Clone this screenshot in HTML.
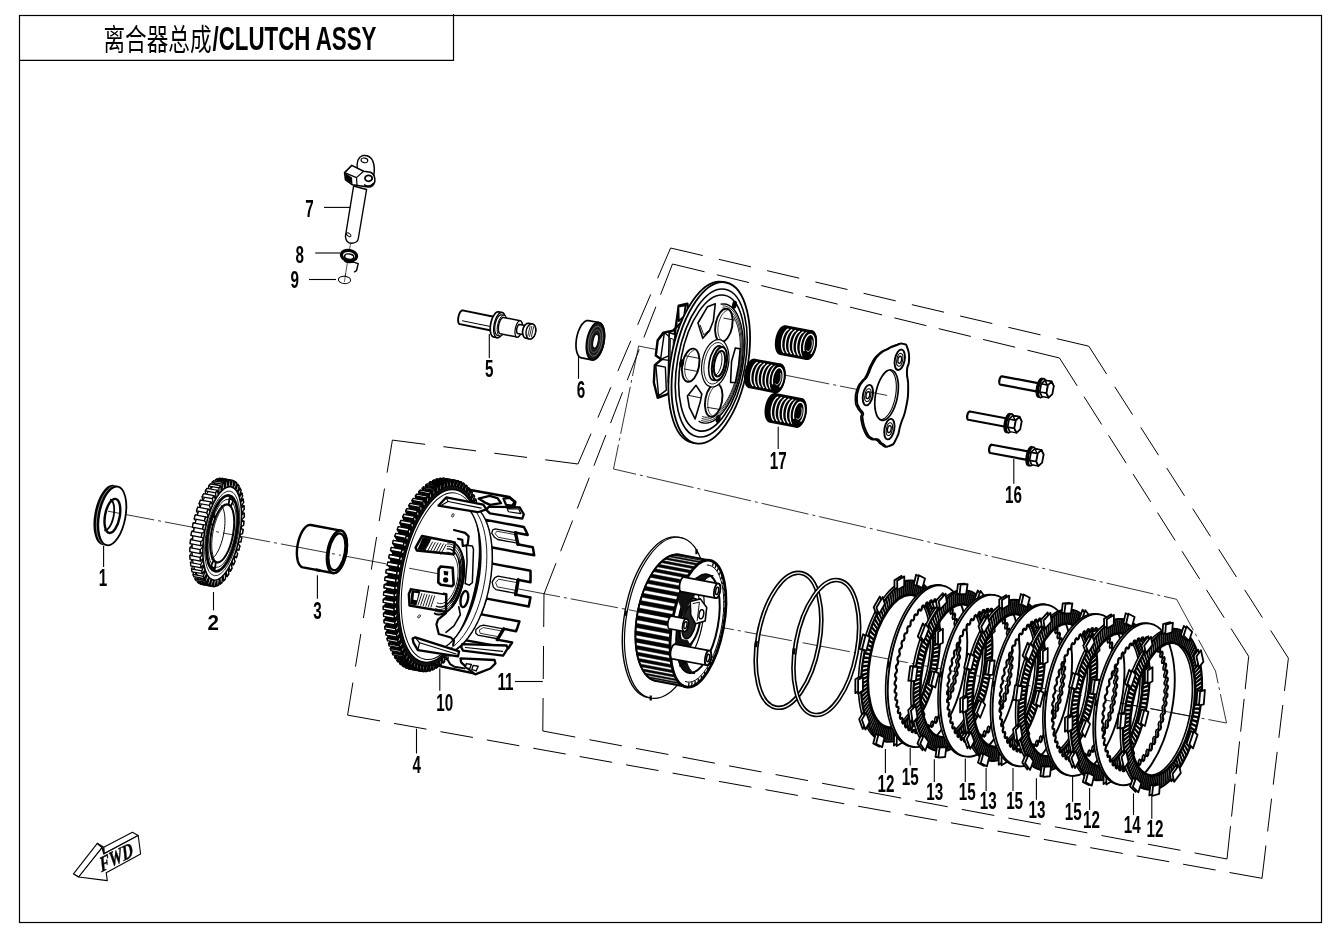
<!DOCTYPE html>
<html lang="zh"><head><meta charset="utf-8"><title>离合器总成/CLUTCH ASSY</title>
<style>
html,body{margin:0;padding:0;background:#fff}
body{width:1340px;height:938px;overflow:hidden}
svg{display:block;filter:grayscale(1);font-family:"Liberation Sans","Noto Sans CJK SC",sans-serif}
</style></head><body>
<svg width="1340" height="938" viewBox="0 0 1340 938">
<rect width="1340" height="938" fill="#fff"/>
<rect x="19.5" y="15.5" width="1302" height="907" fill="none" stroke="#000" stroke-width="1.2"/>
<line x1="19.5" y1="60.3" x2="453.5" y2="60.3" stroke="#000" stroke-width="1.2"/>
<line x1="453.5" y1="14" x2="453.5" y2="60.9" stroke="#000" stroke-width="1.2"/>
<text x="103.5" y="49.5" font-size="30" textLength="108" lengthAdjust="spacingAndGlyphs" font-family="'Liberation Sans','Noto Sans CJK SC',sans-serif" font-weight="400">离合器总成</text>
<text x="212.5" y="50" font-size="33.2" textLength="164" lengthAdjust="spacingAndGlyphs" font-weight="bold">/CLUTCH ASSY</text>
<line x1="392.4" y1="440.1" x2="578" y2="464" stroke="#000" stroke-width="1" stroke-dasharray="33 18.38"/>
<line x1="578" y1="464" x2="670.6" y2="248" stroke="#000" stroke-width="1" stroke-dasharray="33 17.5"/>
<line x1="670.6" y1="248" x2="1088.8" y2="346.2" stroke="#000" stroke-width="1" stroke-dasharray="33 16.57"/>
<line x1="1088.8" y1="346.2" x2="1288.4" y2="658.2" stroke="#000" stroke-width="1" stroke-dasharray="33 15.2"/>
<line x1="1288.4" y1="658.2" x2="1262" y2="878.3" stroke="#000" stroke-width="1" stroke-dasharray="33 14.17"/>
<line x1="1262" y1="878.3" x2="347.6" y2="715.1" stroke="#000" stroke-width="1" stroke-dasharray="33 14.15"/>
<line x1="347.6" y1="715.1" x2="392.4" y2="440.1" stroke="#000" stroke-width="1" stroke-dasharray="33 16.13"/>
<line x1="672.5" y1="264" x2="1059.5" y2="358" stroke="#000" stroke-width="1" stroke-dasharray="33 12.66"/>
<line x1="1059.5" y1="358" x2="1248.7" y2="656.4" stroke="#000" stroke-width="1" stroke-dasharray="33 12.76"/>
<line x1="1248.7" y1="656.4" x2="1227" y2="859" stroke="#000" stroke-width="1" stroke-dasharray="33 9.69"/>
<line x1="1227" y1="859" x2="542.8" y2="731" stroke="#000" stroke-width="1" stroke-dasharray="33 14.36"/>
<line x1="542.8" y1="731" x2="544" y2="594" stroke="#000" stroke-width="1" stroke-dasharray="33 19"/>
<line x1="544" y1="594" x2="672.5" y2="264" stroke="#000" stroke-width="1" stroke-dasharray="33 12.88"/>
<path d="M107 511 L1226.5 723 L1215.5 671 L1176.6 599.3 L613.5 469 L638.6 346 L890 396" fill="none" stroke="#000" stroke-width="0.8" stroke-dasharray="48 4 3 4"/>
<ellipse cx="108.37" cy="515.16" rx="13.11" ry="29.8" transform="rotate(10.6 108.37 515.16)" fill="#000" stroke="#000" stroke-width="1.8"/>
<ellipse cx="110.33" cy="515.53" rx="13.11" ry="29.8" transform="rotate(10.6 110.33 515.53)" fill="#000" stroke="#fff" stroke-width="0.5"/>
<ellipse cx="112.3" cy="515.9" rx="13.11" ry="29.8" transform="rotate(10.6 112.3 515.9)" fill="#fff" stroke="#000" stroke-width="1.8"/>
<ellipse cx="112.4" cy="515.9" rx="7.35" ry="17.3" transform="rotate(10.6 112.4 515.9)" fill="#fff" stroke="#000" stroke-width="2.4"/>
<path d="M110.13 499.41 L110.8 499.69 L111.42 500.13 L112 500.74 L112.52 501.51 L112.98 502.43 L113.37 503.49 L113.69 504.67 L113.94 505.97 L114.1 507.38 L114.19 508.86 L114.2 510.41 L114.12 512.02 L113.97 513.65 L113.74 515.3 L113.43 516.94 L113.05 518.57 L112.6 520.15 L112.09 521.67 L111.53 523.11 L110.91 524.46 L110.24 525.71 L109.55 526.83 L108.82 527.82 L108.07 528.67 L107.31 529.36 L106.55 529.89 L105.79 530.25 L105.04 530.44 L104.32 530.45" fill="none" stroke="#000" stroke-width="1.8"/>
<path d="M340.87 530.57 L341.82 530.87 L342.71 531.39 L343.53 532.14 L344.29 533.11 L344.96 534.28 L345.54 535.64 L346.03 537.18 L346.42 538.88 L346.71 540.72 L346.88 542.68 L346.95 544.74 L346.91 546.88 L346.76 549.08 L346.5 551.3 L346.14 553.53 L345.67 555.74 L345.11 557.9 L344.46 560 L343.72 562.01 L342.91 563.91 L342.04 565.68 L341.1 567.29 L340.13 568.73 L339.11 569.99 L338.08 571.05 L337.03 571.9 L335.98 572.53 L334.93 572.93 L333.91 573.1 L332.93 573.03 L302.95 567.42 L302 567.12 L301.11 566.6 L300.29 565.85 L299.53 564.88 L298.86 563.71 L298.28 562.35 L297.79 560.81 L297.4 559.11 L297.11 557.27 L296.94 555.31 L296.87 553.25 L296.91 551.11 L297.06 548.91 L297.32 546.69 L297.68 544.46 L298.15 542.25 L298.71 540.08 L299.36 537.98 L300.1 535.97 L300.91 534.08 L301.78 532.31 L302.72 530.7 L303.69 529.25 L304.71 528 L305.74 526.94 L306.79 526.09 L307.85 525.46 L308.89 525.06 L309.91 524.89 L310.89 524.96Z" fill="#fff" stroke="#000" stroke-width="2.4" stroke-linejoin="round"/>
<ellipse cx="336.9" cy="551.8" rx="9.4" ry="21.6" transform="rotate(10.6 336.9 551.8)" fill="#fff" stroke="#000" stroke-width="2.4"/>
<ellipse cx="336.9" cy="551.8" rx="8" ry="18.6" transform="rotate(10.6 336.9 551.8)" fill="#fff" stroke="#000" stroke-width="2.3"/>
<line x1="315.5" y1="569.6" x2="320.5" y2="570.6" stroke="#000" stroke-width="3"/>
<path d="M497.47 317.52 L498.05 317.81 L498.53 318.44 L498.88 319.36 L499.09 320.54 L499.15 321.9 L499.06 323.4 L498.82 324.94 L498.44 326.45 L497.94 327.86 L497.35 329.09 L496.7 330.09 L496.01 330.8 L495.33 331.19 L494.68 331.24 L459.8 324.14 L459.22 323.84 L458.74 323.22 L458.39 322.29 L458.18 321.12 L458.11 319.75 L458.21 318.26 L458.45 316.72 L458.83 315.21 L459.33 313.8 L459.92 312.57 L460.57 311.57 L461.26 310.86 L461.94 310.47 L462.59 310.42Z" fill="#fff" stroke="#000" stroke-width="1.9" stroke-linejoin="round"/>
<path d="M497.47 317.52 L498.05 317.81 L498.53 318.44 L498.88 319.36 L499.09 320.54 L499.15 321.9 L499.06 323.4 L498.82 324.94 L498.44 326.45 L497.94 327.86 L497.35 329.09 L496.7 330.09 L496.01 330.8 L495.33 331.19 L494.68 331.24 L494.11 330.94 L493.63 330.32 L493.28 329.39 L493.06 328.22 L493 326.85 L493.09 325.36 L493.33 323.82 L493.71 322.31 L494.21 320.9 L494.8 319.66 L495.46 318.67 L496.14 317.95 L496.83 317.57 L497.47 317.52Z" fill="#fff" stroke="#000" stroke-width="1.52" stroke-linejoin="round"/>
<line x1="462.12" y1="320.73" x2="493.48" y2="327.11" stroke="#000" stroke-width="1"/>
<path d="M502.06 312.53 L503.17 313.08 L504.09 314.24 L504.79 315.94 L505.22 318.09 L505.36 320.6 L505.21 323.33 L504.78 326.15 L504.08 328.91 L503.15 331.48 L502.03 333.73 L500.8 335.55 L499.49 336.84 L498.19 337.54 L496.96 337.62 L493.53 336.92 L492.42 336.37 L491.49 335.21 L490.8 333.52 L490.37 331.36 L490.22 328.85 L490.37 326.12 L490.81 323.31 L491.51 320.54 L492.44 317.97 L493.55 315.72 L494.79 313.9 L496.09 312.61 L497.39 311.91 L498.63 311.83Z" fill="#fff" stroke="#000" stroke-width="1.7" stroke-linejoin="round"/>
<path d="M502.06 312.53 L503.17 313.08 L504.09 314.24 L504.79 315.94 L505.22 318.09 L505.36 320.6 L505.21 323.33 L504.78 326.15 L504.08 328.91 L503.15 331.48 L502.03 333.73 L500.8 335.55 L499.49 336.84 L498.19 337.54 L496.96 337.62 L495.85 337.07 L494.92 335.91 L494.23 334.21 L493.8 332.06 L493.65 329.55 L493.8 326.82 L494.24 324 L494.94 321.24 L495.87 318.67 L496.98 316.42 L498.22 314.6 L499.52 313.31 L500.82 312.61 L502.06 312.53Z" fill="#fff" stroke="#000" stroke-width="1.36" stroke-linejoin="round"/>
<path d="M504.05 315.28 L504.96 315.74 L505.72 316.68 L506.29 318.08 L506.64 319.85 L506.76 321.9 L506.64 324.14 L506.28 326.45 L505.7 328.72 L504.94 330.83 L504.03 332.68 L503.01 334.17 L501.95 335.23 L500.88 335.8 L499.86 335.86 L497.41 335.36 L496.5 334.91 L495.75 333.96 L495.18 332.57 L494.82 330.8 L494.71 328.75 L494.83 326.51 L495.19 324.2 L495.76 321.93 L496.52 319.82 L497.43 317.97 L498.45 316.48 L499.52 315.42 L500.59 314.85 L501.6 314.79Z" fill="#fff" stroke="#000" stroke-width="1.2" stroke-linejoin="round"/>
<path d="M504.05 315.28 L504.96 315.74 L505.72 316.68 L506.29 318.08 L506.64 319.85 L506.76 321.9 L506.64 324.14 L506.28 326.45 L505.7 328.72 L504.94 330.83 L504.03 332.68 L503.01 334.17 L501.95 335.23 L500.88 335.8 L499.86 335.86 L498.95 335.41 L498.2 334.46 L497.63 333.07 L497.27 331.3 L497.16 329.25 L497.28 327.01 L497.64 324.69 L498.21 322.43 L498.97 320.32 L499.88 318.47 L500.9 316.98 L501.97 315.92 L503.04 315.35 L504.05 315.28Z" fill="#fff" stroke="#000" stroke-width="0.96" stroke-linejoin="round"/>
<path d="M520.27 320.83 L520.95 321.18 L521.52 321.92 L521.94 323.02 L522.19 324.41 L522.26 326.03 L522.16 327.8 L521.87 329.62 L521.42 331.42 L520.83 333.09 L520.13 334.55 L519.35 335.73 L518.54 336.58 L517.73 337.04 L516.96 337.1 L500.3 333.71 L499.62 333.36 L499.05 332.61 L498.63 331.52 L498.38 330.13 L498.31 328.51 L498.42 326.74 L498.7 324.91 L499.15 323.12 L499.74 321.45 L500.44 319.98 L501.22 318.8 L502.04 317.96 L502.85 317.5 L503.61 317.44Z" fill="#fff" stroke="#000" stroke-width="1.5" stroke-linejoin="round"/>
<path d="M520.27 320.83 L520.95 321.18 L521.52 321.92 L521.94 323.02 L522.19 324.41 L522.26 326.03 L522.16 327.8 L521.87 329.62 L521.42 331.42 L520.83 333.09 L520.13 334.55 L519.35 335.73 L518.54 336.58 L517.73 337.04 L516.96 337.1 L516.28 336.74 L515.71 336 L515.29 334.91 L515.04 333.52 L514.97 331.9 L515.08 330.13 L515.36 328.3 L515.81 326.51 L516.4 324.84 L517.1 323.37 L517.88 322.19 L518.69 321.35 L519.5 320.89 L520.27 320.83Z" fill="#fff" stroke="#000" stroke-width="1.2" stroke-linejoin="round"/>
<path d="M526.39 325.85 L526.77 326.05 L527.08 326.46 L527.32 327.06 L527.46 327.83 L527.5 328.73 L527.44 329.71 L527.28 330.73 L527.03 331.72 L526.7 332.64 L526.31 333.46 L525.88 334.11 L525.43 334.58 L524.98 334.83 L524.56 334.87 L517.7 333.47 L517.32 333.28 L517.01 332.86 L516.77 332.26 L516.63 331.49 L516.59 330.59 L516.65 329.61 L516.81 328.6 L517.06 327.6 L517.39 326.68 L517.78 325.87 L518.21 325.21 L518.66 324.74 L519.11 324.49 L519.53 324.46Z" fill="#fff" stroke="#000" stroke-width="1.5" stroke-linejoin="round"/>
<path d="M526.39 325.85 L526.77 326.05 L527.08 326.46 L527.32 327.06 L527.46 327.83 L527.5 328.73 L527.44 329.71 L527.28 330.73 L527.03 331.72 L526.7 332.64 L526.31 333.46 L525.88 334.11 L525.43 334.58 L524.98 334.83 L524.56 334.87 L524.18 334.67 L523.87 334.26 L523.63 333.65 L523.49 332.88 L523.45 331.98 L523.51 331 L523.67 329.99 L523.92 329 L524.25 328.07 L524.64 327.26 L525.07 326.61 L525.52 326.14 L525.97 325.88 L526.39 325.85Z" fill="#fff" stroke="#000" stroke-width="1.2" stroke-linejoin="round"/>
<path d="M532.38 324.01 L533.37 324.4 L534.23 325.15 L534.93 326.22 L535.42 327.55 L535.68 329.07 L535.7 330.71 L535.48 332.39 L535.03 334.03 L534.37 335.53 L533.53 336.83 L532.56 337.86 L531.5 338.57 L530.41 338.92 L529.35 338.9 L525.92 338.2 L524.93 337.81 L524.07 337.06 L523.37 335.99 L522.88 334.67 L522.62 333.14 L522.6 331.5 L522.82 329.82 L523.27 328.18 L523.93 326.68 L524.77 325.38 L525.74 324.35 L526.8 323.64 L527.88 323.29 L528.95 323.31Z" fill="#fff" stroke="#000" stroke-width="1.7" stroke-linejoin="round"/>
<path d="M532.38 324.01 L533.37 324.4 L534.23 325.15 L534.93 326.22 L535.42 327.55 L535.68 329.07 L535.7 330.71 L535.48 332.39 L535.03 334.03 L534.37 335.53 L533.53 336.83 L532.56 337.86 L531.5 338.57 L530.41 338.92 L529.35 338.9 L528.36 338.51 L527.5 337.76 L526.8 336.69 L526.31 335.36 L526.05 333.84 L526.03 332.2 L526.25 330.52 L526.7 328.88 L527.36 327.38 L528.2 326.08 L529.17 325.05 L530.23 324.34 L531.31 323.99 L532.38 324.01Z" fill="#fff" stroke="#000" stroke-width="1.36" stroke-linejoin="round"/>
<line x1="530.2" y1="325.71" x2="527.71" y2="336.43" stroke="#000" stroke-width="0.8"/>
<line x1="531.96" y1="326.07" x2="529.47" y2="336.78" stroke="#000" stroke-width="0.8"/>
<line x1="533.73" y1="326.42" x2="531.24" y2="337.14" stroke="#000" stroke-width="0.8"/>
<path d="M598.9 322.52 L599.75 322.79 L600.57 323.26 L601.32 323.92 L602.01 324.78 L602.63 325.81 L603.17 327.02 L603.62 328.37 L603.98 329.87 L604.25 331.5 L604.43 333.22 L604.5 335.04 L604.47 336.92 L604.35 338.86 L604.12 340.81 L603.8 342.77 L603.39 344.72 L602.89 346.62 L602.31 348.47 L601.66 350.23 L600.93 351.9 L600.14 353.45 L599.31 354.87 L598.43 356.13 L597.51 357.23 L596.58 358.16 L595.63 358.9 L594.67 359.45 L593.73 359.79 L592.8 359.94 L591.9 359.88 L581.58 357.94 L580.72 357.68 L579.91 357.21 L579.16 356.54 L578.47 355.69 L577.85 354.66 L577.31 353.45 L576.86 352.09 L576.5 350.6 L576.23 348.97 L576.05 347.24 L575.98 345.43 L576.01 343.54 L576.13 341.61 L576.36 339.66 L576.68 337.7 L577.09 335.75 L577.59 333.85 L578.17 332 L578.82 330.24 L579.55 328.57 L580.33 327.02 L581.17 325.6 L582.05 324.34 L582.97 323.24 L583.9 322.31 L584.85 321.57 L585.81 321.02 L586.75 320.67 L587.68 320.53 L588.57 320.59Z" fill="#fff" stroke="#000" stroke-width="1.7" stroke-linejoin="round"/>
<ellipse cx="595.4" cy="341.2" rx="8.55" ry="19" transform="rotate(10.6 595.4 341.2)" fill="#1a1a1a" stroke="#000" stroke-width="1.7"/>
<ellipse cx="595.4" cy="341.2" rx="6.84" ry="15.2" transform="rotate(10.6 595.4 341.2)" fill="none" stroke="#888" stroke-width="0.7"/>
<ellipse cx="595.4" cy="341.2" rx="5.06" ry="11.5" transform="rotate(10.6 595.4 341.2)" fill="none" stroke="#777" stroke-width="0.6"/>
<ellipse cx="595.6" cy="341.2" rx="2.52" ry="7" transform="rotate(10.6 595.6 341.2)" fill="#fff" stroke="#000" stroke-width="1"/>
<path d="M353.6 186 L345.4 236.5 Q346 243.5 352 243.2 Q357.5 243 358.3 238.5 L366.6 189.5 Z" fill="#fff" stroke="#000" stroke-width="1.4" stroke-linejoin="round"/>
<ellipse cx="348.7" cy="234.8" rx="2.6" ry="1.4" transform="rotate(35 348.7 234.8)" fill="#fff" stroke="#000" stroke-width="1"/>
<path d="M357.2 170 Q356.2 157.5 362.5 155.6 Q369.5 154.6 372.6 160.5 Q375.4 167 373.6 176 L366 176 Z" fill="#fff" stroke="#000" stroke-width="1.5" stroke-linejoin="round"/>
<ellipse cx="364.4" cy="160.4" rx="3.4" ry="2.3" transform="rotate(12 364.4 160.4)" fill="#fff" stroke="#000" stroke-width="1.1"/>
<path d="M344.6 172.6 L351.8 165.4 L363.6 171.2 L370.5 172.2 Q375.5 174.5 374.8 181.5 Q373.5 187.2 368 187 L352.5 184.8 L345.5 179.8 Z" fill="#fff" stroke="#000" stroke-width="1.6" stroke-linejoin="round"/>
<path d="M344.6 172.6 L356.5 177.6 L363.6 171.2 M356.5 177.6 L357 185.4 M345.5 179.8 L346.5 174" fill="none" stroke="#000" stroke-width="1.2" stroke-linejoin="round"/>
<path d="M345.2 173 L346 179.6 L352.5 184.4 L352 177.4Z" fill="#000"/>
<ellipse cx="368.6" cy="178.3" rx="3.6" ry="3" fill="#fff" stroke="#000" stroke-width="1.8"/>
<path d="M364 184.6 Q369 188 374 183" fill="none" stroke="#000" stroke-width="1.6"/>
<line x1="350.5" y1="243.8" x2="344.8" y2="278.5" stroke="#000" stroke-width="0.7"/>
<ellipse cx="349.0" cy="255.6" rx="7.6" ry="5.2" transform="rotate(10 349 255.6)" fill="#fff" stroke="#000" stroke-width="3.2"/>
<ellipse cx="349.2" cy="256.6" rx="4.6" ry="2.6" transform="rotate(10 349.2 256.6)" fill="#fff" stroke="#000" stroke-width="1.4"/>
<path d="M344.5 261 Q349 263.5 354 261.8" fill="none" stroke="#000" stroke-width="1.5"/>
<path d="M352 261.6 L358.2 263.6 L356.5 270.6 L354.6 271.8" fill="none" stroke="#000" stroke-width="1.5" stroke-linejoin="round" stroke-linecap="round"/>
<ellipse cx="344.5" cy="279.9" rx="6.1" ry="3.7" transform="rotate(5 344.5 279.9)" fill="#fff" stroke="#000" stroke-width="1"/>
<line x1="345.6" y1="273.5" x2="344.4" y2="282" stroke="#000" stroke-width="0.6"/>
<path d="M73.5 873.9 L97.3 843.3 L102.1 847.6 L78.7 877Z" fill="#fff" stroke="#000" stroke-width="1.1" stroke-linejoin="round"/>
<path d="M103.7 847.2 L132.4 832.2 L138.2 835.5 L104.2 853.4Z" fill="#fff" stroke="#000" stroke-width="1.1" stroke-linejoin="round"/>
<path d="M97.3 843.3 L102.1 847.6 L103.7 854 L103.7 847.2Z" fill="#fff" stroke="#000" stroke-width="1.1" stroke-linejoin="round"/>
<path d="M78.7 877 L102.1 847.6 L103.7 854 L138.2 835.5 L140.6 853.9 L106.2 872.7 L107.3 880.6Z" fill="#fff" stroke="#000" stroke-width="1.1" stroke-linejoin="round"/>
<path d="M73.5 873.9 L78.7 877" fill="#fff" stroke="#000" stroke-width="1.1" stroke-linejoin="round"/>
<text transform="translate(101.6 872.2) rotate(-27) skewX(-14)" font-family="'Liberation Serif',serif" font-size="20.5" font-weight="bold" font-style="italic" stroke="#000" stroke-width="0.45" textLength="36.5" lengthAdjust="spacingAndGlyphs">FWD</text>
<ellipse cx="788.5" cy="640.3" rx="30.78" ry="68.4" transform="rotate(10.6 788.5 640.3)" fill="none" stroke="#000" stroke-width="4.6"/>
<ellipse cx="788.5" cy="640.3" rx="30.78" ry="68.4" transform="rotate(10.6 788.5 640.3)" fill="none" stroke="#fff" stroke-width="1.3"/>
<rect x="754.53" y="641.04" width="3" height="6" fill="#000" transform="rotate(8 756.03 644.04)"/>
<ellipse cx="826.3" cy="647.5" rx="30.78" ry="68.4" transform="rotate(10.6 826.3 647.5)" fill="none" stroke="#000" stroke-width="4.6"/>
<ellipse cx="826.3" cy="647.5" rx="30.78" ry="68.4" transform="rotate(10.6 826.3 647.5)" fill="none" stroke="#fff" stroke-width="1.3"/>
<rect x="792.33" y="648.24" width="3" height="6" fill="#000" transform="rotate(8 793.83 651.24)"/>
<path d="M229.61 534.5 L231.39 535.84 L230.53 539.99 L228.46 540.02 L228 541.94 L229.55 544.08 L228.47 548.1 L226.56 547.29 L226.01 549.12 L227.28 552.01 L226 555.8 L224.3 554.16 L223.66 555.87 L224.63 559.44 L223.19 562.9 L221.73 560.48 L221.03 562.01 L221.67 566.17 L220.1 569.23 L218.93 566.08 L218.16 567.4 L218.47 572.05 L216.8 574.63 L215.94 570.83 L215.15 571.91 L215.1 576.94 L213.38 578.96 L212.86 574.61 L212.05 575.43 L211.66 580.7 L209.93 582.13 L209.75 577.33 L208.95 577.86 L208.22 583.25 L206.53 584.05 L206.7 578.92 L205.92 579.14 L204.87 584.53 L203.25 584.67 L203.77 579.34 L203.04 579.26 L201.69 584.49 L200.19 583.99 L201.04 578.58 L200.38 578.19 L198.76 583.16 L197.42 582.01 L198.58 576.66 L198 575.98 L196.16 580.55 L195 578.79 L196.45 573.63 L195.96 572.67 L193.94 576.73 L193 574.4 L194.7 569.56 L194.31 568.35 L192.17 571.8 L191.46 568.95 L193.37 564.56 L193.1 563.12 L190.88 565.87 L190.43 562.58 L192.49 558.73 L192.34 557.1 L190.11 559.1 L189.92 555.45 L192.1 552.24 L192.07 550.46 L189.87 551.65 L189.96 547.72 L192.19 545.24 L192.29 543.35 L190.18 543.7 L190.53 539.6 L192.76 537.89 L192.99 535.95 L191.02 535.45 L191.63 531.27 L193.81 530.39 L194.15 528.44 L192.37 527.1 L193.23 522.95 L195.3 522.91 L195.75 521 L194.21 518.86 L195.29 514.84 L197.2 515.65 L197.75 513.82 L196.48 510.93 L197.76 507.14 L199.46 508.77 L200.1 507.07 L199.12 503.5 L200.57 500.04 L202.02 502.46 L202.73 500.93 L202.09 496.77 L203.66 493.71 L204.83 496.85 L205.59 495.53 L205.29 490.88 L206.96 488.31 L207.82 492.1 L208.61 491.02 L208.66 486 L210.37 483.97 L210.9 488.32 L211.71 487.51 L212.1 482.24 L213.83 480.81 L214 485.61 L214.81 485.08 L215.54 479.69 L217.23 478.89 L217.06 484.02 L217.84 483.79 L218.89 478.41 L220.51 478.26 L219.99 483.6 L220.72 483.68 L222.07 478.44 L223.57 478.95 L222.71 484.35 L223.38 484.74 L224.99 479.78 L226.34 480.93 L225.17 486.27 L225.76 486.96 L227.6 482.39 L228.76 484.15 L227.31 489.3 L227.8 490.27 L229.81 486.21 L230.76 488.54 L229.06 493.37 L229.45 494.59 L231.59 491.14 L232.3 493.99 L230.39 498.38 L230.66 499.82 L232.88 497.06 L233.33 500.35 L231.27 504.2 L231.41 505.83 L233.65 503.84 L233.84 507.49 L231.66 510.7 L231.69 512.47 L233.89 511.29 L233.8 515.21 L231.57 517.7 L231.47 519.59 L233.58 519.24 L233.23 523.34 L231 525.05 L230.77 526.99 L232.74 527.49 L232.13 531.66 L229.95 532.55Z" fill="#fff" stroke="#000" stroke-width="1.25" stroke-linejoin="round"/>
<path d="M213.26 581.17 L211.46 580.56 L209.78 579.44 L208.24 577.81 L206.84 575.7 L205.62 573.12 L204.58 570.1 L203.73 566.69 L203.08 562.91 L202.65 558.8 L202.42 554.42 L202.42 549.81 L202.63 545.02 L203.05 540.1 L203.69 535.1 L204.52 530.09 L205.56 525.12 L206.77 520.23 L208.15 515.49 L209.69 510.95 L211.36 506.65 L213.16 502.65 L215.05 498.98 L217.02 495.69 L219.04 492.81 L221.1 490.38 L223.18 488.41 L225.24 486.95 L227.27 485.99 L229.24 485.55 L231.14 485.63 L220.82 483.7 L218.92 483.61 L216.95 484.05 L214.92 485.01 L212.86 486.48 L210.78 488.44 L208.72 490.88 L206.7 493.75 L204.73 497.05 L202.83 500.71 L201.04 504.72 L199.37 509.02 L197.83 513.56 L196.45 518.3 L195.24 523.19 L194.2 528.16 L193.37 533.17 L192.73 538.17 L192.31 543.08 L192.1 547.88 L192.1 552.49 L192.32 556.87 L192.76 560.98 L193.41 564.76 L194.26 568.17 L195.3 571.19 L196.52 573.76 L197.91 575.88 L199.46 577.51 L201.14 578.63 L202.94 579.24Z" fill="#fff" stroke="#000" stroke-width="1.25"/>
<path d="M241.71 537.77 L240.85 541.92 L230.53 539.99 L231.39 535.84Z" fill="#fff" stroke="#000" stroke-width="1.25" stroke-linejoin="round"/>
<path d="M243.06 529.42 L242.45 533.6 L232.13 531.66 L232.74 527.49Z" fill="#fff" stroke="#000" stroke-width="1.25" stroke-linejoin="round"/>
<path d="M239.87 546.01 L238.79 550.03 L228.47 548.1 L229.55 544.08Z" fill="#fff" stroke="#000" stroke-width="1.25" stroke-linejoin="round"/>
<path d="M243.9 521.17 L243.55 525.27 L233.23 523.34 L233.58 519.24Z" fill="#fff" stroke="#000" stroke-width="1.25" stroke-linejoin="round"/>
<path d="M237.6 553.94 L236.32 557.73 L226 555.8 L227.28 552.01Z" fill="#fff" stroke="#000" stroke-width="1.25" stroke-linejoin="round"/>
<path d="M244.21 513.22 L244.12 517.15 L233.8 515.21 L233.89 511.29Z" fill="#fff" stroke="#000" stroke-width="1.25" stroke-linejoin="round"/>
<path d="M234.96 561.37 L233.51 564.83 L223.19 562.9 L224.63 559.44Z" fill="#fff" stroke="#000" stroke-width="1.25" stroke-linejoin="round"/>
<path d="M243.97 505.77 L244.16 509.42 L233.84 507.49 L233.65 503.84Z" fill="#fff" stroke="#000" stroke-width="1.25" stroke-linejoin="round"/>
<path d="M231.99 568.1 L230.42 571.16 L220.1 569.23 L221.67 566.17Z" fill="#fff" stroke="#000" stroke-width="1.25" stroke-linejoin="round"/>
<path d="M243.2 498.99 L243.65 502.29 L233.33 500.35 L232.88 497.06Z" fill="#fff" stroke="#000" stroke-width="1.25" stroke-linejoin="round"/>
<path d="M228.79 573.98 L227.12 576.56 L216.8 574.63 L218.47 572.05Z" fill="#fff" stroke="#000" stroke-width="1.25" stroke-linejoin="round"/>
<path d="M241.91 493.07 L242.62 495.92 L232.3 493.99 L231.59 491.14Z" fill="#fff" stroke="#000" stroke-width="1.25" stroke-linejoin="round"/>
<path d="M225.42 578.87 L223.7 580.9 L213.38 578.96 L215.1 576.94Z" fill="#fff" stroke="#000" stroke-width="1.25" stroke-linejoin="round"/>
<path d="M240.14 488.14 L241.08 490.47 L230.76 488.54 L229.81 486.21Z" fill="#fff" stroke="#000" stroke-width="1.25" stroke-linejoin="round"/>
<path d="M221.98 582.63 L220.25 584.06 L209.93 582.13 L211.66 580.7Z" fill="#fff" stroke="#000" stroke-width="1.25" stroke-linejoin="round"/>
<path d="M237.92 484.32 L239.08 486.08 L228.76 484.15 L227.6 482.39Z" fill="#fff" stroke="#000" stroke-width="1.25" stroke-linejoin="round"/>
<path d="M218.54 585.18 L216.85 585.98 L206.53 584.05 L208.22 583.25Z" fill="#fff" stroke="#000" stroke-width="1.25" stroke-linejoin="round"/>
<path d="M235.32 481.71 L236.66 482.86 L226.34 480.93 L224.99 479.78Z" fill="#fff" stroke="#000" stroke-width="1.25" stroke-linejoin="round"/>
<path d="M215.19 586.46 L213.57 586.61 L203.25 584.67 L204.87 584.53Z" fill="#fff" stroke="#000" stroke-width="1.25" stroke-linejoin="round"/>
<path d="M232.39 480.37 L233.89 480.88 L223.57 478.95 L222.07 478.44Z" fill="#fff" stroke="#000" stroke-width="1.25" stroke-linejoin="round"/>
<path d="M212.01 586.43 L210.51 585.92 L200.19 583.99 L201.69 584.49Z" fill="#fff" stroke="#000" stroke-width="1.25" stroke-linejoin="round"/>
<path d="M229.21 480.34 L230.83 480.19 L220.51 478.26 L218.89 478.41Z" fill="#fff" stroke="#000" stroke-width="1.25" stroke-linejoin="round"/>
<path d="M209.08 585.09 L207.74 583.94 L197.42 582.01 L198.76 583.16Z" fill="#fff" stroke="#000" stroke-width="1.25" stroke-linejoin="round"/>
<path d="M225.86 481.62 L227.55 480.82 L217.23 478.89 L215.54 479.69Z" fill="#fff" stroke="#000" stroke-width="1.25" stroke-linejoin="round"/>
<path d="M206.48 582.48 L205.32 580.72 L195 578.79 L196.16 580.55Z" fill="#fff" stroke="#000" stroke-width="1.25" stroke-linejoin="round"/>
<path d="M222.42 484.17 L224.15 482.74 L213.83 480.81 L212.1 482.24Z" fill="#fff" stroke="#000" stroke-width="1.25" stroke-linejoin="round"/>
<path d="M204.26 578.66 L203.32 576.33 L193 574.4 L193.94 576.73Z" fill="#fff" stroke="#000" stroke-width="1.25" stroke-linejoin="round"/>
<path d="M218.98 487.93 L220.7 485.9 L210.37 483.97 L208.66 486Z" fill="#fff" stroke="#000" stroke-width="1.25" stroke-linejoin="round"/>
<path d="M202.49 573.73 L201.78 570.88 L191.46 568.95 L192.17 571.8Z" fill="#fff" stroke="#000" stroke-width="1.25" stroke-linejoin="round"/>
<path d="M215.61 492.82 L217.28 490.24 L206.96 488.31 L205.29 490.88Z" fill="#fff" stroke="#000" stroke-width="1.25" stroke-linejoin="round"/>
<path d="M201.2 567.81 L200.75 564.51 L190.43 562.58 L190.88 565.87Z" fill="#fff" stroke="#000" stroke-width="1.25" stroke-linejoin="round"/>
<path d="M212.41 498.7 L213.98 495.64 L203.66 493.71 L202.09 496.77Z" fill="#fff" stroke="#000" stroke-width="1.25" stroke-linejoin="round"/>
<path d="M200.43 561.03 L200.24 557.38 L189.92 555.45 L190.11 559.1Z" fill="#fff" stroke="#000" stroke-width="1.25" stroke-linejoin="round"/>
<path d="M209.44 505.43 L210.89 501.97 L200.57 500.04 L199.12 503.5Z" fill="#fff" stroke="#000" stroke-width="1.25" stroke-linejoin="round"/>
<path d="M200.19 553.58 L200.28 549.65 L189.96 547.72 L189.87 551.65Z" fill="#fff" stroke="#000" stroke-width="1.25" stroke-linejoin="round"/>
<path d="M206.8 512.86 L208.08 509.07 L197.76 507.14 L196.48 510.93Z" fill="#fff" stroke="#000" stroke-width="1.25" stroke-linejoin="round"/>
<path d="M200.5 545.63 L200.85 541.53 L190.53 539.6 L190.18 543.7Z" fill="#fff" stroke="#000" stroke-width="1.25" stroke-linejoin="round"/>
<path d="M204.53 520.79 L205.61 516.77 L195.29 514.84 L194.21 518.86Z" fill="#fff" stroke="#000" stroke-width="1.25" stroke-linejoin="round"/>
<path d="M201.34 537.38 L201.95 533.2 L191.63 531.27 L191.02 535.45Z" fill="#fff" stroke="#000" stroke-width="1.25" stroke-linejoin="round"/>
<path d="M202.69 529.03 L203.55 524.88 L193.23 522.95 L192.37 527.1Z" fill="#fff" stroke="#000" stroke-width="1.25" stroke-linejoin="round"/>
<path d="M239.93 536.43 L241.71 537.77 L240.85 541.92 L238.78 541.95 L238.33 543.87 L239.87 546.01 L238.79 550.03 L236.88 549.22 L236.33 551.05 L237.6 553.94 L236.32 557.73 L234.62 556.1 L233.98 557.8 L234.96 561.37 L233.51 564.83 L232.06 562.41 L231.35 563.94 L231.99 568.1 L230.42 571.16 L229.25 568.01 L228.48 569.34 L228.79 573.98 L227.12 576.56 L226.26 572.76 L225.47 573.84 L225.42 578.87 L223.7 580.9 L223.18 576.54 L222.37 577.36 L221.98 582.63 L220.25 584.06 L220.07 579.26 L219.27 579.79 L218.54 585.18 L216.85 585.98 L217.02 580.85 L216.24 581.07 L215.19 586.46 L213.57 586.61 L214.09 581.27 L213.36 581.19 L212.01 586.43 L210.51 585.92 L211.37 580.51 L210.7 580.13 L209.08 585.09 L207.74 583.94 L208.91 578.6 L208.32 577.91 L206.48 582.48 L205.32 580.72 L206.77 575.57 L206.28 574.6 L204.26 578.66 L203.32 576.33 L205.02 571.5 L204.63 570.28 L202.49 573.73 L201.78 570.88 L203.69 566.49 L203.42 565.05 L201.2 567.81 L200.75 564.51 L202.81 560.67 L202.66 559.04 L200.43 561.03 L200.24 557.38 L202.42 554.17 L202.39 552.39 L200.19 553.58 L200.28 549.65 L202.51 547.17 L202.61 545.28 L200.5 545.63 L200.85 541.53 L203.08 539.82 L203.31 537.88 L201.34 537.38 L201.95 533.2 L204.13 532.32 L204.47 530.37 L202.69 529.03 L203.55 524.88 L205.62 524.85 L206.07 522.93 L204.53 520.79 L205.61 516.77 L207.52 517.58 L208.07 515.75 L206.8 512.86 L208.08 509.07 L209.78 510.7 L210.42 509 L209.44 505.43 L210.89 501.97 L212.34 504.39 L213.05 502.86 L212.41 498.7 L213.98 495.64 L215.15 498.79 L215.92 497.46 L215.61 492.82 L217.28 490.24 L218.14 494.04 L218.93 492.96 L218.98 487.93 L220.7 485.9 L221.22 490.26 L222.03 489.44 L222.42 484.17 L224.15 482.74 L224.33 487.54 L225.13 487.01 L225.86 481.62 L227.55 480.82 L227.38 485.95 L228.16 485.73 L229.21 480.34 L230.83 480.19 L230.31 485.53 L231.04 485.61 L232.39 480.37 L233.89 480.88 L233.03 486.29 L233.7 486.67 L235.32 481.71 L236.66 482.86 L235.49 488.2 L236.08 488.89 L237.92 484.32 L239.08 486.08 L237.63 491.23 L238.12 492.2 L240.14 488.14 L241.08 490.47 L239.38 495.3 L239.77 496.52 L241.91 493.07 L242.62 495.92 L240.71 500.31 L240.98 501.75 L243.2 498.99 L243.65 502.29 L241.59 506.13 L241.74 507.76 L243.97 505.77 L244.16 509.42 L241.98 512.63 L242.01 514.41 L244.21 513.22 L244.12 517.15 L241.89 519.63 L241.79 521.52 L243.9 521.17 L243.55 525.27 L241.32 526.98 L241.09 528.92 L243.06 529.42 L242.45 533.6 L240.27 534.48Z" fill="#fff" stroke="#000" stroke-width="1.38" stroke-linejoin="round"/>
<ellipse cx="222.2" cy="533.4" rx="17.57" ry="47.5" transform="rotate(10.6 222.2 533.4)" fill="none" stroke="#000" stroke-width="1.6"/>
<ellipse cx="222.2" cy="533.4" rx="15.91" ry="43" transform="rotate(10.6 222.2 533.4)" fill="none" stroke="#000" stroke-width="0.8"/>
<ellipse cx="222.2" cy="533.4" rx="14.24" ry="38.5" transform="rotate(10.6 222.2 533.4)" fill="#fff" stroke="#000" stroke-width="2.8"/>
<ellipse cx="222.2" cy="533.4" rx="12.77" ry="34.5" transform="rotate(10.6 222.2 533.4)" fill="none" stroke="#000" stroke-width="0.8"/>
<ellipse cx="222.2" cy="533.4" rx="10.91" ry="29.5" transform="rotate(10.6 222.2 533.4)" fill="#fff" stroke="#000" stroke-width="2"/>
<path d="M221.1 505.19 L221.96 506.29 L222.73 507.66 L223.4 509.31 L223.95 511.19 L224.39 513.31 L224.71 515.62 L224.9 518.11 L224.97 520.75 L224.91 523.52 L224.72 526.37 L224.41 529.28 L223.98 532.22 L223.43 535.15 L222.77 538.04 L222.01 540.87 L221.15 543.59 L220.21 546.19 L219.19 548.63 L218.11 550.88 L216.98 552.92 L215.8 554.74 L214.6 556.3 L213.39 557.59 L212.17 558.59 L210.97 559.31" fill="none" stroke="#000" stroke-width="1"/>
<path d="M217.43 562.41 L216.39 561.77 L215.42 560.81 L214.56 559.55 L213.79 558 L213.14 556.18 L212.6 554.11 L212.2 551.8 L211.92 549.3 L211.77 546.62 L211.76 543.79 L211.89 540.85 L212.14 537.83 L212.53 534.76 L213.04 531.69 L213.68 528.63 L214.43 525.63 L215.28 522.72 L216.23 519.94 L217.26 517.31 L218.36 514.86 L219.53 512.62 L220.74 510.62 L221.99 508.88 L223.26 507.42 L224.53 506.25 L225.8 505.39 L227.04 504.85 L228.24 504.63" fill="none" stroke="#000" stroke-width="0.9"/>
<path d="M229.6 497.7 L233.23 500.8 L230.97 506.18 L228.65 504.2Z" fill="#fff" stroke="#000" stroke-width="1.8" stroke-linejoin="round"/>
<path d="M214.8 569.1 L211.17 566 L213.43 560.62 L215.75 562.6Z" fill="#fff" stroke="#000" stroke-width="1.8" stroke-linejoin="round"/>
<path d="M210.45 524.12 L213.84 513.83 L214.98 518.19 L212.81 524.78Z" fill="#fff" stroke="#000" stroke-width="1.8" stroke-linejoin="round"/>
<path d="M466.23 581.06 L468.81 582.47 L468.19 585.61 L465.32 585.66 L464.81 588.02 L467.25 589.92 L466.53 593.02 L463.74 592.56 L463.16 594.89 L465.46 597.27 L464.63 600.32 L461.95 599.35 L461.29 601.63 L463.43 604.47 L462.51 607.45 L459.94 605.98 L459.21 608.2 L461.18 611.49 L460.17 614.37 L457.74 612.42 L456.95 614.55 L458.72 618.27 L457.64 621.04 L455.35 618.61 L454.5 620.66 L456.08 624.79 L454.92 627.43 L452.8 624.53 L451.89 626.48 L453.27 630.98 L452.04 633.48 L450.09 630.14 L449.14 631.97 L450.29 636.83 L449 639.17 L447.25 635.4 L446.25 637.11 L447.18 642.28 L445.84 644.45 L444.28 640.29 L443.25 641.85 L443.96 647.32 L442.57 649.3 L441.22 644.76 L440.16 646.18 L440.63 651.9 L439.21 653.68 L438.08 648.79 L436.99 650.06 L437.23 656 L435.78 657.57 L434.87 652.37 L433.77 653.47 L433.77 659.6 L432.3 660.95 L431.62 655.46 L430.51 656.4 L430.27 662.66 L428.8 663.79 L428.35 658.05 L427.23 658.81 L426.76 665.18 L425.29 666.07 L425.07 660.11 L423.96 660.7 L423.26 667.14 L421.79 667.79 L421.82 661.65 L420.72 662.05 L419.78 668.52 L418.34 668.92 L418.6 662.64 L417.52 662.86 L416.36 669.31 L414.94 669.47 L415.44 663.09 L414.38 663.12 L413.01 669.52 L411.63 669.44 L412.36 662.99 L411.33 662.83 L409.75 669.14 L408.41 668.81 L409.37 662.34 L408.38 661.99 L406.6 668.17 L405.32 667.59 L406.5 661.14 L405.55 660.61 L403.59 666.62 L402.36 665.8 L403.76 659.41 L402.86 658.7 L400.72 664.5 L399.57 663.45 L401.17 657.14 L400.33 656.26 L398.03 661.82 L396.95 660.54 L398.75 654.37 L397.96 653.31 L395.51 658.6 L394.52 657.09 L396.5 651.1 L395.78 649.87 L393.2 654.86 L392.3 653.13 L394.45 647.35 L393.8 645.97 L391.11 650.61 L390.29 648.69 L392.61 643.15 L392.03 641.62 L389.24 645.9 L388.52 643.78 L390.98 638.52 L390.48 636.85 L387.61 640.73 L386.99 638.44 L389.59 633.49 L389.16 631.7 L386.22 635.16 L385.72 632.71 L388.43 628.1 L388.09 626.19 L385.1 629.21 L384.71 626.61 L387.51 622.37 L387.25 620.35 L384.24 622.92 L383.96 620.18 L386.84 616.34 L386.67 614.23 L383.65 616.32 L383.48 613.47 L386.43 610.05 L386.35 607.86 L383.33 609.47 L383.28 606.52 L386.27 603.54 L386.28 601.28 L383.29 602.39 L383.36 599.36 L386.37 596.85 L386.47 594.53 L383.53 595.14 L383.71 592.05 L386.73 590.01 L386.91 587.66 L384.03 587.76 L384.33 584.63 L387.34 583.07 L387.61 580.7 L384.81 580.29 L385.22 577.14 L388.2 576.08 L388.55 573.7 L385.86 572.78 L386.38 569.63 L389.31 569.07 L389.74 566.69 L387.16 565.28 L387.79 562.14 L390.66 562.1 L391.17 559.74 L388.72 557.83 L389.45 554.73 L392.23 555.19 L392.82 552.87 L390.52 550.48 L391.35 547.44 L394.03 548.4 L394.69 546.13 L392.55 543.28 L393.47 540.31 L396.03 541.77 L396.76 539.56 L394.8 536.26 L395.8 533.38 L398.24 535.34 L399.03 533.2 L397.25 529.48 L398.34 526.71 L400.62 529.14 L401.47 527.09 L399.89 522.97 L401.06 520.32 L403.18 523.22 L404.08 521.27 L402.71 516.77 L403.94 514.27 L405.88 517.61 L406.84 515.78 L405.68 510.93 L406.97 508.59 L408.73 512.35 L409.72 510.64 L408.79 505.47 L410.13 503.3 L411.69 507.47 L412.72 505.9 L412.02 500.44 L413.4 498.45 L414.75 502.99 L415.82 501.57 L415.34 495.85 L416.77 494.07 L417.9 498.96 L418.98 497.69 L418.75 491.75 L420.2 490.18 L421.11 495.38 L422.21 494.28 L422.21 488.16 L423.67 486.8 L424.36 492.29 L425.47 491.36 L425.71 485.09 L427.18 483.97 L427.63 489.71 L428.74 488.95 L429.22 482.57 L430.69 481.68 L430.9 487.64 L432.01 487.06 L432.72 480.62 L434.18 479.97 L434.16 486.1 L435.26 485.7 L436.19 479.24 L437.64 478.83 L437.38 485.11 L438.46 484.89 L439.62 478.44 L441.03 478.28 L440.54 484.66 L441.59 484.63 L442.97 478.23 L444.35 478.32 L443.62 484.76 L444.65 484.92 L446.23 478.61 L447.56 478.95 L446.6 485.41 L447.59 485.76 L449.37 479.58 L450.66 480.16 L449.48 486.61 L450.42 487.14 L452.39 481.13 L453.61 481.95 L452.22 488.35 L453.11 489.06 L455.25 483.25 L456.41 484.31 L454.81 490.61 L455.65 491.5 L457.95 485.93 L459.03 487.22 L457.23 493.38 L458.01 494.44 L460.46 489.15 L461.46 490.66 L459.47 496.66 L460.19 497.88 L462.77 492.9 L463.68 494.62 L461.52 500.4 L462.17 501.78 L464.87 497.14 L465.68 499.07 L463.37 504.61 L463.94 506.13 L466.74 501.86 L467.45 503.97 L464.99 509.23 L465.49 510.9 L468.37 507.02 L468.98 509.31 L466.39 514.26 L466.81 516.05 L469.75 512.59 L470.26 515.05 L467.55 519.65 L467.89 521.57 L470.88 518.54 L471.27 521.15 L468.47 525.38 L468.72 527.4 L471.74 524.83 L472.02 527.57 L469.13 531.41 L469.3 533.52 L472.33 531.43 L472.49 534.28 L469.55 537.7 L469.63 539.89 L472.64 538.29 L472.69 541.23 L469.7 544.21 L469.7 546.47 L472.68 545.36 L472.62 548.39 L469.6 550.91 L469.51 553.22 L472.45 552.61 L472.27 555.7 L469.25 557.74 L469.07 560.09 L471.94 560 L471.65 563.12 L468.63 564.68 L468.37 567.05 L471.16 567.46 L470.75 570.61 L467.77 571.67 L467.42 574.06 L470.12 574.97 L469.6 578.13 L466.67 578.68Z" fill="#000" stroke="#000" stroke-width="1.3" stroke-linejoin="round"/>
<path d="M422.15 664.86 L418.25 663.62 L414.56 661.42 L411.15 658.29 L408.03 654.25 L405.26 649.36 L402.85 643.66 L400.83 637.22 L399.23 630.1 L398.07 622.4 L397.35 614.18 L397.08 605.54 L397.28 596.58 L397.92 587.39 L399.02 578.08 L400.55 568.74 L402.5 559.48 L404.85 550.4 L407.57 541.6 L410.63 533.18 L414 525.22 L417.64 517.82 L421.51 511.06 L425.58 505 L429.78 499.73 L434.09 495.28 L438.45 491.72 L442.81 489.09 L447.13 487.4 L451.36 486.68 L455.45 486.94 L444.64 484.92 L440.55 484.66 L436.32 485.38 L432 487.06 L427.64 489.7 L423.28 493.26 L418.97 497.7 L414.76 502.98 L410.7 509.03 L406.83 515.8 L403.19 523.2 L399.81 531.16 L396.75 539.58 L394.03 548.38 L391.69 557.46 L389.74 566.72 L388.21 576.06 L387.11 585.37 L386.46 594.56 L386.27 603.52 L386.54 612.15 L387.26 620.37 L388.42 628.08 L390.02 635.19 L392.04 641.64 L394.45 647.34 L397.22 652.23 L400.33 656.27 L403.75 659.4 L407.43 661.6 L411.34 662.83Z" fill="#000" stroke="#000" stroke-width="1.3"/>
<path d="M479.62 584.5 L479 587.63 L468.19 585.61 L468.81 582.47Z" fill="#fff" stroke="#000" stroke-width="1.3" stroke-linejoin="round"/>
<path d="M480.93 576.99 L480.41 580.15 L469.6 578.13 L470.12 574.97Z" fill="#fff" stroke="#000" stroke-width="1.3" stroke-linejoin="round"/>
<path d="M478.07 591.94 L477.34 595.05 L466.53 593.02 L467.25 589.92Z" fill="#fff" stroke="#000" stroke-width="1.3" stroke-linejoin="round"/>
<path d="M481.97 569.49 L481.57 572.64 L470.75 570.61 L471.16 567.46Z" fill="#fff" stroke="#000" stroke-width="1.3" stroke-linejoin="round"/>
<path d="M476.27 599.29 L475.44 602.34 L464.63 600.32 L465.46 597.27Z" fill="#fff" stroke="#000" stroke-width="1.3" stroke-linejoin="round"/>
<path d="M482.75 562.02 L482.46 565.15 L471.65 563.12 L471.94 560Z" fill="#fff" stroke="#000" stroke-width="1.3" stroke-linejoin="round"/>
<path d="M474.24 606.5 L473.32 609.47 L462.51 607.45 L463.43 604.47Z" fill="#fff" stroke="#000" stroke-width="1.3" stroke-linejoin="round"/>
<path d="M483.26 554.64 L483.08 557.72 L472.27 555.7 L472.45 552.61Z" fill="#fff" stroke="#000" stroke-width="1.3" stroke-linejoin="round"/>
<path d="M471.99 613.51 L470.98 616.39 L460.17 614.37 L461.18 611.49Z" fill="#fff" stroke="#000" stroke-width="1.3" stroke-linejoin="round"/>
<path d="M483.5 547.38 L483.43 550.41 L472.62 548.39 L472.68 545.36Z" fill="#fff" stroke="#000" stroke-width="1.3" stroke-linejoin="round"/>
<path d="M469.54 620.3 L468.45 623.07 L457.64 621.04 L458.72 618.27Z" fill="#fff" stroke="#000" stroke-width="1.3" stroke-linejoin="round"/>
<path d="M483.45 540.31 L483.51 543.26 L472.69 541.23 L472.64 538.29Z" fill="#fff" stroke="#000" stroke-width="1.3" stroke-linejoin="round"/>
<path d="M466.89 626.81 L465.73 629.45 L454.92 627.43 L456.08 624.79Z" fill="#fff" stroke="#000" stroke-width="1.3" stroke-linejoin="round"/>
<path d="M483.14 533.45 L483.3 536.3 L472.49 534.28 L472.33 531.43Z" fill="#fff" stroke="#000" stroke-width="1.3" stroke-linejoin="round"/>
<path d="M464.08 633.01 L462.85 635.51 L452.04 633.48 L453.27 630.98Z" fill="#fff" stroke="#000" stroke-width="1.3" stroke-linejoin="round"/>
<path d="M482.55 526.86 L482.83 529.59 L472.02 527.57 L471.74 524.83Z" fill="#fff" stroke="#000" stroke-width="1.3" stroke-linejoin="round"/>
<path d="M461.11 638.85 L459.82 641.19 L449 639.17 L450.29 636.83Z" fill="#fff" stroke="#000" stroke-width="1.3" stroke-linejoin="round"/>
<path d="M481.69 520.57 L482.08 523.17 L471.27 521.15 L470.88 518.54Z" fill="#fff" stroke="#000" stroke-width="1.3" stroke-linejoin="round"/>
<path d="M458 644.31 L456.65 646.47 L445.84 644.45 L447.18 642.28Z" fill="#fff" stroke="#000" stroke-width="1.3" stroke-linejoin="round"/>
<path d="M480.56 514.61 L481.07 517.07 L470.26 515.05 L469.75 512.59Z" fill="#fff" stroke="#000" stroke-width="1.3" stroke-linejoin="round"/>
<path d="M454.77 649.34 L453.38 651.32 L442.57 649.3 L443.96 647.32Z" fill="#fff" stroke="#000" stroke-width="1.3" stroke-linejoin="round"/>
<path d="M479.18 509.04 L479.79 511.33 L468.98 509.31 L468.37 507.02Z" fill="#fff" stroke="#000" stroke-width="1.3" stroke-linejoin="round"/>
<path d="M451.44 653.92 L450.02 655.71 L439.21 653.68 L440.63 651.9Z" fill="#fff" stroke="#000" stroke-width="1.3" stroke-linejoin="round"/>
<path d="M477.55 503.88 L478.27 506 L467.45 503.97 L466.74 501.86Z" fill="#fff" stroke="#000" stroke-width="1.3" stroke-linejoin="round"/>
<path d="M448.04 658.02 L446.59 659.6 L435.78 657.57 L437.23 656Z" fill="#fff" stroke="#000" stroke-width="1.3" stroke-linejoin="round"/>
<path d="M475.68 499.16 L476.5 501.09 L465.68 499.07 L464.87 497.14Z" fill="#fff" stroke="#000" stroke-width="1.3" stroke-linejoin="round"/>
<path d="M444.58 661.62 L443.11 662.97 L432.3 660.95 L433.77 659.6Z" fill="#fff" stroke="#000" stroke-width="1.3" stroke-linejoin="round"/>
<path d="M473.59 494.92 L474.49 496.64 L463.68 494.62 L462.77 492.9Z" fill="#fff" stroke="#000" stroke-width="1.3" stroke-linejoin="round"/>
<path d="M441.08 664.68 L439.61 665.81 L428.8 663.79 L430.27 662.66Z" fill="#fff" stroke="#000" stroke-width="1.3" stroke-linejoin="round"/>
<path d="M471.27 491.18 L472.27 492.69 L461.46 490.66 L460.46 489.15Z" fill="#fff" stroke="#000" stroke-width="1.3" stroke-linejoin="round"/>
<path d="M437.57 667.2 L436.1 668.09 L425.29 666.07 L426.76 665.18Z" fill="#fff" stroke="#000" stroke-width="1.3" stroke-linejoin="round"/>
<path d="M468.76 487.95 L469.84 489.24 L459.03 487.22 L457.95 485.93Z" fill="#fff" stroke="#000" stroke-width="1.3" stroke-linejoin="round"/>
<path d="M434.07 669.16 L432.6 669.81 L421.79 667.79 L423.26 667.14Z" fill="#fff" stroke="#000" stroke-width="1.3" stroke-linejoin="round"/>
<path d="M466.07 485.27 L467.22 486.33 L456.41 484.31 L455.25 483.25Z" fill="#fff" stroke="#000" stroke-width="1.3" stroke-linejoin="round"/>
<path d="M430.59 670.54 L429.15 670.95 L418.34 668.92 L419.78 668.52Z" fill="#fff" stroke="#000" stroke-width="1.3" stroke-linejoin="round"/>
<path d="M463.2 483.15 L464.42 483.97 L453.61 481.95 L452.39 481.13Z" fill="#fff" stroke="#000" stroke-width="1.3" stroke-linejoin="round"/>
<path d="M427.17 671.34 L425.75 671.5 L414.94 669.47 L416.36 669.31Z" fill="#fff" stroke="#000" stroke-width="1.3" stroke-linejoin="round"/>
<path d="M460.19 481.6 L461.47 482.18 L450.66 480.16 L449.37 479.58Z" fill="#fff" stroke="#000" stroke-width="1.3" stroke-linejoin="round"/>
<path d="M423.82 671.55 L422.44 671.46 L411.63 669.44 L413.01 669.52Z" fill="#fff" stroke="#000" stroke-width="1.3" stroke-linejoin="round"/>
<path d="M457.04 480.63 L458.38 480.97 L447.56 478.95 L446.23 478.61Z" fill="#fff" stroke="#000" stroke-width="1.3" stroke-linejoin="round"/>
<path d="M420.56 671.17 L419.22 670.83 L408.41 668.81 L409.75 669.14Z" fill="#fff" stroke="#000" stroke-width="1.3" stroke-linejoin="round"/>
<path d="M453.78 480.25 L455.16 480.34 L444.35 478.32 L442.97 478.23Z" fill="#fff" stroke="#000" stroke-width="1.3" stroke-linejoin="round"/>
<path d="M417.41 670.2 L416.13 669.62 L405.32 667.59 L406.6 668.17Z" fill="#fff" stroke="#000" stroke-width="1.3" stroke-linejoin="round"/>
<path d="M450.43 480.46 L451.85 480.3 L441.03 478.28 L439.62 478.44Z" fill="#fff" stroke="#000" stroke-width="1.3" stroke-linejoin="round"/>
<path d="M414.4 668.65 L413.18 667.83 L402.36 665.8 L403.59 666.62Z" fill="#fff" stroke="#000" stroke-width="1.3" stroke-linejoin="round"/>
<path d="M447.01 481.26 L448.45 480.85 L437.64 478.83 L436.19 479.24Z" fill="#fff" stroke="#000" stroke-width="1.3" stroke-linejoin="round"/>
<path d="M411.53 666.53 L410.38 665.47 L399.57 663.45 L400.72 664.5Z" fill="#fff" stroke="#000" stroke-width="1.3" stroke-linejoin="round"/>
<path d="M443.53 482.64 L445 481.99 L434.18 479.97 L432.72 480.62Z" fill="#fff" stroke="#000" stroke-width="1.3" stroke-linejoin="round"/>
<path d="M408.84 663.85 L407.76 662.56 L396.95 660.54 L398.03 661.82Z" fill="#fff" stroke="#000" stroke-width="1.3" stroke-linejoin="round"/>
<path d="M440.03 484.6 L441.5 483.71 L430.69 481.68 L429.22 482.57Z" fill="#fff" stroke="#000" stroke-width="1.3" stroke-linejoin="round"/>
<path d="M406.33 660.62 L405.33 659.11 L394.52 657.09 L395.51 658.6Z" fill="#fff" stroke="#000" stroke-width="1.3" stroke-linejoin="round"/>
<path d="M436.52 487.12 L437.99 485.99 L427.18 483.97 L425.71 485.09Z" fill="#fff" stroke="#000" stroke-width="1.3" stroke-linejoin="round"/>
<path d="M404.01 656.88 L403.11 655.16 L392.3 653.13 L393.2 654.86Z" fill="#fff" stroke="#000" stroke-width="1.3" stroke-linejoin="round"/>
<path d="M433.02 490.18 L434.49 488.83 L423.67 486.8 L422.21 488.16Z" fill="#fff" stroke="#000" stroke-width="1.3" stroke-linejoin="round"/>
<path d="M401.92 652.64 L401.1 650.71 L390.29 648.69 L391.11 650.61Z" fill="#fff" stroke="#000" stroke-width="1.3" stroke-linejoin="round"/>
<path d="M429.56 493.78 L431.01 492.2 L420.2 490.18 L418.75 491.75Z" fill="#fff" stroke="#000" stroke-width="1.3" stroke-linejoin="round"/>
<path d="M400.05 647.92 L399.33 645.8 L388.52 643.78 L389.24 645.9Z" fill="#fff" stroke="#000" stroke-width="1.3" stroke-linejoin="round"/>
<path d="M426.16 497.88 L427.58 496.09 L416.77 494.07 L415.34 495.85Z" fill="#fff" stroke="#000" stroke-width="1.3" stroke-linejoin="round"/>
<path d="M398.42 642.76 L397.81 640.47 L386.99 638.44 L387.61 640.73Z" fill="#fff" stroke="#000" stroke-width="1.3" stroke-linejoin="round"/>
<path d="M422.83 502.46 L424.22 500.48 L413.4 498.45 L412.02 500.44Z" fill="#fff" stroke="#000" stroke-width="1.3" stroke-linejoin="round"/>
<path d="M397.04 637.19 L396.53 634.73 L385.72 632.71 L386.22 635.16Z" fill="#fff" stroke="#000" stroke-width="1.3" stroke-linejoin="round"/>
<path d="M419.6 507.49 L420.95 505.33 L410.13 503.3 L408.79 505.47Z" fill="#fff" stroke="#000" stroke-width="1.3" stroke-linejoin="round"/>
<path d="M395.91 631.23 L395.52 628.63 L384.71 626.61 L385.1 629.21Z" fill="#fff" stroke="#000" stroke-width="1.3" stroke-linejoin="round"/>
<path d="M416.49 512.95 L417.78 510.61 L406.97 508.59 L405.68 510.93Z" fill="#fff" stroke="#000" stroke-width="1.3" stroke-linejoin="round"/>
<path d="M395.05 624.94 L394.77 622.21 L383.96 620.18 L384.24 622.92Z" fill="#fff" stroke="#000" stroke-width="1.3" stroke-linejoin="round"/>
<path d="M413.52 518.79 L414.75 516.29 L403.94 514.27 L402.71 516.77Z" fill="#fff" stroke="#000" stroke-width="1.3" stroke-linejoin="round"/>
<path d="M394.46 618.35 L394.3 615.5 L383.48 613.47 L383.65 616.32Z" fill="#fff" stroke="#000" stroke-width="1.3" stroke-linejoin="round"/>
<path d="M410.71 524.99 L411.87 522.35 L401.06 520.32 L399.89 522.97Z" fill="#fff" stroke="#000" stroke-width="1.3" stroke-linejoin="round"/>
<path d="M394.15 611.49 L394.09 608.54 L383.28 606.52 L383.33 609.47Z" fill="#fff" stroke="#000" stroke-width="1.3" stroke-linejoin="round"/>
<path d="M408.06 531.5 L409.15 528.73 L398.34 526.71 L397.25 529.48Z" fill="#fff" stroke="#000" stroke-width="1.3" stroke-linejoin="round"/>
<path d="M394.1 604.42 L394.17 601.39 L383.36 599.36 L383.29 602.39Z" fill="#fff" stroke="#000" stroke-width="1.3" stroke-linejoin="round"/>
<path d="M405.61 538.29 L406.62 535.41 L395.8 533.38 L394.8 536.26Z" fill="#fff" stroke="#000" stroke-width="1.3" stroke-linejoin="round"/>
<path d="M394.34 597.16 L394.52 594.08 L383.71 592.05 L383.53 595.14Z" fill="#fff" stroke="#000" stroke-width="1.3" stroke-linejoin="round"/>
<path d="M403.36 545.3 L404.28 542.33 L393.47 540.31 L392.55 543.28Z" fill="#fff" stroke="#000" stroke-width="1.3" stroke-linejoin="round"/>
<path d="M394.85 589.78 L395.14 586.65 L384.33 584.63 L384.03 587.76Z" fill="#fff" stroke="#000" stroke-width="1.3" stroke-linejoin="round"/>
<path d="M401.33 552.51 L402.16 549.46 L391.35 547.44 L390.52 550.48Z" fill="#fff" stroke="#000" stroke-width="1.3" stroke-linejoin="round"/>
<path d="M395.63 582.31 L396.03 579.16 L385.22 577.14 L384.81 580.29Z" fill="#fff" stroke="#000" stroke-width="1.3" stroke-linejoin="round"/>
<path d="M399.53 559.86 L400.26 556.75 L389.45 554.73 L388.72 557.83Z" fill="#fff" stroke="#000" stroke-width="1.3" stroke-linejoin="round"/>
<path d="M396.67 574.81 L397.19 571.65 L386.38 569.63 L385.86 572.78Z" fill="#fff" stroke="#000" stroke-width="1.3" stroke-linejoin="round"/>
<path d="M397.98 567.3 L398.6 564.17 L387.79 562.14 L387.16 565.28Z" fill="#fff" stroke="#000" stroke-width="1.3" stroke-linejoin="round"/>
<path d="M477.05 583.08 L479.62 584.5 L479 587.63 L476.13 587.68 L475.62 590.04 L478.07 591.94 L477.34 595.05 L474.56 594.59 L473.97 596.91 L476.27 599.29 L475.44 602.34 L472.76 601.37 L472.1 603.65 L474.24 606.5 L473.32 609.47 L470.75 608.01 L470.03 610.22 L471.99 613.51 L470.98 616.39 L468.55 614.44 L467.76 616.58 L469.54 620.3 L468.45 623.07 L466.17 620.64 L465.32 622.68 L466.89 626.81 L465.73 629.45 L463.61 626.56 L462.71 628.5 L464.08 633.01 L462.85 635.51 L460.9 632.17 L459.95 634 L461.11 638.85 L459.82 641.19 L458.06 637.43 L457.06 639.13 L458 644.31 L456.65 646.47 L455.1 642.31 L454.07 643.88 L454.77 649.34 L453.38 651.32 L452.03 646.78 L450.97 648.21 L451.44 653.92 L450.02 655.71 L448.89 650.82 L447.8 652.09 L448.04 658.02 L446.59 659.6 L445.68 654.39 L444.58 655.5 L444.58 661.62 L443.11 662.97 L442.43 657.48 L441.32 658.42 L441.08 664.68 L439.61 665.81 L439.16 660.07 L438.05 660.83 L437.57 667.2 L436.1 668.09 L435.89 662.14 L434.78 662.72 L434.07 669.16 L432.6 669.81 L432.63 663.67 L431.53 664.07 L430.59 670.54 L429.15 670.95 L429.41 664.67 L428.33 664.88 L427.17 671.34 L425.75 671.5 L426.25 665.12 L425.19 665.14 L423.82 671.55 L422.44 671.46 L423.17 665.01 L422.14 664.85 L420.56 671.17 L419.22 670.83 L420.18 664.36 L419.19 664.02 L417.41 670.2 L416.13 669.62 L417.31 663.17 L416.36 662.64 L414.4 668.65 L413.18 667.83 L414.57 661.43 L413.67 660.72 L411.53 666.53 L410.38 665.47 L411.98 659.17 L411.14 658.28 L408.84 663.85 L407.76 662.56 L409.56 656.39 L408.77 655.33 L406.33 660.62 L405.33 659.11 L407.31 653.12 L406.59 651.9 L404.01 656.88 L403.11 655.16 L405.26 649.37 L404.61 647.99 L401.92 652.64 L401.1 650.71 L403.42 645.17 L402.84 643.64 L400.05 647.92 L399.33 645.8 L401.8 640.54 L401.29 638.88 L398.42 642.76 L397.81 640.47 L400.4 635.52 L399.98 633.72 L397.04 637.19 L396.53 634.73 L399.24 630.12 L398.9 628.21 L395.91 631.23 L395.52 628.63 L398.32 624.39 L398.07 622.38 L395.05 624.94 L394.77 622.21 L397.65 618.37 L397.49 616.25 L394.46 618.35 L394.3 615.5 L397.24 612.08 L397.16 609.89 L394.15 611.49 L394.09 608.54 L397.08 605.56 L397.09 603.31 L394.1 604.42 L394.17 601.39 L397.19 598.87 L397.28 596.56 L394.34 597.16 L394.52 594.08 L397.54 592.03 L397.72 589.68 L394.85 589.78 L395.14 586.65 L398.15 585.1 L398.42 582.72 L395.63 582.31 L396.03 579.16 L399.02 578.1 L399.36 575.72 L396.67 574.81 L397.19 571.65 L400.12 571.1 L400.55 568.72 L397.98 567.3 L398.6 564.17 L401.47 564.12 L401.98 561.76 L399.53 559.86 L400.26 556.75 L403.04 557.21 L403.63 554.89 L401.33 552.51 L402.16 549.46 L404.84 550.43 L405.5 548.15 L403.36 545.3 L404.28 542.33 L406.85 543.79 L407.57 541.58 L405.61 538.29 L406.62 535.41 L409.05 537.36 L409.84 535.22 L408.06 531.5 L409.15 528.73 L411.43 531.16 L412.28 529.12 L410.71 524.99 L411.87 522.35 L413.99 525.24 L414.89 523.3 L413.52 518.79 L414.75 516.29 L416.7 519.63 L417.65 517.8 L416.49 512.95 L417.78 510.61 L419.54 514.37 L420.54 512.67 L419.6 507.49 L420.95 505.33 L422.5 509.49 L423.53 507.92 L422.83 502.46 L424.22 500.48 L425.57 505.02 L426.63 503.59 L426.16 497.88 L427.58 496.09 L428.71 500.98 L429.8 499.71 L429.56 493.78 L431.01 492.2 L431.92 497.41 L433.02 496.3 L433.02 490.18 L434.49 488.83 L435.17 494.32 L436.28 493.38 L436.52 487.12 L437.99 485.99 L438.44 491.73 L439.55 490.97 L440.03 484.6 L441.5 483.71 L441.71 489.66 L442.82 489.08 L443.53 482.64 L445 481.99 L444.97 488.13 L446.07 487.73 L447.01 481.26 L448.45 480.85 L448.19 487.13 L449.27 486.92 L450.43 480.46 L451.85 480.3 L451.35 486.68 L452.41 486.66 L453.78 480.25 L455.16 480.34 L454.43 486.79 L455.46 486.95 L457.04 480.63 L458.38 480.97 L457.42 487.44 L458.41 487.78 L460.19 481.6 L461.47 482.18 L460.29 488.63 L461.24 489.16 L463.2 483.15 L464.42 483.97 L463.03 490.37 L463.93 491.08 L466.07 485.27 L467.22 486.33 L465.62 492.63 L466.46 493.52 L468.76 487.95 L469.84 489.24 L468.04 495.41 L468.83 496.47 L471.27 491.18 L472.27 492.69 L470.29 498.68 L471.01 499.9 L473.59 494.92 L474.49 496.64 L472.34 502.43 L472.99 503.81 L475.68 499.16 L476.5 501.09 L474.18 506.63 L474.76 508.16 L477.55 503.88 L478.27 506 L475.8 511.26 L476.31 512.92 L479.18 509.04 L479.79 511.33 L477.2 516.28 L477.62 518.08 L480.56 514.61 L481.07 517.07 L478.36 521.68 L478.7 523.59 L481.69 520.57 L482.08 523.17 L479.28 527.41 L479.53 529.42 L482.55 526.86 L482.83 529.59 L479.95 533.43 L480.11 535.55 L483.14 533.45 L483.3 536.3 L480.36 539.72 L480.44 541.91 L483.45 540.31 L483.51 543.26 L480.52 546.24 L480.51 548.49 L483.5 547.38 L483.43 550.41 L480.41 552.93 L480.32 555.24 L483.26 554.64 L483.08 557.72 L480.06 559.77 L479.88 562.12 L482.75 562.02 L482.46 565.15 L479.45 566.7 L479.18 569.08 L481.97 569.49 L481.57 572.64 L478.58 573.7 L478.24 576.08 L480.93 576.99 L480.41 580.15 L477.48 580.7Z" fill="#fff" stroke="#000" stroke-width="1.43" stroke-linejoin="round"/>
<ellipse cx="438.8" cy="575.9" rx="39.34" ry="91.5" transform="rotate(10.6 438.8 575.9)" fill="#111" stroke="#000" stroke-width="1"/>
<ellipse cx="439.29" cy="575.99" rx="37.62" ry="87.5" transform="rotate(10.6 439.29 575.99)" fill="#fff" stroke="#000" stroke-width="1.3"/>
<ellipse cx="440.27" cy="576.18" rx="36.34" ry="84.5" transform="rotate(10.6 440.27 576.18)" fill="#fff" stroke="#000" stroke-width="1"/>
<path d="M484.54 519.63 L523.85 526.99 L525.89 530.79 L527.74 534.92 L514.96 532.52 L516.43 538.19 L517.56 544.3 L532.8 547.15 L534.19 555.33 L490.94 547.23 L490.43 541.97 L489.68 536.94 L488.71 532.16 L487.53 527.66 L486.13 523.48Z" stroke-width="2.5" stroke="#000" fill="#fff" stroke-linejoin="round"/>
<path d="M514.96 532.52 L495.3 528.84 L492.78 529.75 L491.74 533.07 L494.5 537.31 L497.73 539.51 L517.39 543.19" fill="none" stroke="#000" stroke-width="1.3" stroke-linejoin="round"/>
<path d="M514.59 534.49 L496.9 531.18 L495.18 533.72 L498.29 537.29 L515.98 540.6" fill="none" stroke="#000" stroke-width="0.8" stroke-linejoin="round"/>
<line x1="515.45" y1="532.62" x2="518.05" y2="544.39" stroke="#000" stroke-width="3.2" stroke-linecap="round"/>
<path d="M480.12 614.11 L519.44 621.47 L517.82 626.46 L516.06 631.21 L503.28 628.82 L500.17 634.48 L496.87 639.64 L512.1 642.49 L508.29 648.22 L465.05 640.12 L467.83 636.6 L470.53 632.72 L473.13 628.51 L475.6 623.98 L477.94 619.17Z" stroke-width="2.5" stroke="#000" fill="#fff" stroke-linejoin="round"/>
<path d="M503.28 628.82 L483.62 625.14 L479.87 626.13 L475.88 629.4 L475.74 633.19 L477.8 635.08 L497.46 638.76" fill="none" stroke="#000" stroke-width="1.3" stroke-linejoin="round"/>
<path d="M501.11 630.89 L483.42 627.58 L479.32 630.04 L480.08 633.28 L497.77 636.6" fill="none" stroke="#000" stroke-width="0.8" stroke-linejoin="round"/>
<line x1="503.77" y1="628.91" x2="497.36" y2="639.73" stroke="#000" stroke-width="3.2" stroke-linecap="round"/>
<path d="M491.14 563.38 L530.45 570.74 L530.58 576.45 L530.48 582.21 L517.71 579.82 L516.63 587.21 L515.21 594.57 L530.45 597.42 L528.72 606.47 L485.47 598.37 L486.96 592.64 L488.23 586.82 L489.29 580.95 L490.13 575.06 L490.75 569.2Z" stroke-width="2.5" stroke="#000" fill="#fff" stroke-linejoin="round"/>
<path d="M517.71 579.82 L498.05 576.14 L494.85 577.55 L492.17 581.96 L493.28 587.09 L495.83 589.59 L515.49 593.27" fill="none" stroke="#000" stroke-width="1.3" stroke-linejoin="round"/>
<path d="M516.35 582.52 L498.65 579.21 L495.61 582.61 L497.38 586.92 L515.08 590.23" fill="none" stroke="#000" stroke-width="0.8" stroke-linejoin="round"/>
<line x1="518.2" y1="579.91" x2="515.71" y2="594.66" stroke="#000" stroke-width="3.2" stroke-linecap="round"/>
<line x1="491.43" y1="547.33" x2="491.63" y2="563.48" stroke="#000" stroke-width="3" stroke-linecap="round"/>
<line x1="485.97" y1="598.47" x2="480.62" y2="614.21" stroke="#000" stroke-width="3" stroke-linecap="round"/>
<line x1="465.54" y1="640.21" x2="457.15" y2="648.18" stroke="#000" stroke-width="3" stroke-linecap="round"/>
<path d="M462.15 503.77 L466.06 503.51 L469.84 504.1 L473.44 505.54 L476.83 507.82 L479.96 510.91 L482.79 514.77 L485.3 519.36 L487.46 524.62 L489.25 530.51 L490.63 536.94 L491.6 543.85 L492.15 551.15 L492.26 558.77 L491.94 566.61 L491.2 574.59 L490.03 582.62 L488.46 590.59 L486.49 598.43 L484.16 606.04 L481.49 613.34 L478.52 620.23 L475.26 626.65 L471.77 632.51 L468.08 637.76 L464.24 642.33 L460.28 646.17 L456.26 649.23 L452.21 651.48 L448.19 652.9 L444.25 653.46 L432.95 651.35 L436.89 650.78 L440.91 649.37 L444.95 647.11 L448.97 644.05 L452.93 640.21 L456.78 635.64 L460.47 630.4 L463.96 624.53 L467.21 618.11 L470.19 611.22 L472.86 603.93 L475.19 596.32 L477.15 588.48 L478.73 580.5 L479.89 572.48 L480.64 564.5 L480.96 556.66 L480.84 549.04 L480.3 541.73 L479.33 534.83 L477.94 528.39 L476.16 522.51 L474 517.24 L471.49 512.65 L468.65 508.79 L465.52 505.7 L462.14 503.43 L458.54 501.98 L454.76 501.39 L450.85 501.66Z" fill="#fff" stroke="none"/>
<path d="M462.15 503.77 L466.06 503.51 L469.84 504.1 L473.44 505.54 L476.83 507.82 L479.96 510.91 L482.79 514.77 L485.3 519.36 L487.46 524.62 L489.25 530.51 L490.63 536.94 L491.6 543.85 L492.15 551.15 L492.26 558.77 L491.94 566.61 L491.2 574.59 L490.03 582.62 L488.46 590.59 L486.49 598.43 L484.16 606.04 L481.49 613.34 L478.52 620.23 L475.26 626.65 L471.77 632.51 L468.08 637.76 L464.24 642.33 L460.28 646.17 L456.26 649.23 L452.21 651.48 L448.19 652.9 L444.25 653.46" fill="none" stroke="#000" stroke-width="1.4"/>
<path d="M456.75 502.76 L460.62 502.49 L464.35 503.07 L467.92 504.47 L471.28 506.69 L474.39 509.71 L477.21 513.48 L479.72 517.97 L481.89 523.13 L483.68 528.9 L485.09 535.21 L486.1 541.99 L486.69 549.17 L486.87 556.67 L486.61 564.4 L485.94 572.28 L484.86 580.21 L483.37 588.12 L481.5 595.9 L479.27 603.48 L476.7 610.77 L473.81 617.68 L470.66 624.15 L467.26 630.09 L463.65 635.44 L459.89 640.15 L456 644.15 L452.03 647.4 L448.04 649.87 L444.05 651.53 L440.12 652.36" fill="none" stroke="#000" stroke-width="0.9"/>
<path d="M452.14 501.48 L455.97 501.49 L459.66 502.33 L463.16 504.01 L466.44 506.5 L469.46 509.77 L472.18 513.79 L474.58 518.51 L476.63 523.88 L478.3 529.84 L479.58 536.31 L480.45 543.24 L480.9 550.54 L480.93 558.13 L480.54 565.92 L479.73 573.83 L478.5 581.77 L476.89 589.65 L474.89 597.38 L472.54 604.87 L469.86 612.04 L466.88 618.82 L463.64 625.12 L460.16 630.87 L456.5 636.01 L452.68 640.48 L448.76 644.23 L444.78 647.23 L440.78 649.43 L436.8 650.81" fill="none" stroke="#000" stroke-width="1.4"/>
<path d="M421.98 536.08 L454.77 542.47 L453.65 554.31 L416.87 550.47 L415.59 547.59Z" fill="#fff" stroke="#000" stroke-width="2.5" stroke-linejoin="round" stroke-linecap="round"/>
<path d="M411.11 588.85 L446.29 594.29 L445.97 611.88 L409.51 605.48 L408.87 593.97Z" fill="#fff" stroke="#000" stroke-width="2.5" stroke-linejoin="round" stroke-linecap="round"/>
<path d="M447.38 541.54 L449.46 541.44 L451.47 541.76 L453.39 542.47 L455.22 543.59 L456.91 545.09 L458.46 546.95 L459.85 549.17 L461.06 551.7 L462.08 554.53 L462.9 557.62 L463.51 560.94 L463.89 564.45 L464.06 568.11 L464 571.88 L463.72 575.72 L463.21 579.58 L462.49 583.42 L461.56 587.21 L460.44 590.89 L459.13 594.43 L457.66 597.78 L456.03 600.91 L454.26 603.78 L452.38 606.37 L450.41 608.64 L448.36 610.56 L446.27 612.13 L444.14 613.31 L442.02 614.09 L439.92 614.47 L437.86 614.44 L435.88 614.01 L433.98 613.17" fill="none" stroke="#000" stroke-width="2"/>
<path d="M447.15 544 L449.09 543.91 L450.96 544.2 L452.76 544.87 L454.46 545.91 L456.04 547.31 L457.48 549.05 L458.78 551.11 L459.91 553.48 L460.86 556.11 L461.62 559 L462.19 562.09 L462.55 565.36 L462.7 568.77 L462.65 572.29 L462.38 575.87 L461.91 579.47 L461.24 583.06 L460.38 586.58 L459.33 590.02 L458.11 593.31 L456.73 596.44 L455.21 599.36 L453.57 602.04 L451.81 604.45 L449.97 606.57 L448.06 608.36 L446.11 609.82 L444.13 610.92 L442.15 611.65 L440.19 612 L438.28 611.98 L436.42 611.57 L434.65 610.79" fill="none" stroke="#000" stroke-width="0.9"/>
<path d="M446.92 546.46 L448.71 546.38 L450.45 546.65 L452.12 547.27 L453.7 548.23 L455.16 549.53 L456.5 551.14 L457.7 553.06 L458.75 555.25 L459.63 557.7 L460.34 560.37 L460.87 563.24 L461.2 566.28 L461.34 569.44 L461.29 572.7 L461.05 576.02 L460.61 579.36 L459.99 582.69 L459.19 585.96 L458.21 589.14 L457.08 592.2 L455.81 595.1 L454.4 597.81 L452.87 600.3 L451.24 602.53 L449.54 604.49 L447.77 606.16 L445.95 607.51 L444.12 608.53 L442.28 609.21 L440.47 609.54 L438.69 609.51 L436.97 609.14 L435.33 608.41" fill="none" stroke="#000" stroke-width="0.9"/>
<path d="M446.69 548.92 L448.34 548.85 L449.95 549.1 L451.48 549.67 L452.94 550.56 L454.29 551.75 L455.52 553.24 L456.63 555 L457.6 557.03 L458.41 559.28 L459.06 561.75 L459.55 564.39 L459.85 567.19 L459.99 570.11 L459.94 573.11 L459.71 576.17 L459.31 579.25 L458.74 582.32 L458 585.34 L457.1 588.27 L456.06 591.09 L454.88 593.76 L453.58 596.26 L452.17 598.55 L450.68 600.61 L449.1 602.42 L447.47 603.96 L445.8 605.2 L444.11 606.14 L442.42 606.77 L440.74 607.07 L439.1 607.05 L437.52 606.7 L436 606.03" fill="none" stroke="#000" stroke-width="1.4"/>
<path d="M446.37 552.37 L447.82 552.3 L449.24 552.52 L450.59 553.03 L451.87 553.81 L453.06 554.86 L454.15 556.17 L455.13 557.73 L455.98 559.51 L456.7 561.5 L457.27 563.67 L457.7 566 L457.97 568.47 L458.09 571.04 L458.04 573.69 L457.84 576.39 L457.49 579.1 L456.98 581.8 L456.33 584.46 L455.54 587.05 L454.62 589.53 L453.59 591.89 L452.44 594.09 L451.2 596.11 L449.88 597.93 L448.49 599.52 L447.05 600.87 L445.58 601.97 L444.09 602.8 L442.6 603.35 L441.12 603.62 L439.68 603.6 L438.28 603.29 L436.95 602.7" fill="none" stroke="#000" stroke-width="0.9"/>
<line x1="429.98" y1="541.19" x2="424.38" y2="551.59" stroke="#000" stroke-width="0.9"/>
<line x1="432.7" y1="541.67" x2="427.1" y2="552.07" stroke="#000" stroke-width="0.9"/>
<line x1="435.42" y1="542.15" x2="429.82" y2="552.55" stroke="#000" stroke-width="0.9"/>
<line x1="438.14" y1="542.63" x2="432.54" y2="553.03" stroke="#000" stroke-width="0.9"/>
<line x1="440.86" y1="543.11" x2="435.26" y2="553.51" stroke="#000" stroke-width="0.9"/>
<line x1="443.57" y1="543.59" x2="437.98" y2="553.99" stroke="#000" stroke-width="0.9"/>
<line x1="446.29" y1="544.07" x2="440.7" y2="554.47" stroke="#000" stroke-width="0.9"/>
<line x1="421.98" y1="593.17" x2="417.99" y2="605.16" stroke="#000" stroke-width="0.9"/>
<line x1="424.54" y1="593.65" x2="420.55" y2="605.64" stroke="#000" stroke-width="0.9"/>
<line x1="427.1" y1="594.13" x2="423.1" y2="606.12" stroke="#000" stroke-width="0.9"/>
<line x1="429.66" y1="594.61" x2="425.66" y2="606.6" stroke="#000" stroke-width="0.9"/>
<line x1="432.22" y1="595.09" x2="428.22" y2="607.08" stroke="#000" stroke-width="0.9"/>
<line x1="434.78" y1="595.57" x2="430.78" y2="607.56" stroke="#000" stroke-width="0.9"/>
<path d="M422.78 537.2 L431.58 538.8 L424.38 550.47 L417.51 549.51Z" fill="#000" stroke="none" stroke-width="1.4" stroke-linejoin="round" stroke-linecap="round"/>
<path d="M411.59 589.97 L420.39 591.25 L416.39 605.16 L410.15 604.36Z" fill="#000" stroke="none" stroke-width="1.4" stroke-linejoin="round" stroke-linecap="round"/>
<path d="M413.99 592.69 L418.47 593.33 L416.87 600.37 L413.35 599.73Z" fill="#fff" stroke="none" stroke-width="1.4" stroke-linejoin="round" stroke-linecap="round"/>
<path d="M408.87 555.59 L453.17 561.98 L442.77 593.17 L410.47 587.89Z" fill="#fff" stroke="none" stroke-width="1.4" stroke-linejoin="round" stroke-linecap="round"/>
<path d="M440.86 566.46 L452.69 567.74 L453.65 584.37 L452.05 586.29 L440.86 584.69 L438.3 582.45 L438.62 569.02Z" fill="#fff" stroke="#000" stroke-width="2.6" stroke-linejoin="round" stroke-linecap="round"/>
<circle cx="445.65" cy="579.9" r="2.6" fill="#000"/>
<path d="M443.57 570.78 L448.37 571.58 L447.89 575.58 L444.05 575.1Z" fill="#000" stroke="none" stroke-width="1.4" stroke-linejoin="round" stroke-linecap="round"/>
<path d="M462.57 556.26 L463.27 559.45 L463.75 562.85 L464.01 566.41 L464.06 570.1 L463.88 573.87 L463.49 577.69 L462.88 581.51 L462.06 585.29 L461.05 588.99 L459.85 592.57 L458.47 595.99 L456.94 599.22 L455.27 602.21 L453.47 604.93 L451.56 607.36" fill="none" stroke="#000" stroke-width="2.2"/>
<path d="M461.32 557.73 L461.96 560.71 L462.41 563.87 L462.66 567.19 L462.7 570.63 L462.53 574.15 L462.17 577.71 L461.6 581.27 L460.84 584.79 L459.89 588.25 L458.78 591.59 L457.49 594.78 L456.06 597.78 L454.5 600.57 L452.82 603.11 L451.05 605.38" fill="none" stroke="#000" stroke-width="1"/>
<path d="M460.06 559.2 L460.66 561.96 L461.07 564.89 L461.3 567.97 L461.34 571.16 L461.19 574.42 L460.85 577.72 L460.32 581.03 L459.62 584.3 L458.74 587.5 L457.7 590.6 L456.51 593.56 L455.19 596.35 L453.74 598.93 L452.18 601.29 L450.54 603.39" fill="none" stroke="#000" stroke-width="1"/>
<path d="M458.8 560.66 L459.35 563.21 L459.74 565.91 L459.95 568.75 L459.98 571.69 L459.84 574.7 L459.53 577.74 L459.04 580.79 L458.39 583.81 L457.59 586.76 L456.63 589.61 L455.53 592.34 L454.31 594.91 L452.97 597.29 L451.54 599.47 L450.02 601.4" fill="none" stroke="#000" stroke-width="1.5"/>
<path d="M466.44 545.19 L472.36 545.99 L473.48 549.19 L472.36 582.77 L469.16 585.17 L465.16 583.57 L467.08 561.98Z" fill="#fff" stroke="#000" stroke-width="1.5" stroke-linejoin="round" stroke-linecap="round"/>
<path d="M453.97 530 L458.77 531.28 L465.16 532.88 L468.68 536.4 L467.56 545.19 L462.77 545.99 L462.29 539.92 L457.97 538.8" fill="none" stroke="#000" stroke-width="2.2" stroke-linejoin="round" stroke-linecap="round"/>
<path d="M445.97 613.16 L437.98 619.56 L436.38 624.35 L438.78 633.95 L450.77 637.47 L453.97 640.35 L453.17 645.14" fill="none" stroke="#000" stroke-width="2.2" stroke-linejoin="round" stroke-linecap="round"/>
<path d="M458.77 606.76 L460.37 614.76 L453.97 625.95 L445.97 632.35" fill="none" stroke="#000" stroke-width="1.6" stroke-linejoin="round" stroke-linecap="round"/>
<ellipse cx="464.36" cy="599.09" rx="3.6" ry="8.2" transform="rotate(12 464.36 599.09)" fill="#fff" stroke="#000" stroke-width="2.4"/>
<path d="M467.52 489.55 L509.3 497.05 L515.27 502 L514.59 505.58" fill="none" stroke-width="2.6" stroke="#000" stroke-linejoin="round" stroke-linecap="round"/>
<path d="M478.61 498.59 L489.69 495.86 L497.54 498.08 L500.95 503.19 L490.12 504.9 L484.57 502.34Z" fill="#fff" stroke="#000" stroke-width="2.3" stroke-linejoin="round" stroke-linecap="round"/>
<path d="M503.51 498.59 L509.47 497.74 L514.93 502 L512.03 505.75 L506.06 504.9Z" fill="#fff" stroke="#000" stroke-width="2.3" stroke-linejoin="round" stroke-linecap="round"/>
<path d="M489.01 506.61 L519.71 507.46 L523.8 514.28 L522.27 518.54 L489.86 513.43 L486.28 509.85Z" fill="#fff" stroke="#000" stroke-width="2.3" stroke-linejoin="round" stroke-linecap="round"/>
<path d="M507.17 508.57 L518.68 508.99 L520.82 513.68 L508.45 511.72Z" fill="#fff" stroke-width="1.2" stroke="#000" stroke-linejoin="round" stroke-linecap="round"/>
<path d="M438.53 505.58 L446.2 497.48 L483.3 504.73 L486.45 509.42 L477.75 512.23Z" fill="#fff" stroke="#000" stroke-width="2.3" stroke-linejoin="round" stroke-linecap="round"/>
<path d="M448.08 501.49 L481.16 508.14" fill="none" stroke-width="1.2" stroke="#000" stroke-linejoin="round" stroke-linecap="round"/>
<path d="M446.2 497.48 L448.08 501.49 L440.06 506.01" fill="none" stroke-width="1.2" stroke="#000" stroke-linejoin="round" stroke-linecap="round"/>
<path d="M431.32 664.28 L474.81 673.66 L482.65 671.1" fill="none" stroke-width="2.4" stroke="#000" stroke-linejoin="round" stroke-linecap="round"/>
<path d="M462.19 644.16 L506.53 645.52 L507.72 648.42 L503.12 655.58 L463.04 650.64 L461.16 647.05Z" fill="#fff" stroke="#000" stroke-width="2.3" stroke-linejoin="round" stroke-linecap="round"/>
<path d="M465.43 647.48 L502.52 651.32" fill="none" stroke-width="1.2" stroke="#000" stroke-linejoin="round" stroke-linecap="round"/>
<path d="M460.48 658.31 L494.59 660.02 L495.44 663.43 L490.33 668.54 L475.23 674.34 L469.69 670.08 L461.16 662.4Z" fill="#fff" stroke="#000" stroke-width="2.3" stroke-linejoin="round" stroke-linecap="round"/>
<path d="M466.28 663.68 L471.4 664.54 L469.69 668.8 L465.43 667.52Z" fill="#fff" stroke-width="1.4" stroke="#000" stroke-linejoin="round" stroke-linecap="round"/>
<path d="M473.1 665.39 L478.22 666.24 L476.09 670.93 L471.82 669.65Z" fill="#fff" stroke-width="1.4" stroke="#000" stroke-linejoin="round" stroke-linecap="round"/>
<path d="M447.52 659.5 L450.08 664.11 L454.34 666.67 L464.57 668.37" fill="none" stroke-width="2" stroke="#000" stroke-linejoin="round" stroke-linecap="round"/>
<path d="M412.56 638.53 L415.29 637.33 L459.12 651.32 L457.92 656.43 L417.85 650.12 L413.58 642.96Z" fill="#fff" stroke="#000" stroke-width="2.3" stroke-linejoin="round" stroke-linecap="round"/>
<path d="M419.55 642.79 L456.05 654.05" fill="none" stroke-width="1.2" stroke="#000" stroke-linejoin="round" stroke-linecap="round"/>
<path d="M415.29 637.33 L419.55 642.79 L417.85 650.12" fill="none" stroke-width="1.2" stroke="#000" stroke-linejoin="round" stroke-linecap="round"/>
<ellipse cx="452.87" cy="515.34" rx="1" ry="1.8" transform="rotate(20 452.87 515.34)" fill="#fff" stroke="#000" stroke-width="0.8"/>
<ellipse cx="419.11" cy="616.36" rx="1" ry="1.8" transform="rotate(40 419.11 616.36)" fill="#fff" stroke="#000" stroke-width="0.8"/>
<ellipse cx="663.33" cy="617.41" rx="38.76" ry="81.6" transform="rotate(10.6 663.33 617.41)" fill="#fff" stroke="#000" stroke-width="1.4"/>
<ellipse cx="665.49" cy="617.81" rx="38.76" ry="81.6" transform="rotate(10.6 665.49 617.81)" fill="#fff" stroke="#000" stroke-width="1.2"/>
<rect x="624.71" y="610.78" width="2.2" height="5" fill="#000"/>
<rect x="649.64" y="695.52" width="2.2" height="5" fill="#000"/>
<rect x="695.36" y="549.21" width="2.2" height="5" fill="#000"/>
<path d="M709.85 560.3 L712.43 561.14 L714.85 562.67 L717.09 564.86 L719.12 567.7 L720.92 571.15 L722.47 575.17 L723.75 579.73 L724.74 584.76 L725.45 590.23 L725.85 596.05 L725.95 602.18 L725.74 608.55 L725.23 615.07 L724.42 621.7 L723.32 628.34 L721.94 634.93 L720.3 641.4 L718.42 647.67 L716.31 653.68 L714 659.35 L711.52 664.64 L708.89 669.48 L706.14 673.81 L703.3 677.6 L700.4 680.79 L697.48 683.36 L694.56 685.27 L691.68 686.5 L688.87 687.05 L686.15 686.9 L656.15 681.2 L653.04 680.26 L650.1 678.64 L647.34 676.35 L644.82 673.42 L642.55 669.88 L640.56 665.77 L638.87 661.14 L637.49 656.03 L636.46 650.51 L635.76 644.63 L635.42 638.45 L635.44 632.05 L635.82 625.5 L636.54 618.86 L637.62 612.21 L639.02 605.63 L640.74 599.18 L642.76 592.93 L645.06 586.96 L647.61 581.32 L650.38 576.09 L653.35 571.32 L656.47 567.05 L659.72 563.35 L663.07 560.24 L666.46 557.76 L669.88 555.94 L673.27 554.8 L676.61 554.35 L679.85 554.6Z" fill="#fff" stroke="#000" stroke-width="1.6" stroke-linejoin="round"/>
<path d="M652.51 680.02 L650.67 679.02 L681.62 684.89 L683.13 685.84Z" fill="#000" stroke="#000" stroke-width="0.5"/>
<path d="M649.17 677.95 L647.47 676.47 L679.01 682.46 L680.39 683.88Z" fill="#000" stroke="#000" stroke-width="0.5"/>
<path d="M646.09 675.01 L644.57 673.07 L676.68 679.16 L677.9 681.05Z" fill="#000" stroke="#000" stroke-width="0.5"/>
<path d="M643.34 671.23 L642 668.86 L674.65 675.06 L675.7 677.37Z" fill="#000" stroke="#000" stroke-width="0.5"/>
<path d="M640.95 666.67 L639.82 663.91 L672.97 670.2 L673.83 672.91Z" fill="#000" stroke="#000" stroke-width="0.5"/>
<path d="M638.95 661.41 L638.05 658.29 L671.65 664.67 L672.32 667.74Z" fill="#000" stroke="#000" stroke-width="0.5"/>
<path d="M637.38 655.5 L636.71 652.08 L670.72 658.53 L671.17 661.91Z" fill="#000" stroke="#000" stroke-width="0.5"/>
<path d="M636.25 649.05 L635.83 645.37 L670.18 651.89 L670.42 655.53Z" fill="#000" stroke="#000" stroke-width="0.5"/>
<path d="M635.58 642.15 L635.42 638.27 L670.05 644.83 L670.07 648.69Z" fill="#000" stroke="#000" stroke-width="0.5"/>
<path d="M635.39 634.89 L635.48 630.86 L670.33 637.47 L670.13 641.48Z" fill="#000" stroke="#000" stroke-width="0.5"/>
<path d="M635.67 627.38 L636.02 623.27 L671.01 629.9 L670.59 634.01Z" fill="#000" stroke="#000" stroke-width="0.5"/>
<path d="M636.43 619.74 L637.03 615.59 L672.08 622.24 L671.46 626.38Z" fill="#000" stroke="#000" stroke-width="0.5"/>
<path d="M637.64 612.07 L638.48 607.96 L673.54 614.6 L672.71 618.72Z" fill="#000" stroke="#000" stroke-width="0.5"/>
<path d="M639.3 604.48 L640.37 600.46 L675.35 607.09 L674.33 611.12Z" fill="#000" stroke="#000" stroke-width="0.5"/>
<path d="M641.38 597.09 L642.66 593.22 L677.49 599.82 L676.29 603.71Z" fill="#000" stroke="#000" stroke-width="0.5"/>
<path d="M643.84 590.01 L645.32 586.34 L679.92 592.9 L678.57 596.59Z" fill="#000" stroke="#000" stroke-width="0.5"/>
<path d="M646.66 583.33 L648.31 579.92 L682.63 586.43 L681.14 589.86Z" fill="#000" stroke="#000" stroke-width="0.5"/>
<path d="M649.79 577.15 L651.59 574.06 L685.55 580.5 L683.95 583.63Z" fill="#000" stroke="#000" stroke-width="0.5"/>
<path d="M653.18 571.57 L655.1 568.83 L688.66 575.2 L686.96 577.98Z" fill="#000" stroke="#000" stroke-width="0.5"/>
<path d="M656.79 566.66 L658.81 564.32 L691.9 570.6 L690.14 572.99Z" fill="#000" stroke="#000" stroke-width="0.5"/>
<path d="M660.56 562.5 L662.65 560.59 L695.24 566.77 L693.43 568.74Z" fill="#000" stroke="#000" stroke-width="0.5"/>
<path d="M664.44 559.15 L666.56 557.7 L698.61 563.78 L696.79 565.29Z" fill="#000" stroke="#000" stroke-width="0.5"/>
<path d="M668.38 556.66 L670.5 555.68 L701.97 561.66 L700.16 562.69Z" fill="#000" stroke="#000" stroke-width="0.5"/>
<path d="M672.3 555.06 L674.4 554.57 L705.28 560.44 L703.51 560.98Z" fill="#000" stroke="#000" stroke-width="0.5"/>
<path d="M676.17 554.37 L678.21 554.39 L708.48 560.14 L706.77 560.18Z" fill="#000" stroke="#000" stroke-width="0.5"/>
<path d="M656.15 681.2 L653.04 680.26 L650.1 678.64 L647.34 676.35 L644.82 673.42 L642.55 669.88 L640.56 665.77 L638.87 661.14 L637.49 656.03 L636.46 650.51 L635.76 644.63 L635.42 638.45 L635.44 632.05 L635.82 625.5 L636.54 618.86 L637.62 612.21 L639.02 605.63 L640.74 599.18 L642.76 592.93 L645.06 586.96 L647.61 581.32 L650.38 576.09 L653.35 571.32 L656.47 567.05 L659.72 563.35 L663.07 560.24 L666.46 557.76 L669.88 555.94 L673.27 554.8 L676.61 554.35 L679.85 554.6" fill="none" stroke="#000" stroke-width="1.8"/>
<ellipse cx="698" cy="623.6" rx="25.76" ry="64.4" transform="rotate(10.6 698 623.6)" fill="#fff" stroke="#000" stroke-width="2.8"/>
<line x1="722.7" y1="630.49" x2="721.15" y2="630.06" stroke="#000" stroke-width="1.3"/>
<line x1="721" y1="637.99" x2="719.56" y2="637.09" stroke="#000" stroke-width="1.3"/>
<line x1="718.96" y1="645.27" x2="717.65" y2="643.92" stroke="#000" stroke-width="1.3"/>
<line x1="716.62" y1="652.24" x2="715.45" y2="650.45" stroke="#000" stroke-width="1.3"/>
<line x1="714" y1="658.8" x2="713" y2="656.59" stroke="#000" stroke-width="1.3"/>
<line x1="711.15" y1="664.84" x2="710.33" y2="662.25" stroke="#000" stroke-width="1.3"/>
<line x1="708.12" y1="670.27" x2="707.48" y2="667.35" stroke="#000" stroke-width="1.3"/>
<line x1="704.93" y1="675.03" x2="704.49" y2="671.81" stroke="#000" stroke-width="1.3"/>
<line x1="701.64" y1="679.04" x2="701.41" y2="675.57" stroke="#000" stroke-width="1.3"/>
<line x1="698.3" y1="682.24" x2="698.28" y2="678.57" stroke="#000" stroke-width="1.3"/>
<line x1="694.95" y1="684.58" x2="695.15" y2="680.76" stroke="#000" stroke-width="1.3"/>
<line x1="691.65" y1="686.04" x2="692.05" y2="682.13" stroke="#000" stroke-width="1.3"/>
<line x1="688.44" y1="686.58" x2="689.04" y2="682.64" stroke="#000" stroke-width="1.3"/>
<line x1="713.51" y1="562.28" x2="712.54" y2="566.12" stroke="#000" stroke-width="1.3"/>
<line x1="716.17" y1="564.46" x2="715.03" y2="568.16" stroke="#000" stroke-width="1.3"/>
<line x1="718.56" y1="567.5" x2="717.27" y2="571.02" stroke="#000" stroke-width="1.3"/>
<line x1="720.66" y1="571.37" x2="719.24" y2="574.64" stroke="#000" stroke-width="1.3"/>
<line x1="722.42" y1="575.99" x2="720.89" y2="578.97" stroke="#000" stroke-width="1.3"/>
<line x1="723.83" y1="581.31" x2="722.21" y2="583.95" stroke="#000" stroke-width="1.3"/>
<line x1="724.86" y1="587.24" x2="723.18" y2="589.52" stroke="#000" stroke-width="1.3"/>
<line x1="725.5" y1="593.71" x2="723.78" y2="595.58" stroke="#000" stroke-width="1.3"/>
<line x1="725.74" y1="600.61" x2="724" y2="602.05" stroke="#000" stroke-width="1.3"/>
<line x1="725.57" y1="607.84" x2="723.84" y2="608.83" stroke="#000" stroke-width="1.3"/>
<line x1="725" y1="615.31" x2="723.31" y2="615.83" stroke="#000" stroke-width="1.3"/>
<line x1="724.04" y1="622.89" x2="722.41" y2="622.94" stroke="#000" stroke-width="1.3"/>
<path d="M706.85 565.05 L709.38 565.31 L711.79 566.23 L714.04 567.81 L716.1 570.03 L717.96 572.86 L719.59 576.27 L720.97 580.22 L722.09 584.66 L722.93 589.55 L723.49 594.83 L723.76 600.44 L723.73 606.32 L723.41 612.39 L722.8 618.59 L721.91 624.84 L720.74 631.09 L719.31 637.24 L717.64 643.24 L715.74 649.02 L713.64 654.51 L711.36 659.64 L708.93 664.36 L706.38 668.61 L703.73 672.35 L701.01 675.54 L698.26 678.13 L695.5 680.09 L692.78 681.41 L690.11 682.07 L687.54 682.06 L685.08 681.38" fill="none" stroke="#000" stroke-width="1"/>
<ellipse cx="698" cy="623.6" rx="20" ry="50" transform="rotate(10.6 698 623.6)" fill="#fff" stroke="#000" stroke-width="2"/>
<path d="M687.12 672.24 L685.2 671.13 L683.42 669.48 L681.8 667.32 L680.36 664.67 L679.12 661.55 L678.1 658.01 L677.29 654.09 L676.72 649.82 L676.39 645.26 L676.3 640.46 L676.45 635.47 L676.85 630.34 L677.48 625.14 L678.34 619.92 L679.42 614.74 L680.72 609.67 L682.2 604.74 L683.86 600.03 L685.69 595.59 L687.64 591.46 L689.72 587.68 L691.89 584.32 L694.13 581.39 L696.41 578.93 L698.7 576.98 L700.99 575.55 L703.25 574.66 L705.45 574.32 L713.31 575.79 L711.11 576.13 L708.86 577.02 L706.57 578.45 L704.27 580.41 L701.99 582.86 L699.75 585.79 L697.58 589.16 L695.51 592.93 L693.55 597.06 L691.73 601.5 L690.06 606.22 L688.58 611.14 L687.29 616.22 L686.2 621.39 L685.34 626.61 L684.71 631.81 L684.31 636.94 L684.16 641.93 L684.25 646.74 L684.58 651.3 L685.16 655.56 L685.96 659.49 L686.99 663.02 L688.23 666.14 L689.66 668.79 L691.28 670.95 L693.06 672.6 L694.99 673.71Z" fill="#111" stroke="#000" stroke-width="1"/>
<path d="M695.71 577.08 L697.4 578.54 L698.93 580.48 L700.3 582.89 L701.48 585.74 L702.46 588.99 L703.23 592.62 L703.78 596.57 L704.11 600.8 L704.21 605.27 L704.07 609.92 L703.71 614.69 L703.13 619.54 L702.32 624.41 L701.31 629.24 L700.11 633.97 L698.71 638.55 L697.16 642.93 L695.45 647.06 L693.61 650.89 L691.67 654.38 L689.64 657.48 L687.55 660.16 L685.42 662.39 L683.28 664.14 L681.14 665.4 L679.05 666.14" fill="none" stroke="#000" stroke-width="1.2"/>
<path d="M685.62 586.87 L687.27 586.04 L688.88 585.61 L690.45 585.58 L691.94 585.95 L693.34 586.72 L694.64 587.89 L695.82 589.42 L696.88 591.32 L697.78 593.56 L698.54 596.11 L699.13 598.94 L699.55 602.02 L699.79 605.32 L699.86 608.79 L699.76 612.41 L699.47 616.12 L699.02 619.89 L698.39 623.67 L697.61 627.43 L696.67 631.1 L695.59 634.67 L694.38 638.08 L693.06 641.29 L691.64 644.28 L690.13 647 L688.56 649.43 L686.93 651.53 L685.28 653.29 L683.61 654.68 L681.95 655.68 L680.32 656.3 L678.73 656.51 L677.21 656.32 L675.76 655.73 L674.41 654.74 L673.17 653.37" fill="none" stroke="#000" stroke-width="1.2"/>
<ellipse cx="690.14" cy="622.13" rx="9.6" ry="24" transform="rotate(10.6 690.14 622.13)" fill="#fff" stroke="#000" stroke-width="2"/>
<ellipse cx="689.15" cy="621.94" rx="6.8" ry="17" transform="rotate(10.6 689.15 621.94)" fill="#222" stroke="#000" stroke-width="1.5"/>
<path d="M690.23 601.38 L700.4 598.88 L706.73 607.52 L705.19 620.95 L695.6 623.83 L690.8 615.19Z" fill="#fff" stroke="#000" stroke-width="1.6" stroke-linejoin="round"/>
<path d="M692.72 603.68 L699.44 602.14 L697.13 620.95" fill="none" stroke="#000" stroke-width="0.9"/>
<ellipse cx="701.36" cy="614.23" rx="2.3" ry="4.6" transform="rotate(10 701.36 614.23)" fill="#fff" stroke="#000" stroke-width="1.5"/>
<path d="M681.21 582.57 L690.8 600.8 L684.08 615.19 L678.33 601.76Z" fill="#111" stroke="none"/>
<path d="M678.33 638.22 L687.92 640.14 L691.76 647.82 L678.33 651.66 L672.57 645.9Z" fill="#111" stroke="none"/>
<path d="M718.45 583.55 L718.75 583.65 L719.03 583.82 L719.29 584.07 L719.52 584.4 L719.73 584.8 L719.9 585.26 L720.05 585.78 L720.16 586.36 L720.25 586.99 L720.29 587.66 L720.3 588.36 L720.28 589.09 L720.22 589.84 L720.13 590.6 L720 591.37 L719.84 592.12 L719.65 592.87 L719.44 593.59 L719.2 594.28 L718.93 594.93 L718.65 595.54 L718.34 596.09 L718.03 596.59 L717.7 597.03 L717.37 597.39 L717.03 597.69 L716.7 597.91 L716.37 598.05 L716.04 598.11 L715.73 598.1 L681.33 591.66 L681.03 591.56 L680.75 591.39 L680.5 591.13 L680.26 590.81 L680.06 590.41 L679.88 589.95 L679.73 589.43 L679.62 588.85 L679.54 588.22 L679.49 587.55 L679.48 586.85 L679.5 586.11 L679.56 585.36 L679.65 584.6 L679.78 583.84 L679.94 583.08 L680.13 582.34 L680.34 581.62 L680.58 580.93 L680.85 580.28 L681.14 579.67 L681.44 579.11 L681.75 578.61 L682.08 578.18 L682.41 577.81 L682.75 577.52 L683.08 577.3 L683.42 577.16 L683.74 577.09 L684.05 577.11Z" fill="#fff" stroke="#000" stroke-width="1.7" stroke-linejoin="round"/>
<ellipse cx="717.09" cy="590.82" rx="2.96" ry="7.4" transform="rotate(10.6 717.09 590.82)" fill="#fff" stroke="#000" stroke-width="1.7"/>
<ellipse cx="717.09" cy="590.82" rx="1.48" ry="3.7" transform="rotate(10.6 717.09 590.82)" fill="#fff" stroke="#000" stroke-width="1.53"/>
<path d="M709.43 650.71 L709.73 650.81 L710.01 650.99 L710.27 651.24 L710.5 651.56 L710.71 651.96 L710.88 652.42 L711.03 652.95 L711.15 653.53 L711.23 654.15 L711.27 654.82 L711.28 655.53 L711.26 656.26 L711.2 657.01 L711.11 657.77 L710.98 658.53 L710.82 659.29 L710.64 660.03 L710.42 660.75 L710.18 661.44 L709.91 662.1 L709.63 662.7 L709.32 663.26 L709.01 663.76 L708.68 664.19 L708.35 664.56 L708.01 664.85 L707.68 665.07 L707.35 665.22 L707.02 665.28 L706.71 665.26 L672.31 658.82 L672.01 658.73 L671.73 658.55 L671.48 658.3 L671.24 657.97 L671.04 657.58 L670.86 657.11 L670.71 656.59 L670.6 656.01 L670.52 655.38 L670.47 654.71 L670.46 654.01 L670.48 653.28 L670.54 652.53 L670.63 651.77 L670.76 651.01 L670.92 650.25 L671.11 649.5 L671.32 648.78 L671.57 648.09 L671.83 647.44 L672.12 646.83 L672.42 646.28 L672.73 645.78 L673.06 645.35 L673.39 644.98 L673.73 644.68 L674.07 644.46 L674.4 644.32 L674.72 644.26 L675.03 644.28Z" fill="#fff" stroke="#000" stroke-width="1.7" stroke-linejoin="round"/>
<ellipse cx="708.07" cy="657.99" rx="2.96" ry="7.4" transform="rotate(10.6 708.07 657.99)" fill="#fff" stroke="#000" stroke-width="1.7"/>
<ellipse cx="708.07" cy="657.99" rx="1.48" ry="3.7" transform="rotate(10.6 708.07 657.99)" fill="#fff" stroke="#000" stroke-width="1.53"/>
<path d="M686.61 618.88 L686.87 618.97 L687.13 619.12 L687.36 619.34 L687.58 619.63 L687.77 619.97 L687.93 620.37 L688.07 620.83 L688.18 621.33 L688.26 621.88 L688.3 622.46 L688.32 623.07 L688.3 623.7 L688.26 624.35 L688.18 625.01 L688.07 625.67 L687.93 626.32 L687.77 626.96 L687.58 627.59 L687.36 628.18 L687.13 628.75 L686.87 629.27 L686.6 629.75 L686.32 630.18 L686.03 630.55 L685.73 630.87 L685.43 631.12 L685.12 631.31 L684.83 631.43 L684.53 631.48 L684.25 631.46 L669.51 628.7 L669.24 628.62 L668.98 628.46 L668.75 628.24 L668.53 627.96 L668.34 627.61 L668.18 627.21 L668.04 626.76 L667.93 626.26 L667.85 625.71 L667.81 625.13 L667.79 624.52 L667.81 623.89 L667.85 623.24 L667.93 622.58 L668.04 621.92 L668.18 621.26 L668.34 620.62 L668.53 620 L668.75 619.4 L668.98 618.84 L669.24 618.32 L669.51 617.84 L669.79 617.41 L670.08 617.03 L670.38 616.72 L670.68 616.47 L670.99 616.28 L671.29 616.16 L671.58 616.11 L671.86 616.12Z" fill="#fff" stroke="#000" stroke-width="1.6" stroke-linejoin="round"/>
<ellipse cx="685.43" cy="625.17" rx="2.69" ry="6.4" transform="rotate(10.6 685.43 625.17)" fill="#fff" stroke="#000" stroke-width="1.6"/>
<ellipse cx="685.43" cy="625.17" rx="1.48" ry="3.52" transform="rotate(10.6 685.43 625.17)" fill="#fff" stroke="#000" stroke-width="1.44"/>
<path d="M934.2 667.51 L932.75 674.46 L931.04 681.31 L929.08 688.01 L926.87 694.49 L924.45 700.72 L921.82 706.65 L919.01 712.22 L916.03 717.4 L912.92 722.15 L909.69 726.44 L906.37 730.22 L902.99 733.47 L899.56 736.17 L896.13 738.3 L892.7 739.83 L889.31 740.76 L885.99 741.08 L882.76 740.79 L879.64 739.89 L876.65 738.39 L873.83 736.3 L871.19 733.63 L868.76 730.41 L866.54 726.65 L864.56 722.39 L862.83 717.67 L861.37 712.51 L860.19 706.95 L859.29 701.05 L858.69 694.83 L858.38 688.36 L858.37 681.67 L858.66 674.83 L859.25 667.88 L860.13 660.87 L861.3 653.86 L862.74 646.91 L864.46 640.06 L866.42 633.36 L868.62 626.88 L871.05 620.65 L873.68 614.72 L876.49 609.15 L879.46 603.97 L882.57 599.22 L885.8 594.93 L889.12 591.15 L892.51 587.9 L895.93 585.2 L899.37 583.07 L902.8 581.54 L906.18 580.61 L909.51 580.29 L912.74 580.58 L915.86 581.48 L918.84 582.98 L921.66 585.07 L924.3 587.74 L926.74 590.96 L928.96 594.72 L930.94 598.98 L932.66 603.7 L934.12 608.86 L935.31 614.42 L936.2 620.32 L936.81 626.54 L937.12 633.01 L937.13 639.7 L936.84 646.54 L936.25 653.49 L935.37 660.5Z M927.94 666.33 L926.74 672.1 L925.32 677.77 L923.69 683.31 L921.87 688.69 L919.86 693.85 L917.68 698.75 L915.35 703.37 L912.89 707.66 L910.31 711.6 L907.64 715.14 L904.89 718.27 L902.09 720.97 L899.25 723.2 L896.4 724.96 L893.57 726.23 L890.76 727.01 L888.01 727.27 L885.33 727.03 L882.75 726.29 L880.28 725.04 L877.94 723.31 L875.75 721.1 L873.74 718.43 L871.9 715.32 L870.26 711.79 L868.83 707.88 L867.62 703.61 L866.64 699 L865.9 694.11 L865.4 688.97 L865.14 683.6 L865.13 678.07 L865.37 672.4 L865.86 666.64 L866.59 660.84 L867.56 655.04 L868.76 649.27 L870.17 643.6 L871.8 638.06 L873.63 632.68 L875.64 627.52 L877.81 622.62 L880.14 618 L882.6 613.71 L885.18 609.77 L887.85 606.23 L890.6 603.1 L893.41 600.4 L896.24 598.17 L899.09 596.41 L901.93 595.14 L904.73 594.36 L907.49 594.1 L910.16 594.34 L912.75 595.08 L915.22 596.33 L917.55 598.06 L919.74 600.27 L921.76 602.94 L923.6 606.05 L925.23 609.58 L926.66 613.49 L927.87 617.76 L928.85 622.37 L929.6 627.26 L930.1 632.4 L930.36 637.77 L930.36 643.3 L930.12 648.97 L929.63 654.73 L928.9 660.53Z" fill="#fff" fill-rule="evenodd" stroke="#000" stroke-width="1.6"/>
<path d="M936.95 668.02 L935.5 674.98 L933.79 681.83 L931.83 688.52 L929.62 695.01 L927.2 701.24 L924.57 707.16 L921.76 712.74 L918.79 717.92 L915.67 722.67 L912.44 726.95 L909.13 730.73 L905.74 733.99 L902.32 736.69 L898.88 738.81 L895.45 740.35 L892.07 741.28 L888.74 741.6 L885.51 741.31 L882.39 740.41 L879.41 738.91 L876.58 736.81 L873.95 734.15 L871.51 730.92 L869.29 727.17 L867.31 722.91 L865.59 718.18 L864.13 713.02 L862.94 707.47 L862.04 701.56 L861.44 695.35 L861.13 688.87 L861.12 682.19 L861.41 675.34 L862 668.39 L862.88 661.39 L864.05 654.38 L865.5 647.42 L867.21 640.57 L869.17 633.88 L871.38 627.39 L873.8 621.16 L876.43 615.24 L879.24 609.66 L882.21 604.48 L885.33 599.73 L888.56 595.45 L891.87 591.67 L895.26 588.41 L898.68 585.71 L902.12 583.59 L905.55 582.05 L908.93 581.12 L912.26 580.8 L915.49 581.09 L918.61 581.99 L921.59 583.49 L924.42 585.59 L927.05 588.25 L929.49 591.48 L931.71 595.23 L933.69 599.49 L935.41 604.22 L936.87 609.38 L938.06 614.93 L938.96 620.84 L939.56 627.05 L939.87 633.53 L939.88 640.21 L939.59 647.06 L939 654.01 L938.12 661.01Z M930.69 666.85 L929.49 672.61 L928.07 678.29 L926.45 683.83 L924.62 689.2 L922.61 694.36 L920.44 699.27 L918.11 703.88 L915.64 708.18 L913.07 712.11 L910.39 715.66 L907.64 718.79 L904.84 721.48 L902 723.72 L899.16 725.48 L896.32 726.75 L893.51 727.52 L890.76 727.79 L888.08 727.55 L885.5 726.8 L883.03 725.56 L880.69 723.83 L878.51 721.61 L876.49 718.94 L874.65 715.83 L873.01 712.31 L871.58 708.39 L870.37 704.12 L869.39 699.52 L868.65 694.63 L868.15 689.48 L867.89 684.12 L867.89 678.58 L868.13 672.92 L868.61 667.16 L869.34 661.35 L870.31 655.55 L871.51 649.79 L872.93 644.11 L874.55 638.57 L876.38 633.2 L878.39 628.04 L880.56 623.13 L882.89 618.52 L885.36 614.22 L887.93 610.29 L890.61 606.74 L893.36 603.61 L896.16 600.92 L899 598.68 L901.84 596.92 L904.68 595.65 L907.49 594.88 L910.24 594.61 L912.92 594.85 L915.5 595.6 L917.97 596.84 L920.31 598.57 L922.49 600.79 L924.51 603.46 L926.35 606.57 L927.99 610.09 L929.42 614.01 L930.63 618.28 L931.61 622.88 L932.35 627.77 L932.85 632.92 L933.11 638.28 L933.11 643.82 L932.87 649.48 L932.39 655.24 L931.66 661.05Z" fill="#fff" fill-rule="evenodd" stroke="none"/>
<path d="M936.59 667.95L936.07 670.62L930.61 669.17L931.05 666.92ZM935.7 672.39L935.11 675.06L929.79 672.93L930.29 670.67ZM934.7 676.79L934.04 679.47L928.88 676.66L929.45 674.4ZM933.6 681.15L932.85 683.83L927.88 680.35L928.51 678.08ZM932.38 685.44L931.56 688.12L926.79 683.98L927.48 681.71ZM931.07 689.65L930.17 692.33L925.61 687.55L926.37 685.28ZM929.66 693.77L928.68 696.45L924.35 691.03L925.18 688.77ZM928.16 697.8L927.1 700.46L923.01 694.43L923.91 692.17ZM926.58 701.7L925.43 704.34L921.6 697.71L922.57 695.48ZM924.91 705.48L923.67 708.08L920.11 700.88L921.16 698.68ZM923.16 709.12L921.85 711.68L918.57 703.92L919.68 701.76ZM921.34 712.61L919.95 715.11L916.96 706.82L918.14 704.71ZM919.46 715.94L917.99 718.36L915.3 709.58L916.55 707.53ZM917.52 719.09L915.97 721.43L913.59 712.17L914.9 710.2ZM915.52 722.07L913.9 724.3L911.84 714.6L913.22 712.71ZM913.48 724.85L911.79 726.96L910.06 716.86L911.49 715.07ZM911.4 727.43L909.64 729.41L908.24 718.93L909.72 717.25ZM909.28 729.8L907.47 731.63L906.4 720.81L907.93 719.26ZM907.13 731.96L905.28 733.63L904.54 722.5L906.11 721.09ZM904.97 733.89L903.07 735.39L902.67 723.99L904.28 722.72ZM902.78 735.6L900.85 736.91L900.8 725.28L902.43 724.17ZM900.6 737.07L898.64 738.18L898.93 726.35L900.58 725.41ZM898.41 738.3L896.44 739.21L897.06 727.22L898.73 726.46ZM896.23 739.29L894.25 739.98L895.21 727.88L896.88 727.29ZM894.06 740.04L892.09 740.5L893.38 728.32L895.05 727.92ZM891.91 740.53L889.95 740.77L891.57 728.54L893.23 728.34ZM889.79 740.78L887.85 740.79L889.8 728.56L891.44 728.55ZM887.7 740.78L885.8 740.55L888.06 728.36L889.67 728.55ZM885.66 740.52L883.79 740.06L886.36 727.95L887.94 728.33ZM883.65 740.02L881.84 739.33L884.71 727.32L886.24 727.91ZM881.71 739.27L879.96 738.35L883.11 726.5L884.6 727.27ZM879.82 738.27L878.13 737.14L881.57 725.47L883 726.43ZM878 737.03L876.39 735.68L880.09 724.24L881.45 725.38ZM876.24 735.55L874.71 734L878.68 722.82L879.97 724.13ZM874.57 733.84L873.12 732.1L877.33 721.2L878.55 722.68ZM872.97 731.9L871.62 729.98L876.06 719.41L877.2 721.04ZM871.47 729.74L870.21 727.65L874.87 717.44L875.93 719.21ZM870.05 727.36L868.89 725.12L873.75 715.3L874.73 717.19ZM868.73 724.77L867.68 722.39L872.72 712.99L873.61 715ZM867.51 721.98L866.56 719.49L871.77 710.53L872.58 712.64ZM866.39 719.01L865.55 716.4L870.92 707.92L871.63 710.12ZM865.38 715.85L864.64 713.15L870.15 705.17L870.78 707.45ZM864.48 712.51L863.85 709.74L869.48 702.29L870.02 704.63ZM863.7 709.02L863.16 706.19L868.9 699.28L869.35 701.67ZM863.03 705.38L862.59 702.5L868.42 696.16L868.78 698.59ZM862.47 701.59L862.14 698.69L868.03 692.93L868.32 695.39ZM862.04 697.68L861.8 694.76L867.75 689.61L867.95 692.08ZM861.73 693.66L861.58 690.73L867.56 686.2L867.69 688.67ZM861.54 689.53L861.48 686.61L867.48 682.71L867.53 685.18ZM861.47 685.32L861.5 682.41L867.49 679.15L867.47 681.61ZM861.53 681.02L861.64 678.14L867.61 675.54L867.52 677.98ZM861.71 676.67L861.89 673.82L867.82 671.88L867.67 674.29ZM862.01 672.27L862.26 669.45L868.14 668.18L867.92 670.57ZM862.43 667.83L862.75 665.05L868.55 664.46L868.28 666.81ZM862.97 663.37L863.36 660.63L869.07 660.72L868.74 663.04ZM863.63 658.9L864.09 656.21L869.68 656.97L869.3 659.26ZM864.41 654.45L864.93 651.78L870.39 653.23L869.95 655.48ZM865.3 650.01L865.89 647.34L871.21 649.47L870.71 651.73ZM866.3 645.61L866.96 642.93L872.12 645.74L871.55 648ZM867.4 641.25L868.15 638.57L873.12 642.05L872.49 644.32ZM868.62 636.96L869.44 634.28L874.21 638.42L873.52 640.69ZM869.93 632.75L870.83 630.07L875.39 634.85L874.63 637.12ZM871.34 628.63L872.32 625.95L876.65 631.37L875.82 633.63ZM872.84 624.6L873.9 621.94L877.99 627.97L877.09 630.23ZM874.42 620.7L875.57 618.06L879.4 624.69L878.43 626.92ZM876.09 616.92L877.33 614.32L880.89 621.52L879.84 623.72ZM877.84 613.28L879.15 610.72L882.43 618.48L881.32 620.64ZM879.66 609.79L881.05 607.29L884.04 615.58L882.86 617.69ZM881.54 606.46L883.01 604.04L885.7 612.82L884.45 614.87ZM883.48 603.31L885.03 600.97L887.41 610.23L886.1 612.2ZM885.48 600.33L887.1 598.1L889.16 607.8L887.78 609.69ZM887.52 597.55L889.21 595.44L890.94 605.54L889.51 607.33ZM889.6 594.97L891.36 592.99L892.76 603.47L891.28 605.15ZM891.72 592.6L893.53 590.77L894.6 601.59L893.07 603.14ZM893.87 590.44L895.72 588.77L896.46 599.9L894.89 601.31ZM896.03 588.51L897.93 587.01L898.33 598.41L896.72 599.68ZM898.22 586.8L900.15 585.49L900.2 597.12L898.57 598.23ZM900.4 585.33L902.36 584.22L902.07 596.05L900.42 596.99ZM902.59 584.1L904.56 583.19L903.94 595.18L902.27 595.94ZM904.77 583.11L906.75 582.42L905.79 594.52L904.12 595.11ZM906.94 582.36L908.91 581.9L907.62 594.08L905.95 594.48ZM909.09 581.87L911.05 581.63L909.43 593.86L907.77 594.06ZM911.21 581.62L913.15 581.61L911.2 593.84L909.56 593.85ZM913.3 581.62L915.2 581.85L912.94 594.04L911.33 593.85ZM915.34 581.88L917.21 582.34L914.64 594.45L913.06 594.07ZM917.35 582.38L919.16 583.07L916.29 595.08L914.76 594.49ZM919.29 583.13L921.04 584.05L917.89 595.9L916.4 595.13ZM921.18 584.13L922.87 585.26L919.43 596.93L918 595.97ZM923 585.37L924.61 586.72L920.91 598.16L919.55 597.02ZM924.76 586.85L926.29 588.4L922.32 599.58L921.03 598.27ZM926.43 588.56L927.88 590.3L923.67 601.2L922.45 599.72ZM928.03 590.5L929.38 592.42L924.94 602.99L923.8 601.36ZM929.53 592.66L930.79 594.75L926.13 604.96L925.07 603.19ZM930.95 595.04L932.11 597.28L927.25 607.1L926.27 605.21ZM932.27 597.63L933.32 600.01L928.28 609.41L927.39 607.4ZM933.49 600.42L934.44 602.91L929.23 611.87L928.42 609.76ZM934.61 603.39L935.45 606L930.08 614.48L929.37 612.28ZM935.62 606.55L936.36 609.25L930.85 617.23L930.22 614.95ZM936.52 609.89L937.15 612.66L931.52 620.11L930.98 617.77ZM937.3 613.38L937.84 616.21L932.1 623.12L931.65 620.73ZM937.97 617.02L938.41 619.9L932.58 626.24L932.22 623.81ZM938.53 620.81L938.86 623.71L932.97 629.47L932.68 627.01ZM938.96 624.72L939.2 627.64L933.25 632.79L933.05 630.32ZM939.27 628.74L939.42 631.67L933.44 636.2L933.31 633.73ZM939.46 632.87L939.52 635.79L933.52 639.69L933.47 637.22ZM939.53 637.08L939.5 639.99L933.51 643.25L933.53 640.79ZM939.47 641.38L939.36 644.26L933.39 646.86L933.48 644.42ZM939.29 645.73L939.11 648.58L933.18 650.52L933.33 648.11ZM938.99 650.13L938.74 652.95L932.86 654.22L933.08 651.83ZM938.57 654.57L938.25 657.35L932.45 657.94L932.72 655.59ZM938.03 659.03L937.64 661.77L931.93 661.68L932.26 659.36ZM937.37 663.5L936.91 666.19L931.32 665.43L931.7 663.14Z" fill="#000" stroke="none"/>
<ellipse cx="900.5" cy="661.2" rx="37.08" ry="81.5" transform="rotate(10.6 900.5 661.2)" fill="none" stroke="#000" stroke-width="2.2"/>
<ellipse cx="900.5" cy="661.2" rx="30.71" ry="67.5" transform="rotate(10.6 900.5 661.2)" fill="none" stroke="#000" stroke-width="2.7"/>
<path d="M931.89 670.95 L936.15 672.81 L932.52 687.08 L928.43 684.55Z" fill="#fff" stroke="#000" stroke-width="1.8" stroke-linejoin="round"/>
<path d="M934.64 671.47 L938.9 673.33 L935.28 687.6 L931.19 685.06Z" fill="#fff" stroke="#000" stroke-width="1.8" stroke-linejoin="round"/>
<path d="M919.3 707.7 L921.84 714.17 L915.6 724.9 L913.36 717.93Z" fill="#fff" stroke="#000" stroke-width="1.8" stroke-linejoin="round"/>
<path d="M922.05 708.22 L924.59 714.68 L918.35 725.41 L916.11 718.44Z" fill="#fff" stroke="#000" stroke-width="1.8" stroke-linejoin="round"/>
<path d="M900.93 731.86 L901.07 741.19 L893.9 745.5 L894.09 735.97Z" fill="#fff" stroke="#000" stroke-width="1.8" stroke-linejoin="round"/>
<path d="M903.68 732.37 L903.82 741.71 L896.65 746.02 L896.85 736.48Z" fill="#fff" stroke="#000" stroke-width="1.8" stroke-linejoin="round"/>
<path d="M881.71 736.94 L879.41 746.64 L873.22 743.39 L875.81 733.84Z" fill="#fff" stroke="#000" stroke-width="1.8" stroke-linejoin="round"/>
<path d="M884.46 737.46 L882.16 747.16 L875.97 743.9 L878.57 734.35Z" fill="#fff" stroke="#000" stroke-width="1.8" stroke-linejoin="round"/>
<path d="M866.79 721.59 L862.67 729.06 L859.12 719.11 L863.41 712.11Z" fill="#fff" stroke="#000" stroke-width="1.8" stroke-linejoin="round"/>
<path d="M869.54 722.11 L865.42 729.58 L861.87 719.62 L866.16 712.62Z" fill="#fff" stroke="#000" stroke-width="1.8" stroke-linejoin="round"/>
<path d="M860.16 689.92 L855.32 693.16 L855.37 679.17 L860.21 676.59Z" fill="#fff" stroke="#000" stroke-width="1.8" stroke-linejoin="round"/>
<path d="M862.91 690.44 L858.07 693.68 L858.12 679.69 L862.96 677.11Z" fill="#fff" stroke="#000" stroke-width="1.8" stroke-linejoin="round"/>
<path d="M863.61 650.42 L859.34 648.56 L862.97 634.29 L867.06 636.82Z" fill="#fff" stroke="#000" stroke-width="1.8" stroke-linejoin="round"/>
<path d="M866.36 650.93 L862.1 649.07 L865.72 634.8 L869.81 637.34Z" fill="#fff" stroke="#000" stroke-width="1.8" stroke-linejoin="round"/>
<path d="M876.2 613.67 L873.66 607.2 L879.89 596.47 L882.14 603.44Z" fill="#fff" stroke="#000" stroke-width="1.8" stroke-linejoin="round"/>
<path d="M878.95 614.18 L876.41 607.72 L882.65 596.99 L884.89 603.96Z" fill="#fff" stroke="#000" stroke-width="1.8" stroke-linejoin="round"/>
<path d="M894.56 589.51 L894.42 580.18 L901.6 575.87 L901.4 585.4Z" fill="#fff" stroke="#000" stroke-width="1.8" stroke-linejoin="round"/>
<path d="M897.32 590.03 L897.18 580.69 L904.35 576.38 L904.15 585.92Z" fill="#fff" stroke="#000" stroke-width="1.8" stroke-linejoin="round"/>
<path d="M913.78 584.43 L916.08 574.73 L922.27 577.98 L919.68 587.53Z" fill="#fff" stroke="#000" stroke-width="1.8" stroke-linejoin="round"/>
<path d="M916.54 584.94 L918.84 575.24 L925.03 578.5 L922.43 588.05Z" fill="#fff" stroke="#000" stroke-width="1.8" stroke-linejoin="round"/>
<path d="M928.71 599.78 L932.83 592.31 L936.38 602.26 L932.09 609.26Z" fill="#fff" stroke="#000" stroke-width="1.8" stroke-linejoin="round"/>
<path d="M931.46 600.29 L935.58 592.82 L939.13 602.78 L934.84 609.78Z" fill="#fff" stroke="#000" stroke-width="1.8" stroke-linejoin="round"/>
<path d="M935.33 631.45 L940.17 628.21 L940.13 642.2 L935.29 644.77Z" fill="#fff" stroke="#000" stroke-width="1.8" stroke-linejoin="round"/>
<path d="M938.09 631.96 L942.93 628.72 L942.88 642.71 L938.04 645.29Z" fill="#fff" stroke="#000" stroke-width="1.8" stroke-linejoin="round"/>
<path d="M961.91 672.6 L960.46 679.6 L958.74 686.49 L956.76 693.23 L954.54 699.75 L952.1 706.02 L949.46 711.98 L946.63 717.59 L943.64 722.8 L940.51 727.58 L937.26 731.89 L933.92 735.7 L930.51 738.97 L927.07 741.69 L923.61 743.82 L920.16 745.37 L916.75 746.3 L913.41 746.63 L910.16 746.34 L907.02 745.43 L904.02 743.92 L901.18 741.81 L898.52 739.13 L896.07 735.89 L893.84 732.11 L891.85 727.82 L890.11 723.07 L888.64 717.88 L887.45 712.29 L886.55 706.35 L885.94 700.09 L885.63 693.58 L885.62 686.85 L885.91 679.97 L886.5 672.97 L887.39 665.92 L888.57 658.87 L890.02 651.87 L891.74 644.98 L893.72 638.25 L895.94 631.72 L898.38 625.45 L901.02 619.49 L903.85 613.88 L906.84 608.67 L909.97 603.89 L913.22 599.58 L916.56 595.78 L919.97 592.5 L923.41 589.79 L926.87 587.65 L930.32 586.11 L933.73 585.17 L937.07 584.84 L940.32 585.14 L943.46 586.04 L946.46 587.55 L949.3 589.66 L951.96 592.34 L954.41 595.59 L956.64 599.37 L958.63 603.65 L960.37 608.4 L961.84 613.6 L963.03 619.19 L963.93 625.13 L964.54 631.38 L964.85 637.89 L964.86 644.62 L964.57 651.51 L963.97 658.5 L963.09 665.55Z M954.98 671.3 L955.41 672.47 L955.2 673.51 L954.98 674.56 L954.15 675.4 L953.32 676.19 L953.1 677.18 L952.86 678.17 L953.21 679.45 L953.54 680.77 L953.28 681.79 L953.01 682.81 L952.16 683.45 L951.32 684.05 L951.04 685.01 L950.75 685.97 L951 687.38 L951.23 688.83 L950.92 689.81 L950.59 690.79 L949.74 691.23 L948.91 691.62 L948.58 692.54 L948.24 693.45 L948.39 694.97 L948.52 696.53 L948.15 697.46 L947.78 698.38 L946.94 698.6 L946.12 698.78 L945.74 699.64 L945.37 700.49 L945.41 702.1 L945.43 703.74 L945.02 704.6 L944.61 705.45 L943.8 705.46 L943 705.42 L942.59 706.21 L942.17 706.99 L942.11 708.66 L942.02 710.35 L941.58 711.13 L941.13 711.9 L940.36 711.69 L939.6 711.44 L939.16 712.14 L938.71 712.83 L938.55 714.54 L938.35 716.26 L937.88 716.95 L937.4 717.62 L936.68 717.2 L935.98 716.73 L935.51 717.34 L935.04 717.93 L934.77 719.65 L934.48 721.38 L933.98 721.96 L933.48 722.52 L932.82 721.89 L932.18 721.22 L931.7 721.72 L931.22 722.21 L930.85 723.91 L930.46 725.61 L929.95 726.08 L929.44 726.53 L928.85 725.7 L928.28 724.84 L927.79 725.23 L927.29 725.6 L926.83 727.25 L926.35 728.9 L925.84 729.25 L925.32 729.57 L924.81 728.56 L924.33 727.52 L923.83 727.79 L923.34 728.04 L922.8 729.62 L922.23 731.2 L921.72 731.41 L921.2 731.61 L920.79 730.43 L920.39 729.23 L919.9 729.37 L919.42 729.5 L918.8 730.99 L918.16 732.46 L917.65 732.55 L917.15 732.61 L916.83 731.28 L916.53 729.94 L916.06 729.95 L915.59 729.96 L914.9 731.32 L914.19 732.67 L913.71 732.62 L913.23 732.56 L913.01 731.1 L912.81 729.63 L912.36 729.52 L911.91 729.4 L911.16 730.62 L910.4 731.83 L909.95 731.65 L909.49 731.45 L909.38 729.89 L909.28 728.32 L908.86 728.09 L908.44 727.84 L907.65 728.9 L906.85 729.94 L906.43 729.63 L906 729.31 L905.99 727.66 L906.01 726.02 L905.62 725.66 L905.23 725.29 L904.41 726.18 L903.59 727.04 L903.2 726.61 L902.82 726.16 L902.92 724.46 L903.03 722.77 L902.69 722.3 L902.34 721.81 L901.51 722.51 L900.66 723.17 L900.32 722.62 L899.99 722.06 L900.19 720.34 L900.41 718.62 L900.11 718.04 L899.82 717.45 L898.97 717.94 L898.13 718.4 L897.84 717.74 L897.56 717.07 L897.86 715.35 L898.18 713.64 L897.93 712.96 L897.69 712.27 L896.86 712.55 L896.02 712.8 L895.79 712.04 L895.56 711.28 L895.96 709.58 L896.38 707.9 L896.18 707.13 L896 706.35 L895.18 706.42 L894.37 706.45 L894.2 705.61 L894.04 704.76 L894.53 703.11 L895.03 701.49 L894.89 700.65 L894.77 699.8 L893.99 699.65 L893.21 699.46 L893.1 698.55 L893 697.63 L893.57 696.06 L894.16 694.53 L894.08 693.62 L894.02 692.71 L893.28 692.35 L892.56 691.94 L892.51 690.97 L892.47 690 L893.12 688.53 L893.78 687.1 L893.76 686.15 L893.76 685.19 L893.08 684.62 L892.42 684.01 L892.44 683 L892.46 681.98 L893.17 680.64 L893.89 679.34 L893.94 678.36 L894 677.37 L893.39 676.6 L892.8 675.79 L892.88 674.75 L892.97 673.71 L893.73 672.52 L894.5 671.37 L894.61 670.37 L894.73 669.36 L894.2 668.41 L893.68 667.41 L893.83 666.36 L893.99 665.31 L894.79 664.29 L895.59 663.31 L895.76 662.3 L895.94 661.29 L895.5 660.17 L895.07 659.01 L895.28 657.96 L895.49 656.92 L896.32 656.08 L897.15 655.28 L897.38 654.29 L897.61 653.3 L897.27 652.02 L896.93 650.71 L897.2 649.68 L897.47 648.66 L898.32 648.02 L899.16 647.43 L899.44 646.46 L899.72 645.5 L899.47 644.09 L899.24 642.64 L899.56 641.66 L899.89 640.68 L900.73 640.24 L901.57 639.85 L901.9 638.93 L902.24 638.02 L902.09 636.5 L901.96 634.95 L902.33 634.01 L902.7 633.09 L903.54 632.87 L904.36 632.69 L904.73 631.83 L905.11 630.98 L905.07 629.37 L905.05 627.73 L905.46 626.87 L905.87 626.02 L906.68 626.01 L907.48 626.05 L907.89 625.26 L908.3 624.48 L908.37 622.81 L908.45 621.12 L908.9 620.34 L909.35 619.57 L910.12 619.78 L910.88 620.04 L911.32 619.33 L911.76 618.64 L911.93 616.93 L912.12 615.21 L912.6 614.53 L913.08 613.85 L913.8 614.28 L914.5 614.74 L914.97 614.13 L915.44 613.54 L915.71 611.82 L916 610.1 L916.5 609.52 L916.99 608.95 L917.65 609.58 L918.3 610.25 L918.78 609.75 L919.26 609.26 L919.63 607.56 L920.02 605.86 L920.53 605.4 L921.04 604.95 L921.63 605.78 L922.2 606.64 L922.69 606.25 L923.18 605.88 L923.64 604.22 L924.13 602.57 L924.64 602.23 L925.16 601.9 L925.66 602.91 L926.15 603.95 L926.64 603.69 L927.14 603.43 L927.68 601.85 L928.25 600.27 L928.76 600.06 L929.27 599.86 L929.69 601.04 L930.09 602.24 L930.57 602.1 L931.06 601.97 L931.68 600.49 L932.32 599.01 L932.83 598.93 L933.33 598.86 L933.65 600.19 L933.95 601.54 L934.42 601.52 L934.89 601.52 L935.58 600.15 L936.29 598.8 L936.77 598.85 L937.25 598.91 L937.47 600.37 L937.67 601.84 L938.12 601.95 L938.57 602.08 L939.32 600.85 L940.07 599.65 L940.53 599.83 L940.99 600.02 L941.1 601.58 L941.2 603.15 L941.62 603.39 L942.04 603.64 L942.83 602.57 L943.63 601.53 L944.05 601.84 L944.47 602.17 L944.48 603.81 L944.47 605.45 L944.86 605.81 L945.25 606.18 L946.06 605.29 L946.89 604.43 L947.28 604.87 L947.66 605.31 L947.56 607.01 L947.44 608.7 L947.79 609.17 L948.13 609.66 L948.97 608.96 L949.82 608.3 L950.15 608.85 L950.49 609.41 L950.29 611.14 L950.07 612.85 L950.37 613.43 L950.66 614.02 L951.5 613.53 L952.35 613.07 L952.64 613.73 L952.92 614.4 L952.62 616.13 L952.3 617.84 L952.55 618.52 L952.79 619.2 L953.62 618.92 L954.46 618.68 L954.69 619.43 L954.92 620.2 L954.52 621.9 L954.1 623.58 L954.29 624.34 L954.48 625.12 L955.29 625.05 L956.11 625.02 L956.28 625.86 L956.44 626.71 L955.95 628.36 L955.45 629.98 L955.58 630.82 L955.71 631.67 L956.49 631.82 L957.27 632.01 L957.38 632.92 L957.48 633.84 L956.91 635.41 L956.32 636.95 L956.4 637.85 L956.46 638.77 L957.19 639.12 L957.92 639.53 L957.97 640.5 L958 641.48 L957.36 642.94 L956.7 644.37 L956.72 645.32 L956.72 646.28 L957.4 646.85 L958.06 647.46 L958.04 648.48 L958.02 649.49 L957.3 650.83 L956.59 652.13 L956.54 653.12 L956.48 654.11 L957.09 654.87 L957.68 655.68 L957.6 656.72 L957.51 657.77 L956.75 658.96 L955.98 660.1 L955.87 661.11 L955.75 662.12 L956.28 663.07 L956.79 664.06 L956.65 665.11 L956.49 666.17 L955.69 667.19 L954.89 668.17 L954.72 669.17 L954.54 670.18Z" fill="#fff" fill-rule="evenodd" stroke="#000" stroke-width="1.6"/>
<path d="M964.17 673.02 L962.72 680.02 L961 686.92 L959.02 693.65 L956.8 700.18 L954.36 706.44 L951.72 712.4 L948.89 718.01 L945.9 723.23 L942.77 728.01 L939.52 732.32 L936.18 736.12 L932.77 739.39 L929.33 742.11 L925.87 744.25 L922.42 745.79 L919.01 746.73 L915.67 747.05 L912.42 746.76 L909.28 745.86 L906.28 744.34 L903.44 742.24 L900.78 739.55 L898.33 736.31 L896.1 732.53 L894.11 728.25 L892.37 723.49 L890.9 718.3 L889.71 712.71 L888.81 706.77 L888.2 700.52 L887.89 694 L887.88 687.28 L888.17 680.39 L888.76 673.4 L889.65 666.35 L890.83 659.3 L892.28 652.3 L894 645.4 L895.98 638.67 L898.2 632.14 L900.64 625.88 L903.28 619.92 L906.11 614.31 L909.1 609.09 L912.23 604.31 L915.48 600 L918.82 596.2 L922.23 592.93 L925.67 590.21 L929.13 588.07 L932.58 586.53 L935.99 585.59 L939.33 585.27 L942.58 585.56 L945.72 586.46 L948.72 587.98 L951.56 590.08 L954.22 592.77 L956.67 596.01 L958.9 599.79 L960.89 604.07 L962.63 608.83 L964.1 614.02 L965.29 619.61 L966.19 625.55 L966.8 631.8 L967.11 638.32 L967.12 645.04 L966.83 651.93 L966.24 658.92 L965.35 665.97Z M957.24 671.73 L957.67 672.89 L957.46 673.94 L957.25 674.98 L956.41 675.82 L955.59 676.61 L955.36 677.61 L955.13 678.6 L955.47 679.87 L955.8 681.19 L955.54 682.21 L955.27 683.23 L954.42 683.88 L953.58 684.47 L953.3 685.44 L953.02 686.4 L953.26 687.81 L953.5 689.25 L953.18 690.24 L952.85 691.22 L952.01 691.65 L951.17 692.04 L950.84 692.96 L950.5 693.88 L950.65 695.4 L950.78 696.95 L950.41 697.88 L950.04 698.8 L949.2 699.03 L948.38 699.2 L948.01 700.07 L947.63 700.92 L947.67 702.53 L947.69 704.16 L947.28 705.03 L946.87 705.88 L946.06 705.88 L945.26 705.85 L944.85 706.63 L944.43 707.41 L944.37 709.08 L944.28 710.78 L943.84 711.56 L943.39 712.32 L942.62 712.11 L941.86 711.86 L941.42 712.56 L940.97 713.26 L940.81 714.96 L940.62 716.69 L940.14 717.37 L939.66 718.04 L938.94 717.62 L938.24 717.16 L937.77 717.76 L937.3 718.36 L937.03 720.07 L936.74 721.8 L936.24 722.38 L935.74 722.94 L935.08 722.31 L934.44 721.65 L933.96 722.15 L933.48 722.63 L933.11 724.33 L932.72 726.04 L932.21 726.5 L931.7 726.95 L931.11 726.12 L930.54 725.26 L930.05 725.65 L929.55 726.02 L929.09 727.67 L928.61 729.33 L928.1 729.67 L927.58 730 L927.07 728.98 L926.59 727.94 L926.1 728.21 L925.6 728.46 L925.06 730.05 L924.49 731.62 L923.98 731.84 L923.47 732.04 L923.05 730.86 L922.65 729.65 L922.16 729.8 L921.68 729.92 L921.06 731.41 L920.42 732.88 L919.91 732.97 L919.41 733.04 L919.09 731.71 L918.79 730.36 L918.32 730.38 L917.85 730.38 L917.16 731.75 L916.45 733.09 L915.97 733.05 L915.49 732.98 L915.27 731.53 L915.07 730.06 L914.62 729.95 L914.17 729.82 L913.42 731.05 L912.67 732.25 L912.21 732.07 L911.75 731.87 L911.64 730.31 L911.54 728.74 L911.12 728.51 L910.7 728.26 L909.91 729.32 L909.11 730.36 L908.69 730.05 L908.27 729.73 L908.26 728.09 L908.27 726.44 L907.88 726.09 L907.49 725.72 L906.68 726.61 L905.85 727.46 L905.46 727.03 L905.08 726.58 L905.18 724.89 L905.29 723.19 L904.95 722.72 L904.6 722.24 L903.77 722.93 L902.92 723.6 L902.58 723.05 L902.25 722.48 L902.45 720.76 L902.67 719.04 L902.37 718.46 L902.08 717.87 L901.24 718.37 L900.39 718.82 L900.1 718.17 L899.82 717.5 L900.12 715.77 L900.44 714.06 L900.19 713.38 L899.95 712.69 L899.12 712.98 L898.28 713.22 L898.05 712.47 L897.82 711.7 L898.22 710 L898.64 708.32 L898.44 707.55 L898.26 706.78 L897.45 706.85 L896.63 706.87 L896.46 706.03 L896.3 705.18 L896.79 703.54 L897.29 701.92 L897.15 701.07 L897.03 700.22 L896.25 700.08 L895.47 699.89 L895.36 698.97 L895.26 698.05 L895.83 696.48 L896.42 694.95 L896.34 694.04 L896.28 693.13 L895.54 692.77 L894.82 692.37 L894.77 691.4 L894.73 690.42 L895.38 688.95 L896.04 687.53 L896.02 686.57 L896.02 685.61 L895.34 685.05 L894.68 684.44 L894.7 683.42 L894.72 682.4 L895.43 681.07 L896.15 679.77 L896.2 678.78 L896.26 677.79 L895.65 677.02 L895.06 676.21 L895.14 675.17 L895.23 674.13 L895.99 672.94 L896.76 671.79 L896.87 670.79 L896.99 669.78 L896.46 668.83 L895.95 667.83 L896.09 666.78 L896.25 665.73 L897.05 664.71 L897.85 663.73 L898.02 662.72 L898.2 661.72 L897.76 660.59 L897.33 659.43 L897.54 658.38 L897.75 657.34 L898.59 656.5 L899.41 655.71 L899.64 654.71 L899.87 653.72 L899.53 652.45 L899.2 651.13 L899.46 650.11 L899.73 649.09 L900.58 648.44 L901.42 647.85 L901.7 646.88 L901.98 645.92 L901.74 644.51 L901.5 643.07 L901.82 642.08 L902.15 641.1 L902.99 640.67 L903.83 640.28 L904.16 639.36 L904.5 638.44 L904.35 636.92 L904.22 635.37 L904.59 634.44 L904.96 633.52 L905.8 633.29 L906.62 633.12 L906.99 632.25 L907.37 631.4 L907.33 629.79 L907.31 628.16 L907.72 627.29 L908.13 626.44 L908.94 626.44 L909.74 626.47 L910.15 625.69 L910.57 624.91 L910.63 623.24 L910.72 621.54 L911.16 620.76 L911.61 620 L912.38 620.21 L913.14 620.46 L913.58 619.76 L914.03 619.06 L914.19 617.36 L914.38 615.63 L914.86 614.95 L915.34 614.28 L916.06 614.7 L916.76 615.16 L917.23 614.56 L917.7 613.96 L917.97 612.25 L918.26 610.52 L918.76 609.94 L919.26 609.38 L919.92 610.01 L920.56 610.67 L921.04 610.17 L921.52 609.69 L921.89 607.99 L922.28 606.28 L922.79 605.82 L923.3 605.37 L923.89 606.2 L924.46 607.06 L924.95 606.67 L925.45 606.3 L925.91 604.65 L926.39 602.99 L926.9 602.65 L927.42 602.32 L927.93 603.34 L928.41 604.38 L928.9 604.11 L929.4 603.86 L929.94 602.27 L930.51 600.7 L931.02 600.48 L931.53 600.28 L931.95 601.46 L932.35 602.67 L932.84 602.52 L933.32 602.4 L933.94 600.91 L934.58 599.44 L935.09 599.35 L935.59 599.28 L935.91 600.61 L936.21 601.96 L936.68 601.94 L937.15 601.94 L937.84 600.57 L938.55 599.22 L939.03 599.27 L939.51 599.34 L939.73 600.79 L939.93 602.26 L940.38 602.37 L940.83 602.5 L941.58 601.27 L942.33 600.07 L942.79 600.25 L943.25 600.45 L943.36 602.01 L943.46 603.58 L943.88 603.81 L944.3 604.06 L945.09 603 L945.89 601.96 L946.31 602.27 L946.73 602.59 L946.74 604.23 L946.73 605.88 L947.12 606.23 L947.51 606.6 L948.32 605.71 L949.15 604.86 L949.54 605.29 L949.92 605.74 L949.82 607.43 L949.71 609.13 L950.05 609.6 L950.4 610.08 L951.23 609.39 L952.08 608.72 L952.42 609.27 L952.75 609.84 L952.55 611.56 L952.33 613.28 L952.63 613.86 L952.92 614.45 L953.76 613.95 L954.61 613.5 L954.9 614.15 L955.18 614.82 L954.88 616.55 L954.56 618.26 L954.81 618.94 L955.05 619.63 L955.88 619.34 L956.72 619.1 L956.95 619.85 L957.18 620.62 L956.78 622.32 L956.36 624 L956.56 624.77 L956.74 625.54 L957.55 625.47 L958.37 625.45 L958.54 626.29 L958.7 627.14 L958.21 628.78 L957.71 630.4 L957.85 631.25 L957.97 632.1 L958.75 632.24 L959.53 632.43 L959.64 633.35 L959.74 634.27 L959.17 635.83 L958.58 637.37 L958.66 638.28 L958.72 639.19 L959.46 639.55 L960.18 639.95 L960.23 640.92 L960.27 641.9 L959.62 643.36 L958.96 644.79 L958.98 645.75 L958.98 646.71 L959.66 647.27 L960.32 647.88 L960.3 648.9 L960.28 649.92 L959.57 651.25 L958.85 652.55 L958.8 653.54 L958.74 654.53 L959.35 655.3 L959.94 656.11 L959.86 657.15 L959.77 658.19 L959.01 659.38 L958.24 660.53 L958.13 661.53 L958.01 662.54 L958.54 663.49 L959.05 664.48 L958.91 665.54 L958.75 666.59 L957.95 667.61 L957.15 668.59 L956.98 669.6 L956.8 670.6Z" fill="#fff" fill-rule="evenodd" stroke="none"/>
<ellipse cx="927.5" cy="666.16" rx="37.31" ry="82" transform="rotate(10.6 927.5 666.16)" fill="none" stroke="#000" stroke-width="1.9"/>
<path d="M957.24 671.73 L957.67 672.89 L957.46 673.94 L957.25 674.98 L956.41 675.82 L955.59 676.61 L955.36 677.61 L955.13 678.6 L955.47 679.87 L955.8 681.19 L955.54 682.21 L955.27 683.23 L954.42 683.88 L953.58 684.47 L953.3 685.44 L953.02 686.4 L953.26 687.81 L953.5 689.25 L953.18 690.24 L952.85 691.22 L952.01 691.65 L951.17 692.04 L950.84 692.96 L950.5 693.88 L950.65 695.4 L950.78 696.95 L950.41 697.88 L950.04 698.8 L949.2 699.03 L948.38 699.2 L948.01 700.07 L947.63 700.92 L947.67 702.53 L947.69 704.16 L947.28 705.03 L946.87 705.88 L946.06 705.88 L945.26 705.85 L944.85 706.63 L944.43 707.41 L944.37 709.08 L944.28 710.78 L943.84 711.56 L943.39 712.32 L942.62 712.11 L941.86 711.86 L941.42 712.56 L940.97 713.26 L940.81 714.96 L940.62 716.69 L940.14 717.37 L939.66 718.04 L938.94 717.62 L938.24 717.16 L937.77 717.76 L937.3 718.36 L937.03 720.07 L936.74 721.8 L936.24 722.38 L935.74 722.94 L935.08 722.31 L934.44 721.65 L933.96 722.15 L933.48 722.63 L933.11 724.33 L932.72 726.04 L932.21 726.5 L931.7 726.95 L931.11 726.12 L930.54 725.26 L930.05 725.65 L929.55 726.02 L929.09 727.67 L928.61 729.33 L928.1 729.67 L927.58 730 L927.07 728.98 L926.59 727.94 L926.1 728.21 L925.6 728.46 L925.06 730.05 L924.49 731.62 L923.98 731.84 L923.47 732.04 L923.05 730.86 L922.65 729.65 L922.16 729.8 L921.68 729.92 L921.06 731.41 L920.42 732.88 L919.91 732.97 L919.41 733.04 L919.09 731.71 L918.79 730.36 L918.32 730.38 L917.85 730.38 L917.16 731.75 L916.45 733.09 L915.97 733.05 L915.49 732.98 L915.27 731.53 L915.07 730.06 L914.62 729.95 L914.17 729.82 L913.42 731.05 L912.67 732.25 L912.21 732.07 L911.75 731.87 L911.64 730.31 L911.54 728.74 L911.12 728.51 L910.7 728.26 L909.91 729.32 L909.11 730.36 L908.69 730.05 L908.27 729.73 L908.26 728.09 L908.27 726.44 L907.88 726.09 L907.49 725.72 L906.68 726.61 L905.85 727.46 L905.46 727.03 L905.08 726.58 L905.18 724.89 L905.29 723.19 L904.95 722.72 L904.6 722.24 L903.77 722.93 L902.92 723.6 L902.58 723.05 L902.25 722.48 L902.45 720.76 L902.67 719.04 L902.37 718.46 L902.08 717.87 L901.24 718.37 L900.39 718.82 L900.1 718.17 L899.82 717.5 L900.12 715.77 L900.44 714.06 L900.19 713.38 L899.95 712.69 L899.12 712.98 L898.28 713.22 L898.05 712.47 L897.82 711.7 L898.22 710 L898.64 708.32 L898.44 707.55 L898.26 706.78 L897.45 706.85 L896.63 706.87 L896.46 706.03 L896.3 705.18 L896.79 703.54 L897.29 701.92 L897.15 701.07 L897.03 700.22 L896.25 700.08 L895.47 699.89 L895.36 698.97 L895.26 698.05 L895.83 696.48 L896.42 694.95 L896.34 694.04 L896.28 693.13 L895.54 692.77 L894.82 692.37 L894.77 691.4 L894.73 690.42 L895.38 688.95 L896.04 687.53 L896.02 686.57 L896.02 685.61 L895.34 685.05 L894.68 684.44 L894.7 683.42 L894.72 682.4 L895.43 681.07 L896.15 679.77 L896.2 678.78 L896.26 677.79 L895.65 677.02 L895.06 676.21 L895.14 675.17 L895.23 674.13 L895.99 672.94 L896.76 671.79 L896.87 670.79 L896.99 669.78 L896.46 668.83 L895.95 667.83 L896.09 666.78 L896.25 665.73 L897.05 664.71 L897.85 663.73 L898.02 662.72 L898.2 661.72 L897.76 660.59 L897.33 659.43 L897.54 658.38 L897.75 657.34 L898.59 656.5 L899.41 655.71 L899.64 654.71 L899.87 653.72 L899.53 652.45 L899.2 651.13 L899.46 650.11 L899.73 649.09 L900.58 648.44 L901.42 647.85 L901.7 646.88 L901.98 645.92 L901.74 644.51 L901.5 643.07 L901.82 642.08 L902.15 641.1 L902.99 640.67 L903.83 640.28 L904.16 639.36 L904.5 638.44 L904.35 636.92 L904.22 635.37 L904.59 634.44 L904.96 633.52 L905.8 633.29 L906.62 633.12 L906.99 632.25 L907.37 631.4 L907.33 629.79 L907.31 628.16 L907.72 627.29 L908.13 626.44 L908.94 626.44 L909.74 626.47 L910.15 625.69 L910.57 624.91 L910.63 623.24 L910.72 621.54 L911.16 620.76 L911.61 620 L912.38 620.21 L913.14 620.46 L913.58 619.76 L914.03 619.06 L914.19 617.36 L914.38 615.63 L914.86 614.95 L915.34 614.28 L916.06 614.7 L916.76 615.16 L917.23 614.56 L917.7 613.96 L917.97 612.25 L918.26 610.52 L918.76 609.94 L919.26 609.38 L919.92 610.01 L920.56 610.67 L921.04 610.17 L921.52 609.69 L921.89 607.99 L922.28 606.28 L922.79 605.82 L923.3 605.37 L923.89 606.2 L924.46 607.06 L924.95 606.67 L925.45 606.3 L925.91 604.65 L926.39 602.99 L926.9 602.65 L927.42 602.32 L927.93 603.34 L928.41 604.38 L928.9 604.11 L929.4 603.86 L929.94 602.27 L930.51 600.7 L931.02 600.48 L931.53 600.28 L931.95 601.46 L932.35 602.67 L932.84 602.52 L933.32 602.4 L933.94 600.91 L934.58 599.44 L935.09 599.35 L935.59 599.28 L935.91 600.61 L936.21 601.96 L936.68 601.94 L937.15 601.94 L937.84 600.57 L938.55 599.22 L939.03 599.27 L939.51 599.34 L939.73 600.79 L939.93 602.26 L940.38 602.37 L940.83 602.5 L941.58 601.27 L942.33 600.07 L942.79 600.25 L943.25 600.45 L943.36 602.01 L943.46 603.58 L943.88 603.81 L944.3 604.06 L945.09 603 L945.89 601.96 L946.31 602.27 L946.73 602.59 L946.74 604.23 L946.73 605.88 L947.12 606.23 L947.51 606.6 L948.32 605.71 L949.15 604.86 L949.54 605.29 L949.92 605.74 L949.82 607.43 L949.71 609.13 L950.05 609.6 L950.4 610.08 L951.23 609.39 L952.08 608.72 L952.42 609.27 L952.75 609.84 L952.55 611.56 L952.33 613.28 L952.63 613.86 L952.92 614.45 L953.76 613.95 L954.61 613.5 L954.9 614.15 L955.18 614.82 L954.88 616.55 L954.56 618.26 L954.81 618.94 L955.05 619.63 L955.88 619.34 L956.72 619.1 L956.95 619.85 L957.18 620.62 L956.78 622.32 L956.36 624 L956.56 624.77 L956.74 625.54 L957.55 625.47 L958.37 625.45 L958.54 626.29 L958.7 627.14 L958.21 628.78 L957.71 630.4 L957.85 631.25 L957.97 632.1 L958.75 632.24 L959.53 632.43 L959.64 633.35 L959.74 634.27 L959.17 635.83 L958.58 637.37 L958.66 638.28 L958.72 639.19 L959.46 639.55 L960.18 639.95 L960.23 640.92 L960.27 641.9 L959.62 643.36 L958.96 644.79 L958.98 645.75 L958.98 646.71 L959.66 647.27 L960.32 647.88 L960.3 648.9 L960.28 649.92 L959.57 651.25 L958.85 652.55 L958.8 653.54 L958.74 654.53 L959.35 655.3 L959.94 656.11 L959.86 657.15 L959.77 658.19 L959.01 659.38 L958.24 660.53 L958.13 661.53 L958.01 662.54 L958.54 663.49 L959.05 664.48 L958.91 665.54 L958.75 666.59 L957.95 667.61 L957.15 668.59 L956.98 669.6 L956.8 670.6Z" fill="none" stroke="#000" stroke-width="2.2" stroke-linejoin="round"/>
<rect x="887.43" y="661.72" width="2.6" height="6" fill="#000" transform="rotate(6 888.73 664.72)"/>
<path d="M986.6 677.13 L985.15 684.09 L983.44 690.94 L981.48 697.63 L979.27 704.12 L976.85 710.35 L974.22 716.27 L971.41 721.85 L968.43 727.03 L965.32 731.78 L962.09 736.06 L958.77 739.85 L955.39 743.1 L951.96 745.8 L948.53 747.92 L945.1 749.46 L941.71 750.39 L938.39 750.71 L935.16 750.42 L932.04 749.52 L929.05 748.02 L926.23 745.92 L923.59 743.26 L921.16 740.03 L918.94 736.28 L916.96 732.02 L915.23 727.29 L913.77 722.13 L912.59 716.58 L911.69 710.67 L911.09 704.46 L910.78 697.98 L910.77 691.3 L911.06 684.46 L911.65 677.5 L912.53 670.5 L913.7 663.49 L915.14 656.53 L916.86 649.68 L918.82 642.99 L921.02 636.5 L923.45 630.27 L926.08 624.35 L928.89 618.77 L931.86 613.59 L934.97 608.84 L938.2 604.56 L941.52 600.78 L944.91 597.52 L948.33 594.82 L951.77 592.7 L955.2 591.17 L958.58 590.23 L961.91 589.91 L965.14 590.2 L968.26 591.1 L971.24 592.6 L974.06 594.7 L976.7 597.37 L979.14 600.59 L981.36 604.34 L983.34 608.6 L985.06 613.33 L986.52 618.49 L987.71 624.04 L988.6 629.95 L989.21 636.16 L989.52 642.64 L989.53 649.32 L989.24 656.17 L988.65 663.12 L987.77 670.12Z M980.34 675.96 L979.14 681.72 L977.72 687.4 L976.09 692.94 L974.27 698.31 L972.26 703.47 L970.08 708.38 L967.75 712.99 L965.29 717.29 L962.71 721.22 L960.04 724.77 L957.29 727.9 L954.49 730.59 L951.65 732.83 L948.8 734.59 L945.97 735.86 L943.16 736.63 L940.41 736.9 L937.73 736.66 L935.15 735.91 L932.68 734.67 L930.34 732.94 L928.15 730.73 L926.14 728.06 L924.3 724.95 L922.66 721.42 L921.23 717.5 L920.02 713.23 L919.04 708.63 L918.3 703.74 L917.8 698.59 L917.54 693.23 L917.53 687.69 L917.77 682.03 L918.26 676.27 L918.99 670.47 L919.96 664.66 L921.16 658.9 L922.57 653.23 L924.2 647.68 L926.03 642.31 L928.04 637.15 L930.21 632.24 L932.54 627.63 L935 623.34 L937.58 619.4 L940.25 615.85 L943 612.72 L945.81 610.03 L948.64 607.79 L951.49 606.03 L954.33 604.76 L957.13 603.99 L959.89 603.72 L962.56 603.96 L965.15 604.71 L967.62 605.95 L969.95 607.69 L972.14 609.9 L974.16 612.57 L976 615.68 L977.63 619.2 L979.06 623.12 L980.27 627.39 L981.25 631.99 L982 636.88 L982.5 642.03 L982.76 647.39 L982.76 652.93 L982.52 658.6 L982.03 664.35 L981.3 670.16Z" fill="#fff" fill-rule="evenodd" stroke="#000" stroke-width="1.6"/>
<path d="M989.35 677.65 L987.9 684.6 L986.19 691.45 L984.23 698.15 L982.02 704.63 L979.6 710.86 L976.97 716.79 L974.16 722.36 L971.19 727.54 L968.07 732.3 L964.84 736.58 L961.53 740.36 L958.14 743.61 L954.72 746.31 L951.28 748.44 L947.85 749.97 L944.47 750.9 L941.14 751.22 L937.91 750.94 L934.79 750.04 L931.81 748.53 L928.98 746.44 L926.35 743.77 L923.91 740.55 L921.69 736.79 L919.71 732.53 L917.99 727.81 L916.53 722.65 L915.34 717.09 L914.44 711.19 L913.84 704.97 L913.53 698.5 L913.52 691.81 L913.81 684.97 L914.4 678.02 L915.28 671.01 L916.45 664 L917.9 657.05 L919.61 650.2 L921.57 643.5 L923.78 637.02 L926.2 630.79 L928.83 624.86 L931.64 619.29 L934.61 614.11 L937.73 609.36 L940.96 605.07 L944.27 601.29 L947.66 598.04 L951.08 595.34 L954.52 593.21 L957.95 591.68 L961.33 590.75 L964.66 590.43 L967.89 590.72 L971.01 591.62 L973.99 593.12 L976.82 595.21 L979.45 597.88 L981.89 601.11 L984.11 604.86 L986.09 609.12 L987.81 613.84 L989.27 619 L990.46 624.56 L991.36 630.46 L991.96 636.68 L992.27 643.15 L992.28 649.84 L991.99 656.68 L991.4 663.63 L990.52 670.64Z M983.09 676.48 L981.89 682.24 L980.47 687.91 L978.85 693.46 L977.02 698.83 L975.01 703.99 L972.84 708.89 L970.51 713.51 L968.04 717.8 L965.47 721.74 L962.79 725.28 L960.04 728.42 L957.24 731.11 L954.4 733.35 L951.56 735.11 L948.72 736.38 L945.91 737.15 L943.16 737.41 L940.48 737.17 L937.9 736.43 L935.43 735.18 L933.09 733.45 L930.91 731.24 L928.89 728.57 L927.05 725.46 L925.41 721.93 L923.98 718.02 L922.77 713.75 L921.79 709.15 L921.05 704.25 L920.55 699.11 L920.29 693.75 L920.29 688.21 L920.53 682.54 L921.01 676.78 L921.74 670.98 L922.71 665.18 L923.91 659.42 L925.33 653.74 L926.95 648.2 L928.78 642.82 L930.79 637.67 L932.96 632.76 L935.29 628.14 L937.76 623.85 L940.33 619.92 L943.01 616.37 L945.76 613.24 L948.56 610.54 L951.4 608.31 L954.24 606.55 L957.08 605.28 L959.89 604.5 L962.64 604.24 L965.32 604.48 L967.9 605.22 L970.37 606.47 L972.71 608.2 L974.89 610.41 L976.91 613.08 L978.75 616.19 L980.39 619.72 L981.82 623.63 L983.03 627.91 L984.01 632.51 L984.75 637.4 L985.25 642.54 L985.51 647.91 L985.51 653.44 L985.27 659.11 L984.79 664.87 L984.06 670.67Z" fill="#fff" fill-rule="evenodd" stroke="none"/>
<path d="M988.99 677.58L988.47 680.25L983.01 678.8L983.45 676.54ZM988.1 682.02L987.51 684.68L982.19 682.55L982.69 680.3ZM987.1 686.42L986.44 689.09L981.28 686.28L981.85 684.02ZM986 690.77L985.25 693.45L980.28 689.97L980.91 687.71ZM984.78 695.06L983.96 697.75L979.19 693.61L979.88 691.34ZM983.47 699.28L982.57 701.96L978.01 697.18L978.77 694.9ZM982.06 703.4L981.08 706.08L976.75 700.66L977.58 698.39ZM980.56 707.42L979.5 710.08L975.41 704.05L976.31 701.8ZM978.98 711.33L977.83 713.97L974 707.34L974.97 705.1ZM977.31 715.11L976.07 717.71L972.51 710.51L973.56 708.3ZM975.56 718.75L974.25 721.3L970.97 713.55L972.08 711.38ZM973.74 722.24L972.35 724.73L969.36 716.45L970.54 714.34ZM971.86 725.56L970.39 727.99L967.7 719.2L968.95 717.15ZM969.92 728.72L968.37 731.05L965.99 721.8L967.3 719.82ZM967.92 731.69L966.3 733.92L964.24 724.23L965.62 722.34ZM965.88 734.47L964.19 736.59L962.46 726.48L963.89 724.69ZM963.8 737.05L962.04 739.03L960.64 728.55L962.12 726.88ZM961.68 739.43L959.87 741.26L958.8 730.44L960.33 728.89ZM959.53 741.58L957.68 743.26L956.94 732.13L958.51 730.71ZM957.37 743.52L955.47 745.02L955.07 733.62L956.68 732.35ZM955.18 745.22L953.25 746.53L953.2 734.9L954.83 733.79ZM953 746.7L951.04 747.81L951.33 735.98L952.98 735.04ZM950.81 747.93L948.84 748.83L949.46 736.85L951.13 736.08ZM948.63 748.92L946.65 749.61L947.61 737.5L949.28 736.92ZM946.46 749.66L944.49 750.13L945.78 737.94L947.45 737.55ZM944.31 750.16L942.35 750.4L943.97 738.17L945.63 737.97ZM942.19 750.41L940.25 750.41L942.2 738.18L943.84 738.18ZM940.1 750.4L938.2 750.17L940.46 737.98L942.07 738.18ZM938.06 750.15L936.19 749.69L938.76 737.57L940.34 737.96ZM936.05 749.65L934.24 748.96L937.11 736.95L938.64 737.53ZM934.11 748.89L932.36 747.98L935.51 736.12L937 736.9ZM932.22 747.9L930.53 746.76L933.97 735.09L935.4 736.05ZM930.4 746.66L928.79 745.31L932.49 733.86L933.85 735.01ZM928.64 745.18L927.11 743.63L931.08 732.44L932.37 733.75ZM926.97 743.47L925.52 741.72L929.73 730.83L930.95 732.3ZM925.37 741.53L924.02 739.6L928.46 729.04L929.6 730.66ZM923.87 739.36L922.61 737.28L927.27 727.06L928.33 728.83ZM922.45 736.98L921.29 734.74L926.15 724.92L927.13 726.82ZM921.13 734.4L920.08 732.02L925.12 722.62L926.01 724.63ZM919.91 731.61L918.96 729.11L924.17 720.16L924.98 722.27ZM918.79 728.63L917.95 726.03L923.32 717.55L924.03 719.75ZM917.78 725.47L917.04 722.78L922.55 714.79L923.18 717.07ZM916.88 722.14L916.25 719.37L921.88 711.91L922.42 714.25ZM916.1 718.65L915.56 715.82L921.3 708.9L921.75 711.3ZM915.43 715L914.99 712.13L920.82 705.78L921.18 708.21ZM914.87 711.22L914.54 708.32L920.43 702.56L920.72 705.01ZM914.44 707.31L914.2 704.39L920.15 699.23L920.35 701.7ZM914.13 703.28L913.98 700.36L919.96 695.82L920.09 698.3ZM913.94 699.16L913.88 696.24L919.88 692.33L919.93 694.8ZM913.87 694.94L913.9 692.04L919.89 688.78L919.87 691.24ZM913.93 690.65L914.04 687.77L920.01 685.17L919.92 687.6ZM914.11 686.29L914.29 683.45L920.22 681.51L920.07 683.92ZM914.41 681.89L914.66 679.08L920.54 677.81L920.32 680.19ZM914.83 677.45L915.15 674.68L920.95 674.09L920.68 676.44ZM915.37 673L915.76 670.26L921.47 670.35L921.14 672.66ZM916.03 668.53L916.49 665.83L922.08 666.6L921.7 668.88ZM916.81 664.07L917.33 661.41L922.79 662.85L922.35 665.11ZM917.7 659.63L918.29 656.97L923.61 659.1L923.11 661.35ZM918.7 655.23L919.36 652.56L924.52 655.37L923.95 657.63ZM919.8 650.88L920.55 648.2L925.52 651.68L924.89 653.94ZM921.02 646.59L921.84 643.91L926.61 648.04L925.92 650.31ZM922.33 642.38L923.23 639.69L927.79 644.48L927.03 646.75ZM923.74 638.25L924.72 635.57L929.05 640.99L928.22 643.26ZM925.24 634.23L926.3 631.57L930.39 637.6L929.49 639.85ZM926.82 630.32L927.97 627.69L931.8 634.31L930.83 636.55ZM928.49 626.54L929.73 623.94L933.29 631.15L932.24 633.35ZM930.24 622.9L931.55 620.35L934.83 628.1L933.72 630.27ZM932.06 619.42L933.45 616.92L936.44 625.2L935.26 627.31ZM933.94 616.09L935.41 613.67L938.1 622.45L936.85 624.5ZM935.88 612.93L937.43 610.6L939.81 619.85L938.5 621.83ZM937.88 609.96L939.5 607.73L941.56 617.42L940.18 619.31ZM939.92 607.18L941.61 605.07L943.34 615.17L941.91 616.96ZM942 604.6L943.76 602.62L945.16 613.1L943.68 614.77ZM944.12 602.22L945.93 600.39L947 611.21L945.47 612.77ZM946.27 600.07L948.12 598.4L948.86 609.53L947.29 610.94ZM948.43 598.13L950.33 596.64L950.73 608.04L949.12 609.3ZM950.62 596.43L952.55 595.12L952.6 606.75L950.97 607.86ZM952.8 594.96L954.76 593.84L954.47 605.67L952.82 606.61ZM954.99 593.72L956.96 592.82L956.34 604.81L954.67 605.57ZM957.17 592.73L959.15 592.05L958.19 604.15L956.52 604.73ZM959.34 591.99L961.31 591.52L960.02 603.71L958.35 604.1ZM961.49 591.49L963.45 591.26L961.83 603.48L960.17 603.68ZM963.61 591.25L965.55 591.24L963.6 603.47L961.96 603.47ZM965.7 591.25L967.6 591.48L965.34 603.67L963.73 603.48ZM967.74 591.5L969.61 591.96L967.04 604.08L965.46 603.69ZM969.75 592.01L971.56 592.7L968.69 604.7L967.16 604.12ZM971.69 592.76L973.44 593.67L970.29 605.53L968.8 604.75ZM973.58 593.76L975.27 594.89L971.83 606.56L970.4 605.6ZM975.4 594.99L977.01 596.34L973.31 607.79L971.95 606.65ZM977.16 596.47L978.69 598.02L974.72 609.21L973.43 607.9ZM978.83 598.19L980.28 599.93L976.07 610.82L974.85 609.35ZM980.43 600.13L981.78 602.05L977.34 612.62L976.2 610.99ZM981.93 602.29L983.19 604.38L978.53 614.59L977.47 612.82ZM983.35 604.67L984.51 606.91L979.65 616.73L978.67 614.83ZM984.67 607.25L985.72 609.63L980.68 619.03L979.79 617.02ZM985.89 610.04L986.84 612.54L981.63 621.5L980.82 619.38ZM987.01 613.02L987.85 615.62L982.48 624.11L981.77 621.9ZM988.02 616.18L988.76 618.87L983.25 626.86L982.62 624.58ZM988.92 619.51L989.55 622.28L983.92 629.74L983.38 627.4ZM989.7 623.01L990.24 625.83L984.5 632.75L984.05 630.35ZM990.37 626.65L990.81 629.52L984.98 635.87L984.62 633.44ZM990.93 630.43L991.26 633.34L985.37 639.1L985.08 636.64ZM991.36 634.34L991.6 637.26L985.65 642.42L985.45 639.95ZM991.67 638.37L991.82 641.29L985.84 645.83L985.71 643.35ZM991.86 642.49L991.92 645.41L985.92 649.32L985.87 646.85ZM991.93 646.71L991.9 649.61L985.91 652.87L985.93 650.42ZM991.87 651L991.76 653.88L985.79 656.49L985.88 654.05ZM991.69 655.36L991.51 658.21L985.58 660.14L985.73 657.73ZM991.39 659.76L991.14 662.57L985.26 663.84L985.48 661.46ZM990.97 664.2L990.65 666.97L984.85 667.56L985.12 665.22ZM990.43 668.66L990.04 671.39L984.33 671.3L984.66 668.99ZM989.77 673.12L989.31 675.82L983.72 675.05L984.1 672.77Z" fill="#000" stroke="none"/>
<ellipse cx="952.9" cy="670.83" rx="37.08" ry="81.5" transform="rotate(10.6 952.9 670.83)" fill="none" stroke="#000" stroke-width="2.2"/>
<ellipse cx="952.9" cy="670.83" rx="30.71" ry="67.5" transform="rotate(10.6 952.9 670.83)" fill="none" stroke="#000" stroke-width="2.7"/>
<path d="M978.98 699.96 L982.5 704.27 L977.39 717.21 L974.11 712.29Z" fill="#fff" stroke="#000" stroke-width="1.8" stroke-linejoin="round"/>
<path d="M981.73 700.48 L985.25 704.79 L980.14 717.73 L976.86 712.81Z" fill="#fff" stroke="#000" stroke-width="1.8" stroke-linejoin="round"/>
<path d="M962.95 731.49 L964.34 739.67 L957.4 747.45 L956.34 738.91Z" fill="#fff" stroke="#000" stroke-width="1.8" stroke-linejoin="round"/>
<path d="M965.7 732.01 L967.09 740.18 L960.15 747.97 L959.09 739.43Z" fill="#fff" stroke="#000" stroke-width="1.8" stroke-linejoin="round"/>
<path d="M943.5 746.63 L942.38 756.48 L935.46 757.03 L936.9 747.15Z" fill="#fff" stroke="#000" stroke-width="1.8" stroke-linejoin="round"/>
<path d="M946.25 747.14 L945.13 757 L938.21 757.54 L939.65 747.66Z" fill="#fff" stroke="#000" stroke-width="1.8" stroke-linejoin="round"/>
<path d="M925.82 741.31 L922.5 750.2 L917.46 743.36 L921.02 734.79Z" fill="#fff" stroke="#000" stroke-width="1.8" stroke-linejoin="round"/>
<path d="M928.57 741.83 L925.25 750.72 L920.21 743.88 L923.77 735.31Z" fill="#fff" stroke="#000" stroke-width="1.8" stroke-linejoin="round"/>
<path d="M914.67 716.97 L910.03 722.52 L908.21 710.12 L912.94 705.16Z" fill="#fff" stroke="#000" stroke-width="1.8" stroke-linejoin="round"/>
<path d="M917.42 717.49 L912.78 723.03 L910.97 710.64 L915.69 705.68Z" fill="#fff" stroke="#000" stroke-width="1.8" stroke-linejoin="round"/>
<path d="M913.02 680.13 L908.31 680.84 L910.21 666.22 L914.83 666.19Z" fill="#fff" stroke="#000" stroke-width="1.8" stroke-linejoin="round"/>
<path d="M915.77 680.65 L911.06 681.36 L912.96 666.73 L917.58 666.71Z" fill="#fff" stroke="#000" stroke-width="1.8" stroke-linejoin="round"/>
<path d="M921.32 640.66 L917.8 636.35 L922.9 623.41 L926.18 628.33Z" fill="#fff" stroke="#000" stroke-width="1.8" stroke-linejoin="round"/>
<path d="M924.07 641.17 L920.55 636.86 L925.66 623.92 L928.94 628.84Z" fill="#fff" stroke="#000" stroke-width="1.8" stroke-linejoin="round"/>
<path d="M937.34 609.13 L935.96 600.95 L942.9 593.17 L943.96 601.71Z" fill="#fff" stroke="#000" stroke-width="1.8" stroke-linejoin="round"/>
<path d="M940.1 609.64 L938.71 601.47 L945.65 593.68 L946.71 602.23Z" fill="#fff" stroke="#000" stroke-width="1.8" stroke-linejoin="round"/>
<path d="M956.8 593.99 L957.92 584.14 L964.84 583.6 L963.39 593.47Z" fill="#fff" stroke="#000" stroke-width="1.8" stroke-linejoin="round"/>
<path d="M959.55 594.51 L960.67 584.66 L967.59 584.11 L966.15 593.99Z" fill="#fff" stroke="#000" stroke-width="1.8" stroke-linejoin="round"/>
<path d="M974.47 599.31 L977.8 590.42 L982.84 597.26 L979.28 605.83Z" fill="#fff" stroke="#000" stroke-width="1.8" stroke-linejoin="round"/>
<path d="M977.23 599.82 L980.55 590.93 L985.59 597.78 L982.03 606.34Z" fill="#fff" stroke="#000" stroke-width="1.8" stroke-linejoin="round"/>
<path d="M985.63 623.65 L990.27 618.1 L992.08 630.5 L987.36 635.46Z" fill="#fff" stroke="#000" stroke-width="1.8" stroke-linejoin="round"/>
<path d="M988.38 624.16 L993.02 618.62 L994.83 631.01 L990.11 635.97Z" fill="#fff" stroke="#000" stroke-width="1.8" stroke-linejoin="round"/>
<path d="M987.28 660.49 L991.99 659.78 L990.09 674.4 L985.47 674.43Z" fill="#fff" stroke="#000" stroke-width="1.8" stroke-linejoin="round"/>
<path d="M990.03 661 L994.74 660.29 L992.84 674.92 L988.22 674.94Z" fill="#fff" stroke="#000" stroke-width="1.8" stroke-linejoin="round"/>
<path d="M1014.31 682.23 L1012.86 689.22 L1011.14 696.12 L1009.16 702.85 L1006.94 709.38 L1004.5 715.65 L1001.86 721.61 L999.03 727.22 L996.04 732.43 L992.91 737.21 L989.66 741.52 L986.32 745.32 L982.91 748.6 L979.47 751.31 L976.01 753.45 L972.56 754.99 L969.15 755.93 L965.81 756.25 L962.56 755.96 L959.42 755.06 L956.42 753.55 L953.58 751.44 L950.92 748.76 L948.47 745.51 L946.24 741.73 L944.25 737.45 L942.51 732.69 L941.04 727.5 L939.85 721.91 L938.95 715.97 L938.34 709.72 L938.03 703.21 L938.02 696.48 L938.31 689.59 L938.9 682.6 L939.79 675.55 L940.97 668.5 L942.42 661.5 L944.14 654.61 L946.12 647.87 L948.34 641.35 L950.78 635.08 L953.42 629.12 L956.25 623.51 L959.24 618.3 L962.37 613.52 L965.62 609.21 L968.96 605.4 L972.37 602.13 L975.81 599.41 L979.27 597.28 L982.72 595.73 L986.13 594.79 L989.47 594.47 L992.72 594.76 L995.86 595.67 L998.86 597.18 L1001.7 599.28 L1004.36 601.97 L1006.81 605.21 L1009.04 608.99 L1011.03 613.28 L1012.77 618.03 L1014.24 623.22 L1015.43 628.81 L1016.33 634.75 L1016.94 641.01 L1017.25 647.52 L1017.26 654.24 L1016.97 661.13 L1016.37 668.13 L1015.49 675.17Z M1007.38 680.93 L1007.81 682.09 L1007.6 683.14 L1007.38 684.18 L1006.55 685.02 L1005.72 685.82 L1005.5 686.81 L1005.26 687.8 L1005.61 689.08 L1005.94 690.39 L1005.68 691.42 L1005.41 692.44 L1004.56 693.08 L1003.72 693.67 L1003.44 694.64 L1003.15 695.6 L1003.4 697.01 L1003.63 698.46 L1003.32 699.44 L1002.99 700.42 L1002.14 700.86 L1001.31 701.24 L1000.98 702.16 L1000.64 703.08 L1000.79 704.6 L1000.92 706.15 L1000.55 707.08 L1000.18 708.01 L999.34 708.23 L998.52 708.41 L998.14 709.27 L997.77 710.12 L997.81 711.73 L997.83 713.37 L997.42 714.23 L997.01 715.08 L996.2 715.09 L995.4 715.05 L994.99 715.84 L994.57 716.61 L994.51 718.29 L994.42 719.98 L993.98 720.76 L993.53 721.53 L992.76 721.32 L992 721.06 L991.56 721.77 L991.11 722.46 L990.95 724.17 L990.75 725.89 L990.28 726.57 L989.8 727.25 L989.08 726.82 L988.38 726.36 L987.91 726.96 L987.44 727.56 L987.17 729.28 L986.88 731 L986.38 731.58 L985.88 732.15 L985.22 731.52 L984.58 730.85 L984.1 731.35 L983.62 731.84 L983.25 733.53 L982.86 735.24 L982.35 735.7 L981.84 736.15 L981.25 735.32 L980.68 734.46 L980.19 734.85 L979.69 735.22 L979.23 736.88 L978.75 738.53 L978.24 738.87 L977.72 739.2 L977.21 738.19 L976.73 737.15 L976.23 737.41 L975.74 737.67 L975.2 739.25 L974.63 740.82 L974.12 741.04 L973.6 741.24 L973.19 740.06 L972.79 738.86 L972.3 739 L971.82 739.13 L971.2 740.61 L970.56 742.09 L970.05 742.17 L969.55 742.24 L969.23 740.91 L968.93 739.56 L968.46 739.58 L967.99 739.58 L967.3 740.95 L966.59 742.3 L966.11 742.25 L965.63 742.19 L965.41 740.73 L965.21 739.26 L964.76 739.15 L964.31 739.02 L963.56 740.25 L962.8 741.45 L962.35 741.27 L961.89 741.08 L961.78 739.51 L961.68 737.95 L961.26 737.71 L960.84 737.46 L960.05 738.53 L959.25 739.56 L958.83 739.26 L958.4 738.93 L958.39 737.29 L958.41 735.65 L958.02 735.29 L957.63 734.92 L956.81 735.81 L955.99 736.66 L955.6 736.23 L955.22 735.79 L955.32 734.09 L955.43 732.4 L955.09 731.93 L954.74 731.44 L953.91 732.14 L953.06 732.8 L952.72 732.25 L952.39 731.69 L952.59 729.96 L952.81 728.25 L952.51 727.67 L952.22 727.08 L951.37 727.57 L950.53 728.03 L950.24 727.37 L949.96 726.7 L950.26 724.97 L950.58 723.26 L950.33 722.58 L950.09 721.89 L949.26 722.18 L948.42 722.42 L948.19 721.67 L947.96 720.9 L948.36 719.2 L948.78 717.52 L948.58 716.76 L948.4 715.98 L947.58 716.05 L946.77 716.08 L946.6 715.24 L946.44 714.39 L946.93 712.74 L947.43 711.12 L947.29 710.28 L947.17 709.43 L946.39 709.28 L945.61 709.09 L945.5 708.18 L945.4 707.26 L945.97 705.69 L946.56 704.15 L946.48 703.25 L946.42 702.33 L945.68 701.98 L944.96 701.57 L944.91 700.6 L944.87 699.62 L945.52 698.16 L946.18 696.73 L946.16 695.78 L946.16 694.82 L945.48 694.25 L944.82 693.64 L944.84 692.62 L944.86 691.6 L945.57 690.27 L946.29 688.97 L946.34 687.98 L946.4 686.99 L945.79 686.23 L945.2 685.42 L945.28 684.38 L945.37 683.33 L946.13 682.14 L946.9 681 L947.01 679.99 L947.13 678.98 L946.6 678.03 L946.08 677.04 L946.23 675.99 L946.39 674.93 L947.19 673.91 L947.99 672.93 L948.16 671.93 L948.34 670.92 L947.9 669.8 L947.47 668.63 L947.68 667.59 L947.89 666.54 L948.72 665.7 L949.55 664.91 L949.78 663.92 L950.01 662.93 L949.67 661.65 L949.33 660.33 L949.6 659.31 L949.87 658.29 L950.72 657.65 L951.56 657.05 L951.84 656.09 L952.12 655.13 L951.87 653.72 L951.64 652.27 L951.96 651.29 L952.29 650.31 L953.13 649.87 L953.97 649.48 L954.3 648.56 L954.64 647.65 L954.49 646.13 L954.36 644.57 L954.73 643.64 L955.1 642.72 L955.94 642.5 L956.76 642.32 L957.13 641.46 L957.51 640.6 L957.47 639 L957.45 637.36 L957.86 636.5 L958.27 635.64 L959.08 635.64 L959.88 635.68 L960.29 634.89 L960.7 634.11 L960.77 632.44 L960.85 630.75 L961.3 629.97 L961.75 629.2 L962.52 629.41 L963.28 629.66 L963.72 628.96 L964.16 628.27 L964.33 626.56 L964.52 624.84 L965 624.15 L965.48 623.48 L966.2 623.9 L966.9 624.37 L967.37 623.76 L967.84 623.17 L968.11 621.45 L968.4 619.72 L968.9 619.14 L969.39 618.58 L970.05 619.21 L970.7 619.88 L971.18 619.38 L971.66 618.89 L972.03 617.19 L972.42 615.49 L972.93 615.02 L973.44 614.57 L974.03 615.4 L974.6 616.26 L975.09 615.87 L975.58 615.5 L976.04 613.85 L976.53 612.2 L977.04 611.85 L977.56 611.53 L978.06 612.54 L978.55 613.58 L979.04 613.31 L979.54 613.06 L980.08 611.48 L980.65 609.9 L981.16 609.69 L981.67 609.49 L982.09 610.67 L982.49 611.87 L982.97 611.73 L983.46 611.6 L984.08 610.11 L984.72 608.64 L985.23 608.55 L985.73 608.49 L986.05 609.82 L986.35 611.16 L986.82 611.14 L987.29 611.14 L987.98 609.78 L988.69 608.43 L989.17 608.48 L989.65 608.54 L989.87 610 L990.07 611.47 L990.52 611.58 L990.97 611.7 L991.72 610.48 L992.47 609.27 L992.93 609.45 L993.39 609.65 L993.5 611.21 L993.6 612.78 L994.02 613.01 L994.44 613.26 L995.23 612.2 L996.03 611.16 L996.45 611.47 L996.87 611.79 L996.88 613.44 L996.87 615.08 L997.26 615.43 L997.65 615.8 L998.46 614.92 L999.29 614.06 L999.68 614.49 L1000.06 614.94 L999.96 616.64 L999.84 618.33 L1000.19 618.8 L1000.53 619.29 L1001.37 618.59 L1002.22 617.93 L1002.55 618.48 L1002.89 619.04 L1002.69 620.76 L1002.47 622.48 L1002.77 623.06 L1003.06 623.65 L1003.9 623.16 L1004.75 622.7 L1005.04 623.36 L1005.32 624.03 L1005.02 625.75 L1004.7 627.46 L1004.95 628.14 L1005.19 628.83 L1006.02 628.55 L1006.86 628.3 L1007.09 629.06 L1007.32 629.82 L1006.92 631.52 L1006.5 633.2 L1006.69 633.97 L1006.88 634.74 L1007.69 634.67 L1008.51 634.65 L1008.68 635.49 L1008.84 636.34 L1008.35 637.99 L1007.85 639.61 L1007.98 640.45 L1008.11 641.3 L1008.89 641.44 L1009.67 641.64 L1009.78 642.55 L1009.88 643.47 L1009.31 645.04 L1008.72 646.57 L1008.8 647.48 L1008.86 648.39 L1009.59 648.75 L1010.32 649.15 L1010.37 650.13 L1010.4 651.1 L1009.76 652.57 L1009.1 654 L1009.12 654.95 L1009.12 655.91 L1009.8 656.48 L1010.46 657.09 L1010.44 658.1 L1010.42 659.12 L1009.7 660.46 L1008.99 661.76 L1008.94 662.74 L1008.88 663.73 L1009.49 664.5 L1010.08 665.31 L1010 666.35 L1009.91 667.39 L1009.15 668.58 L1008.38 669.73 L1008.27 670.73 L1008.15 671.74 L1008.68 672.69 L1009.19 673.69 L1009.05 674.74 L1008.89 675.79 L1008.09 676.81 L1007.29 677.79 L1007.12 678.8 L1006.94 679.81Z" fill="#fff" fill-rule="evenodd" stroke="#000" stroke-width="1.6"/>
<path d="M1016.57 682.65 L1015.12 689.65 L1013.4 696.54 L1011.42 703.28 L1009.2 709.8 L1006.76 716.07 L1004.12 722.03 L1001.29 727.64 L998.3 732.85 L995.17 737.63 L991.92 741.94 L988.58 745.75 L985.17 749.02 L981.73 751.74 L978.27 753.87 L974.82 755.42 L971.41 756.35 L968.07 756.68 L964.82 756.39 L961.68 755.48 L958.68 753.97 L955.84 751.86 L953.18 749.18 L950.73 745.93 L948.5 742.16 L946.51 737.87 L944.77 733.12 L943.3 727.93 L942.11 722.34 L941.21 716.39 L940.6 710.14 L940.29 703.63 L940.28 696.9 L940.57 690.02 L941.16 683.02 L942.05 675.97 L943.23 668.92 L944.68 661.92 L946.4 655.03 L948.38 648.3 L950.6 641.77 L953.04 635.5 L955.68 629.54 L958.51 623.93 L961.5 618.72 L964.63 613.94 L967.88 609.63 L971.22 605.82 L974.63 602.55 L978.07 599.84 L981.53 597.7 L984.98 596.16 L988.39 595.22 L991.73 594.89 L994.98 595.19 L998.12 596.09 L1001.12 597.6 L1003.96 599.71 L1006.62 602.39 L1009.07 605.64 L1011.3 609.42 L1013.29 613.7 L1015.03 618.45 L1016.5 623.65 L1017.69 629.23 L1018.59 635.18 L1019.2 641.43 L1019.51 647.94 L1019.52 654.67 L1019.23 661.55 L1018.64 668.55 L1017.75 675.6Z M1009.64 681.35 L1010.07 682.52 L1009.86 683.56 L1009.65 684.61 L1008.81 685.45 L1007.99 686.24 L1007.76 687.23 L1007.53 688.22 L1007.87 689.5 L1008.2 690.82 L1007.94 691.84 L1007.67 692.86 L1006.82 693.5 L1005.98 694.1 L1005.7 695.06 L1005.42 696.02 L1005.66 697.43 L1005.9 698.88 L1005.58 699.86 L1005.25 700.84 L1004.41 701.28 L1003.57 701.67 L1003.24 702.59 L1002.9 703.5 L1003.05 705.02 L1003.18 706.58 L1002.81 707.51 L1002.44 708.43 L1001.6 708.65 L1000.78 708.83 L1000.41 709.69 L1000.03 710.54 L1000.07 712.15 L1000.09 713.79 L999.68 714.65 L999.27 715.5 L998.46 715.51 L997.66 715.47 L997.25 716.26 L996.83 717.04 L996.77 718.71 L996.68 720.4 L996.24 721.18 L995.79 721.95 L995.02 721.74 L994.26 721.49 L993.82 722.19 L993.37 722.88 L993.21 724.59 L993.02 726.31 L992.54 727 L992.06 727.67 L991.34 727.25 L990.64 726.78 L990.17 727.39 L989.7 727.98 L989.43 729.7 L989.14 731.43 L988.64 732 L988.14 732.57 L987.48 731.94 L986.84 731.27 L986.36 731.77 L985.88 732.26 L985.51 733.96 L985.12 735.66 L984.61 736.13 L984.1 736.58 L983.51 735.75 L982.94 734.89 L982.45 735.27 L981.95 735.65 L981.49 737.3 L981.01 738.95 L980.5 739.29 L979.98 739.62 L979.47 738.61 L978.99 737.57 L978.5 737.84 L978 738.09 L977.46 739.67 L976.89 741.25 L976.38 741.46 L975.87 741.66 L975.45 740.48 L975.05 739.28 L974.56 739.42 L974.08 739.55 L973.46 741.04 L972.82 742.51 L972.31 742.59 L971.81 742.66 L971.49 741.33 L971.19 739.99 L970.72 740 L970.25 740.01 L969.56 741.37 L968.85 742.72 L968.37 742.67 L967.89 742.61 L967.67 741.15 L967.47 739.68 L967.02 739.57 L966.57 739.45 L965.82 740.67 L965.07 741.88 L964.61 741.7 L964.15 741.5 L964.04 739.94 L963.94 738.37 L963.52 738.13 L963.1 737.89 L962.31 738.95 L961.51 739.99 L961.09 739.68 L960.67 739.36 L960.66 737.71 L960.67 736.07 L960.28 735.71 L959.89 735.34 L959.08 736.23 L958.25 737.09 L957.86 736.66 L957.48 736.21 L957.58 734.51 L957.69 732.82 L957.35 732.35 L957 731.86 L956.17 732.56 L955.32 733.22 L954.98 732.67 L954.65 732.11 L954.85 730.38 L955.07 728.67 L954.77 728.09 L954.48 727.5 L953.64 727.99 L952.79 728.45 L952.5 727.79 L952.22 727.12 L952.52 725.4 L952.84 723.69 L952.59 723.01 L952.35 722.32 L951.52 722.6 L950.68 722.85 L950.45 722.09 L950.22 721.32 L950.62 719.62 L951.04 717.95 L950.84 717.18 L950.66 716.4 L949.85 716.47 L949.03 716.5 L948.86 715.66 L948.7 714.81 L949.19 713.16 L949.69 711.54 L949.55 710.7 L949.43 709.85 L948.65 709.7 L947.87 709.51 L947.76 708.6 L947.66 707.68 L948.23 706.11 L948.82 704.57 L948.74 703.67 L948.68 702.76 L947.94 702.4 L947.22 701.99 L947.17 701.02 L947.13 700.04 L947.78 698.58 L948.44 697.15 L948.42 696.2 L948.42 695.24 L947.74 694.67 L947.08 694.06 L947.1 693.05 L947.12 692.03 L947.83 690.69 L948.55 689.39 L948.6 688.41 L948.66 687.42 L948.05 686.65 L947.46 685.84 L947.54 684.8 L947.63 683.76 L948.39 682.57 L949.16 681.42 L949.27 680.41 L949.39 679.41 L948.86 678.46 L948.35 677.46 L948.49 676.41 L948.65 675.36 L949.45 674.34 L950.25 673.36 L950.42 672.35 L950.6 671.34 L950.16 670.22 L949.73 669.06 L949.94 668.01 L950.15 666.97 L950.99 666.13 L951.81 665.33 L952.04 664.34 L952.27 663.35 L951.93 662.07 L951.6 660.76 L951.86 659.73 L952.13 658.71 L952.98 658.07 L953.82 657.47 L954.1 656.51 L954.38 655.55 L954.14 654.14 L953.9 652.69 L954.22 651.71 L954.55 650.73 L955.39 650.29 L956.23 649.9 L956.56 648.98 L956.9 648.07 L956.75 646.55 L956.62 644.99 L956.99 644.06 L957.36 643.14 L958.2 642.92 L959.02 642.74 L959.39 641.88 L959.77 641.03 L959.73 639.42 L959.71 637.78 L960.12 636.92 L960.53 636.07 L961.34 636.06 L962.14 636.1 L962.55 635.31 L962.97 634.53 L963.03 632.86 L963.12 631.17 L963.56 630.39 L964.01 629.62 L964.78 629.83 L965.54 630.08 L965.98 629.38 L966.43 628.69 L966.59 626.98 L966.78 625.26 L967.26 624.57 L967.74 623.9 L968.46 624.33 L969.16 624.79 L969.63 624.18 L970.1 623.59 L970.37 621.87 L970.66 620.15 L971.16 619.57 L971.66 619 L972.32 619.63 L972.96 620.3 L973.44 619.8 L973.92 619.31 L974.29 617.61 L974.68 615.91 L975.19 615.45 L975.7 615 L976.29 615.82 L976.86 616.68 L977.35 616.3 L977.85 615.92 L978.31 614.27 L978.79 612.62 L979.3 612.28 L979.82 611.95 L980.33 612.96 L980.81 614 L981.3 613.73 L981.8 613.48 L982.34 611.9 L982.91 610.32 L983.42 610.11 L983.93 609.91 L984.35 611.09 L984.75 612.29 L985.24 612.15 L985.72 612.02 L986.34 610.54 L986.98 609.06 L987.49 608.98 L987.99 608.91 L988.31 610.24 L988.61 611.59 L989.08 611.57 L989.55 611.57 L990.24 610.2 L990.95 608.85 L991.43 608.9 L991.91 608.96 L992.13 610.42 L992.33 611.89 L992.78 612 L993.23 612.12 L993.98 610.9 L994.73 609.7 L995.19 609.88 L995.65 610.07 L995.76 611.63 L995.86 613.2 L996.28 613.44 L996.7 613.69 L997.49 612.62 L998.29 611.58 L998.71 611.89 L999.13 612.22 L999.14 613.86 L999.13 615.5 L999.52 615.86 L999.91 616.23 L1000.72 615.34 L1001.55 614.48 L1001.94 614.92 L1002.32 615.36 L1002.22 617.06 L1002.11 618.75 L1002.45 619.22 L1002.8 619.71 L1003.63 619.01 L1004.48 618.35 L1004.82 618.9 L1005.15 619.46 L1004.95 621.19 L1004.73 622.9 L1005.03 623.48 L1005.32 624.07 L1006.16 623.58 L1007.01 623.12 L1007.3 623.78 L1007.58 624.45 L1007.28 626.18 L1006.96 627.89 L1007.21 628.56 L1007.45 629.25 L1008.28 628.97 L1009.12 628.73 L1009.35 629.48 L1009.58 630.25 L1009.18 631.95 L1008.76 633.63 L1008.96 634.39 L1009.14 635.17 L1009.95 635.1 L1010.77 635.07 L1010.94 635.91 L1011.1 636.76 L1010.61 638.41 L1010.11 640.03 L1010.25 640.87 L1010.37 641.72 L1011.15 641.87 L1011.93 642.06 L1012.04 642.97 L1012.14 643.89 L1011.57 645.46 L1010.98 647 L1011.06 647.9 L1011.12 648.81 L1011.86 649.17 L1012.58 649.58 L1012.63 650.55 L1012.67 651.53 L1012.02 652.99 L1011.36 654.42 L1011.38 655.37 L1011.38 656.33 L1012.06 656.9 L1012.72 657.51 L1012.7 658.53 L1012.68 659.54 L1011.97 660.88 L1011.25 662.18 L1011.2 663.17 L1011.14 664.16 L1011.75 664.92 L1012.34 665.73 L1012.26 666.77 L1012.17 667.82 L1011.41 669 L1010.64 670.15 L1010.53 671.16 L1010.41 672.16 L1010.94 673.12 L1011.45 674.11 L1011.31 675.16 L1011.15 676.21 L1010.35 677.24 L1009.55 678.21 L1009.38 679.22 L1009.2 680.23Z" fill="#fff" fill-rule="evenodd" stroke="none"/>
<ellipse cx="979.9" cy="675.79" rx="37.31" ry="82" transform="rotate(10.6 979.9 675.79)" fill="none" stroke="#000" stroke-width="1.9"/>
<path d="M1009.64 681.35 L1010.07 682.52 L1009.86 683.56 L1009.65 684.61 L1008.81 685.45 L1007.99 686.24 L1007.76 687.23 L1007.53 688.22 L1007.87 689.5 L1008.2 690.82 L1007.94 691.84 L1007.67 692.86 L1006.82 693.5 L1005.98 694.1 L1005.7 695.06 L1005.42 696.02 L1005.66 697.43 L1005.9 698.88 L1005.58 699.86 L1005.25 700.84 L1004.41 701.28 L1003.57 701.67 L1003.24 702.59 L1002.9 703.5 L1003.05 705.02 L1003.18 706.58 L1002.81 707.51 L1002.44 708.43 L1001.6 708.65 L1000.78 708.83 L1000.41 709.69 L1000.03 710.54 L1000.07 712.15 L1000.09 713.79 L999.68 714.65 L999.27 715.5 L998.46 715.51 L997.66 715.47 L997.25 716.26 L996.83 717.04 L996.77 718.71 L996.68 720.4 L996.24 721.18 L995.79 721.95 L995.02 721.74 L994.26 721.49 L993.82 722.19 L993.37 722.88 L993.21 724.59 L993.02 726.31 L992.54 727 L992.06 727.67 L991.34 727.25 L990.64 726.78 L990.17 727.39 L989.7 727.98 L989.43 729.7 L989.14 731.43 L988.64 732 L988.14 732.57 L987.48 731.94 L986.84 731.27 L986.36 731.77 L985.88 732.26 L985.51 733.96 L985.12 735.66 L984.61 736.13 L984.1 736.58 L983.51 735.75 L982.94 734.89 L982.45 735.27 L981.95 735.65 L981.49 737.3 L981.01 738.95 L980.5 739.29 L979.98 739.62 L979.47 738.61 L978.99 737.57 L978.5 737.84 L978 738.09 L977.46 739.67 L976.89 741.25 L976.38 741.46 L975.87 741.66 L975.45 740.48 L975.05 739.28 L974.56 739.42 L974.08 739.55 L973.46 741.04 L972.82 742.51 L972.31 742.59 L971.81 742.66 L971.49 741.33 L971.19 739.99 L970.72 740 L970.25 740.01 L969.56 741.37 L968.85 742.72 L968.37 742.67 L967.89 742.61 L967.67 741.15 L967.47 739.68 L967.02 739.57 L966.57 739.45 L965.82 740.67 L965.07 741.88 L964.61 741.7 L964.15 741.5 L964.04 739.94 L963.94 738.37 L963.52 738.13 L963.1 737.89 L962.31 738.95 L961.51 739.99 L961.09 739.68 L960.67 739.36 L960.66 737.71 L960.67 736.07 L960.28 735.71 L959.89 735.34 L959.08 736.23 L958.25 737.09 L957.86 736.66 L957.48 736.21 L957.58 734.51 L957.69 732.82 L957.35 732.35 L957 731.86 L956.17 732.56 L955.32 733.22 L954.98 732.67 L954.65 732.11 L954.85 730.38 L955.07 728.67 L954.77 728.09 L954.48 727.5 L953.64 727.99 L952.79 728.45 L952.5 727.79 L952.22 727.12 L952.52 725.4 L952.84 723.69 L952.59 723.01 L952.35 722.32 L951.52 722.6 L950.68 722.85 L950.45 722.09 L950.22 721.32 L950.62 719.62 L951.04 717.95 L950.84 717.18 L950.66 716.4 L949.85 716.47 L949.03 716.5 L948.86 715.66 L948.7 714.81 L949.19 713.16 L949.69 711.54 L949.55 710.7 L949.43 709.85 L948.65 709.7 L947.87 709.51 L947.76 708.6 L947.66 707.68 L948.23 706.11 L948.82 704.57 L948.74 703.67 L948.68 702.76 L947.94 702.4 L947.22 701.99 L947.17 701.02 L947.13 700.04 L947.78 698.58 L948.44 697.15 L948.42 696.2 L948.42 695.24 L947.74 694.67 L947.08 694.06 L947.1 693.05 L947.12 692.03 L947.83 690.69 L948.55 689.39 L948.6 688.41 L948.66 687.42 L948.05 686.65 L947.46 685.84 L947.54 684.8 L947.63 683.76 L948.39 682.57 L949.16 681.42 L949.27 680.41 L949.39 679.41 L948.86 678.46 L948.35 677.46 L948.49 676.41 L948.65 675.36 L949.45 674.34 L950.25 673.36 L950.42 672.35 L950.6 671.34 L950.16 670.22 L949.73 669.06 L949.94 668.01 L950.15 666.97 L950.99 666.13 L951.81 665.33 L952.04 664.34 L952.27 663.35 L951.93 662.07 L951.6 660.76 L951.86 659.73 L952.13 658.71 L952.98 658.07 L953.82 657.47 L954.1 656.51 L954.38 655.55 L954.14 654.14 L953.9 652.69 L954.22 651.71 L954.55 650.73 L955.39 650.29 L956.23 649.9 L956.56 648.98 L956.9 648.07 L956.75 646.55 L956.62 644.99 L956.99 644.06 L957.36 643.14 L958.2 642.92 L959.02 642.74 L959.39 641.88 L959.77 641.03 L959.73 639.42 L959.71 637.78 L960.12 636.92 L960.53 636.07 L961.34 636.06 L962.14 636.1 L962.55 635.31 L962.97 634.53 L963.03 632.86 L963.12 631.17 L963.56 630.39 L964.01 629.62 L964.78 629.83 L965.54 630.08 L965.98 629.38 L966.43 628.69 L966.59 626.98 L966.78 625.26 L967.26 624.57 L967.74 623.9 L968.46 624.33 L969.16 624.79 L969.63 624.18 L970.1 623.59 L970.37 621.87 L970.66 620.15 L971.16 619.57 L971.66 619 L972.32 619.63 L972.96 620.3 L973.44 619.8 L973.92 619.31 L974.29 617.61 L974.68 615.91 L975.19 615.45 L975.7 615 L976.29 615.82 L976.86 616.68 L977.35 616.3 L977.85 615.92 L978.31 614.27 L978.79 612.62 L979.3 612.28 L979.82 611.95 L980.33 612.96 L980.81 614 L981.3 613.73 L981.8 613.48 L982.34 611.9 L982.91 610.32 L983.42 610.11 L983.93 609.91 L984.35 611.09 L984.75 612.29 L985.24 612.15 L985.72 612.02 L986.34 610.54 L986.98 609.06 L987.49 608.98 L987.99 608.91 L988.31 610.24 L988.61 611.59 L989.08 611.57 L989.55 611.57 L990.24 610.2 L990.95 608.85 L991.43 608.9 L991.91 608.96 L992.13 610.42 L992.33 611.89 L992.78 612 L993.23 612.12 L993.98 610.9 L994.73 609.7 L995.19 609.88 L995.65 610.07 L995.76 611.63 L995.86 613.2 L996.28 613.44 L996.7 613.69 L997.49 612.62 L998.29 611.58 L998.71 611.89 L999.13 612.22 L999.14 613.86 L999.13 615.5 L999.52 615.86 L999.91 616.23 L1000.72 615.34 L1001.55 614.48 L1001.94 614.92 L1002.32 615.36 L1002.22 617.06 L1002.11 618.75 L1002.45 619.22 L1002.8 619.71 L1003.63 619.01 L1004.48 618.35 L1004.82 618.9 L1005.15 619.46 L1004.95 621.19 L1004.73 622.9 L1005.03 623.48 L1005.32 624.07 L1006.16 623.58 L1007.01 623.12 L1007.3 623.78 L1007.58 624.45 L1007.28 626.18 L1006.96 627.89 L1007.21 628.56 L1007.45 629.25 L1008.28 628.97 L1009.12 628.73 L1009.35 629.48 L1009.58 630.25 L1009.18 631.95 L1008.76 633.63 L1008.96 634.39 L1009.14 635.17 L1009.95 635.1 L1010.77 635.07 L1010.94 635.91 L1011.1 636.76 L1010.61 638.41 L1010.11 640.03 L1010.25 640.87 L1010.37 641.72 L1011.15 641.87 L1011.93 642.06 L1012.04 642.97 L1012.14 643.89 L1011.57 645.46 L1010.98 647 L1011.06 647.9 L1011.12 648.81 L1011.86 649.17 L1012.58 649.58 L1012.63 650.55 L1012.67 651.53 L1012.02 652.99 L1011.36 654.42 L1011.38 655.37 L1011.38 656.33 L1012.06 656.9 L1012.72 657.51 L1012.7 658.53 L1012.68 659.54 L1011.97 660.88 L1011.25 662.18 L1011.2 663.17 L1011.14 664.16 L1011.75 664.92 L1012.34 665.73 L1012.26 666.77 L1012.17 667.82 L1011.41 669 L1010.64 670.15 L1010.53 671.16 L1010.41 672.16 L1010.94 673.12 L1011.45 674.11 L1011.31 675.16 L1011.15 676.21 L1010.35 677.24 L1009.55 678.21 L1009.38 679.22 L1009.2 680.23Z" fill="none" stroke="#000" stroke-width="2.2" stroke-linejoin="round"/>
<rect x="939.83" y="671.35" width="2.6" height="6" fill="#000" transform="rotate(6 941.13 674.35)"/>
<path d="M1039 686.76 L1037.55 693.71 L1035.84 700.57 L1033.88 707.26 L1031.67 713.75 L1029.25 719.97 L1026.62 725.9 L1023.81 731.47 L1020.83 736.66 L1017.72 741.41 L1014.49 745.69 L1011.17 749.47 L1007.79 752.72 L1004.36 755.42 L1000.93 757.55 L997.5 759.08 L994.11 760.01 L990.79 760.34 L987.56 760.05 L984.44 759.15 L981.45 757.64 L978.63 755.55 L975.99 752.88 L973.56 749.66 L971.34 745.9 L969.36 741.65 L967.63 736.92 L966.17 731.76 L964.99 726.2 L964.09 720.3 L963.49 714.08 L963.18 707.61 L963.17 700.93 L963.46 694.08 L964.05 687.13 L964.93 680.12 L966.1 673.12 L967.54 666.16 L969.26 659.31 L971.22 652.61 L973.42 646.13 L975.85 639.9 L978.48 633.97 L981.29 628.4 L984.26 623.22 L987.37 618.47 L990.6 614.18 L993.92 610.4 L997.31 607.15 L1000.73 604.45 L1004.17 602.33 L1007.6 600.79 L1010.98 599.86 L1014.31 599.54 L1017.54 599.83 L1020.66 600.73 L1023.64 602.23 L1026.46 604.32 L1029.1 606.99 L1031.54 610.22 L1033.76 613.97 L1035.74 618.23 L1037.46 622.95 L1038.92 628.11 L1040.11 633.67 L1041 639.58 L1041.61 645.79 L1041.92 652.26 L1041.93 658.95 L1041.64 665.79 L1041.05 672.74 L1040.17 679.75Z M1032.74 685.59 L1031.54 691.35 L1030.12 697.02 L1028.49 702.57 L1026.67 707.94 L1024.66 713.1 L1022.48 718 L1020.15 722.62 L1017.69 726.91 L1015.11 730.85 L1012.44 734.39 L1009.69 737.53 L1006.89 740.22 L1004.05 742.46 L1001.2 744.22 L998.37 745.49 L995.56 746.26 L992.81 746.52 L990.13 746.28 L987.55 745.54 L985.08 744.3 L982.74 742.56 L980.55 740.35 L978.54 737.68 L976.7 734.57 L975.06 731.05 L973.63 727.13 L972.42 722.86 L971.44 718.26 L970.7 713.36 L970.2 708.22 L969.94 702.86 L969.93 697.32 L970.17 691.65 L970.66 685.89 L971.39 680.09 L972.36 674.29 L973.56 668.53 L974.97 662.85 L976.6 657.31 L978.43 651.94 L980.44 646.78 L982.61 641.87 L984.94 637.25 L987.4 632.96 L989.98 629.03 L992.65 625.48 L995.4 622.35 L998.21 619.65 L1001.04 617.42 L1003.89 615.66 L1006.73 614.39 L1009.53 613.62 L1012.29 613.35 L1014.96 613.59 L1017.55 614.33 L1020.02 615.58 L1022.35 617.31 L1024.54 619.52 L1026.56 622.19 L1028.4 625.3 L1030.03 628.83 L1031.46 632.74 L1032.67 637.02 L1033.65 641.62 L1034.4 646.51 L1034.9 651.66 L1035.16 657.02 L1035.16 662.55 L1034.92 668.22 L1034.43 673.98 L1033.7 679.78Z" fill="#fff" fill-rule="evenodd" stroke="#000" stroke-width="1.6"/>
<path d="M1041.75 687.27 L1040.3 694.23 L1038.59 701.08 L1036.63 707.77 L1034.42 714.26 L1032 720.49 L1029.37 726.41 L1026.56 731.99 L1023.59 737.17 L1020.47 741.92 L1017.24 746.2 L1013.93 749.99 L1010.54 753.24 L1007.12 755.94 L1003.68 758.06 L1000.25 759.6 L996.87 760.53 L993.54 760.85 L990.31 760.56 L987.19 759.66 L984.21 758.16 L981.38 756.07 L978.75 753.4 L976.31 750.17 L974.09 746.42 L972.11 742.16 L970.39 737.43 L968.93 732.27 L967.74 726.72 L966.84 720.81 L966.24 714.6 L965.93 708.13 L965.92 701.44 L966.21 694.6 L966.8 687.64 L967.68 680.64 L968.85 673.63 L970.3 666.67 L972.01 659.82 L973.97 653.13 L976.18 646.64 L978.6 640.41 L981.23 634.49 L984.04 628.92 L987.01 623.73 L990.13 618.98 L993.36 614.7 L996.67 610.92 L1000.06 607.66 L1003.48 604.97 L1006.92 602.84 L1010.35 601.31 L1013.73 600.38 L1017.06 600.05 L1020.29 600.34 L1023.41 601.24 L1026.39 602.74 L1029.22 604.84 L1031.85 607.51 L1034.29 610.73 L1036.51 614.49 L1038.49 618.74 L1040.21 623.47 L1041.67 628.63 L1042.86 634.18 L1043.76 640.09 L1044.36 646.3 L1044.67 652.78 L1044.68 659.46 L1044.39 666.31 L1043.8 673.26 L1042.92 680.27Z M1035.49 686.1 L1034.29 691.86 L1032.87 697.54 L1031.25 703.08 L1029.42 708.45 L1027.41 713.61 L1025.24 718.52 L1022.91 723.14 L1020.44 727.43 L1017.87 731.36 L1015.19 734.91 L1012.44 738.04 L1009.64 740.74 L1006.8 742.97 L1003.96 744.73 L1001.12 746 L998.31 746.77 L995.56 747.04 L992.88 746.8 L990.3 746.06 L987.83 744.81 L985.49 743.08 L983.31 740.87 L981.29 738.2 L979.45 735.09 L977.81 731.56 L976.38 727.65 L975.17 723.37 L974.19 718.77 L973.45 713.88 L972.95 708.73 L972.69 703.37 L972.69 697.84 L972.93 692.17 L973.41 686.41 L974.14 680.61 L975.11 674.8 L976.31 669.04 L977.73 663.37 L979.35 657.82 L981.18 652.45 L983.19 647.29 L985.36 642.38 L987.69 637.77 L990.16 633.48 L992.73 629.54 L995.41 625.99 L998.16 622.86 L1000.96 620.17 L1003.8 617.93 L1006.64 616.17 L1009.48 614.9 L1012.29 614.13 L1015.04 613.86 L1017.72 614.1 L1020.3 614.85 L1022.77 616.09 L1025.11 617.83 L1027.29 620.04 L1029.31 622.71 L1031.15 625.82 L1032.79 629.34 L1034.22 633.26 L1035.43 637.53 L1036.41 642.13 L1037.15 647.02 L1037.65 652.17 L1037.91 657.53 L1037.91 663.07 L1037.67 668.74 L1037.19 674.49 L1036.46 680.3Z" fill="#fff" fill-rule="evenodd" stroke="none"/>
<path d="M1041.39 687.21L1040.87 689.87L1035.41 688.42L1035.85 686.17ZM1040.5 691.64L1039.91 694.31L1034.59 692.18L1035.09 689.92ZM1039.5 696.05L1038.84 698.72L1033.68 695.91L1034.25 693.65ZM1038.4 700.4L1037.65 703.08L1032.68 699.6L1033.31 697.33ZM1037.18 704.69L1036.36 707.37L1031.59 703.24L1032.28 700.96ZM1035.87 708.9L1034.97 711.59L1030.41 706.8L1031.17 704.53ZM1034.46 713.03L1033.48 715.7L1029.15 710.29L1029.98 708.02ZM1032.96 717.05L1031.9 719.71L1027.81 713.68L1028.71 711.42ZM1031.38 720.95L1030.23 723.59L1026.4 716.96L1027.37 714.73ZM1029.71 724.73L1028.47 727.34L1024.91 720.13L1025.96 717.93ZM1027.96 728.37L1026.65 730.93L1023.37 723.17L1024.48 721.01ZM1026.14 731.86L1024.75 734.36L1021.76 726.07L1022.94 723.96ZM1024.26 735.19L1022.79 737.61L1020.1 728.83L1021.35 726.78ZM1022.32 738.34L1020.77 740.68L1018.39 731.42L1019.7 729.45ZM1020.32 741.32L1018.7 743.55L1016.64 733.85L1018.02 731.97ZM1018.28 744.1L1016.59 746.21L1014.86 736.11L1016.29 734.32ZM1016.2 746.68L1014.44 748.66L1013.04 738.18L1014.52 736.5ZM1014.08 749.05L1012.27 750.89L1011.2 740.06L1012.73 738.51ZM1011.93 751.21L1010.08 752.88L1009.34 741.75L1010.91 740.34ZM1009.77 753.14L1007.87 754.64L1007.47 743.24L1009.08 741.97ZM1007.58 754.85L1005.65 756.16L1005.6 744.53L1007.23 743.42ZM1005.4 756.32L1003.44 757.43L1003.73 745.61L1005.38 744.66ZM1003.21 757.55L1001.24 758.46L1001.86 746.47L1003.53 745.71ZM1001.03 758.54L999.05 759.23L1000.01 747.13L1001.68 746.54ZM998.86 759.29L996.89 759.75L998.18 747.57L999.85 747.18ZM996.71 759.79L994.75 760.02L996.37 747.8L998.03 747.6ZM994.59 760.03L992.65 760.04L994.6 747.81L996.24 747.8ZM992.5 760.03L990.6 759.8L992.86 747.61L994.47 747.8ZM990.46 759.77L988.59 759.31L991.16 747.2L992.74 747.59ZM988.45 759.27L986.64 758.58L989.51 746.58L991.04 747.16ZM986.51 758.52L984.76 757.6L987.91 745.75L989.4 746.52ZM984.62 757.52L982.93 756.39L986.37 744.72L987.8 745.68ZM982.8 756.28L981.19 754.94L984.89 743.49L986.25 744.63ZM981.04 754.8L979.51 753.25L983.48 742.07L984.77 743.38ZM979.37 753.09L977.92 751.35L982.13 740.46L983.35 741.93ZM977.77 751.15L976.42 749.23L980.86 738.66L982 740.29ZM976.27 748.99L975.01 746.9L979.67 736.69L980.73 738.46ZM974.85 746.61L973.69 744.37L978.55 734.55L979.53 736.44ZM973.53 744.02L972.48 741.65L977.52 732.24L978.41 734.25ZM972.31 741.24L971.36 738.74L976.57 729.78L977.38 731.9ZM971.19 738.26L970.35 735.65L975.72 727.17L976.43 729.38ZM970.18 735.1L969.44 732.4L974.95 724.42L975.58 726.7ZM969.28 731.77L968.65 729L974.28 721.54L974.82 723.88ZM968.5 728.27L967.96 725.44L973.7 718.53L974.15 720.92ZM967.83 724.63L967.39 721.76L973.22 715.41L973.58 717.84ZM967.27 720.84L966.94 717.94L972.83 712.18L973.12 714.64ZM966.84 716.93L966.6 714.02L972.55 708.86L972.75 711.33ZM966.53 712.91L966.38 709.99L972.36 705.45L972.49 707.92ZM966.34 708.78L966.28 705.86L972.28 701.96L972.33 704.43ZM966.27 704.57L966.3 701.66L972.29 698.4L972.27 700.86ZM966.33 700.28L966.44 697.4L972.41 694.79L972.32 697.23ZM966.51 695.92L966.69 693.07L972.62 691.13L972.47 693.54ZM966.81 691.52L967.06 688.7L972.94 687.44L972.72 689.82ZM967.23 687.08L967.55 684.31L973.35 683.71L973.08 686.06ZM967.77 682.62L968.16 679.89L973.87 679.97L973.54 682.29ZM968.43 678.16L968.89 675.46L974.48 676.23L974.1 678.51ZM969.21 673.7L969.73 671.03L975.19 672.48L974.75 674.74ZM970.1 669.26L970.69 666.59L976.01 668.72L975.51 670.98ZM971.1 664.86L971.76 662.19L976.92 664.99L976.35 667.25ZM972.2 660.51L972.95 657.83L977.92 661.3L977.29 663.57ZM973.42 656.22L974.24 653.53L979.01 657.67L978.32 659.94ZM974.73 652L975.63 649.32L980.19 654.1L979.43 656.37ZM976.14 647.88L977.12 645.2L981.45 650.62L980.62 652.88ZM977.64 643.86L978.7 641.19L982.79 647.23L981.89 649.48ZM979.22 639.95L980.37 637.31L984.2 643.94L983.23 646.17ZM980.89 636.17L982.13 633.57L985.69 640.77L984.64 642.97ZM982.64 632.53L983.95 629.97L987.23 637.73L986.12 639.89ZM984.46 629.04L985.85 626.55L988.84 634.83L987.66 636.94ZM986.34 625.71L987.81 623.29L990.5 632.08L989.25 634.12ZM988.28 622.56L989.83 620.23L992.21 629.48L990.9 631.45ZM990.28 619.59L991.9 617.36L993.96 627.05L992.58 628.94ZM992.32 616.8L994.01 614.69L995.74 624.8L994.31 626.58ZM994.4 614.22L996.16 612.24L997.56 622.72L996.08 624.4ZM996.52 611.85L998.33 610.02L999.4 620.84L997.87 622.39ZM998.67 609.69L1000.52 608.02L1001.26 619.15L999.69 620.57ZM1000.83 607.76L1002.73 606.26L1003.13 617.66L1001.52 618.93ZM1003.02 606.05L1004.95 604.74L1005 616.38L1003.37 617.49ZM1005.2 604.58L1007.16 603.47L1006.87 615.3L1005.22 616.24ZM1007.39 603.35L1009.36 602.44L1008.74 614.43L1007.07 615.2ZM1009.57 602.36L1011.55 601.67L1010.59 613.78L1008.92 614.36ZM1011.74 601.61L1013.71 601.15L1012.42 613.33L1010.75 613.73ZM1013.89 601.12L1015.85 600.88L1014.23 613.11L1012.57 613.31ZM1016.01 600.87L1017.95 600.87L1016 613.09L1014.36 613.1ZM1018.1 600.87L1020 601.1L1017.74 613.3L1016.13 613.1ZM1020.14 601.13L1022.01 601.59L1019.44 613.71L1017.86 613.32ZM1022.15 601.63L1023.96 602.32L1021.09 614.33L1019.56 613.74ZM1024.09 602.38L1025.84 603.3L1022.69 615.15L1021.2 614.38ZM1025.98 603.38L1027.67 604.52L1024.23 616.18L1022.8 615.22ZM1027.8 604.62L1029.41 605.97L1025.71 617.41L1024.35 616.27ZM1029.56 606.1L1031.09 607.65L1027.12 618.84L1025.83 617.52ZM1031.23 607.81L1032.68 609.55L1028.47 620.45L1027.25 618.97ZM1032.83 609.75L1034.18 611.67L1029.74 622.24L1028.6 620.62ZM1034.33 611.91L1035.59 614L1030.93 624.21L1029.87 622.45ZM1035.75 614.29L1036.91 616.53L1032.05 626.35L1031.07 624.46ZM1037.07 616.88L1038.12 619.26L1033.08 628.66L1032.19 626.65ZM1038.29 619.67L1039.24 622.17L1034.03 631.12L1033.22 629.01ZM1039.41 622.65L1040.25 625.25L1034.88 633.73L1034.17 631.53ZM1040.42 625.81L1041.16 628.5L1035.65 636.48L1035.02 634.2ZM1041.32 629.14L1041.95 631.91L1036.32 639.37L1035.78 637.02ZM1042.1 632.63L1042.64 635.46L1036.9 642.37L1036.45 639.98ZM1042.77 636.28L1043.21 639.15L1037.38 645.49L1037.02 643.06ZM1043.33 640.06L1043.66 642.96L1037.77 648.72L1037.48 646.27ZM1043.76 643.97L1044 646.89L1038.05 652.05L1037.85 649.57ZM1044.07 647.99L1044.22 650.92L1038.24 655.46L1038.11 652.98ZM1044.26 652.12L1044.32 655.04L1038.32 658.94L1038.27 656.47ZM1044.33 656.34L1044.3 659.24L1038.31 662.5L1038.33 660.04ZM1044.27 660.63L1044.16 663.51L1038.19 666.11L1038.28 663.67ZM1044.09 664.98L1043.91 667.83L1037.98 669.77L1038.13 667.36ZM1043.79 669.39L1043.54 672.2L1037.66 673.47L1037.88 671.09ZM1043.37 673.82L1043.05 676.6L1037.25 677.19L1037.52 674.84ZM1042.83 678.28L1042.44 681.02L1036.73 680.93L1037.06 678.62ZM1042.17 682.75L1041.71 685.44L1036.12 684.68L1036.5 682.4Z" fill="#000" stroke="none"/>
<ellipse cx="1005.3" cy="680.45" rx="37.08" ry="81.5" transform="rotate(10.6 1005.3 680.45)" fill="none" stroke="#000" stroke-width="2.2"/>
<ellipse cx="1005.3" cy="680.45" rx="30.71" ry="67.5" transform="rotate(10.6 1005.3 680.45)" fill="none" stroke="#000" stroke-width="2.7"/>
<path d="M1036.69 690.2 L1040.95 692.07 L1037.32 706.33 L1033.23 703.8Z" fill="#fff" stroke="#000" stroke-width="1.8" stroke-linejoin="round"/>
<path d="M1039.44 690.72 L1043.7 692.58 L1040.08 706.85 L1035.99 704.32Z" fill="#fff" stroke="#000" stroke-width="1.8" stroke-linejoin="round"/>
<path d="M1024.1 726.96 L1026.64 733.42 L1020.4 744.15 L1018.16 737.18Z" fill="#fff" stroke="#000" stroke-width="1.8" stroke-linejoin="round"/>
<path d="M1026.85 727.47 L1029.39 733.94 L1023.15 744.66 L1020.91 737.69Z" fill="#fff" stroke="#000" stroke-width="1.8" stroke-linejoin="round"/>
<path d="M1005.73 751.11 L1005.87 760.44 L998.7 764.76 L998.89 755.22Z" fill="#fff" stroke="#000" stroke-width="1.8" stroke-linejoin="round"/>
<path d="M1008.48 751.63 L1008.62 760.96 L1001.45 765.27 L1001.65 755.74Z" fill="#fff" stroke="#000" stroke-width="1.8" stroke-linejoin="round"/>
<path d="M986.51 756.2 L984.21 765.9 L978.02 762.64 L980.61 753.09Z" fill="#fff" stroke="#000" stroke-width="1.8" stroke-linejoin="round"/>
<path d="M989.26 756.71 L986.96 766.41 L980.77 763.15 L983.37 753.6Z" fill="#fff" stroke="#000" stroke-width="1.8" stroke-linejoin="round"/>
<path d="M971.59 740.85 L967.47 748.32 L963.92 738.36 L968.21 731.36Z" fill="#fff" stroke="#000" stroke-width="1.8" stroke-linejoin="round"/>
<path d="M974.34 741.36 L970.22 748.83 L966.67 738.87 L970.96 731.87Z" fill="#fff" stroke="#000" stroke-width="1.8" stroke-linejoin="round"/>
<path d="M964.96 709.18 L960.12 712.41 L960.17 698.43 L965.01 695.85Z" fill="#fff" stroke="#000" stroke-width="1.8" stroke-linejoin="round"/>
<path d="M967.71 709.69 L962.87 712.93 L962.92 698.94 L967.76 696.36Z" fill="#fff" stroke="#000" stroke-width="1.8" stroke-linejoin="round"/>
<path d="M968.41 669.67 L964.14 667.81 L967.77 653.54 L971.86 656.07Z" fill="#fff" stroke="#000" stroke-width="1.8" stroke-linejoin="round"/>
<path d="M971.16 670.19 L966.9 668.32 L970.52 654.05 L974.61 656.59Z" fill="#fff" stroke="#000" stroke-width="1.8" stroke-linejoin="round"/>
<path d="M981 632.92 L978.46 626.45 L984.69 615.73 L986.94 622.69Z" fill="#fff" stroke="#000" stroke-width="1.8" stroke-linejoin="round"/>
<path d="M983.75 633.43 L981.21 626.97 L987.45 616.24 L989.69 623.21Z" fill="#fff" stroke="#000" stroke-width="1.8" stroke-linejoin="round"/>
<path d="M999.36 608.76 L999.22 599.43 L1006.4 595.12 L1006.2 604.65Z" fill="#fff" stroke="#000" stroke-width="1.8" stroke-linejoin="round"/>
<path d="M1002.12 609.28 L1001.98 599.94 L1009.15 595.63 L1008.95 605.17Z" fill="#fff" stroke="#000" stroke-width="1.8" stroke-linejoin="round"/>
<path d="M1018.58 603.68 L1020.88 593.98 L1027.07 597.24 L1024.48 606.78Z" fill="#fff" stroke="#000" stroke-width="1.8" stroke-linejoin="round"/>
<path d="M1021.34 604.19 L1023.64 594.49 L1029.83 597.75 L1027.23 607.3Z" fill="#fff" stroke="#000" stroke-width="1.8" stroke-linejoin="round"/>
<path d="M1033.51 619.03 L1037.63 611.56 L1041.18 621.52 L1036.89 628.52Z" fill="#fff" stroke="#000" stroke-width="1.8" stroke-linejoin="round"/>
<path d="M1036.26 619.54 L1040.38 612.07 L1043.93 622.03 L1039.64 629.03Z" fill="#fff" stroke="#000" stroke-width="1.8" stroke-linejoin="round"/>
<path d="M1040.13 650.7 L1044.97 647.46 L1044.93 661.45 L1040.09 664.03Z" fill="#fff" stroke="#000" stroke-width="1.8" stroke-linejoin="round"/>
<path d="M1042.89 651.21 L1047.73 647.98 L1047.68 661.96 L1042.84 664.54Z" fill="#fff" stroke="#000" stroke-width="1.8" stroke-linejoin="round"/>
<path d="M1066.71 691.85 L1065.26 698.85 L1063.54 705.74 L1061.56 712.48 L1059.34 719 L1056.9 725.27 L1054.26 731.23 L1051.43 736.84 L1048.44 742.06 L1045.31 746.83 L1042.06 751.14 L1038.72 754.95 L1035.31 758.22 L1031.87 760.94 L1028.41 763.08 L1024.96 764.62 L1021.55 765.56 L1018.21 765.88 L1014.96 765.59 L1011.82 764.68 L1008.82 763.17 L1005.98 761.07 L1003.32 758.38 L1000.87 755.14 L998.64 751.36 L996.65 747.08 L994.91 742.32 L993.44 737.13 L992.25 731.54 L991.35 725.6 L990.74 719.35 L990.43 712.83 L990.42 706.11 L990.71 699.22 L991.3 692.23 L992.19 685.18 L993.37 678.13 L994.82 671.13 L996.54 664.23 L998.52 657.5 L1000.74 650.97 L1003.18 644.71 L1005.82 638.74 L1008.65 633.14 L1011.64 627.92 L1014.77 623.14 L1018.02 618.83 L1021.36 615.03 L1024.77 611.75 L1028.21 609.04 L1031.67 606.9 L1035.12 605.36 L1038.53 604.42 L1041.87 604.1 L1045.12 604.39 L1048.26 605.29 L1051.26 606.8 L1054.1 608.91 L1056.76 611.6 L1059.21 614.84 L1061.44 618.62 L1063.43 622.9 L1065.17 627.66 L1066.64 632.85 L1067.83 638.44 L1068.73 644.38 L1069.34 650.63 L1069.65 657.15 L1069.66 663.87 L1069.37 670.76 L1068.77 677.75 L1067.89 684.8Z M1059.78 690.55 L1060.21 691.72 L1060 692.77 L1059.78 693.81 L1058.95 694.65 L1058.12 695.44 L1057.9 696.44 L1057.66 697.43 L1058.01 698.7 L1058.34 700.02 L1058.08 701.04 L1057.81 702.06 L1056.96 702.7 L1056.12 703.3 L1055.84 704.26 L1055.55 705.22 L1055.8 706.64 L1056.03 708.08 L1055.72 709.07 L1055.39 710.05 L1054.54 710.48 L1053.71 710.87 L1053.38 711.79 L1053.04 712.7 L1053.19 714.23 L1053.32 715.78 L1052.95 716.71 L1052.58 717.63 L1051.74 717.86 L1050.92 718.03 L1050.54 718.89 L1050.17 719.75 L1050.21 721.36 L1050.23 722.99 L1049.82 723.85 L1049.41 724.71 L1048.6 724.71 L1047.8 724.67 L1047.39 725.46 L1046.97 726.24 L1046.91 727.91 L1046.82 729.61 L1046.38 730.39 L1045.93 731.15 L1045.16 730.94 L1044.4 730.69 L1043.96 731.39 L1043.51 732.08 L1043.35 733.79 L1043.15 735.52 L1042.68 736.2 L1042.2 736.87 L1041.48 736.45 L1040.78 735.98 L1040.31 736.59 L1039.84 737.18 L1039.57 738.9 L1039.28 740.63 L1038.78 741.21 L1038.28 741.77 L1037.62 741.14 L1036.98 740.47 L1036.5 740.98 L1036.02 741.46 L1035.65 743.16 L1035.26 744.86 L1034.75 745.33 L1034.24 745.78 L1033.65 744.95 L1033.08 744.09 L1032.59 744.48 L1032.09 744.85 L1031.63 746.5 L1031.15 748.16 L1030.64 748.5 L1030.12 748.82 L1029.61 747.81 L1029.13 746.77 L1028.63 747.04 L1028.14 747.29 L1027.6 748.87 L1027.03 750.45 L1026.52 750.67 L1026 750.86 L1025.59 749.68 L1025.19 748.48 L1024.7 748.63 L1024.22 748.75 L1023.6 750.24 L1022.96 751.71 L1022.45 751.8 L1021.95 751.86 L1021.63 750.54 L1021.33 749.19 L1020.86 749.21 L1020.39 749.21 L1019.7 750.57 L1018.99 751.92 L1018.51 751.88 L1018.03 751.81 L1017.81 750.35 L1017.61 748.88 L1017.16 748.77 L1016.71 748.65 L1015.96 749.88 L1015.2 751.08 L1014.75 750.9 L1014.29 750.7 L1014.18 749.14 L1014.08 747.57 L1013.66 747.34 L1013.24 747.09 L1012.45 748.15 L1011.65 749.19 L1011.23 748.88 L1010.8 748.56 L1010.79 746.92 L1010.81 745.27 L1010.42 744.92 L1010.03 744.55 L1009.21 745.43 L1008.39 746.29 L1008 745.86 L1007.62 745.41 L1007.72 743.71 L1007.83 742.02 L1007.49 741.55 L1007.14 741.07 L1006.31 741.76 L1005.46 742.42 L1005.12 741.88 L1004.79 741.31 L1004.99 739.59 L1005.21 737.87 L1004.91 737.29 L1004.62 736.7 L1003.77 737.2 L1002.93 737.65 L1002.64 736.99 L1002.36 736.33 L1002.66 734.6 L1002.98 732.89 L1002.73 732.21 L1002.49 731.52 L1001.66 731.81 L1000.82 732.05 L1000.59 731.29 L1000.36 730.53 L1000.76 728.83 L1001.18 727.15 L1000.98 726.38 L1000.8 725.61 L999.98 725.68 L999.17 725.7 L999 724.86 L998.84 724.01 L999.33 722.37 L999.83 720.74 L999.69 719.9 L999.57 719.05 L998.79 718.91 L998.01 718.72 L997.9 717.8 L997.8 716.88 L998.37 715.31 L998.96 713.78 L998.88 712.87 L998.82 711.96 L998.08 711.6 L997.36 711.2 L997.31 710.22 L997.27 709.25 L997.92 707.78 L998.58 706.36 L998.56 705.4 L998.56 704.44 L997.88 703.88 L997.22 703.26 L997.24 702.25 L997.26 701.23 L997.97 699.89 L998.69 698.6 L998.74 697.61 L998.8 696.62 L998.19 695.85 L997.6 695.04 L997.68 694 L997.77 692.96 L998.53 691.77 L999.3 690.62 L999.41 689.62 L999.53 688.61 L999 687.66 L998.48 686.66 L998.63 685.61 L998.79 684.56 L999.59 683.54 L1000.39 682.56 L1000.56 681.55 L1000.74 680.55 L1000.3 679.42 L999.87 678.26 L1000.08 677.21 L1000.29 676.17 L1001.12 675.33 L1001.95 674.54 L1002.18 673.54 L1002.41 672.55 L1002.07 671.27 L1001.73 669.96 L1002 668.93 L1002.27 667.92 L1003.12 667.27 L1003.96 666.68 L1004.24 665.71 L1004.52 664.75 L1004.27 663.34 L1004.04 661.9 L1004.36 660.91 L1004.69 659.93 L1005.53 659.5 L1006.37 659.11 L1006.7 658.19 L1007.04 657.27 L1006.89 655.75 L1006.76 654.2 L1007.13 653.27 L1007.5 652.34 L1008.34 652.12 L1009.16 651.94 L1009.53 651.08 L1009.91 650.23 L1009.87 648.62 L1009.85 646.98 L1010.26 646.12 L1010.67 645.27 L1011.48 645.26 L1012.28 645.3 L1012.69 644.51 L1013.1 643.74 L1013.17 642.06 L1013.25 640.37 L1013.7 639.59 L1014.15 638.82 L1014.92 639.03 L1015.68 639.29 L1016.12 638.58 L1016.56 637.89 L1016.73 636.19 L1016.92 634.46 L1017.4 633.78 L1017.88 633.1 L1018.6 633.53 L1019.3 633.99 L1019.77 633.39 L1020.24 632.79 L1020.51 631.08 L1020.8 629.35 L1021.3 628.77 L1021.79 628.2 L1022.45 628.84 L1023.1 629.5 L1023.58 629 L1024.06 628.51 L1024.43 626.82 L1024.82 625.11 L1025.33 624.65 L1025.84 624.2 L1026.43 625.03 L1027 625.89 L1027.49 625.5 L1027.98 625.13 L1028.44 623.47 L1028.93 621.82 L1029.44 621.48 L1029.96 621.15 L1030.46 622.16 L1030.95 623.2 L1031.44 622.94 L1031.94 622.68 L1032.48 621.1 L1033.05 619.53 L1033.56 619.31 L1034.07 619.11 L1034.49 620.29 L1034.89 621.5 L1035.37 621.35 L1035.86 621.22 L1036.48 619.74 L1037.12 618.26 L1037.63 618.18 L1038.13 618.11 L1038.45 619.44 L1038.75 620.79 L1039.22 620.77 L1039.69 620.77 L1040.38 619.4 L1041.09 618.05 L1041.57 618.1 L1042.05 618.17 L1042.27 619.62 L1042.47 621.09 L1042.92 621.2 L1043.37 621.33 L1044.12 620.1 L1044.87 618.9 L1045.33 619.08 L1045.79 619.27 L1045.9 620.84 L1046 622.41 L1046.42 622.64 L1046.84 622.89 L1047.63 621.82 L1048.43 620.79 L1048.85 621.09 L1049.27 621.42 L1049.28 623.06 L1049.27 624.71 L1049.66 625.06 L1050.05 625.43 L1050.86 624.54 L1051.69 623.69 L1052.08 624.12 L1052.46 624.56 L1052.36 626.26 L1052.24 627.96 L1052.59 628.43 L1052.93 628.91 L1053.77 628.21 L1054.62 627.55 L1054.95 628.1 L1055.29 628.66 L1055.09 630.39 L1054.87 632.11 L1055.17 632.68 L1055.46 633.28 L1056.3 632.78 L1057.15 632.33 L1057.44 632.98 L1057.72 633.65 L1057.42 635.38 L1057.1 637.09 L1057.35 637.77 L1057.59 638.46 L1058.42 638.17 L1059.26 637.93 L1059.49 638.68 L1059.72 639.45 L1059.32 641.15 L1058.9 642.83 L1059.09 643.59 L1059.28 644.37 L1060.09 644.3 L1060.91 644.27 L1061.08 645.11 L1061.24 645.97 L1060.75 647.61 L1060.25 649.23 L1060.38 650.07 L1060.51 650.93 L1061.29 651.07 L1062.07 651.26 L1062.18 652.17 L1062.28 653.1 L1061.71 654.66 L1061.12 656.2 L1061.2 657.11 L1061.26 658.02 L1061.99 658.38 L1062.72 658.78 L1062.77 659.75 L1062.8 660.73 L1062.16 662.19 L1061.5 663.62 L1061.52 664.58 L1061.52 665.53 L1062.2 666.1 L1062.86 666.71 L1062.84 667.73 L1062.82 668.75 L1062.1 670.08 L1061.39 671.38 L1061.34 672.37 L1061.28 673.36 L1061.89 674.12 L1062.48 674.93 L1062.4 675.98 L1062.31 677.02 L1061.55 678.21 L1060.78 679.35 L1060.67 680.36 L1060.55 681.37 L1061.08 682.32 L1061.59 683.31 L1061.45 684.37 L1061.29 685.42 L1060.49 686.44 L1059.69 687.42 L1059.52 688.42 L1059.34 689.43Z" fill="#fff" fill-rule="evenodd" stroke="#000" stroke-width="1.6"/>
<path d="M1068.97 692.27 L1067.52 699.27 L1065.8 706.17 L1063.82 712.9 L1061.6 719.43 L1059.16 725.7 L1056.52 731.66 L1053.69 737.26 L1050.7 742.48 L1047.57 747.26 L1044.32 751.57 L1040.98 755.37 L1037.57 758.65 L1034.13 761.36 L1030.67 763.5 L1027.22 765.04 L1023.81 765.98 L1020.47 766.3 L1017.22 766.01 L1014.08 765.11 L1011.08 763.6 L1008.24 761.49 L1005.58 758.8 L1003.13 755.56 L1000.9 751.78 L998.91 747.5 L997.17 742.74 L995.7 737.55 L994.51 731.96 L993.61 726.02 L993 719.77 L992.69 713.25 L992.68 706.53 L992.97 699.64 L993.56 692.65 L994.45 685.6 L995.63 678.55 L997.08 671.55 L998.8 664.66 L1000.78 657.92 L1003 651.4 L1005.44 645.13 L1008.08 639.17 L1010.91 633.56 L1013.9 628.34 L1017.03 623.57 L1020.28 619.26 L1023.62 615.45 L1027.03 612.18 L1030.47 609.46 L1033.93 607.32 L1037.38 605.78 L1040.79 604.84 L1044.13 604.52 L1047.38 604.81 L1050.52 605.72 L1053.52 607.23 L1056.36 609.33 L1059.02 612.02 L1061.47 615.26 L1063.7 619.04 L1065.69 623.32 L1067.43 628.08 L1068.9 633.27 L1070.09 638.86 L1070.99 644.8 L1071.6 651.06 L1071.91 657.57 L1071.92 664.29 L1071.63 671.18 L1071.04 678.17 L1070.15 685.22Z M1062.04 690.98 L1062.47 692.14 L1062.26 693.19 L1062.05 694.23 L1061.21 695.07 L1060.39 695.86 L1060.16 696.86 L1059.93 697.85 L1060.27 699.13 L1060.6 700.44 L1060.34 701.47 L1060.07 702.48 L1059.22 703.13 L1058.38 703.72 L1058.1 704.69 L1057.82 705.65 L1058.06 707.06 L1058.3 708.5 L1057.98 709.49 L1057.65 710.47 L1056.81 710.9 L1055.97 711.29 L1055.64 712.21 L1055.3 713.13 L1055.45 714.65 L1055.58 716.2 L1055.21 717.13 L1054.84 718.06 L1054 718.28 L1053.18 718.46 L1052.81 719.32 L1052.43 720.17 L1052.47 721.78 L1052.49 723.42 L1052.08 724.28 L1051.67 725.13 L1050.86 725.14 L1050.06 725.1 L1049.65 725.89 L1049.23 726.66 L1049.17 728.34 L1049.08 730.03 L1048.64 730.81 L1048.19 731.58 L1047.42 731.37 L1046.66 731.11 L1046.22 731.82 L1045.77 732.51 L1045.61 734.21 L1045.42 735.94 L1044.94 736.62 L1044.46 737.3 L1043.74 736.87 L1043.04 736.41 L1042.57 737.01 L1042.1 737.61 L1041.83 739.32 L1041.54 741.05 L1041.04 741.63 L1040.54 742.2 L1039.88 741.56 L1039.24 740.9 L1038.76 741.4 L1038.28 741.89 L1037.91 743.58 L1037.52 745.29 L1037.01 745.75 L1036.5 746.2 L1035.91 745.37 L1035.34 744.51 L1034.85 744.9 L1034.35 745.27 L1033.89 746.93 L1033.41 748.58 L1032.9 748.92 L1032.38 749.25 L1031.87 748.24 L1031.39 747.2 L1030.9 747.46 L1030.4 747.72 L1029.86 749.3 L1029.29 750.87 L1028.78 751.09 L1028.27 751.29 L1027.85 750.11 L1027.45 748.9 L1026.96 749.05 L1026.48 749.18 L1025.86 750.66 L1025.22 752.14 L1024.71 752.22 L1024.21 752.29 L1023.89 750.96 L1023.59 749.61 L1023.12 749.63 L1022.65 749.63 L1021.96 751 L1021.25 752.35 L1020.77 752.3 L1020.29 752.23 L1020.07 750.78 L1019.87 749.31 L1019.42 749.2 L1018.97 749.07 L1018.22 750.3 L1017.47 751.5 L1017.01 751.32 L1016.55 751.13 L1016.44 749.56 L1016.34 747.99 L1015.92 747.76 L1015.5 747.51 L1014.71 748.58 L1013.91 749.61 L1013.49 749.31 L1013.07 748.98 L1013.06 747.34 L1013.07 745.7 L1012.68 745.34 L1012.29 744.97 L1011.48 745.86 L1010.65 746.71 L1010.26 746.28 L1009.88 745.84 L1009.98 744.14 L1010.09 742.44 L1009.75 741.97 L1009.4 741.49 L1008.57 742.19 L1007.72 742.85 L1007.38 742.3 L1007.05 741.74 L1007.25 740.01 L1007.47 738.29 L1007.17 737.72 L1006.88 737.12 L1006.04 737.62 L1005.19 738.07 L1004.9 737.42 L1004.62 736.75 L1004.92 735.02 L1005.24 733.31 L1004.99 732.63 L1004.75 731.94 L1003.92 732.23 L1003.08 732.47 L1002.85 731.72 L1002.62 730.95 L1003.02 729.25 L1003.44 727.57 L1003.24 726.81 L1003.06 726.03 L1002.25 726.1 L1001.43 726.13 L1001.26 725.29 L1001.1 724.44 L1001.59 722.79 L1002.09 721.17 L1001.95 720.33 L1001.83 719.47 L1001.05 719.33 L1000.27 719.14 L1000.16 718.23 L1000.06 717.3 L1000.63 715.74 L1001.22 714.2 L1001.14 713.29 L1001.08 712.38 L1000.34 712.02 L999.62 711.62 L999.57 710.65 L999.53 709.67 L1000.18 708.21 L1000.84 706.78 L1000.82 705.82 L1000.82 704.87 L1000.14 704.3 L999.48 703.69 L999.5 702.67 L999.52 701.65 L1000.23 700.32 L1000.95 699.02 L1001 698.03 L1001.06 697.04 L1000.45 696.28 L999.86 695.47 L999.94 694.42 L1000.03 693.38 L1000.79 692.19 L1001.56 691.05 L1001.67 690.04 L1001.79 689.03 L1001.26 688.08 L1000.75 687.09 L1000.89 686.03 L1001.05 684.98 L1001.85 683.96 L1002.65 682.98 L1002.82 681.98 L1003 680.97 L1002.56 679.85 L1002.13 678.68 L1002.34 677.63 L1002.55 676.59 L1003.39 675.75 L1004.21 674.96 L1004.44 673.97 L1004.67 672.97 L1004.33 671.7 L1004 670.38 L1004.26 669.36 L1004.53 668.34 L1005.38 667.7 L1006.22 667.1 L1006.5 666.14 L1006.78 665.18 L1006.54 663.76 L1006.3 662.32 L1006.62 661.33 L1006.95 660.36 L1007.79 659.92 L1008.63 659.53 L1008.96 658.61 L1009.3 657.7 L1009.15 656.17 L1009.02 654.62 L1009.39 653.69 L1009.76 652.77 L1010.6 652.54 L1011.42 652.37 L1011.79 651.51 L1012.17 650.65 L1012.13 649.04 L1012.11 647.41 L1012.52 646.55 L1012.93 645.69 L1013.74 645.69 L1014.54 645.73 L1014.95 644.94 L1015.37 644.16 L1015.43 642.49 L1015.52 640.79 L1015.96 640.01 L1016.41 639.25 L1017.18 639.46 L1017.94 639.71 L1018.38 639.01 L1018.83 638.32 L1018.99 636.61 L1019.18 634.88 L1019.66 634.2 L1020.14 633.53 L1020.86 633.95 L1021.56 634.42 L1022.03 633.81 L1022.5 633.22 L1022.77 631.5 L1023.06 629.77 L1023.56 629.19 L1024.06 628.63 L1024.72 629.26 L1025.36 629.93 L1025.84 629.42 L1026.32 628.94 L1026.69 627.24 L1027.08 625.54 L1027.59 625.07 L1028.1 624.62 L1028.69 625.45 L1029.26 626.31 L1029.75 625.92 L1030.25 625.55 L1030.71 623.9 L1031.19 622.24 L1031.7 621.9 L1032.22 621.58 L1032.73 622.59 L1033.21 623.63 L1033.7 623.36 L1034.2 623.11 L1034.74 621.53 L1035.31 619.95 L1035.82 619.73 L1036.33 619.54 L1036.75 620.72 L1037.15 621.92 L1037.64 621.78 L1038.12 621.65 L1038.74 620.16 L1039.38 618.69 L1039.89 618.6 L1040.39 618.54 L1040.71 619.86 L1041.01 621.21 L1041.48 621.19 L1041.95 621.19 L1042.64 619.83 L1043.35 618.48 L1043.83 618.52 L1044.31 618.59 L1044.53 620.05 L1044.73 621.52 L1045.18 621.63 L1045.63 621.75 L1046.38 620.52 L1047.13 619.32 L1047.59 619.5 L1048.05 619.7 L1048.16 621.26 L1048.26 622.83 L1048.68 623.06 L1049.1 623.31 L1049.89 622.25 L1050.69 621.21 L1051.11 621.52 L1051.53 621.84 L1051.54 623.48 L1051.53 625.13 L1051.92 625.48 L1052.31 625.85 L1053.12 624.97 L1053.95 624.11 L1054.34 624.54 L1054.72 624.99 L1054.62 626.69 L1054.51 628.38 L1054.85 628.85 L1055.2 629.33 L1056.03 628.64 L1056.88 627.98 L1057.22 628.52 L1057.55 629.09 L1057.35 630.81 L1057.13 632.53 L1057.43 633.11 L1057.72 633.7 L1058.56 633.2 L1059.41 632.75 L1059.7 633.41 L1059.98 634.08 L1059.68 635.8 L1059.36 637.51 L1059.61 638.19 L1059.85 638.88 L1060.68 638.59 L1061.52 638.35 L1061.75 639.11 L1061.98 639.87 L1061.58 641.57 L1061.16 643.25 L1061.36 644.02 L1061.54 644.79 L1062.35 644.72 L1063.17 644.7 L1063.34 645.54 L1063.5 646.39 L1063.01 648.03 L1062.51 649.66 L1062.65 650.5 L1062.77 651.35 L1063.55 651.49 L1064.33 651.68 L1064.44 652.6 L1064.54 653.52 L1063.97 655.09 L1063.38 656.62 L1063.46 657.53 L1063.52 658.44 L1064.26 658.8 L1064.98 659.2 L1065.03 660.18 L1065.07 661.15 L1064.42 662.62 L1063.76 664.05 L1063.78 665 L1063.78 665.96 L1064.46 666.52 L1065.12 667.14 L1065.1 668.15 L1065.08 669.17 L1064.37 670.51 L1063.65 671.8 L1063.6 672.79 L1063.54 673.78 L1064.15 674.55 L1064.74 675.36 L1064.66 676.4 L1064.57 677.44 L1063.81 678.63 L1063.04 679.78 L1062.93 680.78 L1062.81 681.79 L1063.34 682.74 L1063.85 683.74 L1063.71 684.79 L1063.55 685.84 L1062.75 686.86 L1061.95 687.84 L1061.78 688.85 L1061.6 689.85Z" fill="#fff" fill-rule="evenodd" stroke="none"/>
<ellipse cx="1032.3" cy="685.41" rx="37.31" ry="82" transform="rotate(10.6 1032.3 685.41)" fill="none" stroke="#000" stroke-width="1.9"/>
<path d="M1062.04 690.98 L1062.47 692.14 L1062.26 693.19 L1062.05 694.23 L1061.21 695.07 L1060.39 695.86 L1060.16 696.86 L1059.93 697.85 L1060.27 699.13 L1060.6 700.44 L1060.34 701.47 L1060.07 702.48 L1059.22 703.13 L1058.38 703.72 L1058.1 704.69 L1057.82 705.65 L1058.06 707.06 L1058.3 708.5 L1057.98 709.49 L1057.65 710.47 L1056.81 710.9 L1055.97 711.29 L1055.64 712.21 L1055.3 713.13 L1055.45 714.65 L1055.58 716.2 L1055.21 717.13 L1054.84 718.06 L1054 718.28 L1053.18 718.46 L1052.81 719.32 L1052.43 720.17 L1052.47 721.78 L1052.49 723.42 L1052.08 724.28 L1051.67 725.13 L1050.86 725.14 L1050.06 725.1 L1049.65 725.89 L1049.23 726.66 L1049.17 728.34 L1049.08 730.03 L1048.64 730.81 L1048.19 731.58 L1047.42 731.37 L1046.66 731.11 L1046.22 731.82 L1045.77 732.51 L1045.61 734.21 L1045.42 735.94 L1044.94 736.62 L1044.46 737.3 L1043.74 736.87 L1043.04 736.41 L1042.57 737.01 L1042.1 737.61 L1041.83 739.32 L1041.54 741.05 L1041.04 741.63 L1040.54 742.2 L1039.88 741.56 L1039.24 740.9 L1038.76 741.4 L1038.28 741.89 L1037.91 743.58 L1037.52 745.29 L1037.01 745.75 L1036.5 746.2 L1035.91 745.37 L1035.34 744.51 L1034.85 744.9 L1034.35 745.27 L1033.89 746.93 L1033.41 748.58 L1032.9 748.92 L1032.38 749.25 L1031.87 748.24 L1031.39 747.2 L1030.9 747.46 L1030.4 747.72 L1029.86 749.3 L1029.29 750.87 L1028.78 751.09 L1028.27 751.29 L1027.85 750.11 L1027.45 748.9 L1026.96 749.05 L1026.48 749.18 L1025.86 750.66 L1025.22 752.14 L1024.71 752.22 L1024.21 752.29 L1023.89 750.96 L1023.59 749.61 L1023.12 749.63 L1022.65 749.63 L1021.96 751 L1021.25 752.35 L1020.77 752.3 L1020.29 752.23 L1020.07 750.78 L1019.87 749.31 L1019.42 749.2 L1018.97 749.07 L1018.22 750.3 L1017.47 751.5 L1017.01 751.32 L1016.55 751.13 L1016.44 749.56 L1016.34 747.99 L1015.92 747.76 L1015.5 747.51 L1014.71 748.58 L1013.91 749.61 L1013.49 749.31 L1013.07 748.98 L1013.06 747.34 L1013.07 745.7 L1012.68 745.34 L1012.29 744.97 L1011.48 745.86 L1010.65 746.71 L1010.26 746.28 L1009.88 745.84 L1009.98 744.14 L1010.09 742.44 L1009.75 741.97 L1009.4 741.49 L1008.57 742.19 L1007.72 742.85 L1007.38 742.3 L1007.05 741.74 L1007.25 740.01 L1007.47 738.29 L1007.17 737.72 L1006.88 737.12 L1006.04 737.62 L1005.19 738.07 L1004.9 737.42 L1004.62 736.75 L1004.92 735.02 L1005.24 733.31 L1004.99 732.63 L1004.75 731.94 L1003.92 732.23 L1003.08 732.47 L1002.85 731.72 L1002.62 730.95 L1003.02 729.25 L1003.44 727.57 L1003.24 726.81 L1003.06 726.03 L1002.25 726.1 L1001.43 726.13 L1001.26 725.29 L1001.1 724.44 L1001.59 722.79 L1002.09 721.17 L1001.95 720.33 L1001.83 719.47 L1001.05 719.33 L1000.27 719.14 L1000.16 718.23 L1000.06 717.3 L1000.63 715.74 L1001.22 714.2 L1001.14 713.29 L1001.08 712.38 L1000.34 712.02 L999.62 711.62 L999.57 710.65 L999.53 709.67 L1000.18 708.21 L1000.84 706.78 L1000.82 705.82 L1000.82 704.87 L1000.14 704.3 L999.48 703.69 L999.5 702.67 L999.52 701.65 L1000.23 700.32 L1000.95 699.02 L1001 698.03 L1001.06 697.04 L1000.45 696.28 L999.86 695.47 L999.94 694.42 L1000.03 693.38 L1000.79 692.19 L1001.56 691.05 L1001.67 690.04 L1001.79 689.03 L1001.26 688.08 L1000.75 687.09 L1000.89 686.03 L1001.05 684.98 L1001.85 683.96 L1002.65 682.98 L1002.82 681.98 L1003 680.97 L1002.56 679.85 L1002.13 678.68 L1002.34 677.63 L1002.55 676.59 L1003.39 675.75 L1004.21 674.96 L1004.44 673.97 L1004.67 672.97 L1004.33 671.7 L1004 670.38 L1004.26 669.36 L1004.53 668.34 L1005.38 667.7 L1006.22 667.1 L1006.5 666.14 L1006.78 665.18 L1006.54 663.76 L1006.3 662.32 L1006.62 661.33 L1006.95 660.36 L1007.79 659.92 L1008.63 659.53 L1008.96 658.61 L1009.3 657.7 L1009.15 656.17 L1009.02 654.62 L1009.39 653.69 L1009.76 652.77 L1010.6 652.54 L1011.42 652.37 L1011.79 651.51 L1012.17 650.65 L1012.13 649.04 L1012.11 647.41 L1012.52 646.55 L1012.93 645.69 L1013.74 645.69 L1014.54 645.73 L1014.95 644.94 L1015.37 644.16 L1015.43 642.49 L1015.52 640.79 L1015.96 640.01 L1016.41 639.25 L1017.18 639.46 L1017.94 639.71 L1018.38 639.01 L1018.83 638.32 L1018.99 636.61 L1019.18 634.88 L1019.66 634.2 L1020.14 633.53 L1020.86 633.95 L1021.56 634.42 L1022.03 633.81 L1022.5 633.22 L1022.77 631.5 L1023.06 629.77 L1023.56 629.19 L1024.06 628.63 L1024.72 629.26 L1025.36 629.93 L1025.84 629.42 L1026.32 628.94 L1026.69 627.24 L1027.08 625.54 L1027.59 625.07 L1028.1 624.62 L1028.69 625.45 L1029.26 626.31 L1029.75 625.92 L1030.25 625.55 L1030.71 623.9 L1031.19 622.24 L1031.7 621.9 L1032.22 621.58 L1032.73 622.59 L1033.21 623.63 L1033.7 623.36 L1034.2 623.11 L1034.74 621.53 L1035.31 619.95 L1035.82 619.73 L1036.33 619.54 L1036.75 620.72 L1037.15 621.92 L1037.64 621.78 L1038.12 621.65 L1038.74 620.16 L1039.38 618.69 L1039.89 618.6 L1040.39 618.54 L1040.71 619.86 L1041.01 621.21 L1041.48 621.19 L1041.95 621.19 L1042.64 619.83 L1043.35 618.48 L1043.83 618.52 L1044.31 618.59 L1044.53 620.05 L1044.73 621.52 L1045.18 621.63 L1045.63 621.75 L1046.38 620.52 L1047.13 619.32 L1047.59 619.5 L1048.05 619.7 L1048.16 621.26 L1048.26 622.83 L1048.68 623.06 L1049.1 623.31 L1049.89 622.25 L1050.69 621.21 L1051.11 621.52 L1051.53 621.84 L1051.54 623.48 L1051.53 625.13 L1051.92 625.48 L1052.31 625.85 L1053.12 624.97 L1053.95 624.11 L1054.34 624.54 L1054.72 624.99 L1054.62 626.69 L1054.51 628.38 L1054.85 628.85 L1055.2 629.33 L1056.03 628.64 L1056.88 627.98 L1057.22 628.52 L1057.55 629.09 L1057.35 630.81 L1057.13 632.53 L1057.43 633.11 L1057.72 633.7 L1058.56 633.2 L1059.41 632.75 L1059.7 633.41 L1059.98 634.08 L1059.68 635.8 L1059.36 637.51 L1059.61 638.19 L1059.85 638.88 L1060.68 638.59 L1061.52 638.35 L1061.75 639.11 L1061.98 639.87 L1061.58 641.57 L1061.16 643.25 L1061.36 644.02 L1061.54 644.79 L1062.35 644.72 L1063.17 644.7 L1063.34 645.54 L1063.5 646.39 L1063.01 648.03 L1062.51 649.66 L1062.65 650.5 L1062.77 651.35 L1063.55 651.49 L1064.33 651.68 L1064.44 652.6 L1064.54 653.52 L1063.97 655.09 L1063.38 656.62 L1063.46 657.53 L1063.52 658.44 L1064.26 658.8 L1064.98 659.2 L1065.03 660.18 L1065.07 661.15 L1064.42 662.62 L1063.76 664.05 L1063.78 665 L1063.78 665.96 L1064.46 666.52 L1065.12 667.14 L1065.1 668.15 L1065.08 669.17 L1064.37 670.51 L1063.65 671.8 L1063.6 672.79 L1063.54 673.78 L1064.15 674.55 L1064.74 675.36 L1064.66 676.4 L1064.57 677.44 L1063.81 678.63 L1063.04 679.78 L1062.93 680.78 L1062.81 681.79 L1063.34 682.74 L1063.85 683.74 L1063.71 684.79 L1063.55 685.84 L1062.75 686.86 L1061.95 687.84 L1061.78 688.85 L1061.6 689.85Z" fill="none" stroke="#000" stroke-width="2.2" stroke-linejoin="round"/>
<rect x="992.23" y="680.98" width="2.6" height="6" fill="#000" transform="rotate(6 993.53 683.98)"/>
<path d="M1091.4 696.38 L1089.95 703.34 L1088.24 710.19 L1086.28 716.89 L1084.07 723.37 L1081.65 729.6 L1079.02 735.52 L1076.21 741.1 L1073.23 746.28 L1070.12 751.03 L1066.89 755.31 L1063.57 759.1 L1060.19 762.35 L1056.76 765.05 L1053.33 767.17 L1049.9 768.71 L1046.51 769.64 L1043.19 769.96 L1039.96 769.67 L1036.84 768.77 L1033.85 767.27 L1031.03 765.18 L1028.39 762.51 L1025.96 759.28 L1023.74 755.53 L1021.76 751.27 L1020.03 746.55 L1018.57 741.38 L1017.39 735.83 L1016.49 729.92 L1015.89 723.71 L1015.58 717.24 L1015.57 710.55 L1015.86 703.71 L1016.45 696.76 L1017.33 689.75 L1018.5 682.74 L1019.94 675.79 L1021.66 668.93 L1023.62 662.24 L1025.82 655.75 L1028.25 649.52 L1030.88 643.6 L1033.69 638.03 L1036.66 632.84 L1039.77 628.09 L1043 623.81 L1046.32 620.03 L1049.71 616.78 L1053.13 614.08 L1056.57 611.95 L1060 610.42 L1063.38 609.49 L1066.71 609.16 L1069.94 609.45 L1073.06 610.35 L1076.04 611.85 L1078.86 613.95 L1081.5 616.62 L1083.94 619.84 L1086.16 623.6 L1088.14 627.85 L1089.86 632.58 L1091.32 637.74 L1092.51 643.29 L1093.4 649.2 L1094.01 655.42 L1094.32 661.89 L1094.33 668.57 L1094.04 675.42 L1093.45 682.37 L1092.57 689.38Z M1085.14 695.21 L1083.94 700.97 L1082.52 706.65 L1080.89 712.19 L1079.07 717.56 L1077.06 722.72 L1074.88 727.63 L1072.55 732.25 L1070.09 736.54 L1067.51 740.47 L1064.84 744.02 L1062.09 747.15 L1059.29 749.85 L1056.45 752.08 L1053.6 753.84 L1050.77 755.11 L1047.96 755.88 L1045.21 756.15 L1042.53 755.91 L1039.95 755.17 L1037.48 753.92 L1035.14 752.19 L1032.95 749.98 L1030.94 747.31 L1029.1 744.2 L1027.46 740.67 L1026.03 736.76 L1024.82 732.48 L1023.84 727.88 L1023.1 722.99 L1022.6 717.84 L1022.34 712.48 L1022.33 706.95 L1022.57 701.28 L1023.06 695.52 L1023.79 689.72 L1024.76 683.91 L1025.96 678.15 L1027.37 672.48 L1029 666.93 L1030.83 661.56 L1032.84 656.4 L1035.01 651.5 L1037.34 646.88 L1039.8 642.59 L1042.38 638.65 L1045.05 635.11 L1047.8 631.97 L1050.61 629.28 L1053.44 627.04 L1056.29 625.28 L1059.13 624.01 L1061.93 623.24 L1064.69 622.97 L1067.36 623.21 L1069.95 623.96 L1072.42 625.2 L1074.75 626.94 L1076.94 629.15 L1078.96 631.82 L1080.8 634.93 L1082.43 638.45 L1083.86 642.37 L1085.07 646.64 L1086.05 651.24 L1086.8 656.13 L1087.3 661.28 L1087.56 666.64 L1087.56 672.18 L1087.32 677.85 L1086.83 683.61 L1086.1 689.41Z" fill="#fff" fill-rule="evenodd" stroke="#000" stroke-width="1.6"/>
<path d="M1094.15 696.9 L1092.7 703.86 L1090.99 710.71 L1089.03 717.4 L1086.82 723.89 L1084.4 730.12 L1081.77 736.04 L1078.96 741.61 L1075.99 746.8 L1072.87 751.55 L1069.64 755.83 L1066.33 759.61 L1062.94 762.86 L1059.52 765.56 L1056.08 767.69 L1052.65 769.22 L1049.27 770.15 L1045.94 770.48 L1042.71 770.19 L1039.59 769.29 L1036.61 767.79 L1033.78 765.69 L1031.15 763.02 L1028.71 759.8 L1026.49 756.04 L1024.51 751.79 L1022.79 747.06 L1021.33 741.9 L1020.14 736.35 L1019.24 730.44 L1018.64 724.22 L1018.33 717.75 L1018.32 711.07 L1018.61 704.22 L1019.2 697.27 L1020.08 690.26 L1021.25 683.26 L1022.7 676.3 L1024.41 669.45 L1026.37 662.75 L1028.58 656.27 L1031 650.04 L1033.63 644.12 L1036.44 638.54 L1039.41 633.36 L1042.53 628.61 L1045.76 624.33 L1049.07 620.54 L1052.46 617.29 L1055.88 614.59 L1059.32 612.47 L1062.75 610.93 L1066.13 610 L1069.46 609.68 L1072.69 609.97 L1075.81 610.87 L1078.79 612.37 L1081.62 614.46 L1084.25 617.13 L1086.69 620.36 L1088.91 624.11 L1090.89 628.37 L1092.61 633.1 L1094.07 638.26 L1095.26 643.81 L1096.16 649.72 L1096.76 655.93 L1097.07 662.4 L1097.08 669.09 L1096.79 675.93 L1096.2 682.88 L1095.32 689.89Z M1087.89 695.73 L1086.69 701.49 L1085.27 707.16 L1083.65 712.71 L1081.82 718.08 L1079.81 723.24 L1077.64 728.14 L1075.31 732.76 L1072.84 737.05 L1070.27 740.99 L1067.59 744.53 L1064.84 747.67 L1062.04 750.36 L1059.2 752.6 L1056.36 754.36 L1053.52 755.63 L1050.71 756.4 L1047.96 756.67 L1045.28 756.43 L1042.7 755.68 L1040.23 754.44 L1037.89 752.7 L1035.71 750.49 L1033.69 747.82 L1031.85 744.71 L1030.21 741.19 L1028.78 737.27 L1027.57 733 L1026.59 728.4 L1025.85 723.51 L1025.35 718.36 L1025.09 713 L1025.09 707.46 L1025.33 701.79 L1025.81 696.04 L1026.54 690.23 L1027.51 684.43 L1028.71 678.67 L1030.13 672.99 L1031.75 667.45 L1033.58 662.08 L1035.59 656.92 L1037.76 652.01 L1040.09 647.39 L1042.56 643.1 L1045.13 639.17 L1047.81 635.62 L1050.56 632.49 L1053.36 629.79 L1056.2 627.56 L1059.04 625.8 L1061.88 624.53 L1064.69 623.76 L1067.44 623.49 L1070.12 623.73 L1072.7 624.47 L1075.17 625.72 L1077.51 627.45 L1079.69 629.66 L1081.71 632.33 L1083.55 635.44 L1085.19 638.97 L1086.62 642.88 L1087.83 647.16 L1088.81 651.76 L1089.55 656.65 L1090.05 661.8 L1090.31 667.16 L1090.31 672.69 L1090.07 678.36 L1089.59 684.12 L1088.86 689.92Z" fill="#fff" fill-rule="evenodd" stroke="none"/>
<path d="M1093.79 696.83L1093.27 699.5L1087.81 698.05L1088.25 695.79ZM1092.9 701.27L1092.31 703.93L1086.99 701.81L1087.49 699.55ZM1091.9 705.67L1091.24 708.34L1086.08 705.54L1086.65 703.27ZM1090.8 710.02L1090.05 712.7L1085.08 709.23L1085.71 706.96ZM1089.58 714.31L1088.76 717L1083.99 712.86L1084.68 710.59ZM1088.27 718.53L1087.37 721.21L1082.81 716.43L1083.57 714.16ZM1086.86 722.65L1085.88 725.33L1081.55 719.91L1082.38 717.65ZM1085.36 726.67L1084.3 729.34L1080.21 723.3L1081.11 721.05ZM1083.78 730.58L1082.63 733.22L1078.8 726.59L1079.77 724.36ZM1082.11 734.36L1080.87 736.96L1077.31 729.76L1078.36 727.56ZM1080.36 738L1079.05 740.55L1075.77 732.8L1076.88 730.64ZM1078.54 741.49L1077.15 743.98L1074.16 735.7L1075.34 733.59ZM1076.66 744.82L1075.19 747.24L1072.5 738.45L1073.75 736.4ZM1074.72 747.97L1073.17 750.3L1070.79 741.05L1072.1 739.07ZM1072.72 750.94L1071.1 753.17L1069.04 743.48L1070.42 741.59ZM1070.68 753.72L1068.99 755.84L1067.26 745.73L1068.69 743.95ZM1068.6 756.31L1066.84 758.29L1065.44 747.81L1066.92 746.13ZM1066.48 758.68L1064.67 760.51L1063.6 749.69L1065.13 748.14ZM1064.33 760.84L1062.48 762.51L1061.74 751.38L1063.31 749.96ZM1062.17 762.77L1060.27 764.27L1059.87 752.87L1061.48 751.6ZM1059.98 764.48L1058.05 765.79L1058 754.15L1059.63 753.04ZM1057.8 765.95L1055.84 767.06L1056.13 755.23L1057.78 754.29ZM1055.61 767.18L1053.64 768.08L1054.26 756.1L1055.93 755.33ZM1053.43 768.17L1051.45 768.86L1052.41 756.75L1054.08 756.17ZM1051.26 768.91L1049.29 769.38L1050.58 757.19L1052.25 756.8ZM1049.11 769.41L1047.15 769.65L1048.77 757.42L1050.43 757.22ZM1046.99 769.66L1045.05 769.66L1047 757.43L1048.64 757.43ZM1044.9 769.65L1043 769.43L1045.26 757.23L1046.87 757.43ZM1042.86 769.4L1040.99 768.94L1043.56 756.82L1045.14 757.21ZM1040.85 768.9L1039.04 768.21L1041.91 756.2L1043.44 756.79ZM1038.91 768.15L1037.16 767.23L1040.31 755.37L1041.8 756.15ZM1037.02 767.15L1035.33 766.01L1038.77 754.34L1040.2 755.31ZM1035.2 765.91L1033.59 764.56L1037.29 753.12L1038.65 754.26ZM1033.44 764.43L1031.91 762.88L1035.88 751.69L1037.17 753.01ZM1031.77 762.72L1030.32 760.98L1034.53 750.08L1035.75 751.56ZM1030.17 760.78L1028.82 758.86L1033.26 748.29L1034.4 749.91ZM1028.67 758.61L1027.41 756.53L1032.07 746.32L1033.13 748.08ZM1027.25 756.24L1026.09 754L1030.95 744.17L1031.93 746.07ZM1025.93 753.65L1024.88 751.27L1029.92 741.87L1030.81 743.88ZM1024.71 750.86L1023.76 748.36L1028.97 739.41L1029.78 741.52ZM1023.59 747.88L1022.75 745.28L1028.12 736.8L1028.83 739ZM1022.58 744.72L1021.84 742.03L1027.35 734.05L1027.98 736.33ZM1021.68 741.39L1021.05 738.62L1026.68 731.16L1027.22 733.51ZM1020.9 737.9L1020.36 735.07L1026.1 728.16L1026.55 730.55ZM1020.23 734.25L1019.79 731.38L1025.62 725.03L1025.98 727.47ZM1019.67 730.47L1019.34 727.57L1025.23 721.81L1025.52 724.26ZM1019.24 726.56L1019 723.64L1024.95 718.48L1025.15 720.95ZM1018.93 722.54L1018.78 719.61L1024.76 715.07L1024.89 717.55ZM1018.74 718.41L1018.68 715.49L1024.68 711.59L1024.73 714.06ZM1018.67 714.19L1018.7 711.29L1024.69 708.03L1024.67 710.49ZM1018.73 709.9L1018.84 707.02L1024.81 704.42L1024.72 706.85ZM1018.91 705.55L1019.09 702.7L1025.02 700.76L1024.87 703.17ZM1019.21 701.14L1019.46 698.33L1025.34 697.06L1025.12 699.44ZM1019.63 696.71L1019.95 693.93L1025.75 693.34L1025.48 695.69ZM1020.17 692.25L1020.56 689.51L1026.27 689.6L1025.94 691.91ZM1020.83 687.78L1021.29 685.09L1026.88 685.85L1026.5 688.13ZM1021.61 683.32L1022.13 680.66L1027.59 682.1L1027.15 684.36ZM1022.5 678.89L1023.09 676.22L1028.41 678.35L1027.91 680.61ZM1023.5 674.48L1024.16 671.81L1029.32 674.62L1028.75 676.88ZM1024.6 670.13L1025.35 667.45L1030.32 670.93L1029.69 673.2ZM1025.82 665.84L1026.64 663.16L1031.41 667.29L1030.72 669.57ZM1027.13 661.63L1028.03 658.94L1032.59 663.73L1031.83 666ZM1028.54 657.5L1029.52 654.83L1033.85 660.24L1033.02 662.51ZM1030.04 653.48L1031.1 650.82L1035.19 656.85L1034.29 659.1ZM1031.62 649.58L1032.77 646.94L1036.6 653.57L1035.63 655.8ZM1033.29 645.8L1034.53 643.19L1038.09 650.4L1037.04 652.6ZM1035.04 642.16L1036.35 639.6L1039.63 647.36L1038.52 649.52ZM1036.86 638.67L1038.25 636.17L1041.24 644.45L1040.06 646.57ZM1038.74 635.34L1040.21 632.92L1042.9 641.7L1041.65 643.75ZM1040.68 632.18L1042.23 629.85L1044.61 639.11L1043.3 641.08ZM1042.68 629.21L1044.3 626.98L1046.36 636.68L1044.98 638.56ZM1044.72 626.43L1046.41 624.32L1048.14 634.42L1046.71 636.21ZM1046.8 623.85L1048.56 621.87L1049.96 632.35L1048.48 634.03ZM1048.92 621.48L1050.73 619.64L1051.8 630.47L1050.27 632.02ZM1051.07 619.32L1052.92 617.65L1053.66 628.78L1052.09 630.19ZM1053.23 617.39L1055.13 615.89L1055.53 627.29L1053.92 628.55ZM1055.42 615.68L1057.35 614.37L1057.4 626L1055.77 627.11ZM1057.6 614.21L1059.56 613.1L1059.27 624.92L1057.62 625.87ZM1059.79 612.98L1061.76 612.07L1061.14 624.06L1059.47 624.82ZM1061.97 611.99L1063.95 611.3L1062.99 623.4L1061.32 623.98ZM1064.14 611.24L1066.11 610.78L1064.82 622.96L1063.15 623.35ZM1066.29 610.74L1068.25 610.51L1066.63 622.73L1064.97 622.93ZM1068.41 610.5L1070.35 610.49L1068.4 622.72L1066.76 622.73ZM1070.5 610.5L1072.4 610.73L1070.14 622.92L1068.53 622.73ZM1072.54 610.75L1074.41 611.21L1071.84 623.33L1070.26 622.94ZM1074.55 611.26L1076.36 611.95L1073.49 623.95L1071.96 623.37ZM1076.49 612.01L1078.24 612.93L1075.09 624.78L1073.6 624.01ZM1078.38 613.01L1080.07 614.14L1076.63 625.81L1075.2 624.85ZM1080.2 614.25L1081.81 615.59L1078.11 627.04L1076.75 625.9ZM1081.96 615.72L1083.49 617.27L1079.52 628.46L1078.23 627.15ZM1083.63 617.44L1085.08 619.18L1080.87 630.07L1079.65 628.6ZM1085.23 619.38L1086.58 621.3L1082.14 631.87L1081 630.24ZM1086.73 621.54L1087.99 623.63L1083.33 633.84L1082.27 632.07ZM1088.15 623.92L1089.31 626.16L1084.45 635.98L1083.47 634.09ZM1089.47 626.51L1090.52 628.88L1085.48 638.29L1084.59 636.27ZM1090.69 629.29L1091.64 631.79L1086.43 640.75L1085.62 638.63ZM1091.81 632.27L1092.65 634.88L1087.28 643.36L1086.57 641.15ZM1092.82 635.43L1093.56 638.13L1088.05 646.11L1087.42 643.83ZM1093.72 638.76L1094.35 641.53L1088.72 648.99L1088.18 646.65ZM1094.5 642.26L1095.04 645.09L1089.3 652L1088.85 649.61ZM1095.17 645.9L1095.61 648.77L1089.78 655.12L1089.42 652.69ZM1095.73 649.68L1096.06 652.59L1090.17 658.35L1089.88 655.89ZM1096.16 653.59L1096.4 656.51L1090.45 661.67L1090.25 659.2ZM1096.47 657.62L1096.62 660.54L1090.64 665.08L1090.51 662.61ZM1096.66 661.75L1096.72 664.66L1090.72 668.57L1090.67 666.1ZM1096.73 665.96L1096.7 668.87L1090.71 672.12L1090.73 669.67ZM1096.67 670.25L1096.56 673.13L1090.59 675.74L1090.68 673.3ZM1096.49 674.61L1096.31 677.46L1090.38 679.4L1090.53 676.99ZM1096.19 679.01L1095.94 681.82L1090.06 683.09L1090.28 680.71ZM1095.77 683.45L1095.45 686.22L1089.65 686.82L1089.92 684.47ZM1095.23 687.91L1094.84 690.64L1089.13 690.56L1089.46 688.24ZM1094.57 692.37L1094.11 695.07L1088.52 694.3L1088.9 692.02Z" fill="#000" stroke="none"/>
<ellipse cx="1057.7" cy="690.08" rx="37.08" ry="81.5" transform="rotate(10.6 1057.7 690.08)" fill="none" stroke="#000" stroke-width="2.2"/>
<ellipse cx="1057.7" cy="690.08" rx="30.71" ry="67.5" transform="rotate(10.6 1057.7 690.08)" fill="none" stroke="#000" stroke-width="2.7"/>
<path d="M1083.78 719.22 L1087.3 723.53 L1082.19 736.47 L1078.91 731.55Z" fill="#fff" stroke="#000" stroke-width="1.8" stroke-linejoin="round"/>
<path d="M1086.53 719.73 L1090.05 724.04 L1084.94 736.98 L1081.66 732.06Z" fill="#fff" stroke="#000" stroke-width="1.8" stroke-linejoin="round"/>
<path d="M1067.75 750.74 L1069.14 758.92 L1062.2 766.71 L1061.14 758.16Z" fill="#fff" stroke="#000" stroke-width="1.8" stroke-linejoin="round"/>
<path d="M1070.5 751.26 L1071.89 759.44 L1064.95 767.22 L1063.89 758.68Z" fill="#fff" stroke="#000" stroke-width="1.8" stroke-linejoin="round"/>
<path d="M1048.3 765.88 L1047.18 775.73 L1040.26 776.28 L1041.7 766.4Z" fill="#fff" stroke="#000" stroke-width="1.8" stroke-linejoin="round"/>
<path d="M1051.05 766.39 L1049.93 776.25 L1043.01 776.79 L1044.45 766.91Z" fill="#fff" stroke="#000" stroke-width="1.8" stroke-linejoin="round"/>
<path d="M1030.62 760.57 L1027.3 769.45 L1022.26 762.61 L1025.82 754.05Z" fill="#fff" stroke="#000" stroke-width="1.8" stroke-linejoin="round"/>
<path d="M1033.37 761.08 L1030.05 769.97 L1025.01 763.13 L1028.57 754.56Z" fill="#fff" stroke="#000" stroke-width="1.8" stroke-linejoin="round"/>
<path d="M1019.47 736.23 L1014.83 741.77 L1013.01 729.37 L1017.74 724.42Z" fill="#fff" stroke="#000" stroke-width="1.8" stroke-linejoin="round"/>
<path d="M1022.22 736.74 L1017.58 742.28 L1015.77 729.89 L1020.49 724.93Z" fill="#fff" stroke="#000" stroke-width="1.8" stroke-linejoin="round"/>
<path d="M1017.82 699.38 L1013.11 700.1 L1015.01 685.47 L1019.63 685.45Z" fill="#fff" stroke="#000" stroke-width="1.8" stroke-linejoin="round"/>
<path d="M1020.57 699.9 L1015.86 700.61 L1017.76 685.98 L1022.38 685.96Z" fill="#fff" stroke="#000" stroke-width="1.8" stroke-linejoin="round"/>
<path d="M1026.12 659.91 L1022.6 655.6 L1027.7 642.66 L1030.98 647.58Z" fill="#fff" stroke="#000" stroke-width="1.8" stroke-linejoin="round"/>
<path d="M1028.87 660.42 L1025.35 656.11 L1030.46 643.17 L1033.74 648.09Z" fill="#fff" stroke="#000" stroke-width="1.8" stroke-linejoin="round"/>
<path d="M1042.14 628.38 L1040.76 620.2 L1047.7 612.42 L1048.76 620.96Z" fill="#fff" stroke="#000" stroke-width="1.8" stroke-linejoin="round"/>
<path d="M1044.9 628.9 L1043.51 620.72 L1050.45 612.93 L1051.51 621.48Z" fill="#fff" stroke="#000" stroke-width="1.8" stroke-linejoin="round"/>
<path d="M1061.6 613.25 L1062.72 603.39 L1069.64 602.85 L1068.19 612.73Z" fill="#fff" stroke="#000" stroke-width="1.8" stroke-linejoin="round"/>
<path d="M1064.35 613.76 L1065.47 603.91 L1072.39 603.36 L1070.95 613.24Z" fill="#fff" stroke="#000" stroke-width="1.8" stroke-linejoin="round"/>
<path d="M1079.27 618.56 L1082.6 609.67 L1087.64 616.51 L1084.08 625.08Z" fill="#fff" stroke="#000" stroke-width="1.8" stroke-linejoin="round"/>
<path d="M1082.03 619.07 L1085.35 610.19 L1090.39 617.03 L1086.83 625.59Z" fill="#fff" stroke="#000" stroke-width="1.8" stroke-linejoin="round"/>
<path d="M1090.43 642.9 L1095.07 637.36 L1096.88 649.75 L1092.16 654.71Z" fill="#fff" stroke="#000" stroke-width="1.8" stroke-linejoin="round"/>
<path d="M1093.18 643.41 L1097.82 637.87 L1099.63 650.27 L1094.91 655.22Z" fill="#fff" stroke="#000" stroke-width="1.8" stroke-linejoin="round"/>
<path d="M1092.08 679.74 L1096.79 679.03 L1094.89 693.66 L1090.27 693.68Z" fill="#fff" stroke="#000" stroke-width="1.8" stroke-linejoin="round"/>
<path d="M1094.83 680.26 L1099.54 679.54 L1097.64 694.17 L1093.02 694.19Z" fill="#fff" stroke="#000" stroke-width="1.8" stroke-linejoin="round"/>
<path d="M1119.11 701.48 L1117.66 708.48 L1115.94 715.37 L1113.96 722.1 L1111.74 728.63 L1109.3 734.9 L1106.66 740.86 L1103.83 746.47 L1100.84 751.68 L1097.71 756.46 L1094.46 760.77 L1091.12 764.58 L1087.71 767.85 L1084.27 770.56 L1080.81 772.7 L1077.36 774.25 L1073.95 775.18 L1070.61 775.51 L1067.36 775.22 L1064.22 774.31 L1061.22 772.8 L1058.38 770.69 L1055.72 768.01 L1053.27 764.76 L1051.04 760.99 L1049.05 756.7 L1047.31 751.95 L1045.84 746.75 L1044.65 741.17 L1043.75 735.22 L1043.14 728.97 L1042.83 722.46 L1042.82 715.73 L1043.11 708.85 L1043.7 701.85 L1044.59 694.8 L1045.77 687.75 L1047.22 680.75 L1048.94 673.86 L1050.92 667.12 L1053.14 660.6 L1055.58 654.33 L1058.22 648.37 L1061.05 642.76 L1064.04 637.55 L1067.17 632.77 L1070.42 628.46 L1073.76 624.65 L1077.17 621.38 L1080.61 618.66 L1084.07 616.53 L1087.52 614.98 L1090.93 614.05 L1094.27 613.72 L1097.52 614.01 L1100.66 614.92 L1103.66 616.43 L1106.5 618.54 L1109.16 621.22 L1111.61 624.47 L1113.84 628.24 L1115.83 632.53 L1117.57 637.28 L1119.04 642.47 L1120.23 648.06 L1121.13 654.01 L1121.74 660.26 L1122.05 666.77 L1122.06 673.5 L1121.77 680.38 L1121.17 687.38 L1120.29 694.43Z M1112.18 700.18 L1112.61 701.35 L1112.4 702.39 L1112.18 703.44 L1111.35 704.27 L1110.52 705.07 L1110.3 706.06 L1110.06 707.05 L1110.41 708.33 L1110.74 709.64 L1110.48 710.67 L1110.21 711.69 L1109.36 712.33 L1108.52 712.93 L1108.24 713.89 L1107.95 714.85 L1108.2 716.26 L1108.43 717.71 L1108.12 718.69 L1107.79 719.67 L1106.94 720.11 L1106.11 720.5 L1105.78 721.42 L1105.44 722.33 L1105.59 723.85 L1105.72 725.41 L1105.35 726.34 L1104.98 727.26 L1104.14 727.48 L1103.32 727.66 L1102.94 728.52 L1102.57 729.37 L1102.61 730.98 L1102.63 732.62 L1102.22 733.48 L1101.81 734.33 L1101 734.34 L1100.2 734.3 L1099.79 735.09 L1099.37 735.87 L1099.31 737.54 L1099.22 739.23 L1098.78 740.01 L1098.33 740.78 L1097.56 740.57 L1096.8 740.32 L1096.36 741.02 L1095.91 741.71 L1095.75 743.42 L1095.55 745.14 L1095.08 745.83 L1094.6 746.5 L1093.88 746.07 L1093.18 745.61 L1092.71 746.22 L1092.24 746.81 L1091.97 748.53 L1091.68 750.25 L1091.18 750.83 L1090.68 751.4 L1090.02 750.77 L1089.38 750.1 L1088.9 750.6 L1088.42 751.09 L1088.05 752.79 L1087.66 754.49 L1087.15 754.95 L1086.64 755.4 L1086.05 754.58 L1085.48 753.72 L1084.99 754.1 L1084.49 754.48 L1084.03 756.13 L1083.55 757.78 L1083.04 758.12 L1082.52 758.45 L1082.01 757.44 L1081.53 756.4 L1081.03 756.67 L1080.54 756.92 L1080 758.5 L1079.43 760.08 L1078.92 760.29 L1078.4 760.49 L1077.99 759.31 L1077.59 758.11 L1077.1 758.25 L1076.62 758.38 L1076 759.86 L1075.36 761.34 L1074.85 761.42 L1074.35 761.49 L1074.03 760.16 L1073.73 758.82 L1073.26 758.83 L1072.79 758.83 L1072.1 760.2 L1071.39 761.55 L1070.91 761.5 L1070.43 761.44 L1070.21 759.98 L1070.01 758.51 L1069.56 758.4 L1069.11 758.28 L1068.36 759.5 L1067.6 760.7 L1067.15 760.52 L1066.69 760.33 L1066.58 758.77 L1066.48 757.2 L1066.06 756.96 L1065.64 756.71 L1064.85 757.78 L1064.05 758.82 L1063.63 758.51 L1063.2 758.19 L1063.19 756.54 L1063.21 754.9 L1062.82 754.54 L1062.43 754.17 L1061.61 755.06 L1060.79 755.92 L1060.4 755.48 L1060.02 755.04 L1060.12 753.34 L1060.23 751.65 L1059.89 751.18 L1059.54 750.69 L1058.71 751.39 L1057.86 752.05 L1057.52 751.5 L1057.19 750.94 L1057.39 749.21 L1057.61 747.5 L1057.31 746.92 L1057.02 746.33 L1056.17 746.82 L1055.33 747.28 L1055.04 746.62 L1054.76 745.95 L1055.06 744.22 L1055.38 742.51 L1055.13 741.84 L1054.89 741.15 L1054.06 741.43 L1053.22 741.67 L1052.99 740.92 L1052.76 740.15 L1053.16 738.45 L1053.58 736.77 L1053.38 736.01 L1053.2 735.23 L1052.38 735.3 L1051.57 735.33 L1051.4 734.49 L1051.24 733.64 L1051.73 731.99 L1052.23 730.37 L1052.09 729.53 L1051.97 728.68 L1051.19 728.53 L1050.41 728.34 L1050.3 727.43 L1050.2 726.51 L1050.77 724.94 L1051.36 723.4 L1051.28 722.5 L1051.22 721.59 L1050.48 721.23 L1049.76 720.82 L1049.71 719.85 L1049.67 718.87 L1050.32 717.41 L1050.98 715.98 L1050.96 715.03 L1050.96 714.07 L1050.28 713.5 L1049.62 712.89 L1049.64 711.88 L1049.66 710.86 L1050.37 709.52 L1051.09 708.22 L1051.14 707.23 L1051.2 706.24 L1050.59 705.48 L1050 704.67 L1050.08 703.63 L1050.17 702.58 L1050.93 701.4 L1051.7 700.25 L1051.81 699.24 L1051.93 698.24 L1051.4 697.28 L1050.88 696.29 L1051.03 695.24 L1051.19 694.19 L1051.99 693.16 L1052.79 692.19 L1052.96 691.18 L1053.14 690.17 L1052.7 689.05 L1052.27 687.88 L1052.48 686.84 L1052.69 685.79 L1053.52 684.96 L1054.35 684.16 L1054.58 683.17 L1054.81 682.18 L1054.47 680.9 L1054.13 679.58 L1054.4 678.56 L1054.67 677.54 L1055.52 676.9 L1056.36 676.3 L1056.64 675.34 L1056.92 674.38 L1056.67 672.97 L1056.44 671.52 L1056.76 670.54 L1057.09 669.56 L1057.93 669.12 L1058.77 668.73 L1059.1 667.81 L1059.44 666.9 L1059.29 665.38 L1059.16 663.82 L1059.53 662.89 L1059.9 661.97 L1060.74 661.75 L1061.56 661.57 L1061.93 660.71 L1062.31 659.86 L1062.27 658.25 L1062.25 656.61 L1062.66 655.75 L1063.07 654.9 L1063.88 654.89 L1064.68 654.93 L1065.09 654.14 L1065.5 653.36 L1065.57 651.69 L1065.65 650 L1066.1 649.22 L1066.55 648.45 L1067.32 648.66 L1068.08 648.91 L1068.52 648.21 L1068.96 647.52 L1069.13 645.81 L1069.32 644.09 L1069.8 643.4 L1070.28 642.73 L1071 643.16 L1071.7 643.62 L1072.17 643.01 L1072.64 642.42 L1072.91 640.7 L1073.2 638.97 L1073.7 638.4 L1074.19 637.83 L1074.85 638.46 L1075.5 639.13 L1075.98 638.63 L1076.46 638.14 L1076.83 636.44 L1077.22 634.74 L1077.73 634.27 L1078.24 633.83 L1078.83 634.65 L1079.4 635.51 L1079.89 635.13 L1080.38 634.75 L1080.84 633.1 L1081.33 631.45 L1081.84 631.11 L1082.36 630.78 L1082.86 631.79 L1083.35 632.83 L1083.84 632.56 L1084.34 632.31 L1084.88 630.73 L1085.45 629.15 L1085.96 628.94 L1086.47 628.74 L1086.89 629.92 L1087.29 631.12 L1087.77 630.98 L1088.26 630.85 L1088.88 629.36 L1089.52 627.89 L1090.03 627.81 L1090.53 627.74 L1090.85 629.07 L1091.15 630.41 L1091.62 630.4 L1092.09 630.4 L1092.78 629.03 L1093.49 627.68 L1093.97 627.73 L1094.45 627.79 L1094.67 629.25 L1094.87 630.72 L1095.32 630.83 L1095.77 630.95 L1096.52 629.73 L1097.27 628.52 L1097.73 628.7 L1098.19 628.9 L1098.3 630.46 L1098.4 632.03 L1098.82 632.27 L1099.24 632.51 L1100.03 631.45 L1100.83 630.41 L1101.25 630.72 L1101.67 631.04 L1101.68 632.69 L1101.67 634.33 L1102.06 634.69 L1102.45 635.06 L1103.26 634.17 L1104.09 633.31 L1104.48 633.74 L1104.86 634.19 L1104.76 635.89 L1104.64 637.58 L1104.99 638.05 L1105.33 638.54 L1106.17 637.84 L1107.02 637.18 L1107.35 637.73 L1107.69 638.29 L1107.49 640.02 L1107.27 641.73 L1107.57 642.31 L1107.86 642.9 L1108.7 642.41 L1109.55 641.95 L1109.84 642.61 L1110.12 643.28 L1109.82 645 L1109.5 646.71 L1109.75 647.39 L1109.99 648.08 L1110.82 647.8 L1111.66 647.55 L1111.89 648.31 L1112.12 649.08 L1111.72 650.78 L1111.3 652.45 L1111.49 653.22 L1111.68 654 L1112.49 653.93 L1113.31 653.9 L1113.48 654.74 L1113.64 655.59 L1113.15 657.24 L1112.65 658.86 L1112.78 659.7 L1112.91 660.55 L1113.69 660.7 L1114.47 660.89 L1114.58 661.8 L1114.68 662.72 L1114.11 664.29 L1113.52 665.83 L1113.6 666.73 L1113.66 667.64 L1114.39 668 L1115.12 668.41 L1115.17 669.38 L1115.2 670.36 L1114.56 671.82 L1113.9 673.25 L1113.92 674.2 L1113.92 675.16 L1114.6 675.73 L1115.26 676.34 L1115.24 677.35 L1115.22 678.37 L1114.5 679.71 L1113.79 681.01 L1113.74 681.99 L1113.68 682.99 L1114.29 683.75 L1114.88 684.56 L1114.8 685.6 L1114.71 686.65 L1113.95 687.83 L1113.18 688.98 L1113.07 689.99 L1112.95 690.99 L1113.48 691.94 L1113.99 692.94 L1113.85 693.99 L1113.69 695.04 L1112.89 696.07 L1112.09 697.04 L1111.92 698.05 L1111.74 699.06Z" fill="#fff" fill-rule="evenodd" stroke="#000" stroke-width="1.6"/>
<path d="M1121.37 701.9 L1119.92 708.9 L1118.2 715.79 L1116.22 722.53 L1114 729.05 L1111.56 735.32 L1108.92 741.28 L1106.09 746.89 L1103.1 752.1 L1099.97 756.88 L1096.72 761.19 L1093.38 765 L1089.97 768.27 L1086.53 770.99 L1083.07 773.12 L1079.62 774.67 L1076.21 775.61 L1072.87 775.93 L1069.62 775.64 L1066.48 774.73 L1063.48 773.22 L1060.64 771.12 L1057.98 768.43 L1055.53 765.19 L1053.3 761.41 L1051.31 757.13 L1049.57 752.37 L1048.1 747.18 L1046.91 741.59 L1046.01 735.65 L1045.4 729.39 L1045.09 722.88 L1045.08 716.16 L1045.37 709.27 L1045.96 702.27 L1046.85 695.23 L1048.03 688.17 L1049.48 681.18 L1051.2 674.28 L1053.18 667.55 L1055.4 661.02 L1057.84 654.75 L1060.48 648.79 L1063.31 643.18 L1066.3 637.97 L1069.43 633.19 L1072.68 628.88 L1076.02 625.08 L1079.43 621.8 L1082.87 619.09 L1086.33 616.95 L1089.78 615.41 L1093.19 614.47 L1096.53 614.15 L1099.78 614.44 L1102.92 615.34 L1105.92 616.85 L1108.76 618.96 L1111.42 621.65 L1113.87 624.89 L1116.1 628.67 L1118.09 632.95 L1119.83 637.71 L1121.3 642.9 L1122.49 648.49 L1123.39 654.43 L1124 660.68 L1124.31 667.19 L1124.32 673.92 L1124.03 680.81 L1123.44 687.8 L1122.55 694.85Z M1114.44 700.6 L1114.87 701.77 L1114.66 702.81 L1114.45 703.86 L1113.61 704.7 L1112.79 705.49 L1112.56 706.48 L1112.33 707.48 L1112.67 708.75 L1113 710.07 L1112.74 711.09 L1112.47 712.11 L1111.62 712.75 L1110.78 713.35 L1110.5 714.31 L1110.22 715.27 L1110.46 716.68 L1110.7 718.13 L1110.38 719.12 L1110.05 720.09 L1109.21 720.53 L1108.37 720.92 L1108.04 721.84 L1107.7 722.75 L1107.85 724.28 L1107.98 725.83 L1107.61 726.76 L1107.24 727.68 L1106.4 727.9 L1105.58 728.08 L1105.21 728.94 L1104.83 729.8 L1104.87 731.4 L1104.89 733.04 L1104.48 733.9 L1104.07 734.76 L1103.26 734.76 L1102.46 734.72 L1102.05 735.51 L1101.63 736.29 L1101.57 737.96 L1101.48 739.66 L1101.04 740.43 L1100.59 741.2 L1099.82 740.99 L1099.06 740.74 L1098.62 741.44 L1098.17 742.13 L1098.01 743.84 L1097.82 745.56 L1097.34 746.25 L1096.86 746.92 L1096.14 746.5 L1095.44 746.03 L1094.97 746.64 L1094.5 747.23 L1094.23 748.95 L1093.94 750.68 L1093.44 751.26 L1092.94 751.82 L1092.28 751.19 L1091.64 750.52 L1091.16 751.02 L1090.68 751.51 L1090.31 753.21 L1089.92 754.91 L1089.41 755.38 L1088.9 755.83 L1088.31 755 L1087.74 754.14 L1087.25 754.53 L1086.75 754.9 L1086.29 756.55 L1085.81 758.2 L1085.3 758.55 L1084.78 758.87 L1084.27 757.86 L1083.79 756.82 L1083.3 757.09 L1082.8 757.34 L1082.26 758.92 L1081.69 760.5 L1081.18 760.71 L1080.67 760.91 L1080.25 759.73 L1079.85 758.53 L1079.36 758.67 L1078.88 758.8 L1078.26 760.29 L1077.62 761.76 L1077.11 761.85 L1076.61 761.91 L1076.29 760.58 L1075.99 759.24 L1075.52 759.26 L1075.05 759.26 L1074.36 760.62 L1073.65 761.97 L1073.17 761.92 L1072.69 761.86 L1072.47 760.4 L1072.27 758.93 L1071.82 758.82 L1071.37 758.7 L1070.62 759.92 L1069.87 761.13 L1069.41 760.95 L1068.95 760.75 L1068.84 759.19 L1068.74 757.62 L1068.32 757.39 L1067.9 757.14 L1067.11 758.2 L1066.31 759.24 L1065.89 758.93 L1065.47 758.61 L1065.46 756.96 L1065.47 755.32 L1065.08 754.97 L1064.69 754.6 L1063.88 755.48 L1063.05 756.34 L1062.66 755.91 L1062.28 755.46 L1062.38 753.76 L1062.49 752.07 L1062.15 751.6 L1061.8 751.12 L1060.97 751.81 L1060.12 752.47 L1059.78 751.92 L1059.45 751.36 L1059.65 749.64 L1059.87 747.92 L1059.57 747.34 L1059.28 746.75 L1058.44 747.24 L1057.59 747.7 L1057.3 747.04 L1057.02 746.37 L1057.32 744.65 L1057.64 742.94 L1057.39 742.26 L1057.15 741.57 L1056.32 741.85 L1055.48 742.1 L1055.25 741.34 L1055.02 740.58 L1055.42 738.88 L1055.84 737.2 L1055.64 736.43 L1055.46 735.66 L1054.65 735.73 L1053.83 735.75 L1053.66 734.91 L1053.5 734.06 L1053.99 732.41 L1054.49 730.79 L1054.35 729.95 L1054.23 729.1 L1053.45 728.96 L1052.67 728.76 L1052.56 727.85 L1052.46 726.93 L1053.03 725.36 L1053.62 723.83 L1053.54 722.92 L1053.48 722.01 L1052.74 721.65 L1052.02 721.25 L1051.97 720.27 L1051.93 719.3 L1052.58 717.83 L1053.24 716.4 L1053.22 715.45 L1053.22 714.49 L1052.54 713.93 L1051.88 713.31 L1051.9 712.3 L1051.92 711.28 L1052.63 709.94 L1053.35 708.65 L1053.4 707.66 L1053.46 706.67 L1052.85 705.9 L1052.26 705.09 L1052.34 704.05 L1052.43 703.01 L1053.19 701.82 L1053.96 700.67 L1054.07 699.67 L1054.19 698.66 L1053.66 697.71 L1053.15 696.71 L1053.29 695.66 L1053.45 694.61 L1054.25 693.59 L1055.05 692.61 L1055.22 691.6 L1055.4 690.59 L1054.96 689.47 L1054.53 688.31 L1054.74 687.26 L1054.95 686.22 L1055.79 685.38 L1056.61 684.59 L1056.84 683.59 L1057.07 682.6 L1056.73 681.32 L1056.4 680.01 L1056.66 678.98 L1056.93 677.96 L1057.78 677.32 L1058.62 676.73 L1058.9 675.76 L1059.18 674.8 L1058.94 673.39 L1058.7 671.94 L1059.02 670.96 L1059.35 669.98 L1060.19 669.55 L1061.03 669.16 L1061.36 668.24 L1061.7 667.32 L1061.55 665.8 L1061.42 664.25 L1061.79 663.32 L1062.16 662.39 L1063 662.17 L1063.82 661.99 L1064.19 661.13 L1064.57 660.28 L1064.53 658.67 L1064.51 657.03 L1064.92 656.17 L1065.33 655.32 L1066.14 655.31 L1066.94 655.35 L1067.35 654.56 L1067.77 653.79 L1067.83 652.11 L1067.92 650.42 L1068.36 649.64 L1068.81 648.87 L1069.58 649.08 L1070.34 649.34 L1070.78 648.63 L1071.23 647.94 L1071.39 646.23 L1071.58 644.51 L1072.06 643.83 L1072.54 643.15 L1073.26 643.58 L1073.96 644.04 L1074.43 643.44 L1074.9 642.84 L1075.17 641.12 L1075.46 639.4 L1075.96 638.82 L1076.46 638.25 L1077.12 638.88 L1077.76 639.55 L1078.24 639.05 L1078.72 638.56 L1079.09 636.87 L1079.48 635.16 L1079.99 634.7 L1080.5 634.25 L1081.09 635.08 L1081.66 635.94 L1082.15 635.55 L1082.65 635.18 L1083.11 633.52 L1083.59 631.87 L1084.1 631.53 L1084.62 631.2 L1085.13 632.21 L1085.61 633.25 L1086.1 632.99 L1086.6 632.73 L1087.14 631.15 L1087.71 629.58 L1088.22 629.36 L1088.73 629.16 L1089.15 630.34 L1089.55 631.54 L1090.04 631.4 L1090.52 631.27 L1091.14 629.79 L1091.78 628.31 L1092.29 628.23 L1092.79 628.16 L1093.11 629.49 L1093.41 630.84 L1093.88 630.82 L1094.35 630.82 L1095.04 629.45 L1095.75 628.1 L1096.23 628.15 L1096.71 628.22 L1096.93 629.67 L1097.13 631.14 L1097.58 631.25 L1098.03 631.38 L1098.78 630.15 L1099.53 628.95 L1099.99 629.13 L1100.45 629.32 L1100.56 630.89 L1100.66 632.45 L1101.08 632.69 L1101.5 632.94 L1102.29 631.87 L1103.09 630.84 L1103.51 631.14 L1103.93 631.47 L1103.94 633.11 L1103.93 634.75 L1104.32 635.11 L1104.71 635.48 L1105.52 634.59 L1106.35 633.74 L1106.74 634.17 L1107.12 634.61 L1107.02 636.31 L1106.91 638 L1107.25 638.48 L1107.6 638.96 L1108.43 638.26 L1109.28 637.6 L1109.62 638.15 L1109.95 638.71 L1109.75 640.44 L1109.53 642.15 L1109.83 642.73 L1110.12 643.32 L1110.96 642.83 L1111.81 642.37 L1112.1 643.03 L1112.38 643.7 L1112.08 645.43 L1111.76 647.14 L1112.01 647.82 L1112.25 648.51 L1113.08 648.22 L1113.92 647.98 L1114.15 648.73 L1114.38 649.5 L1113.98 651.2 L1113.56 652.88 L1113.76 653.64 L1113.94 654.42 L1114.75 654.35 L1115.57 654.32 L1115.74 655.16 L1115.9 656.01 L1115.41 657.66 L1114.91 659.28 L1115.05 660.12 L1115.17 660.97 L1115.95 661.12 L1116.73 661.31 L1116.84 662.22 L1116.94 663.15 L1116.37 664.71 L1115.78 666.25 L1115.86 667.15 L1115.92 668.07 L1116.66 668.43 L1117.38 668.83 L1117.43 669.8 L1117.47 670.78 L1116.82 672.24 L1116.16 673.67 L1116.18 674.63 L1116.18 675.58 L1116.86 676.15 L1117.52 676.76 L1117.5 677.78 L1117.48 678.8 L1116.77 680.13 L1116.05 681.43 L1116 682.42 L1115.94 683.41 L1116.55 684.17 L1117.14 684.98 L1117.06 686.02 L1116.97 687.07 L1116.21 688.26 L1115.44 689.4 L1115.33 690.41 L1115.21 691.42 L1115.74 692.37 L1116.25 693.36 L1116.11 694.41 L1115.95 695.47 L1115.15 696.49 L1114.35 697.47 L1114.18 698.47 L1114 699.48Z" fill="#fff" fill-rule="evenodd" stroke="none"/>
<ellipse cx="1084.7" cy="695.04" rx="37.31" ry="82" transform="rotate(10.6 1084.7 695.04)" fill="none" stroke="#000" stroke-width="1.9"/>
<path d="M1114.44 700.6 L1114.87 701.77 L1114.66 702.81 L1114.45 703.86 L1113.61 704.7 L1112.79 705.49 L1112.56 706.48 L1112.33 707.48 L1112.67 708.75 L1113 710.07 L1112.74 711.09 L1112.47 712.11 L1111.62 712.75 L1110.78 713.35 L1110.5 714.31 L1110.22 715.27 L1110.46 716.68 L1110.7 718.13 L1110.38 719.12 L1110.05 720.09 L1109.21 720.53 L1108.37 720.92 L1108.04 721.84 L1107.7 722.75 L1107.85 724.28 L1107.98 725.83 L1107.61 726.76 L1107.24 727.68 L1106.4 727.9 L1105.58 728.08 L1105.21 728.94 L1104.83 729.8 L1104.87 731.4 L1104.89 733.04 L1104.48 733.9 L1104.07 734.76 L1103.26 734.76 L1102.46 734.72 L1102.05 735.51 L1101.63 736.29 L1101.57 737.96 L1101.48 739.66 L1101.04 740.43 L1100.59 741.2 L1099.82 740.99 L1099.06 740.74 L1098.62 741.44 L1098.17 742.13 L1098.01 743.84 L1097.82 745.56 L1097.34 746.25 L1096.86 746.92 L1096.14 746.5 L1095.44 746.03 L1094.97 746.64 L1094.5 747.23 L1094.23 748.95 L1093.94 750.68 L1093.44 751.26 L1092.94 751.82 L1092.28 751.19 L1091.64 750.52 L1091.16 751.02 L1090.68 751.51 L1090.31 753.21 L1089.92 754.91 L1089.41 755.38 L1088.9 755.83 L1088.31 755 L1087.74 754.14 L1087.25 754.53 L1086.75 754.9 L1086.29 756.55 L1085.81 758.2 L1085.3 758.55 L1084.78 758.87 L1084.27 757.86 L1083.79 756.82 L1083.3 757.09 L1082.8 757.34 L1082.26 758.92 L1081.69 760.5 L1081.18 760.71 L1080.67 760.91 L1080.25 759.73 L1079.85 758.53 L1079.36 758.67 L1078.88 758.8 L1078.26 760.29 L1077.62 761.76 L1077.11 761.85 L1076.61 761.91 L1076.29 760.58 L1075.99 759.24 L1075.52 759.26 L1075.05 759.26 L1074.36 760.62 L1073.65 761.97 L1073.17 761.92 L1072.69 761.86 L1072.47 760.4 L1072.27 758.93 L1071.82 758.82 L1071.37 758.7 L1070.62 759.92 L1069.87 761.13 L1069.41 760.95 L1068.95 760.75 L1068.84 759.19 L1068.74 757.62 L1068.32 757.39 L1067.9 757.14 L1067.11 758.2 L1066.31 759.24 L1065.89 758.93 L1065.47 758.61 L1065.46 756.96 L1065.47 755.32 L1065.08 754.97 L1064.69 754.6 L1063.88 755.48 L1063.05 756.34 L1062.66 755.91 L1062.28 755.46 L1062.38 753.76 L1062.49 752.07 L1062.15 751.6 L1061.8 751.12 L1060.97 751.81 L1060.12 752.47 L1059.78 751.92 L1059.45 751.36 L1059.65 749.64 L1059.87 747.92 L1059.57 747.34 L1059.28 746.75 L1058.44 747.24 L1057.59 747.7 L1057.3 747.04 L1057.02 746.37 L1057.32 744.65 L1057.64 742.94 L1057.39 742.26 L1057.15 741.57 L1056.32 741.85 L1055.48 742.1 L1055.25 741.34 L1055.02 740.58 L1055.42 738.88 L1055.84 737.2 L1055.64 736.43 L1055.46 735.66 L1054.65 735.73 L1053.83 735.75 L1053.66 734.91 L1053.5 734.06 L1053.99 732.41 L1054.49 730.79 L1054.35 729.95 L1054.23 729.1 L1053.45 728.96 L1052.67 728.76 L1052.56 727.85 L1052.46 726.93 L1053.03 725.36 L1053.62 723.83 L1053.54 722.92 L1053.48 722.01 L1052.74 721.65 L1052.02 721.25 L1051.97 720.27 L1051.93 719.3 L1052.58 717.83 L1053.24 716.4 L1053.22 715.45 L1053.22 714.49 L1052.54 713.93 L1051.88 713.31 L1051.9 712.3 L1051.92 711.28 L1052.63 709.94 L1053.35 708.65 L1053.4 707.66 L1053.46 706.67 L1052.85 705.9 L1052.26 705.09 L1052.34 704.05 L1052.43 703.01 L1053.19 701.82 L1053.96 700.67 L1054.07 699.67 L1054.19 698.66 L1053.66 697.71 L1053.15 696.71 L1053.29 695.66 L1053.45 694.61 L1054.25 693.59 L1055.05 692.61 L1055.22 691.6 L1055.4 690.59 L1054.96 689.47 L1054.53 688.31 L1054.74 687.26 L1054.95 686.22 L1055.79 685.38 L1056.61 684.59 L1056.84 683.59 L1057.07 682.6 L1056.73 681.32 L1056.4 680.01 L1056.66 678.98 L1056.93 677.96 L1057.78 677.32 L1058.62 676.73 L1058.9 675.76 L1059.18 674.8 L1058.94 673.39 L1058.7 671.94 L1059.02 670.96 L1059.35 669.98 L1060.19 669.55 L1061.03 669.16 L1061.36 668.24 L1061.7 667.32 L1061.55 665.8 L1061.42 664.25 L1061.79 663.32 L1062.16 662.39 L1063 662.17 L1063.82 661.99 L1064.19 661.13 L1064.57 660.28 L1064.53 658.67 L1064.51 657.03 L1064.92 656.17 L1065.33 655.32 L1066.14 655.31 L1066.94 655.35 L1067.35 654.56 L1067.77 653.79 L1067.83 652.11 L1067.92 650.42 L1068.36 649.64 L1068.81 648.87 L1069.58 649.08 L1070.34 649.34 L1070.78 648.63 L1071.23 647.94 L1071.39 646.23 L1071.58 644.51 L1072.06 643.83 L1072.54 643.15 L1073.26 643.58 L1073.96 644.04 L1074.43 643.44 L1074.9 642.84 L1075.17 641.12 L1075.46 639.4 L1075.96 638.82 L1076.46 638.25 L1077.12 638.88 L1077.76 639.55 L1078.24 639.05 L1078.72 638.56 L1079.09 636.87 L1079.48 635.16 L1079.99 634.7 L1080.5 634.25 L1081.09 635.08 L1081.66 635.94 L1082.15 635.55 L1082.65 635.18 L1083.11 633.52 L1083.59 631.87 L1084.1 631.53 L1084.62 631.2 L1085.13 632.21 L1085.61 633.25 L1086.1 632.99 L1086.6 632.73 L1087.14 631.15 L1087.71 629.58 L1088.22 629.36 L1088.73 629.16 L1089.15 630.34 L1089.55 631.54 L1090.04 631.4 L1090.52 631.27 L1091.14 629.79 L1091.78 628.31 L1092.29 628.23 L1092.79 628.16 L1093.11 629.49 L1093.41 630.84 L1093.88 630.82 L1094.35 630.82 L1095.04 629.45 L1095.75 628.1 L1096.23 628.15 L1096.71 628.22 L1096.93 629.67 L1097.13 631.14 L1097.58 631.25 L1098.03 631.38 L1098.78 630.15 L1099.53 628.95 L1099.99 629.13 L1100.45 629.32 L1100.56 630.89 L1100.66 632.45 L1101.08 632.69 L1101.5 632.94 L1102.29 631.87 L1103.09 630.84 L1103.51 631.14 L1103.93 631.47 L1103.94 633.11 L1103.93 634.75 L1104.32 635.11 L1104.71 635.48 L1105.52 634.59 L1106.35 633.74 L1106.74 634.17 L1107.12 634.61 L1107.02 636.31 L1106.91 638 L1107.25 638.48 L1107.6 638.96 L1108.43 638.26 L1109.28 637.6 L1109.62 638.15 L1109.95 638.71 L1109.75 640.44 L1109.53 642.15 L1109.83 642.73 L1110.12 643.32 L1110.96 642.83 L1111.81 642.37 L1112.1 643.03 L1112.38 643.7 L1112.08 645.43 L1111.76 647.14 L1112.01 647.82 L1112.25 648.51 L1113.08 648.22 L1113.92 647.98 L1114.15 648.73 L1114.38 649.5 L1113.98 651.2 L1113.56 652.88 L1113.76 653.64 L1113.94 654.42 L1114.75 654.35 L1115.57 654.32 L1115.74 655.16 L1115.9 656.01 L1115.41 657.66 L1114.91 659.28 L1115.05 660.12 L1115.17 660.97 L1115.95 661.12 L1116.73 661.31 L1116.84 662.22 L1116.94 663.15 L1116.37 664.71 L1115.78 666.25 L1115.86 667.15 L1115.92 668.07 L1116.66 668.43 L1117.38 668.83 L1117.43 669.8 L1117.47 670.78 L1116.82 672.24 L1116.16 673.67 L1116.18 674.63 L1116.18 675.58 L1116.86 676.15 L1117.52 676.76 L1117.5 677.78 L1117.48 678.8 L1116.77 680.13 L1116.05 681.43 L1116 682.42 L1115.94 683.41 L1116.55 684.17 L1117.14 684.98 L1117.06 686.02 L1116.97 687.07 L1116.21 688.26 L1115.44 689.4 L1115.33 690.41 L1115.21 691.42 L1115.74 692.37 L1116.25 693.36 L1116.11 694.41 L1115.95 695.47 L1115.15 696.49 L1114.35 697.47 L1114.18 698.47 L1114 699.48Z" fill="none" stroke="#000" stroke-width="2.2" stroke-linejoin="round"/>
<rect x="1044.63" y="690.6" width="2.6" height="6" fill="#000" transform="rotate(6 1045.93 693.6)"/>
<path d="M1143.8 706.01 L1142.35 712.97 L1140.64 719.82 L1138.68 726.51 L1136.47 733 L1134.05 739.23 L1131.42 745.15 L1128.61 750.72 L1125.63 755.91 L1122.52 760.66 L1119.29 764.94 L1115.97 768.72 L1112.59 771.98 L1109.16 774.67 L1105.73 776.8 L1102.3 778.33 L1098.91 779.27 L1095.59 779.59 L1092.36 779.3 L1089.24 778.4 L1086.25 776.9 L1083.43 774.8 L1080.79 772.13 L1078.36 768.91 L1076.14 765.15 L1074.16 760.9 L1072.43 756.17 L1070.97 751.01 L1069.79 745.46 L1068.89 739.55 L1068.29 733.34 L1067.98 726.86 L1067.97 720.18 L1068.26 713.33 L1068.85 706.38 L1069.73 699.38 L1070.9 692.37 L1072.34 685.41 L1074.06 678.56 L1076.02 671.87 L1078.22 665.38 L1080.65 659.15 L1083.28 653.23 L1086.09 647.65 L1089.06 642.47 L1092.17 637.72 L1095.4 633.44 L1098.72 629.65 L1102.11 626.4 L1105.53 623.7 L1108.97 621.58 L1112.4 620.04 L1115.78 619.11 L1119.11 618.79 L1122.34 619.08 L1125.46 619.98 L1128.44 621.48 L1131.26 623.57 L1133.9 626.24 L1136.34 629.47 L1138.56 633.22 L1140.54 637.48 L1142.26 642.21 L1143.72 647.37 L1144.91 652.92 L1145.8 658.83 L1146.41 665.04 L1146.72 671.52 L1146.73 678.2 L1146.44 685.04 L1145.85 692 L1144.97 699Z M1137.54 704.84 L1136.34 710.6 L1134.92 716.27 L1133.29 721.82 L1131.47 727.19 L1129.46 732.35 L1127.28 737.26 L1124.95 741.87 L1122.49 746.16 L1119.91 750.1 L1117.24 753.65 L1114.49 756.78 L1111.69 759.47 L1108.85 761.71 L1106 763.47 L1103.17 764.74 L1100.36 765.51 L1097.61 765.78 L1094.93 765.54 L1092.35 764.79 L1089.88 763.55 L1087.54 761.81 L1085.35 759.6 L1083.34 756.93 L1081.5 753.82 L1079.86 750.3 L1078.43 746.38 L1077.22 742.11 L1076.24 737.51 L1075.5 732.62 L1075 727.47 L1074.74 722.11 L1074.73 716.57 L1074.97 710.9 L1075.46 705.15 L1076.19 699.34 L1077.16 693.54 L1078.36 687.78 L1079.77 682.1 L1081.4 676.56 L1083.23 671.19 L1085.24 666.03 L1087.41 661.12 L1089.74 656.5 L1092.2 652.21 L1094.78 648.28 L1097.45 644.73 L1100.2 641.6 L1103.01 638.9 L1105.84 636.67 L1108.69 634.91 L1111.53 633.64 L1114.33 632.87 L1117.09 632.6 L1119.76 632.84 L1122.35 633.59 L1124.82 634.83 L1127.15 636.56 L1129.34 638.77 L1131.36 641.44 L1133.2 644.55 L1134.83 648.08 L1136.26 651.99 L1137.47 656.27 L1138.45 660.87 L1139.2 665.76 L1139.7 670.91 L1139.96 676.27 L1139.96 681.8 L1139.72 687.47 L1139.23 693.23 L1138.5 699.03Z" fill="#fff" fill-rule="evenodd" stroke="#000" stroke-width="1.6"/>
<path d="M1146.55 706.52 L1145.1 713.48 L1143.39 720.33 L1141.43 727.03 L1139.22 733.51 L1136.8 739.74 L1134.17 745.67 L1131.36 751.24 L1128.39 756.42 L1125.27 761.17 L1122.04 765.46 L1118.73 769.24 L1115.34 772.49 L1111.92 775.19 L1108.48 777.31 L1105.05 778.85 L1101.67 779.78 L1098.34 780.1 L1095.11 779.81 L1091.99 778.91 L1089.01 777.41 L1086.18 775.32 L1083.55 772.65 L1081.11 769.42 L1078.89 765.67 L1076.91 761.41 L1075.19 756.69 L1073.73 751.53 L1072.54 745.97 L1071.64 740.06 L1071.04 733.85 L1070.73 727.38 L1070.72 720.69 L1071.01 713.85 L1071.6 706.9 L1072.48 699.89 L1073.65 692.88 L1075.1 685.93 L1076.81 679.07 L1078.77 672.38 L1080.98 665.89 L1083.4 659.67 L1086.03 653.74 L1088.84 648.17 L1091.81 642.98 L1094.93 638.23 L1098.16 633.95 L1101.47 630.17 L1104.86 626.92 L1108.28 624.22 L1111.72 622.09 L1115.15 620.56 L1118.53 619.63 L1121.86 619.3 L1125.09 619.59 L1128.21 620.49 L1131.19 622 L1134.02 624.09 L1136.65 626.76 L1139.09 629.98 L1141.31 633.74 L1143.29 637.99 L1145.01 642.72 L1146.47 647.88 L1147.66 653.44 L1148.56 659.34 L1149.16 665.56 L1149.47 672.03 L1149.48 678.71 L1149.19 685.56 L1148.6 692.51 L1147.72 699.52Z M1140.29 705.35 L1139.09 711.11 L1137.67 716.79 L1136.05 722.33 L1134.22 727.7 L1132.21 732.86 L1130.04 737.77 L1127.71 742.39 L1125.24 746.68 L1122.67 750.61 L1119.99 754.16 L1117.24 757.29 L1114.44 759.99 L1111.6 762.22 L1108.76 763.98 L1105.92 765.25 L1103.11 766.02 L1100.36 766.29 L1097.68 766.05 L1095.1 765.31 L1092.63 764.06 L1090.29 762.33 L1088.11 760.12 L1086.09 757.45 L1084.25 754.34 L1082.61 750.81 L1081.18 746.9 L1079.97 742.62 L1078.99 738.02 L1078.25 733.13 L1077.75 727.98 L1077.49 722.62 L1077.49 717.09 L1077.73 711.42 L1078.21 705.66 L1078.94 699.86 L1079.91 694.05 L1081.11 688.29 L1082.53 682.62 L1084.15 677.07 L1085.98 671.7 L1087.99 666.54 L1090.16 661.64 L1092.49 657.02 L1094.96 652.73 L1097.53 648.79 L1100.21 645.25 L1102.96 642.11 L1105.76 639.42 L1108.6 637.18 L1111.44 635.42 L1114.28 634.15 L1117.09 633.38 L1119.84 633.12 L1122.52 633.36 L1125.1 634.1 L1127.57 635.34 L1129.91 637.08 L1132.09 639.29 L1134.11 641.96 L1135.95 645.07 L1137.59 648.59 L1139.02 652.51 L1140.23 656.78 L1141.21 661.38 L1141.95 666.28 L1142.45 671.42 L1142.71 676.78 L1142.71 682.32 L1142.47 687.99 L1141.99 693.75 L1141.26 699.55Z" fill="#fff" fill-rule="evenodd" stroke="none"/>
<path d="M1146.19 706.46L1145.67 709.12L1140.21 707.68L1140.65 705.42ZM1145.3 710.89L1144.71 713.56L1139.39 711.43L1139.89 709.18ZM1144.3 715.3L1143.64 717.97L1138.48 715.16L1139.05 712.9ZM1143.2 719.65L1142.45 722.33L1137.48 718.85L1138.11 716.58ZM1141.98 723.94L1141.16 726.62L1136.39 722.49L1137.08 720.22ZM1140.67 728.15L1139.77 730.84L1135.21 726.05L1135.97 723.78ZM1139.26 732.28L1138.28 734.95L1133.95 729.54L1134.78 727.27ZM1137.76 736.3L1136.7 738.96L1132.61 732.93L1133.51 730.68ZM1136.18 740.21L1135.03 742.84L1131.2 736.22L1132.17 733.98ZM1134.51 743.99L1133.27 746.59L1129.71 739.38L1130.76 737.18ZM1132.76 747.62L1131.45 750.18L1128.17 742.42L1129.28 740.26ZM1130.94 751.11L1129.55 753.61L1126.56 745.33L1127.74 743.21ZM1129.06 754.44L1127.59 756.86L1124.9 748.08L1126.15 746.03ZM1127.12 757.6L1125.57 759.93L1123.19 750.68L1124.5 748.7ZM1125.12 760.57L1123.5 762.8L1121.44 753.1L1122.82 751.22ZM1123.08 763.35L1121.39 765.46L1119.66 755.36L1121.09 753.57ZM1121 765.93L1119.24 767.91L1117.84 757.43L1119.32 755.76ZM1118.88 768.3L1117.07 770.14L1116 759.32L1117.53 757.76ZM1116.73 770.46L1114.88 772.13L1114.14 761L1115.71 759.59ZM1114.57 772.4L1112.67 773.89L1112.27 762.49L1113.88 761.23ZM1112.38 774.1L1110.45 775.41L1110.4 763.78L1112.03 762.67ZM1110.2 775.57L1108.24 776.69L1108.53 764.86L1110.18 763.92ZM1108.01 776.81L1106.04 777.71L1106.66 765.72L1108.33 764.96ZM1105.83 777.8L1103.85 778.48L1104.81 766.38L1106.48 765.8ZM1103.66 778.54L1101.69 779.01L1102.98 766.82L1104.65 766.43ZM1101.51 779.04L1099.55 779.27L1101.17 767.05L1102.83 766.85ZM1099.39 779.28L1097.45 779.29L1099.4 767.06L1101.04 767.06ZM1097.3 779.28L1095.4 779.05L1097.66 766.86L1099.27 767.05ZM1095.26 779.03L1093.39 778.57L1095.96 766.45L1097.54 766.84ZM1093.25 778.52L1091.44 777.83L1094.31 765.83L1095.84 766.41ZM1091.31 777.77L1089.56 776.86L1092.71 765L1094.2 765.78ZM1089.42 776.77L1087.73 775.64L1091.17 763.97L1092.6 764.93ZM1087.6 775.53L1085.99 774.19L1089.69 762.74L1091.05 763.88ZM1085.84 774.06L1084.31 772.51L1088.28 761.32L1089.57 762.63ZM1084.17 772.34L1082.72 770.6L1086.93 759.71L1088.15 761.18ZM1082.57 770.4L1081.22 768.48L1085.66 757.91L1086.8 759.54ZM1081.07 768.24L1079.81 766.15L1084.47 755.94L1085.53 757.71ZM1079.65 765.86L1078.49 763.62L1083.35 753.8L1084.33 755.7ZM1078.33 763.27L1077.28 760.9L1082.32 751.49L1083.21 753.51ZM1077.11 760.49L1076.16 757.99L1081.37 749.03L1082.18 751.15ZM1075.99 757.51L1075.15 754.9L1080.52 746.42L1081.23 748.63ZM1074.98 754.35L1074.24 751.65L1079.75 743.67L1080.38 745.95ZM1074.08 751.02L1073.45 748.25L1079.08 740.79L1079.62 743.13ZM1073.3 747.52L1072.76 744.7L1078.5 737.78L1078.95 740.18ZM1072.63 743.88L1072.19 741.01L1078.02 734.66L1078.38 737.09ZM1072.07 740.1L1071.74 737.19L1077.63 731.43L1077.92 733.89ZM1071.64 736.19L1071.4 733.27L1077.35 728.11L1077.55 730.58ZM1071.33 732.16L1071.18 729.24L1077.16 724.7L1077.29 727.17ZM1071.14 728.03L1071.08 725.12L1077.08 721.21L1077.13 723.68ZM1071.07 723.82L1071.1 720.92L1077.09 717.66L1077.07 720.11ZM1071.13 719.53L1071.24 716.65L1077.21 714.04L1077.12 716.48ZM1071.31 715.17L1071.49 712.32L1077.42 710.38L1077.27 712.8ZM1071.61 710.77L1071.86 707.96L1077.74 706.69L1077.52 709.07ZM1072.03 706.33L1072.35 703.56L1078.15 702.96L1077.88 705.31ZM1072.57 701.87L1072.96 699.14L1078.67 699.23L1078.34 701.54ZM1073.23 697.41L1073.69 694.71L1079.28 695.48L1078.9 697.76ZM1074.01 692.95L1074.53 690.28L1079.99 691.73L1079.55 693.99ZM1074.9 688.51L1075.49 685.85L1080.81 687.98L1080.31 690.23ZM1075.9 684.11L1076.56 681.44L1081.72 684.24L1081.15 686.51ZM1077 679.76L1077.75 677.08L1082.72 680.55L1082.09 682.82ZM1078.22 675.47L1079.04 672.78L1083.81 676.92L1083.12 679.19ZM1079.53 671.25L1080.43 668.57L1084.99 673.35L1084.23 675.63ZM1080.94 667.13L1081.92 664.45L1086.25 669.87L1085.42 672.13ZM1082.44 663.11L1083.5 660.45L1087.59 666.48L1086.69 668.73ZM1084.02 659.2L1085.17 656.56L1089 663.19L1088.03 665.42ZM1085.69 655.42L1086.93 652.82L1090.49 660.02L1089.44 662.23ZM1087.44 651.78L1088.75 649.23L1092.03 656.98L1090.92 659.15ZM1089.26 648.29L1090.65 645.8L1093.64 654.08L1092.46 656.19ZM1091.14 644.97L1092.61 642.54L1095.3 651.33L1094.05 653.38ZM1093.08 641.81L1094.63 639.48L1097.01 648.73L1095.7 650.71ZM1095.08 638.84L1096.7 636.61L1098.76 646.3L1097.38 648.19ZM1097.12 636.06L1098.81 633.94L1100.54 644.05L1099.11 645.84ZM1099.2 633.48L1100.96 631.49L1102.36 641.98L1100.88 643.65ZM1101.32 631.1L1103.13 629.27L1104.2 640.09L1102.67 641.64ZM1103.47 628.95L1105.32 627.27L1106.06 638.4L1104.49 639.82ZM1105.63 627.01L1107.53 625.51L1107.93 636.91L1106.32 638.18ZM1107.82 625.31L1109.75 623.99L1109.8 635.63L1108.17 636.74ZM1110 623.83L1111.96 622.72L1111.67 634.55L1110.02 635.49ZM1112.19 622.6L1114.16 621.7L1113.54 633.68L1111.87 634.45ZM1114.37 621.61L1116.35 620.92L1115.39 633.03L1113.72 633.61ZM1116.54 620.87L1118.51 620.4L1117.22 632.59L1115.55 632.98ZM1118.69 620.37L1120.65 620.13L1119.03 632.36L1117.37 632.56ZM1120.81 620.12L1122.75 620.12L1120.8 632.35L1119.16 632.35ZM1122.9 620.13L1124.8 620.35L1122.54 632.55L1120.93 632.35ZM1124.94 620.38L1126.81 620.84L1124.24 632.96L1122.66 632.57ZM1126.95 620.88L1128.76 621.57L1125.89 633.58L1124.36 633ZM1128.89 621.64L1130.64 622.55L1127.49 634.41L1126 633.63ZM1130.78 622.63L1132.47 623.77L1129.03 635.44L1127.6 634.48ZM1132.6 623.87L1134.21 625.22L1130.51 636.66L1129.15 635.52ZM1134.36 625.35L1135.89 626.9L1131.92 638.09L1130.63 636.78ZM1136.03 627.06L1137.48 628.8L1133.27 639.7L1132.05 638.22ZM1137.63 629L1138.98 630.92L1134.54 641.49L1133.4 639.87ZM1139.13 631.17L1140.39 633.25L1135.73 643.46L1134.67 641.7ZM1140.55 633.55L1141.71 635.79L1136.85 645.61L1135.87 643.71ZM1141.87 636.13L1142.92 638.51L1137.88 647.91L1136.99 645.9ZM1143.09 638.92L1144.04 641.42L1138.83 650.37L1138.02 648.26ZM1144.21 641.9L1145.05 644.5L1139.68 652.98L1138.97 650.78ZM1145.22 645.06L1145.96 647.75L1140.45 655.73L1139.82 653.45ZM1146.12 648.39L1146.75 651.16L1141.12 658.62L1140.58 656.27ZM1146.9 651.88L1147.44 654.71L1141.7 661.62L1141.25 659.23ZM1147.57 655.53L1148.01 658.4L1142.18 664.75L1141.82 662.32ZM1148.13 659.31L1148.46 662.21L1142.57 667.97L1142.28 665.52ZM1148.56 663.22L1148.8 666.14L1142.85 671.3L1142.65 668.83ZM1148.87 667.25L1149.02 670.17L1143.04 674.71L1142.91 672.23ZM1149.06 671.37L1149.12 674.29L1143.12 678.2L1143.07 675.73ZM1149.13 675.59L1149.1 678.49L1143.11 681.75L1143.13 679.29ZM1149.07 679.88L1148.96 682.76L1142.99 685.36L1143.08 682.93ZM1148.89 684.23L1148.71 687.08L1142.78 689.02L1142.93 686.61ZM1148.59 688.64L1148.34 691.45L1142.46 692.72L1142.68 690.34ZM1148.17 693.08L1147.85 695.85L1142.05 696.44L1142.32 694.09ZM1147.63 697.53L1147.24 700.27L1141.53 700.18L1141.86 697.87ZM1146.97 702L1146.51 704.7L1140.92 703.93L1141.3 701.65Z" fill="#000" stroke="none"/>
<ellipse cx="1110.1" cy="699.7" rx="37.08" ry="81.5" transform="rotate(10.6 1110.1 699.7)" fill="none" stroke="#000" stroke-width="2.2"/>
<ellipse cx="1110.1" cy="699.7" rx="30.71" ry="67.5" transform="rotate(10.6 1110.1 699.7)" fill="none" stroke="#000" stroke-width="2.7"/>
<path d="M1141.49 709.45 L1145.75 711.32 L1142.12 725.59 L1138.03 723.05Z" fill="#fff" stroke="#000" stroke-width="1.8" stroke-linejoin="round"/>
<path d="M1144.24 709.97 L1148.5 711.83 L1144.88 726.1 L1140.79 723.57Z" fill="#fff" stroke="#000" stroke-width="1.8" stroke-linejoin="round"/>
<path d="M1128.9 746.21 L1131.44 752.67 L1125.2 763.4 L1122.96 756.43Z" fill="#fff" stroke="#000" stroke-width="1.8" stroke-linejoin="round"/>
<path d="M1131.65 746.72 L1134.19 753.19 L1127.95 763.91 L1125.71 756.95Z" fill="#fff" stroke="#000" stroke-width="1.8" stroke-linejoin="round"/>
<path d="M1110.53 770.36 L1110.67 779.7 L1103.5 784.01 L1103.69 774.47Z" fill="#fff" stroke="#000" stroke-width="1.8" stroke-linejoin="round"/>
<path d="M1113.28 770.88 L1113.42 780.21 L1106.25 784.52 L1106.45 774.99Z" fill="#fff" stroke="#000" stroke-width="1.8" stroke-linejoin="round"/>
<path d="M1091.31 775.45 L1089.01 785.15 L1082.82 781.89 L1085.41 772.34Z" fill="#fff" stroke="#000" stroke-width="1.8" stroke-linejoin="round"/>
<path d="M1094.06 775.96 L1091.76 785.66 L1085.57 782.4 L1088.17 772.86Z" fill="#fff" stroke="#000" stroke-width="1.8" stroke-linejoin="round"/>
<path d="M1076.39 760.1 L1072.27 767.57 L1068.72 757.61 L1073.01 750.61Z" fill="#fff" stroke="#000" stroke-width="1.8" stroke-linejoin="round"/>
<path d="M1079.14 760.61 L1075.02 768.08 L1071.47 758.13 L1075.76 751.12Z" fill="#fff" stroke="#000" stroke-width="1.8" stroke-linejoin="round"/>
<path d="M1069.76 728.43 L1064.92 731.66 L1064.97 717.68 L1069.81 715.1Z" fill="#fff" stroke="#000" stroke-width="1.8" stroke-linejoin="round"/>
<path d="M1072.51 728.94 L1067.67 732.18 L1067.72 718.19 L1072.56 715.61Z" fill="#fff" stroke="#000" stroke-width="1.8" stroke-linejoin="round"/>
<path d="M1073.21 688.92 L1068.94 687.06 L1072.57 672.79 L1076.66 675.33Z" fill="#fff" stroke="#000" stroke-width="1.8" stroke-linejoin="round"/>
<path d="M1075.96 689.44 L1071.7 687.58 L1075.32 673.31 L1079.41 675.84Z" fill="#fff" stroke="#000" stroke-width="1.8" stroke-linejoin="round"/>
<path d="M1085.8 652.17 L1083.26 645.71 L1089.49 634.98 L1091.74 641.95Z" fill="#fff" stroke="#000" stroke-width="1.8" stroke-linejoin="round"/>
<path d="M1088.55 652.68 L1086.01 646.22 L1092.25 635.49 L1094.49 642.46Z" fill="#fff" stroke="#000" stroke-width="1.8" stroke-linejoin="round"/>
<path d="M1104.16 628.01 L1104.02 618.68 L1111.2 614.37 L1111 623.9Z" fill="#fff" stroke="#000" stroke-width="1.8" stroke-linejoin="round"/>
<path d="M1106.92 628.53 L1106.78 619.2 L1113.95 614.88 L1113.75 624.42Z" fill="#fff" stroke="#000" stroke-width="1.8" stroke-linejoin="round"/>
<path d="M1123.38 622.93 L1125.68 613.23 L1131.87 616.49 L1129.28 626.04Z" fill="#fff" stroke="#000" stroke-width="1.8" stroke-linejoin="round"/>
<path d="M1126.14 623.45 L1128.44 613.74 L1134.63 617 L1132.03 626.55Z" fill="#fff" stroke="#000" stroke-width="1.8" stroke-linejoin="round"/>
<path d="M1138.31 638.28 L1142.43 630.81 L1145.98 640.77 L1141.69 647.77Z" fill="#fff" stroke="#000" stroke-width="1.8" stroke-linejoin="round"/>
<path d="M1141.06 638.79 L1145.18 631.32 L1148.73 641.28 L1144.44 648.28Z" fill="#fff" stroke="#000" stroke-width="1.8" stroke-linejoin="round"/>
<path d="M1144.93 669.95 L1149.77 666.71 L1149.73 680.7 L1144.89 683.28Z" fill="#fff" stroke="#000" stroke-width="1.8" stroke-linejoin="round"/>
<path d="M1147.69 670.46 L1152.53 667.23 L1152.48 681.21 L1147.64 683.79Z" fill="#fff" stroke="#000" stroke-width="1.8" stroke-linejoin="round"/>
<path d="M1169.41 710.72 L1167.96 717.72 L1166.24 724.61 L1164.26 731.34 L1162.04 737.87 L1159.6 744.14 L1156.96 750.1 L1154.13 755.71 L1151.14 760.92 L1148.01 765.7 L1144.76 770.01 L1141.42 773.82 L1138.01 777.09 L1134.57 779.8 L1131.11 781.94 L1127.66 783.49 L1124.25 784.42 L1120.91 784.75 L1117.66 784.46 L1114.52 783.55 L1111.52 782.04 L1108.68 779.93 L1106.02 777.25 L1103.57 774 L1101.34 770.23 L1099.35 765.94 L1097.61 761.19 L1096.14 755.99 L1094.95 750.41 L1094.05 744.46 L1093.44 738.21 L1093.13 731.7 L1093.12 724.97 L1093.41 718.09 L1094 711.09 L1094.89 704.04 L1096.07 696.99 L1097.52 689.99 L1099.24 683.1 L1101.22 676.36 L1103.44 669.84 L1105.88 663.57 L1108.52 657.61 L1111.35 652 L1114.34 646.79 L1117.47 642.01 L1120.72 637.7 L1124.06 633.89 L1127.47 630.62 L1130.91 627.9 L1134.37 625.77 L1137.82 624.22 L1141.23 623.29 L1144.57 622.96 L1147.82 623.25 L1150.96 624.16 L1153.96 625.67 L1156.8 627.78 L1159.46 630.46 L1161.91 633.71 L1164.14 637.48 L1166.13 641.77 L1167.87 646.52 L1169.34 651.71 L1170.53 657.3 L1171.43 663.25 L1172.04 669.5 L1172.35 676.01 L1172.36 682.74 L1172.07 689.62 L1171.47 696.62 L1170.59 703.67Z M1162.48 709.42 L1162.91 710.59 L1162.7 711.63 L1162.48 712.68 L1161.65 713.51 L1160.82 714.31 L1160.6 715.3 L1160.36 716.29 L1160.71 717.57 L1161.04 718.88 L1160.78 719.91 L1160.51 720.93 L1159.66 721.57 L1158.82 722.17 L1158.54 723.13 L1158.25 724.09 L1158.5 725.5 L1158.73 726.95 L1158.42 727.93 L1158.09 728.91 L1157.24 729.35 L1156.41 729.74 L1156.08 730.66 L1155.74 731.57 L1155.89 733.09 L1156.02 734.65 L1155.65 735.58 L1155.28 736.5 L1154.44 736.72 L1153.62 736.9 L1153.24 737.76 L1152.87 738.61 L1152.91 740.22 L1152.93 741.86 L1152.52 742.72 L1152.11 743.57 L1151.3 743.58 L1150.5 743.54 L1150.09 744.33 L1149.67 745.11 L1149.61 746.78 L1149.52 748.47 L1149.08 749.25 L1148.63 750.02 L1147.86 749.81 L1147.1 749.56 L1146.66 750.26 L1146.21 750.95 L1146.05 752.66 L1145.85 754.38 L1145.38 755.07 L1144.9 755.74 L1144.18 755.31 L1143.48 754.85 L1143.01 755.46 L1142.54 756.05 L1142.27 757.77 L1141.98 759.49 L1141.48 760.07 L1140.98 760.64 L1140.32 760.01 L1139.68 759.34 L1139.2 759.84 L1138.72 760.33 L1138.35 762.03 L1137.96 763.73 L1137.45 764.19 L1136.94 764.64 L1136.35 763.82 L1135.78 762.96 L1135.29 763.34 L1134.79 763.72 L1134.33 765.37 L1133.85 767.02 L1133.34 767.36 L1132.82 767.69 L1132.31 766.68 L1131.83 765.64 L1131.33 765.91 L1130.84 766.16 L1130.3 767.74 L1129.73 769.32 L1129.22 769.53 L1128.7 769.73 L1128.29 768.55 L1127.89 767.35 L1127.4 767.49 L1126.92 767.62 L1126.3 769.1 L1125.66 770.58 L1125.15 770.66 L1124.65 770.73 L1124.33 769.4 L1124.03 768.06 L1123.56 768.07 L1123.09 768.07 L1122.4 769.44 L1121.69 770.79 L1121.21 770.74 L1120.73 770.68 L1120.51 769.22 L1120.31 767.75 L1119.86 767.64 L1119.41 767.52 L1118.66 768.74 L1117.9 769.94 L1117.45 769.76 L1116.99 769.57 L1116.88 768.01 L1116.78 766.44 L1116.36 766.2 L1115.94 765.95 L1115.15 767.02 L1114.35 768.06 L1113.93 767.75 L1113.5 767.43 L1113.49 765.78 L1113.51 764.14 L1113.12 763.78 L1112.73 763.41 L1111.91 764.3 L1111.09 765.16 L1110.7 764.73 L1110.32 764.28 L1110.42 762.58 L1110.53 760.89 L1110.19 760.42 L1109.84 759.93 L1109.01 760.63 L1108.16 761.29 L1107.82 760.74 L1107.49 760.18 L1107.69 758.45 L1107.91 756.74 L1107.61 756.16 L1107.32 755.57 L1106.47 756.06 L1105.63 756.52 L1105.34 755.86 L1105.06 755.19 L1105.36 753.46 L1105.68 751.75 L1105.43 751.08 L1105.19 750.39 L1104.36 750.67 L1103.52 750.91 L1103.29 750.16 L1103.06 749.39 L1103.46 747.69 L1103.88 746.01 L1103.68 745.25 L1103.5 744.47 L1102.68 744.54 L1101.87 744.57 L1101.7 743.73 L1101.54 742.88 L1102.03 741.23 L1102.53 739.61 L1102.39 738.77 L1102.27 737.92 L1101.49 737.77 L1100.71 737.58 L1100.6 736.67 L1100.5 735.75 L1101.07 734.18 L1101.66 732.64 L1101.58 731.74 L1101.52 730.83 L1100.78 730.47 L1100.06 730.06 L1100.01 729.09 L1099.97 728.11 L1100.62 726.65 L1101.28 725.22 L1101.26 724.27 L1101.26 723.31 L1100.58 722.74 L1099.92 722.13 L1099.94 721.12 L1099.96 720.1 L1100.67 718.76 L1101.39 717.46 L1101.44 716.47 L1101.5 715.48 L1100.89 714.72 L1100.3 713.91 L1100.38 712.87 L1100.47 711.82 L1101.23 710.64 L1102 709.49 L1102.11 708.48 L1102.23 707.48 L1101.7 706.52 L1101.18 705.53 L1101.33 704.48 L1101.49 703.43 L1102.29 702.4 L1103.09 701.43 L1103.26 700.42 L1103.44 699.41 L1103 698.29 L1102.57 697.12 L1102.78 696.08 L1102.99 695.03 L1103.82 694.2 L1104.65 693.4 L1104.88 692.41 L1105.11 691.42 L1104.77 690.14 L1104.43 688.82 L1104.7 687.8 L1104.97 686.78 L1105.82 686.14 L1106.66 685.54 L1106.94 684.58 L1107.22 683.62 L1106.97 682.21 L1106.74 680.76 L1107.06 679.78 L1107.39 678.8 L1108.23 678.36 L1109.07 677.97 L1109.4 677.05 L1109.74 676.14 L1109.59 674.62 L1109.46 673.06 L1109.83 672.13 L1110.2 671.21 L1111.04 670.99 L1111.86 670.81 L1112.23 669.95 L1112.61 669.1 L1112.57 667.49 L1112.55 665.85 L1112.96 664.99 L1113.37 664.14 L1114.18 664.13 L1114.98 664.17 L1115.39 663.38 L1115.8 662.6 L1115.87 660.93 L1115.95 659.24 L1116.4 658.46 L1116.85 657.69 L1117.62 657.9 L1118.38 658.15 L1118.82 657.45 L1119.26 656.76 L1119.43 655.05 L1119.62 653.33 L1120.1 652.64 L1120.58 651.97 L1121.3 652.4 L1122 652.86 L1122.47 652.25 L1122.94 651.66 L1123.21 649.94 L1123.5 648.21 L1124 647.64 L1124.49 647.07 L1125.15 647.7 L1125.8 648.37 L1126.28 647.87 L1126.76 647.38 L1127.13 645.68 L1127.52 643.98 L1128.03 643.51 L1128.54 643.07 L1129.13 643.89 L1129.7 644.75 L1130.19 644.37 L1130.68 643.99 L1131.14 642.34 L1131.63 640.69 L1132.14 640.35 L1132.66 640.02 L1133.16 641.03 L1133.65 642.07 L1134.14 641.8 L1134.64 641.55 L1135.18 639.97 L1135.75 638.39 L1136.26 638.18 L1136.77 637.98 L1137.19 639.16 L1137.59 640.36 L1138.07 640.22 L1138.56 640.09 L1139.18 638.6 L1139.82 637.13 L1140.33 637.05 L1140.83 636.98 L1141.15 638.31 L1141.45 639.65 L1141.92 639.64 L1142.39 639.64 L1143.08 638.27 L1143.79 636.92 L1144.27 636.97 L1144.75 637.03 L1144.97 638.49 L1145.17 639.96 L1145.62 640.07 L1146.07 640.19 L1146.82 638.97 L1147.57 637.76 L1148.03 637.94 L1148.49 638.14 L1148.6 639.7 L1148.7 641.27 L1149.12 641.51 L1149.54 641.76 L1150.33 640.69 L1151.13 639.65 L1151.55 639.96 L1151.97 640.28 L1151.98 641.93 L1151.97 643.57 L1152.36 643.93 L1152.75 644.3 L1153.56 643.41 L1154.39 642.55 L1154.78 642.98 L1155.16 643.43 L1155.06 645.13 L1154.94 646.82 L1155.29 647.29 L1155.63 647.78 L1156.47 647.08 L1157.32 646.42 L1157.65 646.97 L1157.99 647.53 L1157.79 649.26 L1157.57 650.97 L1157.87 651.55 L1158.16 652.14 L1159 651.65 L1159.85 651.19 L1160.14 651.85 L1160.42 652.52 L1160.12 654.24 L1159.8 655.95 L1160.05 656.63 L1160.29 657.32 L1161.12 657.04 L1161.96 656.79 L1162.19 657.55 L1162.42 658.32 L1162.02 660.02 L1161.6 661.69 L1161.79 662.46 L1161.98 663.24 L1162.79 663.17 L1163.61 663.14 L1163.78 663.98 L1163.94 664.83 L1163.45 666.48 L1162.95 668.1 L1163.08 668.94 L1163.21 669.79 L1163.99 669.94 L1164.77 670.13 L1164.88 671.04 L1164.98 671.96 L1164.41 673.53 L1163.82 675.07 L1163.9 675.97 L1163.96 676.88 L1164.69 677.24 L1165.42 677.65 L1165.47 678.62 L1165.5 679.6 L1164.86 681.06 L1164.2 682.49 L1164.22 683.44 L1164.22 684.4 L1164.9 684.97 L1165.56 685.58 L1165.54 686.59 L1165.52 687.61 L1164.8 688.95 L1164.09 690.25 L1164.04 691.23 L1163.98 692.23 L1164.59 692.99 L1165.18 693.8 L1165.1 694.84 L1165.01 695.89 L1164.25 697.07 L1163.48 698.22 L1163.37 699.23 L1163.25 700.23 L1163.78 701.18 L1164.29 702.18 L1164.15 703.23 L1163.99 704.28 L1163.19 705.31 L1162.39 706.28 L1162.22 707.29 L1162.04 708.3Z" fill="#fff" fill-rule="evenodd" stroke="#000" stroke-width="1.6"/>
<path d="M1171.67 711.14 L1170.22 718.14 L1168.5 725.03 L1166.52 731.77 L1164.3 738.29 L1161.86 744.56 L1159.22 750.52 L1156.39 756.13 L1153.4 761.34 L1150.27 766.12 L1147.02 770.43 L1143.68 774.24 L1140.27 777.51 L1136.83 780.23 L1133.37 782.36 L1129.92 783.91 L1126.51 784.85 L1123.17 785.17 L1119.92 784.88 L1116.78 783.97 L1113.78 782.46 L1110.94 780.36 L1108.28 777.67 L1105.83 774.43 L1103.6 770.65 L1101.61 766.37 L1099.87 761.61 L1098.4 756.42 L1097.21 750.83 L1096.31 744.89 L1095.7 738.63 L1095.39 732.12 L1095.38 725.4 L1095.67 718.51 L1096.26 711.51 L1097.15 704.47 L1098.33 697.41 L1099.78 690.42 L1101.5 683.52 L1103.48 676.79 L1105.7 670.26 L1108.14 663.99 L1110.78 658.03 L1113.61 652.42 L1116.6 647.21 L1119.73 642.43 L1122.98 638.12 L1126.32 634.32 L1129.73 631.04 L1133.17 628.33 L1136.63 626.19 L1140.08 624.65 L1143.49 623.71 L1146.83 623.39 L1150.08 623.68 L1153.22 624.58 L1156.22 626.09 L1159.06 628.2 L1161.72 630.89 L1164.17 634.13 L1166.4 637.91 L1168.39 642.19 L1170.13 646.95 L1171.6 652.14 L1172.79 657.73 L1173.69 663.67 L1174.3 669.92 L1174.61 676.43 L1174.62 683.16 L1174.33 690.05 L1173.74 697.04 L1172.85 704.09Z M1164.74 709.84 L1165.17 711.01 L1164.96 712.05 L1164.75 713.1 L1163.91 713.94 L1163.09 714.73 L1162.86 715.72 L1162.63 716.72 L1162.97 717.99 L1163.3 719.31 L1163.04 720.33 L1162.77 721.35 L1161.92 721.99 L1161.08 722.59 L1160.8 723.55 L1160.52 724.51 L1160.76 725.92 L1161 727.37 L1160.68 728.36 L1160.35 729.33 L1159.51 729.77 L1158.67 730.16 L1158.34 731.08 L1158 731.99 L1158.15 733.52 L1158.28 735.07 L1157.91 736 L1157.54 736.92 L1156.7 737.14 L1155.88 737.32 L1155.51 738.18 L1155.13 739.04 L1155.17 740.65 L1155.19 742.28 L1154.78 743.14 L1154.37 744 L1153.56 744 L1152.76 743.96 L1152.35 744.75 L1151.93 745.53 L1151.87 747.2 L1151.78 748.9 L1151.34 749.67 L1150.89 750.44 L1150.12 750.23 L1149.36 749.98 L1148.92 750.68 L1148.47 751.37 L1148.31 753.08 L1148.12 754.8 L1147.64 755.49 L1147.16 756.16 L1146.44 755.74 L1145.74 755.27 L1145.27 755.88 L1144.8 756.47 L1144.53 758.19 L1144.24 759.92 L1143.74 760.5 L1143.24 761.06 L1142.58 760.43 L1141.94 759.76 L1141.46 760.26 L1140.98 760.75 L1140.61 762.45 L1140.22 764.15 L1139.71 764.62 L1139.2 765.07 L1138.61 764.24 L1138.04 763.38 L1137.55 763.77 L1137.05 764.14 L1136.59 765.79 L1136.11 767.44 L1135.6 767.79 L1135.08 768.11 L1134.57 767.1 L1134.09 766.06 L1133.6 766.33 L1133.1 766.58 L1132.56 768.16 L1131.99 769.74 L1131.48 769.95 L1130.97 770.15 L1130.55 768.97 L1130.15 767.77 L1129.66 767.91 L1129.18 768.04 L1128.56 769.53 L1127.92 771 L1127.41 771.09 L1126.91 771.15 L1126.59 769.83 L1126.29 768.48 L1125.82 768.5 L1125.35 768.5 L1124.66 769.86 L1123.95 771.21 L1123.47 771.16 L1122.99 771.1 L1122.77 769.64 L1122.57 768.17 L1122.12 768.06 L1121.67 767.94 L1120.92 769.16 L1120.17 770.37 L1119.71 770.19 L1119.25 769.99 L1119.14 768.43 L1119.04 766.86 L1118.62 766.63 L1118.2 766.38 L1117.41 767.44 L1116.61 768.48 L1116.19 768.17 L1115.77 767.85 L1115.76 766.21 L1115.77 764.56 L1115.38 764.21 L1114.99 763.84 L1114.18 764.72 L1113.35 765.58 L1112.96 765.15 L1112.58 764.7 L1112.68 763 L1112.79 761.31 L1112.45 760.84 L1112.1 760.36 L1111.27 761.05 L1110.42 761.71 L1110.08 761.16 L1109.75 760.6 L1109.95 758.88 L1110.17 757.16 L1109.87 756.58 L1109.58 755.99 L1108.74 756.48 L1107.89 756.94 L1107.6 756.28 L1107.32 755.61 L1107.62 753.89 L1107.94 752.18 L1107.69 751.5 L1107.45 750.81 L1106.62 751.09 L1105.78 751.34 L1105.55 750.58 L1105.32 749.82 L1105.72 748.12 L1106.14 746.44 L1105.94 745.67 L1105.76 744.9 L1104.95 744.97 L1104.13 744.99 L1103.96 744.15 L1103.8 743.3 L1104.29 741.65 L1104.79 740.03 L1104.65 739.19 L1104.53 738.34 L1103.75 738.2 L1102.97 738 L1102.86 737.09 L1102.76 736.17 L1103.33 734.6 L1103.92 733.07 L1103.84 732.16 L1103.78 731.25 L1103.04 730.89 L1102.32 730.49 L1102.27 729.51 L1102.23 728.54 L1102.88 727.07 L1103.54 725.64 L1103.52 724.69 L1103.52 723.73 L1102.84 723.17 L1102.18 722.55 L1102.2 721.54 L1102.22 720.52 L1102.93 719.18 L1103.65 717.89 L1103.7 716.9 L1103.76 715.91 L1103.15 715.14 L1102.56 714.33 L1102.64 713.29 L1102.73 712.25 L1103.49 711.06 L1104.26 709.91 L1104.37 708.91 L1104.49 707.9 L1103.96 706.95 L1103.45 705.95 L1103.59 704.9 L1103.75 703.85 L1104.55 702.83 L1105.35 701.85 L1105.52 700.84 L1105.7 699.83 L1105.26 698.71 L1104.83 697.55 L1105.04 696.5 L1105.25 695.46 L1106.09 694.62 L1106.91 693.83 L1107.14 692.83 L1107.37 691.84 L1107.03 690.56 L1106.7 689.25 L1106.96 688.22 L1107.23 687.2 L1108.08 686.56 L1108.92 685.97 L1109.2 685 L1109.48 684.04 L1109.24 682.63 L1109 681.18 L1109.32 680.2 L1109.65 679.22 L1110.49 678.79 L1111.33 678.4 L1111.66 677.48 L1112 676.56 L1111.85 675.04 L1111.72 673.49 L1112.09 672.56 L1112.46 671.63 L1113.3 671.41 L1114.12 671.23 L1114.49 670.37 L1114.87 669.52 L1114.83 667.91 L1114.81 666.27 L1115.22 665.41 L1115.63 664.56 L1116.44 664.55 L1117.24 664.59 L1117.65 663.8 L1118.07 663.03 L1118.13 661.35 L1118.22 659.66 L1118.66 658.88 L1119.11 658.11 L1119.88 658.32 L1120.64 658.58 L1121.08 657.87 L1121.53 657.18 L1121.69 655.47 L1121.88 653.75 L1122.36 653.07 L1122.84 652.39 L1123.56 652.82 L1124.26 653.28 L1124.73 652.68 L1125.2 652.08 L1125.47 650.37 L1125.76 648.64 L1126.26 648.06 L1126.76 647.49 L1127.42 648.12 L1128.06 648.79 L1128.54 648.29 L1129.02 647.8 L1129.39 646.11 L1129.78 644.4 L1130.29 643.94 L1130.8 643.49 L1131.39 644.32 L1131.96 645.18 L1132.45 644.79 L1132.95 644.42 L1133.41 642.76 L1133.89 641.11 L1134.4 640.77 L1134.92 640.44 L1135.43 641.45 L1135.91 642.49 L1136.4 642.23 L1136.9 641.97 L1137.44 640.39 L1138.01 638.82 L1138.52 638.6 L1139.03 638.4 L1139.45 639.58 L1139.85 640.78 L1140.34 640.64 L1140.82 640.51 L1141.44 639.03 L1142.08 637.55 L1142.59 637.47 L1143.09 637.4 L1143.41 638.73 L1143.71 640.08 L1144.18 640.06 L1144.65 640.06 L1145.34 638.69 L1146.05 637.34 L1146.53 637.39 L1147.01 637.46 L1147.23 638.91 L1147.43 640.38 L1147.88 640.49 L1148.33 640.62 L1149.08 639.39 L1149.83 638.19 L1150.29 638.37 L1150.75 638.56 L1150.86 640.13 L1150.96 641.69 L1151.38 641.93 L1151.8 642.18 L1152.59 641.11 L1153.39 640.08 L1153.81 640.38 L1154.23 640.71 L1154.24 642.35 L1154.23 643.99 L1154.62 644.35 L1155.01 644.72 L1155.82 643.83 L1156.65 642.98 L1157.04 643.41 L1157.42 643.85 L1157.32 645.55 L1157.21 647.24 L1157.55 647.72 L1157.9 648.2 L1158.73 647.5 L1159.58 646.84 L1159.92 647.39 L1160.25 647.95 L1160.05 649.68 L1159.83 651.39 L1160.13 651.97 L1160.42 652.56 L1161.26 652.07 L1162.11 651.61 L1162.4 652.27 L1162.68 652.94 L1162.38 654.67 L1162.06 656.38 L1162.31 657.06 L1162.55 657.75 L1163.38 657.46 L1164.22 657.22 L1164.45 657.97 L1164.68 658.74 L1164.28 660.44 L1163.86 662.12 L1164.06 662.88 L1164.24 663.66 L1165.05 663.59 L1165.87 663.56 L1166.04 664.4 L1166.2 665.25 L1165.71 666.9 L1165.21 668.52 L1165.35 669.36 L1165.47 670.21 L1166.25 670.36 L1167.03 670.55 L1167.14 671.46 L1167.24 672.39 L1166.67 673.95 L1166.08 675.49 L1166.16 676.39 L1166.22 677.31 L1166.96 677.67 L1167.68 678.07 L1167.73 679.04 L1167.77 680.02 L1167.12 681.48 L1166.46 682.91 L1166.48 683.87 L1166.48 684.82 L1167.16 685.39 L1167.82 686 L1167.8 687.02 L1167.78 688.04 L1167.07 689.37 L1166.35 690.67 L1166.3 691.66 L1166.24 692.65 L1166.85 693.41 L1167.44 694.22 L1167.36 695.26 L1167.27 696.31 L1166.51 697.5 L1165.74 698.64 L1165.63 699.65 L1165.51 700.66 L1166.04 701.61 L1166.55 702.6 L1166.41 703.65 L1166.25 704.71 L1165.45 705.73 L1164.65 706.71 L1164.48 707.71 L1164.3 708.72Z" fill="#fff" fill-rule="evenodd" stroke="none"/>
<ellipse cx="1135" cy="704.28" rx="37.31" ry="82" transform="rotate(10.6 1135 704.28)" fill="none" stroke="#000" stroke-width="1.9"/>
<path d="M1164.74 709.84 L1165.17 711.01 L1164.96 712.05 L1164.75 713.1 L1163.91 713.94 L1163.09 714.73 L1162.86 715.72 L1162.63 716.72 L1162.97 717.99 L1163.3 719.31 L1163.04 720.33 L1162.77 721.35 L1161.92 721.99 L1161.08 722.59 L1160.8 723.55 L1160.52 724.51 L1160.76 725.92 L1161 727.37 L1160.68 728.36 L1160.35 729.33 L1159.51 729.77 L1158.67 730.16 L1158.34 731.08 L1158 731.99 L1158.15 733.52 L1158.28 735.07 L1157.91 736 L1157.54 736.92 L1156.7 737.14 L1155.88 737.32 L1155.51 738.18 L1155.13 739.04 L1155.17 740.65 L1155.19 742.28 L1154.78 743.14 L1154.37 744 L1153.56 744 L1152.76 743.96 L1152.35 744.75 L1151.93 745.53 L1151.87 747.2 L1151.78 748.9 L1151.34 749.67 L1150.89 750.44 L1150.12 750.23 L1149.36 749.98 L1148.92 750.68 L1148.47 751.37 L1148.31 753.08 L1148.12 754.8 L1147.64 755.49 L1147.16 756.16 L1146.44 755.74 L1145.74 755.27 L1145.27 755.88 L1144.8 756.47 L1144.53 758.19 L1144.24 759.92 L1143.74 760.5 L1143.24 761.06 L1142.58 760.43 L1141.94 759.76 L1141.46 760.26 L1140.98 760.75 L1140.61 762.45 L1140.22 764.15 L1139.71 764.62 L1139.2 765.07 L1138.61 764.24 L1138.04 763.38 L1137.55 763.77 L1137.05 764.14 L1136.59 765.79 L1136.11 767.44 L1135.6 767.79 L1135.08 768.11 L1134.57 767.1 L1134.09 766.06 L1133.6 766.33 L1133.1 766.58 L1132.56 768.16 L1131.99 769.74 L1131.48 769.95 L1130.97 770.15 L1130.55 768.97 L1130.15 767.77 L1129.66 767.91 L1129.18 768.04 L1128.56 769.53 L1127.92 771 L1127.41 771.09 L1126.91 771.15 L1126.59 769.83 L1126.29 768.48 L1125.82 768.5 L1125.35 768.5 L1124.66 769.86 L1123.95 771.21 L1123.47 771.16 L1122.99 771.1 L1122.77 769.64 L1122.57 768.17 L1122.12 768.06 L1121.67 767.94 L1120.92 769.16 L1120.17 770.37 L1119.71 770.19 L1119.25 769.99 L1119.14 768.43 L1119.04 766.86 L1118.62 766.63 L1118.2 766.38 L1117.41 767.44 L1116.61 768.48 L1116.19 768.17 L1115.77 767.85 L1115.76 766.21 L1115.77 764.56 L1115.38 764.21 L1114.99 763.84 L1114.18 764.72 L1113.35 765.58 L1112.96 765.15 L1112.58 764.7 L1112.68 763 L1112.79 761.31 L1112.45 760.84 L1112.1 760.36 L1111.27 761.05 L1110.42 761.71 L1110.08 761.16 L1109.75 760.6 L1109.95 758.88 L1110.17 757.16 L1109.87 756.58 L1109.58 755.99 L1108.74 756.48 L1107.89 756.94 L1107.6 756.28 L1107.32 755.61 L1107.62 753.89 L1107.94 752.18 L1107.69 751.5 L1107.45 750.81 L1106.62 751.09 L1105.78 751.34 L1105.55 750.58 L1105.32 749.82 L1105.72 748.12 L1106.14 746.44 L1105.94 745.67 L1105.76 744.9 L1104.95 744.97 L1104.13 744.99 L1103.96 744.15 L1103.8 743.3 L1104.29 741.65 L1104.79 740.03 L1104.65 739.19 L1104.53 738.34 L1103.75 738.2 L1102.97 738 L1102.86 737.09 L1102.76 736.17 L1103.33 734.6 L1103.92 733.07 L1103.84 732.16 L1103.78 731.25 L1103.04 730.89 L1102.32 730.49 L1102.27 729.51 L1102.23 728.54 L1102.88 727.07 L1103.54 725.64 L1103.52 724.69 L1103.52 723.73 L1102.84 723.17 L1102.18 722.55 L1102.2 721.54 L1102.22 720.52 L1102.93 719.18 L1103.65 717.89 L1103.7 716.9 L1103.76 715.91 L1103.15 715.14 L1102.56 714.33 L1102.64 713.29 L1102.73 712.25 L1103.49 711.06 L1104.26 709.91 L1104.37 708.91 L1104.49 707.9 L1103.96 706.95 L1103.45 705.95 L1103.59 704.9 L1103.75 703.85 L1104.55 702.83 L1105.35 701.85 L1105.52 700.84 L1105.7 699.83 L1105.26 698.71 L1104.83 697.55 L1105.04 696.5 L1105.25 695.46 L1106.09 694.62 L1106.91 693.83 L1107.14 692.83 L1107.37 691.84 L1107.03 690.56 L1106.7 689.25 L1106.96 688.22 L1107.23 687.2 L1108.08 686.56 L1108.92 685.97 L1109.2 685 L1109.48 684.04 L1109.24 682.63 L1109 681.18 L1109.32 680.2 L1109.65 679.22 L1110.49 678.79 L1111.33 678.4 L1111.66 677.48 L1112 676.56 L1111.85 675.04 L1111.72 673.49 L1112.09 672.56 L1112.46 671.63 L1113.3 671.41 L1114.12 671.23 L1114.49 670.37 L1114.87 669.52 L1114.83 667.91 L1114.81 666.27 L1115.22 665.41 L1115.63 664.56 L1116.44 664.55 L1117.24 664.59 L1117.65 663.8 L1118.07 663.03 L1118.13 661.35 L1118.22 659.66 L1118.66 658.88 L1119.11 658.11 L1119.88 658.32 L1120.64 658.58 L1121.08 657.87 L1121.53 657.18 L1121.69 655.47 L1121.88 653.75 L1122.36 653.07 L1122.84 652.39 L1123.56 652.82 L1124.26 653.28 L1124.73 652.68 L1125.2 652.08 L1125.47 650.37 L1125.76 648.64 L1126.26 648.06 L1126.76 647.49 L1127.42 648.12 L1128.06 648.79 L1128.54 648.29 L1129.02 647.8 L1129.39 646.11 L1129.78 644.4 L1130.29 643.94 L1130.8 643.49 L1131.39 644.32 L1131.96 645.18 L1132.45 644.79 L1132.95 644.42 L1133.41 642.76 L1133.89 641.11 L1134.4 640.77 L1134.92 640.44 L1135.43 641.45 L1135.91 642.49 L1136.4 642.23 L1136.9 641.97 L1137.44 640.39 L1138.01 638.82 L1138.52 638.6 L1139.03 638.4 L1139.45 639.58 L1139.85 640.78 L1140.34 640.64 L1140.82 640.51 L1141.44 639.03 L1142.08 637.55 L1142.59 637.47 L1143.09 637.4 L1143.41 638.73 L1143.71 640.08 L1144.18 640.06 L1144.65 640.06 L1145.34 638.69 L1146.05 637.34 L1146.53 637.39 L1147.01 637.46 L1147.23 638.91 L1147.43 640.38 L1147.88 640.49 L1148.33 640.62 L1149.08 639.39 L1149.83 638.19 L1150.29 638.37 L1150.75 638.56 L1150.86 640.13 L1150.96 641.69 L1151.38 641.93 L1151.8 642.18 L1152.59 641.11 L1153.39 640.08 L1153.81 640.38 L1154.23 640.71 L1154.24 642.35 L1154.23 643.99 L1154.62 644.35 L1155.01 644.72 L1155.82 643.83 L1156.65 642.98 L1157.04 643.41 L1157.42 643.85 L1157.32 645.55 L1157.21 647.24 L1157.55 647.72 L1157.9 648.2 L1158.73 647.5 L1159.58 646.84 L1159.92 647.39 L1160.25 647.95 L1160.05 649.68 L1159.83 651.39 L1160.13 651.97 L1160.42 652.56 L1161.26 652.07 L1162.11 651.61 L1162.4 652.27 L1162.68 652.94 L1162.38 654.67 L1162.06 656.38 L1162.31 657.06 L1162.55 657.75 L1163.38 657.46 L1164.22 657.22 L1164.45 657.97 L1164.68 658.74 L1164.28 660.44 L1163.86 662.12 L1164.06 662.88 L1164.24 663.66 L1165.05 663.59 L1165.87 663.56 L1166.04 664.4 L1166.2 665.25 L1165.71 666.9 L1165.21 668.52 L1165.35 669.36 L1165.47 670.21 L1166.25 670.36 L1167.03 670.55 L1167.14 671.46 L1167.24 672.39 L1166.67 673.95 L1166.08 675.49 L1166.16 676.39 L1166.22 677.31 L1166.96 677.67 L1167.68 678.07 L1167.73 679.04 L1167.77 680.02 L1167.12 681.48 L1166.46 682.91 L1166.48 683.87 L1166.48 684.82 L1167.16 685.39 L1167.82 686 L1167.8 687.02 L1167.78 688.04 L1167.07 689.37 L1166.35 690.67 L1166.3 691.66 L1166.24 692.65 L1166.85 693.41 L1167.44 694.22 L1167.36 695.26 L1167.27 696.31 L1166.51 697.5 L1165.74 698.64 L1165.63 699.65 L1165.51 700.66 L1166.04 701.61 L1166.55 702.6 L1166.41 703.65 L1166.25 704.71 L1165.45 705.73 L1164.65 706.71 L1164.48 707.71 L1164.3 708.72Z" fill="none" stroke="#000" stroke-width="2.2" stroke-linejoin="round"/>
<rect x="1094.93" y="699.84" width="2.6" height="6" fill="#000" transform="rotate(6 1096.23 702.84)"/>
<path d="M1196.2 715.64 L1194.75 722.59 L1193.04 729.44 L1191.08 736.14 L1188.87 742.62 L1186.45 748.85 L1183.82 754.78 L1181.01 760.35 L1178.03 765.53 L1174.92 770.28 L1171.69 774.57 L1168.37 778.35 L1164.99 781.6 L1161.56 784.3 L1158.13 786.43 L1154.7 787.96 L1151.31 788.89 L1147.99 789.21 L1144.76 788.92 L1141.64 788.02 L1138.65 786.52 L1135.83 784.43 L1133.19 781.76 L1130.76 778.54 L1128.54 774.78 L1126.56 770.52 L1124.83 765.8 L1123.37 760.64 L1122.19 755.08 L1121.29 749.18 L1120.69 742.96 L1120.38 736.49 L1120.37 729.8 L1120.66 722.96 L1121.25 716.01 L1122.13 709 L1123.3 701.99 L1124.74 695.04 L1126.46 688.19 L1128.42 681.49 L1130.62 675.01 L1133.05 668.78 L1135.68 662.85 L1138.49 657.28 L1141.46 652.1 L1144.57 647.35 L1147.8 643.06 L1151.12 639.28 L1154.51 636.03 L1157.93 633.33 L1161.37 631.2 L1164.8 629.67 L1168.18 628.74 L1171.51 628.42 L1174.74 628.71 L1177.86 629.6 L1180.84 631.11 L1183.66 633.2 L1186.3 635.87 L1188.74 639.09 L1190.96 642.85 L1192.94 647.11 L1194.66 651.83 L1196.12 656.99 L1197.31 662.55 L1198.2 668.45 L1198.81 674.67 L1199.12 681.14 L1199.13 687.83 L1198.84 694.67 L1198.25 701.62 L1197.37 708.63Z M1189.94 714.46 L1188.74 720.23 L1187.32 725.9 L1185.69 731.44 L1183.87 736.82 L1181.86 741.97 L1179.68 746.88 L1177.35 751.5 L1174.89 755.79 L1172.31 759.72 L1169.64 763.27 L1166.89 766.4 L1164.09 769.1 L1161.25 771.33 L1158.4 773.09 L1155.57 774.36 L1152.76 775.14 L1150.01 775.4 L1147.33 775.16 L1144.75 774.42 L1142.28 773.17 L1139.94 771.44 L1137.75 769.23 L1135.74 766.56 L1133.9 763.45 L1132.26 759.92 L1130.83 756.01 L1129.62 751.73 L1128.64 747.13 L1127.9 742.24 L1127.4 737.1 L1127.14 731.73 L1127.13 726.2 L1127.37 720.53 L1127.86 714.77 L1128.59 708.97 L1129.56 703.16 L1130.76 697.4 L1132.17 691.73 L1133.8 686.19 L1135.63 680.81 L1137.64 675.65 L1139.81 670.75 L1142.14 666.13 L1144.6 661.84 L1147.18 657.9 L1149.85 654.36 L1152.6 651.22 L1155.41 648.53 L1158.24 646.29 L1161.09 644.54 L1163.93 643.26 L1166.73 642.49 L1169.49 642.23 L1172.16 642.47 L1174.75 643.21 L1177.22 644.46 L1179.55 646.19 L1181.74 648.4 L1183.76 651.07 L1185.6 654.18 L1187.23 657.71 L1188.66 661.62 L1189.87 665.89 L1190.85 670.49 L1191.6 675.39 L1192.1 680.53 L1192.36 685.89 L1192.36 691.43 L1192.12 697.1 L1191.63 702.86 L1190.9 708.66Z" fill="#fff" fill-rule="evenodd" stroke="#000" stroke-width="1.6"/>
<path d="M1198.95 716.15 L1197.5 723.11 L1195.79 729.96 L1193.83 736.65 L1191.62 743.14 L1189.2 749.37 L1186.57 755.29 L1183.76 760.87 L1180.79 766.05 L1177.67 770.8 L1174.44 775.08 L1171.13 778.86 L1167.74 782.12 L1164.32 784.82 L1160.88 786.94 L1157.45 788.47 L1154.07 789.41 L1150.74 789.73 L1147.51 789.44 L1144.39 788.54 L1141.41 787.04 L1138.58 784.94 L1135.95 782.27 L1133.51 779.05 L1131.29 775.3 L1129.31 771.04 L1127.59 766.31 L1126.13 761.15 L1124.94 755.6 L1124.04 749.69 L1123.44 743.48 L1123.13 737 L1123.12 730.32 L1123.41 723.47 L1124 716.52 L1124.88 709.52 L1126.05 702.51 L1127.5 695.55 L1129.21 688.7 L1131.17 682.01 L1133.38 675.52 L1135.8 669.29 L1138.43 663.37 L1141.24 657.79 L1144.21 652.61 L1147.33 647.86 L1150.56 643.58 L1153.87 639.8 L1157.26 636.54 L1160.68 633.84 L1164.12 631.72 L1167.55 630.18 L1170.93 629.25 L1174.26 628.93 L1177.49 629.22 L1180.61 630.12 L1183.59 631.62 L1186.42 633.72 L1189.05 636.38 L1191.49 639.61 L1193.71 643.36 L1195.69 647.62 L1197.41 652.35 L1198.87 657.51 L1200.06 663.06 L1200.96 668.97 L1201.56 675.18 L1201.87 681.66 L1201.88 688.34 L1201.59 695.18 L1201 702.14 L1200.12 709.14Z M1192.69 714.98 L1191.49 720.74 L1190.07 726.41 L1188.45 731.96 L1186.62 737.33 L1184.61 742.49 L1182.44 747.4 L1180.11 752.01 L1177.64 756.31 L1175.07 760.24 L1172.39 763.79 L1169.64 766.92 L1166.84 769.61 L1164 771.85 L1161.16 773.61 L1158.32 774.88 L1155.51 775.65 L1152.76 775.92 L1150.08 775.68 L1147.5 774.93 L1145.03 773.69 L1142.69 771.95 L1140.51 769.74 L1138.49 767.07 L1136.65 763.96 L1135.01 760.44 L1133.58 756.52 L1132.37 752.25 L1131.39 747.65 L1130.65 742.76 L1130.15 737.61 L1129.89 732.25 L1129.89 726.71 L1130.13 721.04 L1130.61 715.29 L1131.34 709.48 L1132.31 703.68 L1133.51 697.92 L1134.93 692.24 L1136.55 686.7 L1138.38 681.33 L1140.39 676.17 L1142.56 671.26 L1144.89 666.65 L1147.36 662.35 L1149.93 658.42 L1152.61 654.87 L1155.36 651.74 L1158.16 649.05 L1161 646.81 L1163.84 645.05 L1166.68 643.78 L1169.49 643.01 L1172.24 642.74 L1174.92 642.98 L1177.5 643.73 L1179.97 644.97 L1182.31 646.7 L1184.49 648.91 L1186.51 651.59 L1188.35 654.7 L1189.99 658.22 L1191.42 662.14 L1192.63 666.41 L1193.61 671.01 L1194.35 675.9 L1194.85 681.05 L1195.11 686.41 L1195.11 691.95 L1194.87 697.61 L1194.39 703.37 L1193.66 709.17Z" fill="#fff" fill-rule="evenodd" stroke="none"/>
<path d="M1198.59 716.08L1198.07 718.75L1192.61 717.3L1193.05 715.05ZM1197.7 720.52L1197.11 723.19L1191.79 721.06L1192.29 718.8ZM1196.7 724.92L1196.04 727.59L1190.88 724.79L1191.45 722.53ZM1195.6 729.28L1194.85 731.95L1189.88 728.48L1190.51 726.21ZM1194.38 733.57L1193.56 736.25L1188.79 732.11L1189.48 729.84ZM1193.07 737.78L1192.17 740.46L1187.61 735.68L1188.37 733.41ZM1191.66 741.9L1190.68 744.58L1186.35 739.16L1187.18 736.9ZM1190.16 745.93L1189.1 748.59L1185.01 742.56L1185.91 740.3ZM1188.58 749.83L1187.43 752.47L1183.6 745.84L1184.57 743.61ZM1186.91 753.61L1185.67 756.21L1182.11 749.01L1183.16 746.81ZM1185.16 757.25L1183.85 759.81L1180.57 752.05L1181.68 749.89ZM1183.34 760.74L1181.95 763.24L1178.96 754.95L1180.14 752.84ZM1181.46 764.07L1179.99 766.49L1177.3 757.71L1178.55 755.66ZM1179.52 767.22L1177.97 769.56L1175.59 760.3L1176.9 758.33ZM1177.52 770.2L1175.9 772.43L1173.84 762.73L1175.22 760.84ZM1175.48 772.98L1173.79 775.09L1172.06 764.99L1173.49 763.2ZM1173.4 775.56L1171.64 777.54L1170.24 767.06L1171.72 765.38ZM1171.28 777.93L1169.47 779.76L1168.4 768.94L1169.93 767.39ZM1169.13 780.09L1167.28 781.76L1166.54 770.63L1168.11 769.22ZM1166.97 782.02L1165.07 783.52L1164.67 772.12L1166.28 770.85ZM1164.78 783.73L1162.85 785.04L1162.8 773.4L1164.43 772.3ZM1162.6 785.2L1160.64 786.31L1160.93 774.48L1162.58 773.54ZM1160.41 786.43L1158.44 787.34L1159.06 775.35L1160.73 774.58ZM1158.23 787.42L1156.25 788.11L1157.21 776.01L1158.88 775.42ZM1156.06 788.17L1154.09 788.63L1155.38 776.45L1157.05 776.05ZM1153.91 788.66L1151.95 788.9L1153.57 776.67L1155.23 776.47ZM1151.79 788.91L1149.85 788.91L1151.8 776.69L1153.44 776.68ZM1149.7 788.91L1147.8 788.68L1150.06 776.49L1151.67 776.68ZM1147.66 788.65L1145.79 788.19L1148.36 776.07L1149.94 776.46ZM1145.65 788.15L1143.84 787.46L1146.71 775.45L1148.24 776.04ZM1143.71 787.4L1141.96 786.48L1145.11 774.63L1146.6 775.4ZM1141.82 786.4L1140.13 785.26L1143.57 773.6L1145 774.56ZM1140 785.16L1138.39 783.81L1142.09 772.37L1143.45 773.51ZM1138.24 783.68L1136.71 782.13L1140.68 770.95L1141.97 772.26ZM1136.57 781.97L1135.12 780.23L1139.33 769.33L1140.55 770.81ZM1134.97 780.03L1133.62 778.11L1138.06 767.54L1139.2 769.17ZM1133.47 777.87L1132.21 775.78L1136.87 765.57L1137.93 767.34ZM1132.05 775.49L1130.89 773.25L1135.75 763.43L1136.73 765.32ZM1130.73 772.9L1129.68 770.52L1134.72 761.12L1135.61 763.13ZM1129.51 770.11L1128.56 767.61L1133.77 758.66L1134.58 760.77ZM1128.39 767.14L1127.55 764.53L1132.92 756.05L1133.63 758.25ZM1127.38 763.98L1126.64 761.28L1132.15 753.3L1132.78 755.58ZM1126.48 760.64L1125.85 757.87L1131.48 750.41L1132.02 752.76ZM1125.7 757.15L1125.16 754.32L1130.9 747.41L1131.35 749.8ZM1125.03 753.51L1124.59 750.63L1130.42 744.29L1130.78 746.72ZM1124.47 749.72L1124.14 746.82L1130.03 741.06L1130.32 743.52ZM1124.04 745.81L1123.8 742.89L1129.75 737.74L1129.95 740.21ZM1123.73 741.79L1123.58 738.86L1129.56 734.33L1129.69 736.8ZM1123.54 737.66L1123.48 734.74L1129.48 730.84L1129.53 733.31ZM1123.47 733.44L1123.5 730.54L1129.49 727.28L1129.47 729.74ZM1123.53 729.15L1123.64 726.27L1129.61 723.67L1129.52 726.11ZM1123.71 724.8L1123.89 721.95L1129.82 720.01L1129.67 722.42ZM1124.01 720.4L1124.26 717.58L1130.14 716.31L1129.92 718.69ZM1124.43 715.96L1124.75 713.18L1130.55 712.59L1130.28 714.94ZM1124.97 711.5L1125.36 708.76L1131.07 708.85L1130.74 711.17ZM1125.63 707.03L1126.09 704.34L1131.68 705.1L1131.3 707.39ZM1126.41 702.57L1126.93 699.91L1132.39 701.36L1131.95 703.61ZM1127.3 698.14L1127.89 695.47L1133.21 697.6L1132.71 699.86ZM1128.3 693.74L1128.96 691.06L1134.12 693.87L1133.55 696.13ZM1129.4 689.38L1130.15 686.7L1135.12 690.18L1134.49 692.45ZM1130.62 685.09L1131.44 682.41L1136.21 686.55L1135.52 688.82ZM1131.93 680.88L1132.83 678.2L1137.39 682.98L1136.63 685.25ZM1133.34 676.76L1134.32 674.08L1138.65 679.49L1137.82 681.76ZM1134.84 672.73L1135.9 670.07L1139.99 676.1L1139.09 678.36ZM1136.42 668.83L1137.57 666.19L1141.4 672.82L1140.43 675.05ZM1138.09 665.05L1139.33 662.44L1142.89 669.65L1141.84 671.85ZM1139.84 661.41L1141.15 658.85L1144.43 666.61L1143.32 668.77ZM1141.66 657.92L1143.05 655.42L1146.04 663.71L1144.86 665.82ZM1143.54 654.59L1145.01 652.17L1147.7 660.95L1146.45 663ZM1145.48 651.44L1147.03 649.1L1149.41 658.36L1148.1 660.33ZM1147.48 648.46L1149.1 646.23L1151.16 655.93L1149.78 657.82ZM1149.52 645.68L1151.21 643.57L1152.94 653.67L1151.51 655.46ZM1151.6 643.1L1153.36 641.12L1154.76 651.6L1153.28 653.28ZM1153.72 640.73L1155.53 638.9L1156.6 649.72L1155.07 651.27ZM1155.87 638.57L1157.72 636.9L1158.46 648.03L1156.89 649.44ZM1158.03 636.64L1159.93 635.14L1160.33 646.54L1158.72 647.81ZM1160.22 634.93L1162.15 633.62L1162.2 645.25L1160.57 646.36ZM1162.4 633.46L1164.36 632.35L1164.07 644.18L1162.42 645.12ZM1164.59 632.23L1166.56 631.32L1165.94 643.31L1164.27 644.07ZM1166.77 631.24L1168.75 630.55L1167.79 642.65L1166.12 643.24ZM1168.94 630.49L1170.91 630.03L1169.62 642.21L1167.95 642.61ZM1171.09 630L1173.05 629.76L1171.43 641.99L1169.77 642.19ZM1173.21 629.75L1175.15 629.74L1173.2 641.97L1171.56 641.98ZM1175.3 629.75L1177.2 629.98L1174.94 642.17L1173.33 641.98ZM1177.34 630.01L1179.21 630.47L1176.64 642.58L1175.06 642.19ZM1179.35 630.51L1181.16 631.2L1178.29 643.21L1176.76 642.62ZM1181.29 631.26L1183.04 632.18L1179.89 644.03L1178.4 643.26ZM1183.18 632.26L1184.87 633.39L1181.43 645.06L1180 644.1ZM1185 633.5L1186.61 634.85L1182.91 646.29L1181.55 645.15ZM1186.76 634.98L1188.29 636.53L1184.32 647.71L1183.03 646.4ZM1188.43 636.69L1189.88 638.43L1185.67 649.32L1184.45 647.85ZM1190.03 638.63L1191.38 640.55L1186.94 651.12L1185.8 649.49ZM1191.53 640.79L1192.79 642.88L1188.13 653.09L1187.07 651.32ZM1192.95 643.17L1194.11 645.41L1189.25 655.23L1188.27 653.34ZM1194.27 645.76L1195.32 648.14L1190.28 657.54L1189.39 655.53ZM1195.49 648.55L1196.44 651.04L1191.23 660L1190.42 657.89ZM1196.61 651.52L1197.45 654.13L1192.08 662.61L1191.37 660.41ZM1197.62 654.68L1198.36 657.38L1192.85 665.36L1192.22 663.08ZM1198.52 658.02L1199.15 660.78L1193.52 668.24L1192.98 665.9ZM1199.3 661.51L1199.84 664.34L1194.1 671.25L1193.65 668.86ZM1199.97 665.15L1200.41 668.03L1194.58 674.37L1194.22 671.94ZM1200.53 668.94L1200.86 671.84L1194.97 677.6L1194.68 675.14ZM1200.96 672.85L1201.2 675.77L1195.25 680.92L1195.05 678.45ZM1201.27 676.87L1201.42 679.8L1195.44 684.33L1195.31 681.86ZM1201.46 681L1201.52 683.92L1195.52 687.82L1195.47 685.35ZM1201.53 685.21L1201.5 688.12L1195.51 691.38L1195.53 688.92ZM1201.47 689.51L1201.36 692.39L1195.39 694.99L1195.48 692.55ZM1201.29 693.86L1201.11 696.71L1195.18 698.65L1195.33 696.24ZM1200.99 698.26L1200.74 701.08L1194.86 702.34L1195.08 699.96ZM1200.57 702.7L1200.25 705.48L1194.45 706.07L1194.72 703.72ZM1200.03 707.16L1199.64 709.89L1193.93 709.81L1194.26 707.49ZM1199.37 711.63L1198.91 714.32L1193.32 713.55L1193.7 711.27Z" fill="#000" stroke="none"/>
<ellipse cx="1162.5" cy="709.33" rx="37.08" ry="81.5" transform="rotate(10.6 1162.5 709.33)" fill="none" stroke="#000" stroke-width="2.2"/>
<ellipse cx="1162.5" cy="709.33" rx="30.71" ry="67.5" transform="rotate(10.6 1162.5 709.33)" fill="none" stroke="#000" stroke-width="2.7"/>
<path d="M1190.96 730.88 L1194.81 734.24 L1190.26 747.82 L1186.62 743.83Z" fill="#fff" stroke="#000" stroke-width="1.8" stroke-linejoin="round"/>
<path d="M1193.71 731.4 L1197.56 734.76 L1193.01 748.34 L1189.38 744.34Z" fill="#fff" stroke="#000" stroke-width="1.8" stroke-linejoin="round"/>
<path d="M1176.19 764.78 L1178.05 772.34 L1171.34 781.37 L1169.79 773.4Z" fill="#fff" stroke="#000" stroke-width="1.8" stroke-linejoin="round"/>
<path d="M1178.94 765.3 L1180.81 772.85 L1174.09 781.89 L1172.54 773.91Z" fill="#fff" stroke="#000" stroke-width="1.8" stroke-linejoin="round"/>
<path d="M1157.01 783.69 L1156.39 793.41 L1149.31 795.48 L1150.27 785.66Z" fill="#fff" stroke="#000" stroke-width="1.8" stroke-linejoin="round"/>
<path d="M1159.77 784.2 L1159.15 793.93 L1152.07 796 L1153.02 786.18Z" fill="#fff" stroke="#000" stroke-width="1.8" stroke-linejoin="round"/>
<path d="M1138.57 782.53 L1135.63 791.82 L1130.08 786.37 L1133.28 777.33Z" fill="#fff" stroke="#000" stroke-width="1.8" stroke-linejoin="round"/>
<path d="M1141.32 783.04 L1138.38 792.33 L1132.83 786.88 L1136.03 777.85Z" fill="#fff" stroke="#000" stroke-width="1.8" stroke-linejoin="round"/>
<path d="M1125.8 761.62 L1121.33 767.99 L1118.8 756.47 L1123.39 750.65Z" fill="#fff" stroke="#000" stroke-width="1.8" stroke-linejoin="round"/>
<path d="M1128.55 762.13 L1124.08 768.5 L1121.55 756.99 L1126.14 751.16Z" fill="#fff" stroke="#000" stroke-width="1.8" stroke-linejoin="round"/>
<path d="M1122.13 726.56 L1117.32 728.3 L1118.49 713.81 L1123.24 712.75Z" fill="#fff" stroke="#000" stroke-width="1.8" stroke-linejoin="round"/>
<path d="M1124.88 727.07 L1120.08 728.81 L1121.24 714.32 L1125.99 713.27Z" fill="#fff" stroke="#000" stroke-width="1.8" stroke-linejoin="round"/>
<path d="M1128.53 686.75 L1124.69 683.39 L1129.24 669.8 L1132.87 673.8Z" fill="#fff" stroke="#000" stroke-width="1.8" stroke-linejoin="round"/>
<path d="M1131.29 687.26 L1127.44 683.9 L1131.99 670.32 L1135.62 674.32Z" fill="#fff" stroke="#000" stroke-width="1.8" stroke-linejoin="round"/>
<path d="M1143.31 652.85 L1141.44 645.29 L1148.16 636.25 L1149.7 644.23Z" fill="#fff" stroke="#000" stroke-width="1.8" stroke-linejoin="round"/>
<path d="M1146.06 653.36 L1144.19 645.81 L1150.91 636.77 L1152.46 644.75Z" fill="#fff" stroke="#000" stroke-width="1.8" stroke-linejoin="round"/>
<path d="M1162.48 633.94 L1163.1 624.22 L1170.18 622.15 L1169.23 631.97Z" fill="#fff" stroke="#000" stroke-width="1.8" stroke-linejoin="round"/>
<path d="M1165.23 634.46 L1165.85 624.73 L1172.93 622.66 L1171.98 632.48Z" fill="#fff" stroke="#000" stroke-width="1.8" stroke-linejoin="round"/>
<path d="M1180.93 635.1 L1183.86 625.81 L1189.41 631.26 L1186.21 640.3Z" fill="#fff" stroke="#000" stroke-width="1.8" stroke-linejoin="round"/>
<path d="M1183.68 635.62 L1186.62 626.33 L1192.17 631.78 L1188.97 640.81Z" fill="#fff" stroke="#000" stroke-width="1.8" stroke-linejoin="round"/>
<path d="M1193.7 656.01 L1198.16 649.64 L1200.69 661.16 L1196.11 666.98Z" fill="#fff" stroke="#000" stroke-width="1.8" stroke-linejoin="round"/>
<path d="M1196.45 656.53 L1200.92 650.16 L1203.45 661.67 L1198.86 667.5Z" fill="#fff" stroke="#000" stroke-width="1.8" stroke-linejoin="round"/>
<path d="M1197.37 691.07 L1202.17 689.33 L1201 703.82 L1196.26 704.88Z" fill="#fff" stroke="#000" stroke-width="1.8" stroke-linejoin="round"/>
<path d="M1200.12 691.58 L1204.92 689.85 L1203.76 704.34 L1199.01 705.39Z" fill="#fff" stroke="#000" stroke-width="1.8" stroke-linejoin="round"/>
<path d="M678.79 305.7 L687.42 303.79 L688.38 313.38 L680.7 322.98 L673.03 330.65 L663.43 332.57 L657.68 340.25 L655.76 355.6 L661.51 359.44 L654.8 365.19 L653.84 382.46 L657.68 397.82 L668.23 393.98 L673.03 382.46 L674.95 332.57Z" fill="#fff" stroke-width="2.4" stroke="#000" stroke-linejoin="round" stroke-linecap="round"/>
<path d="M664.39 332.57 L671.11 338.33 L669.19 355.6 L660.55 359.44Z" fill="#fff" stroke-width="1.4" stroke="#000" stroke-linejoin="round" stroke-linecap="round"/>
<path d="M655.76 365.19 L665.35 367.11 L666.31 390.14 L658.64 395.9Z" fill="#fff" stroke-width="1.4" stroke="#000" stroke-linejoin="round" stroke-linecap="round"/>
<path d="M669.19 332.57 L674.95 334.49 L673.99 374.79 L668.23 382.46Z" fill="#fff" stroke-width="1.6" stroke="#000" stroke-linejoin="round" stroke-linecap="round"/>
<path d="M670.73 338.33 L673.41 339.29 L672.64 370.95 L669.96 374.79Z" fill="#fff" stroke-width="1" stroke="#000" stroke-linejoin="round" stroke-linecap="round"/>
<path d="M678.4 306.66 L685.5 305.32 L684.16 316.26 L678.79 321.06Z" fill="#fff" stroke-width="1.8" stroke="#000" stroke-linejoin="round" stroke-linecap="round"/>
<path d="M657.68 341.21 L664.39 332.57" fill="none" stroke-width="1.2" stroke="#000" stroke-linejoin="round" stroke-linecap="round"/>
<path d="M654.8 365.19 L661.51 359.44 L669.19 360.4" fill="none" stroke-width="1.2" stroke="#000" stroke-linejoin="round" stroke-linecap="round"/>
<ellipse cx="707.65" cy="362.31" rx="36.81" ry="81.8" transform="rotate(10.6 707.65 362.31)" fill="#fff" stroke="#000" stroke-width="1.8"/>
<ellipse cx="710.8" cy="362.9" rx="36.81" ry="81.8" transform="rotate(10.6 710.8 362.9)" fill="#fff" stroke="#000" stroke-width="1.8"/>
<ellipse cx="711.29" cy="362.99" rx="33.75" ry="75" transform="rotate(10.6 711.29 362.99)" fill="none" stroke="#000" stroke-width="1.6"/>
<ellipse cx="711.78" cy="363.08" rx="31.05" ry="69" transform="rotate(10.6 711.78 363.08)" fill="none" stroke="#000" stroke-width="1.6"/>
<path d="M720.55 304.11 L723.5 303.87 L726.35 304.3 L729.06 305.39 L731.61 307.14 L733.96 309.51 L736.1 312.49 L737.98 316.03 L739.61 320.11 L740.94 324.67 L741.98 329.67 L742.71 335.05 L743.13 340.75 L743.21 346.7 L742.98 352.83 L742.42 359.09 L741.55 365.4 L740.37 371.69 L738.91 377.88 L737.16 383.92 L735.16 389.73 L732.93 395.24 L730.48 400.41 L727.86 405.16 L725.08 409.44 L722.18 413.21 L719.19 416.43 L716.15 419.05 L713.09 421.05 L710.04 422.42 L707.03 423.12 L704.11 423.16 L701.3 422.53 L698.63 421.24" fill="none" stroke="#000" stroke-width="1.4"/>
<path d="M722.71 305.84 L725.51 306.15 L728.18 307.11 L730.7 308.73 L733.03 310.96 L735.14 313.8 L737.01 317.21 L738.63 321.15 L739.96 325.57 L741 330.42 L741.74 335.66 L742.16 341.21 L742.26 347.02 L742.04 353.02 L741.5 359.14 L740.65 365.31 L739.5 371.45 L738.06 377.51 L736.35 383.41 L734.39 389.08 L732.19 394.46 L729.79 399.48 L727.22 404.1 L724.49 408.25 L721.65 411.89 L718.72 414.98 L715.74 417.48 L712.74 419.36 L709.76 420.6 L706.83 421.2 L703.99 421.13 L701.26 420.4" fill="none" stroke="#000" stroke-width="0.8"/>
<path d="M722.42 307.81 L725.12 308.11 L727.71 309.04 L730.14 310.6 L732.39 312.76 L734.43 315.5 L736.24 318.79 L737.79 322.6 L739.08 326.87 L740.09 331.56 L740.8 336.61 L741.2 341.98 L741.3 347.59 L741.09 353.38 L740.57 359.29 L739.75 365.25 L738.64 371.18 L737.25 377.03 L735.6 382.73 L733.7 388.21 L731.58 393.4 L729.26 398.26 L726.77 402.71 L724.14 406.72 L721.39 410.24 L718.56 413.22 L715.69 415.63 L712.79 417.45 L709.92 418.65 L707.09 419.23 L704.34 419.16 L701.71 418.46" fill="none" stroke="#000" stroke-width="0.8"/>
<path d="M722.13 309.78 L724.74 310.07 L727.23 310.97 L729.57 312.47 L731.74 314.56 L733.71 317.2 L735.46 320.38 L736.96 324.05 L738.2 328.17 L739.17 332.69 L739.86 337.57 L740.25 342.74 L740.34 348.15 L740.14 353.74 L739.64 359.44 L738.85 365.18 L737.78 370.91 L736.44 376.56 L734.84 382.05 L733.01 387.33 L730.97 392.35 L728.73 397.03 L726.33 401.33 L723.79 405.19 L721.14 408.58 L718.41 411.46 L715.64 413.79 L712.84 415.54 L710.07 416.7 L707.34 417.25 L704.69 417.19 L702.15 416.52" fill="none" stroke="#000" stroke-width="0.9"/>
<ellipse cx="723.88" cy="325.28" rx="8.4" ry="16.8" transform="rotate(10.6 723.88 325.28)" fill="#fff" stroke="#000" stroke-width="1.9"/>
<path d="M721.91 340.44 L721.19 339.92 L720.52 339.24 L719.91 338.4 L719.37 337.41 L718.91 336.29 L718.53 335.05 L718.24 333.7 L718.04 332.25 L717.93 330.73 L717.92 329.16 L717.99 327.54 L718.17 325.9 L718.43 324.26 L718.78 322.63 L719.21 321.04 L719.72 319.51 L720.31 318.04 L720.96 316.66 L721.67 315.39 L722.43 314.24 L723.23 313.21 L724.06 312.33 L724.92 311.61 L725.79 311.05 L726.66 310.65 L727.53 310.43" fill="none" stroke="#000" stroke-width="0.8"/>
<ellipse cx="690.68" cy="365.19" rx="8.4" ry="16.8" transform="rotate(10.6 690.68 365.19)" fill="#fff" stroke="#000" stroke-width="1.9"/>
<path d="M688.71 380.35 L687.99 379.84 L687.32 379.15 L686.71 378.31 L686.17 377.33 L685.71 376.21 L685.33 374.96 L685.04 373.61 L684.84 372.17 L684.73 370.65 L684.72 369.07 L684.8 367.45 L684.97 365.81 L685.23 364.17 L685.58 362.55 L686.01 360.96 L686.52 359.42 L687.11 357.96 L687.76 356.58 L688.47 355.31 L689.23 354.15 L690.03 353.13 L690.86 352.25 L691.72 351.53 L692.59 350.96 L693.46 350.57 L694.33 350.35" fill="none" stroke="#000" stroke-width="0.8"/>
<ellipse cx="713.71" cy="400.12" rx="8.4" ry="16.8" transform="rotate(10.6 713.71 400.12)" fill="#fff" stroke="#000" stroke-width="1.9"/>
<path d="M711.74 415.28 L711.02 414.76 L710.34 414.08 L709.74 413.24 L709.2 412.25 L708.74 411.13 L708.36 409.89 L708.07 408.54 L707.87 407.09 L707.76 405.57 L707.75 404 L707.82 402.38 L707.99 400.74 L708.26 399.1 L708.61 397.47 L709.04 395.88 L709.55 394.35 L710.14 392.88 L710.79 391.51 L711.5 390.23 L712.26 389.08 L713.06 388.06 L713.89 387.18 L714.75 386.45 L715.62 385.89 L716.49 385.49 L717.36 385.27" fill="none" stroke="#000" stroke-width="0.8"/>
<path d="M707.57 306.66 L715.25 303.79 L713.33 321.06 L709.49 330.65 L702.77 338.33 L697.98 322.98Z" stroke-width="1.6" stroke="#000" fill="#fff" stroke-linejoin="round" stroke-linecap="round"/>
<path d="M700.28 325.28 L703.73 334.87 L708.53 330.65" fill="none" stroke-width="0.9" stroke="#000" stroke-linejoin="round" stroke-linecap="round"/>
<path d="M696.06 385.34 L701.81 393.98 L700.28 401.66 L695.1 418.93 L689.34 407.41 L687.42 395.9Z" stroke-width="1.6" stroke="#000" fill="#fff" stroke-linejoin="round" stroke-linecap="round"/>
<path d="M689.34 395.51 L700.28 397.82" fill="none" stroke-width="0.9" stroke="#000" stroke-linejoin="round" stroke-linecap="round"/>
<path d="M735.4 347.92 L740.19 348.88 L738.66 365.19 L735.4 382.46 L730.6 382.46 L731.56 361.36Z" stroke-width="1.6" stroke="#000" fill="#fff" stroke-linejoin="round" stroke-linecap="round"/>
<path d="M684.54 355.6 L699.89 358.48" fill="none" stroke-width="0.9" stroke="#000" stroke-linejoin="round" stroke-linecap="round"/>
<path d="M684.54 369.03 L697.98 371.53" fill="none" stroke-width="0.9" stroke="#000" stroke-linejoin="round" stroke-linecap="round"/>
<path d="M723.88 318.18 L734.44 320.1" fill="none" stroke-width="0.9" stroke="#000" stroke-linejoin="round" stroke-linecap="round"/>
<path d="M707.57 407.41 L719.08 409.33" fill="none" stroke-width="0.9" stroke="#000" stroke-linejoin="round" stroke-linecap="round"/>
<ellipse cx="715.25" cy="363.27" rx="13.2" ry="24" transform="rotate(10.6 715.25 363.27)" fill="#fff" stroke="#000" stroke-width="1.2"/>
<ellipse cx="715.25" cy="363.27" rx="10.92" ry="21" transform="rotate(10.6 715.25 363.27)" fill="none" stroke="#000" stroke-width="0.8"/>
<ellipse cx="716.52" cy="363.11" rx="7.35" ry="17.5" transform="rotate(10.6 716.52 363.11)" fill="#fff" stroke="#000" stroke-width="1.6"/>
<ellipse cx="719.47" cy="363.66" rx="7.14" ry="17" transform="rotate(10.6 719.47 363.66)" fill="#fff" stroke="#000" stroke-width="2"/>
<ellipse cx="719.47" cy="363.66" rx="5.2" ry="13" transform="rotate(10.6 719.47 363.66)" fill="#fff" stroke="#000" stroke-width="2"/>
<path d="M719.64 351.17 L720.1 351.56 L720.51 352.09 L720.88 352.74 L721.2 353.52 L721.47 354.4 L721.68 355.39 L721.83 356.46 L721.92 357.61 L721.95 358.83 L721.91 360.09 L721.81 361.39 L721.65 362.7 L721.43 364.03 L721.16 365.34 L720.83 366.62 L720.45 367.87 L720.03 369.06 L719.57 370.18 L719.07 371.22 L718.54 372.17 L717.99 373.01 L717.42 373.74 L716.84 374.35 L716.26 374.82 L715.68 375.16 L715.11 375.37" fill="none" stroke="#000" stroke-width="1"/>
<ellipse cx="734.44" cy="304.74" rx="2.4" ry="4" transform="rotate(12 734.44 304.74)" fill="#000"/>
<ellipse cx="681.66" cy="363.27" rx="2.4" ry="4" transform="rotate(12 681.66 363.27)" fill="#000"/>
<ellipse cx="718.13" cy="418.93" rx="2.4" ry="4" transform="rotate(12 718.13 418.93)" fill="#000"/>
<path d="M811.66 331.3 L812.32 331.5 L812.94 331.85 L813.53 332.35 L814.06 332.98 L814.54 333.75 L814.97 334.64 L815.32 335.65 L815.61 336.75 L815.83 337.95 L815.97 339.23 L816.04 340.57 L816.03 341.96 L815.94 343.39 L815.78 344.83 L815.55 346.27 L815.24 347.7 L814.87 349.11 L814.44 350.47 L813.94 351.77 L813.39 352.99 L812.8 354.13 L812.16 355.17 L811.49 356.1 L810.8 356.91 L810.08 357.59 L809.36 358.13 L808.63 358.52 L807.91 358.77 L807.2 358.87 L806.5 358.82 L780.31 353.92 L779.65 353.72 L779.02 353.37 L778.44 352.87 L777.9 352.24 L777.42 351.47 L777 350.58 L776.64 349.58 L776.36 348.47 L776.14 347.27 L776 345.99 L775.93 344.65 L775.94 343.26 L776.02 341.84 L776.18 340.4 L776.42 338.95 L776.72 337.52 L777.1 336.12 L777.53 334.76 L778.03 333.46 L778.57 332.23 L779.17 331.09 L779.8 330.05 L780.47 329.12 L781.17 328.32 L781.88 327.64 L782.61 327.1 L783.34 326.7 L784.06 326.45 L784.77 326.35 L785.46 326.4Z" fill="#000" stroke="#000" stroke-width="2.2" stroke-linejoin="round"/>
<path d="M802.86 356.14 L802.35 355.65 L801.89 355.04 L801.48 354.31 L801.12 353.47 L800.82 352.53 L800.59 351.5 L800.42 350.39 L800.32 349.22 L800.3 348 L800.33 346.73 L800.44 345.45 L800.62 344.15 L800.86 342.86 L801.17 341.58 L801.53 340.34 L801.95 339.15 L802.42 338.02 L802.94 336.96 L803.49 335.99 L804.08 335.11 L804.7 334.35 L805.33 333.69 L805.98 333.16 L806.64 332.76 L807.29 332.49" fill="none" stroke="#fff" stroke-width="1.35"/>
<path d="M799.12 355.44 L798.61 354.95 L798.15 354.34 L797.73 353.61 L797.38 352.77 L797.08 351.83 L796.85 350.8 L796.68 349.69 L796.58 348.52 L796.55 347.3 L796.59 346.03 L796.7 344.75 L796.88 343.45 L797.12 342.16 L797.42 340.88 L797.79 339.64 L798.21 338.45 L798.68 337.32 L799.2 336.26 L799.75 335.29 L800.34 334.41 L800.96 333.64 L801.59 332.99 L802.24 332.46 L802.89 332.06 L803.55 331.79" fill="none" stroke="#fff" stroke-width="1.35"/>
<path d="M795.38 354.74 L794.87 354.25 L794.4 353.64 L793.99 352.91 L793.64 352.07 L793.34 351.13 L793.11 350.1 L792.94 348.99 L792.84 347.82 L792.81 346.6 L792.85 345.33 L792.96 344.05 L793.14 342.75 L793.38 341.45 L793.68 340.18 L794.05 338.94 L794.47 337.75 L794.94 336.62 L795.45 335.56 L796.01 334.59 L796.6 333.71 L797.21 332.94 L797.85 332.29 L798.5 331.76 L799.15 331.36 L799.8 331.09" fill="none" stroke="#fff" stroke-width="1.35"/>
<path d="M791.64 354.04 L791.13 353.55 L790.66 352.94 L790.25 352.21 L789.89 351.37 L789.6 350.43 L789.36 349.4 L789.2 348.29 L789.1 347.12 L789.07 345.9 L789.11 344.63 L789.22 343.34 L789.39 342.05 L789.64 340.75 L789.94 339.48 L790.3 338.24 L790.72 337.05 L791.2 335.92 L791.71 334.86 L792.27 333.89 L792.86 333.01 L793.47 332.24 L794.11 331.59 L794.76 331.06 L795.41 330.66 L796.06 330.39" fill="none" stroke="#fff" stroke-width="1.35"/>
<path d="M787.89 353.34 L787.38 352.85 L786.92 352.24 L786.51 351.51 L786.15 350.67 L785.86 349.73 L785.62 348.7 L785.46 347.59 L785.36 346.42 L785.33 345.2 L785.37 343.93 L785.48 342.64 L785.65 341.35 L785.89 340.05 L786.2 338.78 L786.56 337.54 L786.98 336.35 L787.45 335.22 L787.97 334.16 L788.53 333.19 L789.11 332.31 L789.73 331.54 L790.37 330.89 L791.01 330.36 L791.67 329.96 L792.32 329.69" fill="none" stroke="#fff" stroke-width="1.35"/>
<path d="M784.15 352.64 L783.64 352.15 L783.18 351.54 L782.77 350.81 L782.41 349.97 L782.11 349.03 L781.88 348 L781.71 346.89 L781.61 345.72 L781.59 344.5 L781.62 343.23 L781.73 341.94 L781.91 340.65 L782.15 339.35 L782.46 338.08 L782.82 336.84 L783.24 335.65 L783.71 334.52 L784.23 333.46 L784.78 332.49 L785.37 331.61 L785.99 330.84 L786.62 330.19 L787.27 329.66 L787.93 329.26 L788.58 328.99" fill="none" stroke="#fff" stroke-width="1.35"/>
<ellipse cx="809.08" cy="345.06" rx="6.58" ry="14" transform="rotate(10.6 809.08 345.06)" fill="#000" stroke="#000" stroke-width="2"/>
<path d="M803.98 351.17 L803.83 350.22 L803.74 349.22 L803.71 348.17 L803.74 347.09 L803.82 345.99 L803.96 344.87 L804.16 343.76 L804.42 342.66 L804.72 341.59 L805.07 340.55 L805.47 339.57 L805.9 338.65 L806.37 337.79 L806.87 337.02 L807.39 336.33 L807.94 335.74 L808.49 335.25 L809.05 334.87 L809.61 334.6 L810.17 334.45 L810.71 334.41 L811.24 334.49 L811.74 334.68 L812.21 334.99 L812.65 335.41 L813.05 335.93 L813.41 336.55 L813.72 337.27 L813.98 338.08 L814.18 338.95 L814.33 339.9 L814.42 340.9 L814.45 341.95 L814.42 343.03 L814.34 344.14 L814.2 345.25 L814 346.37 L813.74 347.46 L813.44 348.54 L813.09 349.57 L812.69 350.56 L812.26 351.48 L811.79 352.33 L811.29 353.11 L810.77 353.79" fill="none" stroke="#fff" stroke-width="1.3"/>
<path d="M811.62 339.81 L811.81 340.22 L811.98 340.69 L812.11 341.21 L812.21 341.76 L812.28 342.35 L812.31 342.98 L812.31 343.62 L812.27 344.28 L812.19 344.95 L812.08 345.62 L811.94 346.29 L811.77 346.94 L811.57 347.57 L811.34 348.17 L811.08 348.74 L810.81 349.27 L810.51 349.76 L810.2 350.19 L809.88 350.56 L809.55 350.88 L809.21 351.13 L808.87 351.31 L808.53 351.43 L808.2 351.48 L807.88 351.45 L807.58 351.36 L807.29 351.2 L807.02 350.97 L806.77 350.67 L806.54 350.31" fill="none" stroke="#fff" stroke-width="0.9"/>
<path d="M780.31 364.56 L780.98 364.76 L781.6 365.11 L782.19 365.61 L782.72 366.24 L783.2 367.01 L783.62 367.9 L783.98 368.91 L784.27 370.02 L784.48 371.21 L784.63 372.49 L784.69 373.83 L784.69 375.22 L784.6 376.65 L784.44 378.09 L784.21 379.53 L783.9 380.97 L783.53 382.37 L783.09 383.73 L782.6 385.03 L782.05 386.25 L781.46 387.39 L780.82 388.43 L780.15 389.36 L779.46 390.17 L778.74 390.85 L778.02 391.39 L777.29 391.79 L776.56 392.04 L775.85 392.14 L775.16 392.08 L749.52 387.28 L748.85 387.08 L748.23 386.73 L747.64 386.24 L747.11 385.6 L746.63 384.84 L746.21 383.95 L745.85 382.94 L745.56 381.83 L745.35 380.63 L745.2 379.36 L745.14 378.02 L745.14 376.63 L745.23 375.2 L745.39 373.76 L745.62 372.31 L745.93 370.88 L746.3 369.48 L746.74 368.12 L747.23 366.82 L747.78 365.6 L748.37 364.46 L749.01 363.42 L749.68 362.49 L750.37 361.68 L751.09 361 L751.81 360.46 L752.54 360.06 L753.27 359.81 L753.98 359.71 L754.67 359.76Z" fill="#000" stroke="#000" stroke-width="2.2" stroke-linejoin="round"/>
<path d="M771.57 389.41 L771.06 388.92 L770.6 388.31 L770.19 387.58 L769.83 386.74 L769.54 385.8 L769.3 384.77 L769.14 383.67 L769.04 382.49 L769.01 381.27 L769.05 380 L769.16 378.72 L769.33 377.42 L769.57 376.13 L769.88 374.85 L770.24 373.61 L770.66 372.42 L771.13 371.29 L771.65 370.23 L772.21 369.26 L772.8 368.39 L773.41 367.62 L774.05 366.96 L774.7 366.43 L775.35 366.03 L776 365.76" fill="none" stroke="#fff" stroke-width="1.35"/>
<path d="M767.91 388.72 L767.4 388.24 L766.94 387.63 L766.52 386.9 L766.17 386.06 L765.87 385.12 L765.64 384.09 L765.47 382.98 L765.37 381.81 L765.34 380.58 L765.38 379.32 L765.49 378.03 L765.67 376.73 L765.91 375.44 L766.22 374.17 L766.58 372.93 L767 371.74 L767.47 370.6 L767.99 369.55 L768.54 368.57 L769.13 367.7 L769.75 366.93 L770.38 366.28 L771.03 365.75 L771.69 365.34 L772.34 365.07" fill="none" stroke="#fff" stroke-width="1.35"/>
<path d="M764.25 388.04 L763.74 387.55 L763.27 386.94 L762.86 386.21 L762.5 385.37 L762.21 384.43 L761.98 383.4 L761.81 382.29 L761.71 381.12 L761.68 379.9 L761.72 378.63 L761.83 377.35 L762 376.05 L762.25 374.76 L762.55 373.48 L762.92 372.24 L763.34 371.05 L763.81 369.92 L764.32 368.86 L764.88 367.89 L765.47 367.01 L766.08 366.24 L766.72 365.59 L767.37 365.06 L768.02 364.66 L768.67 364.39" fill="none" stroke="#fff" stroke-width="1.35"/>
<path d="M760.58 387.35 L760.07 386.87 L759.61 386.25 L759.2 385.52 L758.84 384.68 L758.54 383.74 L758.31 382.72 L758.14 381.61 L758.05 380.44 L758.02 379.21 L758.06 377.95 L758.16 376.66 L758.34 375.36 L758.58 374.07 L758.89 372.8 L759.25 371.56 L759.67 370.36 L760.14 369.23 L760.66 368.18 L761.21 367.2 L761.8 366.33 L762.42 365.56 L763.06 364.91 L763.7 364.37 L764.36 363.97 L765.01 363.7" fill="none" stroke="#fff" stroke-width="1.35"/>
<path d="M756.92 386.67 L756.41 386.18 L755.95 385.57 L755.53 384.84 L755.18 384 L754.88 383.06 L754.65 382.03 L754.48 380.92 L754.38 379.75 L754.35 378.53 L754.39 377.26 L754.5 375.97 L754.68 374.68 L754.92 373.38 L755.22 372.11 L755.59 370.87 L756.01 369.68 L756.48 368.55 L757 367.49 L757.55 366.52 L758.14 365.64 L758.76 364.87 L759.39 364.22 L760.04 363.69 L760.69 363.29 L761.35 363.02" fill="none" stroke="#fff" stroke-width="1.35"/>
<path d="M753.26 385.98 L752.75 385.49 L752.28 384.88 L751.87 384.15 L751.51 383.31 L751.22 382.37 L750.98 381.34 L750.82 380.24 L750.72 379.06 L750.69 377.84 L750.73 376.58 L750.84 375.29 L751.01 373.99 L751.26 372.7 L751.56 371.42 L751.92 370.19 L752.34 368.99 L752.82 367.86 L753.33 366.8 L753.89 365.83 L754.48 364.96 L755.09 364.19 L755.73 363.53 L756.38 363 L757.03 362.6 L757.68 362.33" fill="none" stroke="#fff" stroke-width="1.35"/>
<ellipse cx="777.74" cy="378.32" rx="6.58" ry="14" transform="rotate(10.6 777.74 378.32)" fill="#000" stroke="#000" stroke-width="2"/>
<path d="M772.64 384.43 L772.49 383.49 L772.4 382.48 L772.37 381.43 L772.39 380.35 L772.48 379.25 L772.62 378.13 L772.82 377.02 L773.07 375.92 L773.38 374.85 L773.73 373.82 L774.12 372.83 L774.56 371.91 L775.03 371.05 L775.53 370.28 L776.05 369.59 L776.6 369 L777.15 368.51 L777.71 368.13 L778.27 367.86 L778.83 367.71 L779.37 367.67 L779.9 367.75 L780.4 367.94 L780.87 368.25 L781.31 368.67 L781.71 369.19 L782.07 369.82 L782.38 370.53 L782.63 371.34 L782.84 372.22 L782.99 373.16 L783.08 374.16 L783.11 375.21 L783.08 376.3 L783 377.4 L782.85 378.51 L782.66 379.63 L782.4 380.73 L782.1 381.8 L781.75 382.83 L781.35 383.82 L780.92 384.74 L780.45 385.59 L779.95 386.37 L779.42 387.06" fill="none" stroke="#fff" stroke-width="1.3"/>
<path d="M780.28 373.07 L780.47 373.48 L780.64 373.95 L780.77 374.47 L780.87 375.02 L780.94 375.62 L780.97 376.24 L780.96 376.88 L780.92 377.54 L780.85 378.21 L780.74 378.89 L780.6 379.55 L780.43 380.2 L780.22 380.83 L780 381.44 L779.74 382 L779.46 382.53 L779.17 383.02 L778.86 383.45 L778.54 383.82 L778.2 384.14 L777.87 384.39 L777.53 384.57 L777.19 384.69 L776.86 384.74 L776.54 384.71 L776.24 384.62 L775.94 384.46 L775.67 384.23 L775.42 383.93 L775.2 383.58" fill="none" stroke="#fff" stroke-width="0.9"/>
<path d="M801.42 399.1 L802.08 399.3 L802.71 399.65 L803.29 400.15 L803.83 400.78 L804.31 401.55 L804.73 402.44 L805.09 403.45 L805.38 404.56 L805.59 405.75 L805.73 407.03 L805.8 408.37 L805.79 409.76 L805.71 411.19 L805.55 412.63 L805.31 414.07 L805.01 415.51 L804.64 416.91 L804.2 418.27 L803.71 419.57 L803.16 420.79 L802.56 421.93 L801.93 422.97 L801.26 423.9 L800.56 424.71 L799.85 425.39 L799.12 425.93 L798.4 426.33 L797.67 426.58 L796.96 426.68 L796.27 426.62 L770.01 421.71 L769.35 421.51 L768.72 421.16 L768.13 420.66 L767.6 420.03 L767.12 419.26 L766.7 418.37 L766.34 417.37 L766.05 416.26 L765.84 415.06 L765.69 413.78 L765.63 412.44 L765.64 411.05 L765.72 409.63 L765.88 408.18 L766.11 406.74 L766.42 405.31 L766.79 403.9 L767.23 402.54 L767.72 401.25 L768.27 400.02 L768.86 398.88 L769.5 397.84 L770.17 396.91 L770.86 396.1 L771.58 395.43 L772.3 394.88 L773.03 394.49 L773.76 394.24 L774.47 394.14 L775.16 394.19Z" fill="#000" stroke="#000" stroke-width="2.2" stroke-linejoin="round"/>
<path d="M792.62 423.94 L792.11 423.45 L791.65 422.84 L791.23 422.11 L790.88 421.27 L790.58 420.33 L790.35 419.3 L790.18 418.19 L790.08 417.02 L790.05 415.8 L790.09 414.53 L790.2 413.25 L790.38 411.95 L790.62 410.66 L790.93 409.38 L791.29 408.14 L791.71 406.95 L792.18 405.82 L792.7 404.76 L793.25 403.79 L793.84 402.91 L794.46 402.14 L795.09 401.49 L795.74 400.96 L796.4 400.56 L797.05 400.29" fill="none" stroke="#fff" stroke-width="1.35"/>
<path d="M788.87 423.24 L788.36 422.75 L787.89 422.14 L787.48 421.41 L787.13 420.57 L786.83 419.63 L786.6 418.6 L786.43 417.49 L786.33 416.32 L786.3 415.09 L786.34 413.83 L786.45 412.54 L786.63 411.25 L786.87 409.95 L787.17 408.68 L787.54 407.44 L787.96 406.25 L788.43 405.12 L788.94 404.06 L789.5 403.09 L790.09 402.21 L790.71 401.44 L791.34 400.79 L791.99 400.26 L792.64 399.85 L793.3 399.58" fill="none" stroke="#fff" stroke-width="1.35"/>
<path d="M785.12 422.53 L784.61 422.05 L784.14 421.44 L783.73 420.71 L783.37 419.87 L783.08 418.93 L782.85 417.9 L782.68 416.79 L782.58 415.62 L782.55 414.39 L782.59 413.13 L782.7 411.84 L782.87 410.54 L783.12 409.25 L783.42 407.98 L783.79 406.74 L784.21 405.55 L784.68 404.41 L785.19 403.36 L785.75 402.38 L786.34 401.51 L786.95 400.74 L787.59 400.09 L788.24 399.56 L788.89 399.15 L789.54 398.88" fill="none" stroke="#fff" stroke-width="1.35"/>
<path d="M781.36 421.83 L780.85 421.35 L780.39 420.73 L779.98 420 L779.62 419.16 L779.33 418.22 L779.09 417.19 L778.93 416.09 L778.83 414.92 L778.8 413.69 L778.84 412.43 L778.95 411.14 L779.12 409.84 L779.36 408.55 L779.67 407.28 L780.03 406.04 L780.45 404.84 L780.92 403.71 L781.44 402.65 L782 401.68 L782.59 400.81 L783.2 400.04 L783.84 399.38 L784.49 398.85 L785.14 398.45 L785.79 398.18" fill="none" stroke="#fff" stroke-width="1.35"/>
<path d="M777.61 421.13 L777.1 420.64 L776.64 420.03 L776.23 419.3 L775.87 418.46 L775.57 417.52 L775.34 416.49 L775.17 415.39 L775.08 414.21 L775.05 412.99 L775.09 411.72 L775.19 410.44 L775.37 409.14 L775.61 407.85 L775.92 406.57 L776.28 405.33 L776.7 404.14 L777.17 403.01 L777.69 401.95 L778.24 400.98 L778.83 400.11 L779.45 399.34 L780.09 398.68 L780.73 398.15 L781.39 397.75 L782.04 397.48" fill="none" stroke="#fff" stroke-width="1.35"/>
<path d="M773.86 420.43 L773.35 419.94 L772.89 419.33 L772.47 418.6 L772.12 417.76 L771.82 416.82 L771.59 415.79 L771.42 414.68 L771.32 413.51 L771.29 412.29 L771.33 411.02 L771.44 409.73 L771.62 408.44 L771.86 407.14 L772.17 405.87 L772.53 404.63 L772.95 403.44 L773.42 402.31 L773.94 401.25 L774.49 400.28 L775.08 399.4 L775.7 398.63 L776.33 397.98 L776.98 397.45 L777.64 397.05 L778.29 396.78" fill="none" stroke="#fff" stroke-width="1.35"/>
<ellipse cx="798.85" cy="412.86" rx="6.58" ry="14" transform="rotate(10.6 798.85 412.86)" fill="#000" stroke="#000" stroke-width="2"/>
<path d="M793.75 418.97 L793.6 418.03 L793.51 417.02 L793.48 415.97 L793.5 414.89 L793.59 413.79 L793.73 412.67 L793.93 411.56 L794.18 410.46 L794.49 409.39 L794.84 408.36 L795.23 407.37 L795.67 406.45 L796.14 405.59 L796.64 404.82 L797.16 404.13 L797.7 403.54 L798.26 403.05 L798.82 402.67 L799.38 402.4 L799.94 402.25 L800.48 402.21 L801.01 402.29 L801.51 402.48 L801.98 402.79 L802.42 403.21 L802.82 403.73 L803.17 404.36 L803.48 405.07 L803.74 405.88 L803.95 406.76 L804.09 407.7 L804.18 408.7 L804.22 409.75 L804.19 410.84 L804.1 411.94 L803.96 413.05 L803.76 414.17 L803.51 415.27 L803.21 416.34 L802.86 417.37 L802.46 418.36 L802.02 419.28 L801.55 420.14 L801.06 420.91 L800.53 421.6" fill="none" stroke="#fff" stroke-width="1.3"/>
<path d="M801.38 407.61 L801.58 408.03 L801.74 408.49 L801.88 409.01 L801.98 409.56 L802.04 410.16 L802.08 410.78 L802.07 411.42 L802.03 412.08 L801.96 412.75 L801.85 413.43 L801.71 414.09 L801.53 414.74 L801.33 415.37 L801.1 415.98 L800.85 416.54 L800.57 417.07 L800.28 417.56 L799.97 417.99 L799.64 418.36 L799.31 418.68 L798.98 418.93 L798.64 419.11 L798.3 419.23 L797.97 419.28 L797.65 419.25 L797.34 419.16 L797.05 419 L796.78 418.77 L796.53 418.47 L796.31 418.12" fill="none" stroke="#fff" stroke-width="0.9"/>
<path d="M894.76 345.66C899.75 344 897.9 343.12 901.69 344.28C905.48 345.43 904.18 343.58 906.12 349.13C908.06 354.67 907.74 353.28 907.51 360.91C907.28 368.53 905.71 362.76 905.43 372C905.15 381.24 907 376.62 906.68 388.63C906.35 400.64 906.95 396.02 904.46 408.03C901.96 420.04 902.33 414.5 899.19 424.66C896.05 434.83 898.73 431.32 895.03 438.52C891.34 445.73 892.72 444.35 888.1 446.29C883.48 448.23 885.1 446.47 881.17 444.35C877.25 442.22 880.02 441.85 876.32 439.91C872.63 437.97 874.01 441.3 870.09 438.52C866.16 435.75 867.55 438.06 864.54 431.59C861.54 425.13 862.09 425.13 861.08 419.12C860.06 413.11 862.65 417.27 861.49 413.58C860.34 409.88 859.65 412.65 857.61 408.03C855.58 403.41 855.49 406.18 855.4 399.72C855.3 393.25 855.3 394.63 857.34 388.63C859.37 382.62 858.63 385.86 861.49 381.7C864.36 377.54 862.6 382.16 865.93 376.15C869.26 370.15 867.31 370.98 871.47 363.68C875.63 356.38 873.32 359.06 878.4 354.26C883.48 349.45 881.27 352.13 886.72 349.27C892.17 346.4 889.77 347.33 894.76 345.66Z" fill="#fff" stroke="#000" stroke-width="1.7"/>
<path d="M896.28 345.25C901.27 343.58 899.42 342.71 903.21 343.86C907 345.02 905.71 343.17 907.65 348.71C909.59 354.26 909.26 352.87 909.03 360.49C908.8 368.12 907.23 362.34 906.95 371.58C906.68 380.82 908.53 376.2 908.2 388.21C907.88 400.22 908.48 395.6 905.98 407.62C903.49 419.63 903.86 414.08 900.72 424.25C897.58 434.41 900.26 430.9 896.56 438.11C892.86 445.32 894.25 443.93 889.63 445.87C885.01 447.81 886.63 446.05 882.7 443.93C878.77 441.8 881.54 441.43 877.85 439.49C874.15 437.55 875.54 440.88 871.61 438.11C867.68 435.34 869.07 437.65 866.07 431.18C863.06 424.71 863.62 424.71 862.6 418.7C861.59 412.7 864.17 416.86 863.02 413.16C861.86 409.46 861.17 412.24 859.14 407.62C857.1 403 857.01 405.77 856.92 399.3C856.83 392.83 856.83 394.22 858.86 388.21C860.89 382.21 860.15 385.44 863.02 381.28C865.88 377.12 864.13 381.74 867.45 375.74C870.78 369.73 868.84 370.56 873 363.26C877.16 355.96 874.85 358.64 879.93 353.84C885.01 349.03 882.79 351.71 888.24 348.85C893.69 345.99 891.29 346.91 896.28 345.25Z" fill="#fff" stroke="#000" stroke-width="2"/>
<ellipse cx="886.58" cy="395.14" rx="11.01" ry="25.6" transform="rotate(10.6 886.58 395.14)" fill="#fff" stroke="#000" stroke-width="1.7"/>
<path d="M890.31 370.5 L891.35 371.07 L892.32 371.91 L893.2 373.01 L893.99 374.35 L894.68 375.91 L895.25 377.69 L895.71 379.67 L896.04 381.81 L896.25 384.1 L896.33 386.51 L896.29 389.01 L896.11 391.58 L895.8 394.18 L895.38 396.79 L894.83 399.38 L894.17 401.91 L893.41 404.37 L892.55 406.72 L891.6 408.94 L890.58 410.99 L889.49 412.87 L888.35 414.54 L887.17 416 L885.97 417.21 L884.75 418.17 L883.53 418.88 L882.33 419.31 L881.15 419.46" fill="none" stroke="#000" stroke-width="1.1"/>
<ellipse cx="899.75" cy="359.8" rx="4.89" ry="10.4" transform="rotate(10.6 899.75 359.8)" fill="#fff" stroke="#000" stroke-width="1.9"/>
<ellipse cx="899.75" cy="359.8" rx="2.93" ry="6.5" transform="rotate(10.6 899.75 359.8)" fill="#fff" stroke="#000" stroke-width="1"/>
<ellipse cx="899.75" cy="359.8" rx="1.8" ry="3.6" transform="rotate(10.6 899.75 359.8)" fill="#fff" stroke="#000" stroke-width="1.3"/>
<ellipse cx="867.87" cy="395.14" rx="4.89" ry="10.4" transform="rotate(10.6 867.87 395.14)" fill="#fff" stroke="#000" stroke-width="1.9"/>
<ellipse cx="867.87" cy="395.14" rx="2.93" ry="6.5" transform="rotate(10.6 867.87 395.14)" fill="#fff" stroke="#000" stroke-width="1"/>
<ellipse cx="867.87" cy="395.14" rx="1.8" ry="3.6" transform="rotate(10.6 867.87 395.14)" fill="#fff" stroke="#000" stroke-width="1.3"/>
<ellipse cx="889.35" cy="429.1" rx="4.89" ry="10.4" transform="rotate(10.6 889.35 429.1)" fill="#fff" stroke="#000" stroke-width="1.9"/>
<ellipse cx="889.35" cy="429.1" rx="2.93" ry="6.5" transform="rotate(10.6 889.35 429.1)" fill="#fff" stroke="#000" stroke-width="1"/>
<ellipse cx="889.35" cy="429.1" rx="1.8" ry="3.6" transform="rotate(10.6 889.35 429.1)" fill="#fff" stroke="#000" stroke-width="1.3"/>
<path d="M1041.86 383.8 L1041.99 383.85 L1042.1 383.94 L1042.21 384.08 L1042.3 384.25 L1042.38 384.47 L1042.44 384.73 L1042.49 385.02 L1042.53 385.34 L1042.55 385.69 L1042.55 386.07 L1042.54 386.46 L1042.51 386.87 L1042.46 387.3 L1042.4 387.73 L1042.33 388.16 L1042.24 388.59 L1042.14 389.02 L1042.03 389.43 L1041.91 389.82 L1041.78 390.2 L1041.64 390.54 L1041.49 390.86 L1041.34 391.15 L1041.19 391.41 L1041.04 391.62 L1040.89 391.8 L1040.74 391.93 L1040.59 392.02 L1040.45 392.06 L1040.32 392.06 L1000.51 384.61 L1000.32 384.55 L1000.14 384.45 L999.97 384.3 L999.82 384.11 L999.68 383.88 L999.56 383.62 L999.46 383.32 L999.38 382.98 L999.32 382.63 L999.29 382.24 L999.27 381.84 L999.28 381.43 L999.3 381 L999.35 380.57 L999.42 380.13 L999.51 379.7 L999.62 379.28 L999.75 378.87 L999.9 378.48 L1000.06 378.11 L1000.23 377.77 L1000.42 377.46 L1000.61 377.18 L1000.81 376.94 L1001.02 376.73 L1001.23 376.57 L1001.44 376.45 L1001.65 376.37 L1001.85 376.34 L1002.05 376.35Z" fill="#fff" stroke="#000" stroke-width="2.2" stroke-linejoin="round"/>
<ellipse cx="1040.11" cy="387.75" rx="3.46" ry="9.6" transform="rotate(10.6 1040.11 387.75)" fill="#000" stroke="#000" stroke-width="1.6"/>
<ellipse cx="1042.07" cy="388.11" rx="3.46" ry="9.6" transform="rotate(10.6 1042.07 388.11)" fill="#fff" stroke="#000" stroke-width="1.8"/>
<path d="M1045.72 392.97 L1042.04 396.45 L1039.86 391.87 L1041.37 383.81 L1045.06 380.33 L1047.23 384.91Z" fill="#fff" stroke="#000" stroke-width="1.5" stroke-linejoin="round"/>
<path d="M1042.04 396.45 L1039.86 391.87 L1046.45 393.1 L1048.62 397.68Z" fill="#fff" stroke="#000" stroke-width="1.5" stroke-linejoin="round"/>
<path d="M1039.86 391.87 L1041.37 383.81 L1047.96 385.04 L1046.45 393.1Z" fill="#fff" stroke="#000" stroke-width="1.5" stroke-linejoin="round"/>
<path d="M1041.37 383.81 L1045.06 380.33 L1051.64 381.56 L1047.96 385.04Z" fill="#fff" stroke="#000" stroke-width="1.5" stroke-linejoin="round"/>
<path d="M1045.06 380.33 L1047.23 384.91 L1053.82 386.14 L1051.64 381.56Z" fill="#fff" stroke="#000" stroke-width="1.5" stroke-linejoin="round"/>
<path d="M1052.31 394.2 L1048.62 397.68 L1046.45 393.1 L1047.96 385.04 L1051.64 381.56 L1053.82 386.14Z" fill="#fff" stroke="#000" stroke-width="1.8" stroke-linejoin="round"/>
<path d="M1009.73 418.98 L1009.85 419.03 L1009.97 419.12 L1010.07 419.26 L1010.17 419.44 L1010.24 419.65 L1010.31 419.91 L1010.36 420.2 L1010.39 420.52 L1010.41 420.87 L1010.42 421.25 L1010.4 421.65 L1010.37 422.06 L1010.33 422.48 L1010.27 422.91 L1010.19 423.34 L1010.11 423.77 L1010.01 424.2 L1009.9 424.61 L1009.77 425 L1009.64 425.38 L1009.5 425.73 L1009.36 426.05 L1009.21 426.34 L1009.06 426.59 L1008.91 426.8 L1008.75 426.98 L1008.6 427.11 L1008.46 427.2 L1008.32 427.24 L1008.18 427.24 L968.37 419.79 L968.18 419.73 L968.01 419.63 L967.84 419.48 L967.69 419.29 L967.55 419.06 L967.43 418.8 L967.33 418.5 L967.25 418.17 L967.19 417.81 L967.15 417.43 L967.14 417.02 L967.14 416.61 L967.17 416.18 L967.22 415.75 L967.29 415.31 L967.38 414.89 L967.49 414.46 L967.62 414.06 L967.76 413.67 L967.92 413.3 L968.1 412.95 L968.28 412.64 L968.48 412.36 L968.68 412.12 L968.89 411.91 L969.1 411.75 L969.31 411.63 L969.52 411.55 L969.72 411.52 L969.92 411.53Z" fill="#fff" stroke="#000" stroke-width="2.2" stroke-linejoin="round"/>
<ellipse cx="1007.97" cy="422.93" rx="3.46" ry="9.6" transform="rotate(10.6 1007.97 422.93)" fill="#000" stroke="#000" stroke-width="1.6"/>
<ellipse cx="1009.94" cy="423.3" rx="3.46" ry="9.6" transform="rotate(10.6 1009.94 423.3)" fill="#fff" stroke="#000" stroke-width="1.8"/>
<path d="M1013.59 428.15 L1009.91 431.63 L1007.73 427.05 L1009.24 418.99 L1012.92 415.51 L1015.1 420.09Z" fill="#fff" stroke="#000" stroke-width="1.5" stroke-linejoin="round"/>
<path d="M1009.91 431.63 L1007.73 427.05 L1014.31 428.29 L1016.49 432.87Z" fill="#fff" stroke="#000" stroke-width="1.5" stroke-linejoin="round"/>
<path d="M1007.73 427.05 L1009.24 418.99 L1015.82 420.23 L1014.31 428.29Z" fill="#fff" stroke="#000" stroke-width="1.5" stroke-linejoin="round"/>
<path d="M1009.24 418.99 L1012.92 415.51 L1019.51 416.74 L1015.82 420.23Z" fill="#fff" stroke="#000" stroke-width="1.5" stroke-linejoin="round"/>
<path d="M1012.92 415.51 L1015.1 420.09 L1021.69 421.32 L1019.51 416.74Z" fill="#fff" stroke="#000" stroke-width="1.5" stroke-linejoin="round"/>
<path d="M1020.18 429.38 L1016.49 432.87 L1014.31 428.29 L1015.82 420.23 L1019.51 416.74 L1021.69 421.32Z" fill="#fff" stroke="#000" stroke-width="1.8" stroke-linejoin="round"/>
<path d="M1031.66 452.17 L1031.78 452.22 L1031.9 452.31 L1032 452.45 L1032.1 452.62 L1032.17 452.84 L1032.24 453.1 L1032.29 453.39 L1032.32 453.71 L1032.34 454.06 L1032.35 454.44 L1032.33 454.83 L1032.3 455.25 L1032.26 455.67 L1032.2 456.1 L1032.13 456.53 L1032.04 456.96 L1031.94 457.39 L1031.83 457.8 L1031.7 458.19 L1031.57 458.57 L1031.43 458.92 L1031.29 459.24 L1031.14 459.52 L1030.99 459.78 L1030.84 459.99 L1030.68 460.17 L1030.53 460.3 L1030.39 460.39 L1030.25 460.43 L1030.11 460.43 L990.31 452.98 L990.12 452.92 L989.94 452.82 L989.77 452.67 L989.62 452.48 L989.48 452.25 L989.36 451.99 L989.26 451.69 L989.18 451.36 L989.12 451 L989.08 450.61 L989.07 450.21 L989.07 449.8 L989.1 449.37 L989.15 448.94 L989.22 448.5 L989.31 448.07 L989.42 447.65 L989.55 447.24 L989.69 446.85 L989.86 446.49 L990.03 446.14 L990.21 445.83 L990.41 445.55 L990.61 445.31 L990.82 445.1 L991.03 444.94 L991.24 444.82 L991.45 444.74 L991.65 444.71 L991.85 444.72Z" fill="#fff" stroke="#000" stroke-width="2.2" stroke-linejoin="round"/>
<ellipse cx="1029.9" cy="456.12" rx="3.46" ry="9.6" transform="rotate(10.6 1029.9 456.12)" fill="#000" stroke="#000" stroke-width="1.6"/>
<ellipse cx="1031.87" cy="456.49" rx="3.46" ry="9.6" transform="rotate(10.6 1031.87 456.49)" fill="#fff" stroke="#000" stroke-width="1.8"/>
<path d="M1035.52 461.34 L1031.84 464.82 L1029.66 460.24 L1031.17 452.18 L1034.85 448.7 L1037.03 453.28Z" fill="#fff" stroke="#000" stroke-width="1.5" stroke-linejoin="round"/>
<path d="M1031.84 464.82 L1029.66 460.24 L1036.24 461.48 L1038.42 466.05Z" fill="#fff" stroke="#000" stroke-width="1.5" stroke-linejoin="round"/>
<path d="M1029.66 460.24 L1031.17 452.18 L1037.75 453.41 L1036.24 461.48Z" fill="#fff" stroke="#000" stroke-width="1.5" stroke-linejoin="round"/>
<path d="M1031.17 452.18 L1034.85 448.7 L1041.44 449.93 L1037.75 453.41Z" fill="#fff" stroke="#000" stroke-width="1.5" stroke-linejoin="round"/>
<path d="M1034.85 448.7 L1037.03 453.28 L1043.62 454.51 L1041.44 449.93Z" fill="#fff" stroke="#000" stroke-width="1.5" stroke-linejoin="round"/>
<path d="M1042.11 462.57 L1038.42 466.05 L1036.24 461.48 L1037.75 453.41 L1041.44 449.93 L1043.62 454.51Z" fill="#fff" stroke="#000" stroke-width="1.8" stroke-linejoin="round"/>
<clipPath id="cvis"><rect x="296" y="500" width="45" height="100"/><rect x="409" y="540" width="29" height="60"/><rect x="624" y="600" width="45" height="60"/><rect x="868" y="370" width="20" height="50"/><rect x="212" y="500" width="20" height="60"/><rect x="1120" y="680" width="80" height="50"/><rect x="108" y="490" width="11" height="50"/></clipPath>
<g clip-path="url(#cvis)"><path d="M107 511 L1226.5 723 L1215.5 671 L1176.6 599.3 L613.5 469 L638.6 346 L890 396" fill="none" stroke="#000" stroke-width="0.8" stroke-dasharray="48 4 3 4"/></g>
<text transform="translate(309.5 216.5) scale(0.66 1)" font-size="23.04" font-weight="bold" text-anchor="middle">7</text>
<line x1="324" y1="207.4" x2="350" y2="207.4" stroke="#000" stroke-width="1.1"/>
<text transform="translate(299.8 263.1) scale(0.66 1)" font-size="23.04" font-weight="bold" text-anchor="middle">8</text>
<line x1="315.2" y1="253" x2="340.8" y2="253" stroke="#000" stroke-width="1.1"/>
<text transform="translate(294.8 287.8) scale(0.66 1)" font-size="23.04" font-weight="bold" text-anchor="middle">9</text>
<line x1="309" y1="279.5" x2="336" y2="279.5" stroke="#000" stroke-width="1.1"/>
<text transform="translate(489.3 376.5) scale(0.66 1)" font-size="23.04" font-weight="bold" text-anchor="middle">5</text>
<line x1="489.3" y1="334" x2="489.3" y2="358" stroke="#000" stroke-width="1.1"/>
<text transform="translate(581 398) scale(0.66 1)" font-size="23.04" font-weight="bold" text-anchor="middle">6</text>
<line x1="578.5" y1="355.7" x2="578.5" y2="378.8" stroke="#000" stroke-width="1.1"/>
<text transform="translate(103 586.2) scale(0.66 1)" font-size="23.04" font-weight="bold" text-anchor="middle">1</text>
<line x1="103.6" y1="546" x2="103.6" y2="567" stroke="#000" stroke-width="1.1"/>
<text transform="translate(213.3 630) scale(0.95 1)" font-size="21.65" font-weight="bold" text-anchor="middle">2</text>
<line x1="213.5" y1="592" x2="213.5" y2="610.4" stroke="#000" stroke-width="1.1"/>
<text transform="translate(317.5 618.5) scale(0.66 1)" font-size="23.04" font-weight="bold" text-anchor="middle">3</text>
<line x1="317.4" y1="575.3" x2="317.4" y2="598.8" stroke="#000" stroke-width="1.1"/>
<text transform="translate(444.8 710.5) scale(0.66 1)" font-size="23.04" font-weight="bold" text-anchor="middle">10</text>
<line x1="439.8" y1="668.6" x2="439.8" y2="690.7" stroke="#000" stroke-width="1.1"/>
<text transform="translate(505.5 690) scale(0.66 1)" font-size="23.04" font-weight="bold" text-anchor="middle">11</text>
<line x1="515" y1="681.5" x2="542.8" y2="681.5" stroke="#000" stroke-width="1.1"/>
<text transform="translate(416.7 772.5) scale(0.66 1)" font-size="23.04" font-weight="bold" text-anchor="middle">4</text>
<line x1="416.5" y1="728.7" x2="416.5" y2="753.4" stroke="#000" stroke-width="1.1"/>
<text transform="translate(778.2 468.8) scale(0.66 1)" font-size="23.04" font-weight="bold" text-anchor="middle">17</text>
<line x1="778.2" y1="426.7" x2="778.2" y2="449" stroke="#000" stroke-width="1.1"/>
<text transform="translate(1013.5 502.8) scale(0.66 1)" font-size="23.04" font-weight="bold" text-anchor="middle">16</text>
<line x1="1013.8" y1="459" x2="1013.8" y2="483.7" stroke="#000" stroke-width="1.1"/>
<text transform="translate(886 791.7) scale(0.66 1)" font-size="23.04" font-weight="bold" text-anchor="middle">12</text>
<line x1="885.4" y1="749" x2="885.4" y2="773.1" stroke="#000" stroke-width="1.1"/>
<text transform="translate(910.2 784.5) scale(0.66 1)" font-size="23.04" font-weight="bold" text-anchor="middle">15</text>
<line x1="910.2" y1="747.8" x2="910.2" y2="765.5" stroke="#000" stroke-width="1.1"/>
<text transform="translate(934.8 799.8) scale(0.66 1)" font-size="23.04" font-weight="bold" text-anchor="middle">13</text>
<line x1="934.3" y1="759.2" x2="934.3" y2="782" stroke="#000" stroke-width="1.1"/>
<text transform="translate(967.2 799.8) scale(0.66 1)" font-size="23.04" font-weight="bold" text-anchor="middle">15</text>
<line x1="965.3" y1="758.4" x2="965.3" y2="782" stroke="#000" stroke-width="1.1"/>
<text transform="translate(988.2 808.7) scale(0.66 1)" font-size="23.04" font-weight="bold" text-anchor="middle">13</text>
<line x1="986.1" y1="768" x2="986.1" y2="790.9" stroke="#000" stroke-width="1.1"/>
<text transform="translate(1014.6 808.7) scale(0.66 1)" font-size="23.04" font-weight="bold" text-anchor="middle">15</text>
<line x1="1013" y1="768" x2="1013" y2="790.9" stroke="#000" stroke-width="1.1"/>
<text transform="translate(1037 817.5) scale(0.66 1)" font-size="23.04" font-weight="bold" text-anchor="middle">13</text>
<line x1="1036.4" y1="778.2" x2="1036.4" y2="799.8" stroke="#000" stroke-width="1.1"/>
<text transform="translate(1073.2 820.1) scale(0.66 1)" font-size="23.04" font-weight="bold" text-anchor="middle">15</text>
<line x1="1072.6" y1="777" x2="1072.6" y2="801.8" stroke="#000" stroke-width="1.1"/>
<text transform="translate(1091.5 828.2) scale(0.66 1)" font-size="23.04" font-weight="bold" text-anchor="middle">12</text>
<line x1="1089.6" y1="787.9" x2="1089.6" y2="810" stroke="#000" stroke-width="1.1"/>
<text transform="translate(1132.2 832.8) scale(0.66 1)" font-size="23.04" font-weight="bold" text-anchor="middle">14</text>
<line x1="1133.5" y1="793.4" x2="1133.5" y2="815" stroke="#000" stroke-width="1.1"/>
<text transform="translate(1155 836.5) scale(0.66 1)" font-size="23.04" font-weight="bold" text-anchor="middle">12</text>
<line x1="1151.8" y1="796.5" x2="1151.8" y2="818.8" stroke="#000" stroke-width="1.1"/>
</svg>
</body></html>
